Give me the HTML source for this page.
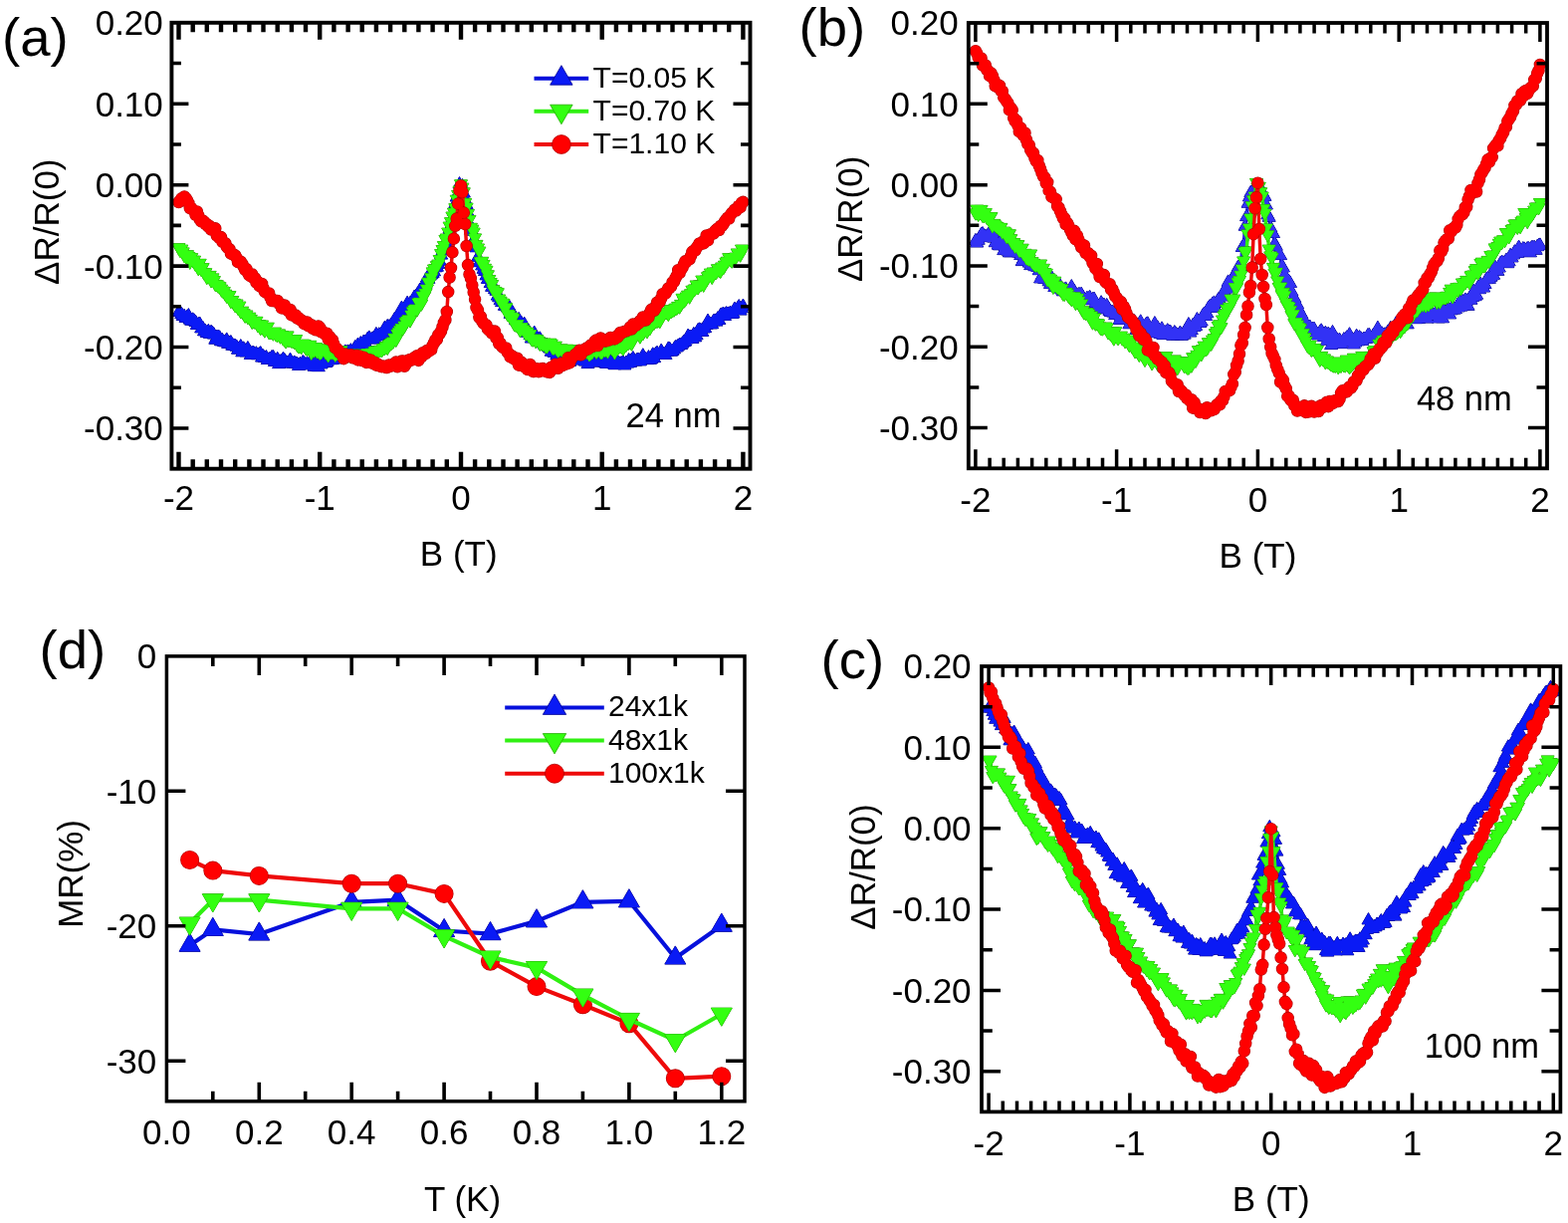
<!DOCTYPE html>
<html><head><meta charset="utf-8"><title>Figure</title><style>html,body{margin:0;padding:0;background:#fff;overflow:hidden}svg{display:block}</style></head><body>
<svg width="1575" height="1228" viewBox="0 0 1575 1228" font-family="'Liberation Sans', Arial, Helvetica, sans-serif">
<rect width="1575" height="1228" fill="#fff"/>
<path d="M179.5 313.5L180.9 313.8L182.3 315.7L183.7 317.7L185.2 317.8L186.6 319.6L188.0 318.6L189.4 317.1L190.8 321.3L192.2 322.4L193.7 321.3L195.1 322.5L196.5 323.8L197.9 326.6L199.3 325.9L200.7 325.5L202.2 330.1L203.6 329.5L205.0 333.0L206.4 332.8L207.8 334.7L209.3 332.8L210.7 335.5L212.1 333.7L213.5 334.8L214.9 336.3L216.3 341.4L217.8 338.7L219.2 338.7L220.6 339.2L222.0 343.0L223.4 341.9L224.8 343.6L226.3 344.0L227.7 341.4L229.1 345.5L230.5 344.9L231.9 344.0L233.3 347.4L234.8 347.3L236.2 347.6L237.6 348.4L239.0 351.4L240.4 349.8L241.8 348.1L243.3 354.0L244.7 350.3L246.1 352.2L247.5 354.1L248.9 350.0L250.4 352.7L251.8 356.7L253.2 354.9L254.6 354.5L256.0 356.3L257.4 355.2L258.9 357.0L260.3 356.1L261.7 355.1L263.1 359.3L264.5 358.1L265.9 359.7L267.4 359.0L268.8 361.8L270.2 361.0L271.6 360.7L273.0 359.0L274.4 358.9L275.9 363.7L277.3 363.0L278.7 360.7L280.1 365.8L281.5 363.3L283.0 362.9L284.4 360.8L285.8 362.1L287.2 364.2L288.6 364.5L290.0 364.5L291.5 361.6L292.9 365.3L294.3 365.3L295.7 364.4L297.1 365.4L298.5 365.7L300.0 367.6L301.4 365.8L302.8 366.7L304.2 364.0L305.6 365.1L307.0 366.5L308.5 365.3L309.9 367.2L311.3 364.6L312.7 366.4L314.1 365.2L315.5 368.4L317.0 365.2L318.4 368.6L319.8 368.9L321.2 365.4L322.6 366.1L324.1 363.8L325.5 359.7L326.9 364.8L328.3 364.0L329.7 362.1L331.1 361.2L332.6 361.9L334.0 361.5L335.4 359.3L336.8 359.0L338.2 361.2L339.6 358.9L341.1 358.0L342.5 359.2L343.9 356.2L345.3 357.4L346.7 353.4L348.1 354.0L349.6 353.4L351.0 353.9L352.4 352.2L353.8 354.8L355.2 352.4L356.7 349.0L358.1 352.6L359.5 346.5L360.9 350.4L362.3 345.1L363.7 347.3L365.2 343.6L366.6 344.0L368.0 346.3L369.4 340.5L370.8 339.4L372.2 341.3L373.7 340.9L375.1 339.9L376.5 340.5L377.9 335.9L379.3 338.0L380.7 336.2L382.2 336.6L383.6 335.3L385.0 335.4L386.4 329.7L387.8 331.1L389.2 327.9L390.7 328.4L392.1 328.1L393.5 325.6L394.9 324.1L396.3 321.1L397.8 319.8L399.2 317.8L400.6 318.0L402.0 315.5L403.4 309.6L404.8 312.4L406.3 311.7L407.7 307.9L409.1 304.7L410.5 308.5L411.9 304.9L413.3 304.2L414.8 304.7L416.2 298.6L417.6 298.2L419.0 296.2L420.4 295.7L421.8 291.5L423.3 291.2L424.7 288.3L426.1 287.9L427.5 286.0L428.9 279.3L430.4 280.5L431.8 277.2L433.2 275.9L434.6 274.8L436.0 273.1L437.4 269.0L438.9 268.4L440.3 265.6L441.7 262.4L443.1 256.3L444.5 252.1L445.9 247.6L447.4 245.2L448.8 242.8L450.2 234.6L451.6 230.0L453.0 226.7L454.4 219.5L455.9 212.3L457.3 204.7L458.7 198.2L460.1 194.0L461.5 185.1L463.0 187.9L464.4 187.0L465.8 194.2L467.2 200.9L468.6 205.8L470.0 213.7L471.5 224.6L472.9 231.3L474.3 232.4L475.7 241.5L477.1 245.3L478.5 249.0L480.0 258.5L481.4 263.9L482.8 263.4L484.2 267.1L485.6 270.6L487.0 272.8L488.5 277.0L489.9 280.7L491.3 280.7L492.7 284.7L494.1 288.5L495.5 287.2L497.0 290.8L498.4 292.4L499.8 297.3L501.2 299.0L502.6 301.9L504.1 303.8L505.5 303.8L506.9 307.5L508.3 307.2L509.7 309.0L511.1 307.7L512.6 315.5L514.0 313.1L515.4 316.4L516.8 317.8L518.2 321.9L519.6 321.6L521.1 320.9L522.5 323.8L523.9 324.9L525.3 327.0L526.7 325.7L528.1 329.2L529.6 334.4L531.0 333.0L532.4 336.6L533.8 340.2L535.2 336.6L536.7 334.6L538.1 338.3L539.5 341.8L540.9 342.7L542.3 340.3L543.7 343.3L545.2 344.8L546.6 346.2L548.0 347.2L549.4 347.0L550.8 348.5L552.2 350.2L553.7 353.4L555.1 351.5L556.5 354.5L557.9 352.0L559.3 356.9L560.7 355.4L562.2 355.7L563.6 358.6L565.0 353.6L566.4 354.6L567.8 358.5L569.2 356.7L570.7 357.8L572.1 363.6L573.5 358.9L574.9 359.8L576.3 359.9L577.8 362.3L579.2 361.1L580.6 361.3L582.0 359.1L583.4 360.9L584.8 361.7L586.3 359.2L587.7 363.2L589.1 363.1L590.5 365.8L591.9 359.9L593.3 361.2L594.8 361.4L596.2 362.0L597.6 363.2L599.0 363.2L600.4 364.2L601.8 364.2L603.3 363.9L604.7 361.4L606.1 363.3L607.5 364.5L608.9 365.5L610.4 365.7L611.8 361.8L613.2 363.8L614.6 364.7L616.0 365.5L617.4 366.9L618.9 365.0L620.3 363.3L621.7 365.6L623.1 365.2L624.5 365.1L625.9 364.3L627.4 367.2L628.8 364.5L630.2 365.4L631.6 362.0L633.0 364.7L634.4 362.0L635.9 360.0L637.3 363.0L638.7 363.2L640.1 361.5L641.5 361.6L642.9 363.1L644.4 360.3L645.8 357.2L647.2 361.0L648.6 360.6L650.0 361.8L651.5 359.1L652.9 361.5L654.3 360.9L655.7 356.3L657.1 359.9L658.5 355.9L660.0 354.7L661.4 356.5L662.8 355.5L664.2 352.5L665.6 355.8L667.0 356.0L668.5 356.7L669.9 353.6L671.3 350.4L672.7 350.7L674.1 353.4L675.5 352.5L677.0 351.1L678.4 349.0L679.8 349.1L681.2 347.5L682.6 346.5L684.1 346.7L685.5 345.2L686.9 343.8L688.3 343.2L689.7 341.1L691.1 337.6L692.6 338.8L694.0 338.6L695.4 340.7L696.8 335.9L698.2 339.0L699.6 337.1L701.1 332.0L702.5 331.3L703.9 331.8L705.3 333.6L706.7 330.2L708.1 329.8L709.6 326.5L711.0 322.6L712.4 325.3L713.8 326.1L715.2 325.9L716.6 323.0L718.1 322.4L719.5 323.3L720.9 320.2L722.3 321.7L723.7 316.9L725.2 316.2L726.6 315.5L728.0 317.6L729.4 315.1L730.8 315.6L732.2 315.3L733.7 314.6L735.1 315.6L736.5 315.2L737.9 310.5L739.3 311.6L740.7 310.2L742.2 308.1L743.6 312.3L745.0 309.9L746.4 307.5" stroke="#0610dc" stroke-width="3.5" fill="none" stroke-linejoin="round"/>
<path d="M179.5 306.0l6.5 11.3h-13.0zM180.9 306.3l6.5 11.3h-13.0zM182.3 308.2l6.5 11.3h-13.0zM183.7 310.2l6.5 11.3h-13.0zM185.2 310.3l6.5 11.3h-13.0zM186.6 312.1l6.5 11.3h-13.0zM188.0 311.1l6.5 11.3h-13.0zM189.4 309.6l6.5 11.3h-13.0zM190.8 313.8l6.5 11.3h-13.0zM192.2 314.9l6.5 11.3h-13.0zM193.7 313.8l6.5 11.3h-13.0zM195.1 314.9l6.5 11.3h-13.0zM196.5 316.3l6.5 11.3h-13.0zM197.9 319.1l6.5 11.3h-13.0zM199.3 318.4l6.5 11.3h-13.0zM200.7 318.0l6.5 11.3h-13.0zM202.2 322.6l6.5 11.3h-13.0zM203.6 322.0l6.5 11.3h-13.0zM205.0 325.5l6.5 11.3h-13.0zM206.4 325.3l6.5 11.3h-13.0zM207.8 327.2l6.5 11.3h-13.0zM209.3 325.3l6.5 11.3h-13.0zM210.7 328.0l6.5 11.3h-13.0zM212.1 326.2l6.5 11.3h-13.0zM213.5 327.3l6.5 11.3h-13.0zM214.9 328.8l6.5 11.3h-13.0zM216.3 333.9l6.5 11.3h-13.0zM217.8 331.2l6.5 11.3h-13.0zM219.2 331.1l6.5 11.3h-13.0zM220.6 331.7l6.5 11.3h-13.0zM222.0 335.5l6.5 11.3h-13.0zM223.4 334.4l6.5 11.3h-13.0zM224.8 336.0l6.5 11.3h-13.0zM226.3 336.5l6.5 11.3h-13.0zM227.7 333.9l6.5 11.3h-13.0zM229.1 338.0l6.5 11.3h-13.0zM230.5 337.4l6.5 11.3h-13.0zM231.9 336.5l6.5 11.3h-13.0zM233.3 339.9l6.5 11.3h-13.0zM234.8 339.8l6.5 11.3h-13.0zM236.2 340.1l6.5 11.3h-13.0zM237.6 340.9l6.5 11.3h-13.0zM239.0 343.9l6.5 11.3h-13.0zM240.4 342.3l6.5 11.3h-13.0zM241.8 340.6l6.5 11.3h-13.0zM243.3 346.5l6.5 11.3h-13.0zM244.7 342.8l6.5 11.3h-13.0zM246.1 344.7l6.5 11.3h-13.0zM247.5 346.6l6.5 11.3h-13.0zM248.9 342.5l6.5 11.3h-13.0zM250.4 345.2l6.5 11.3h-13.0zM251.8 349.2l6.5 11.3h-13.0zM253.2 347.4l6.5 11.3h-13.0zM254.6 347.0l6.5 11.3h-13.0zM256.0 348.8l6.5 11.3h-13.0zM257.4 347.7l6.5 11.3h-13.0zM258.9 349.5l6.5 11.3h-13.0zM260.3 348.6l6.5 11.3h-13.0zM261.7 347.6l6.5 11.3h-13.0zM263.1 351.8l6.5 11.3h-13.0zM264.5 350.6l6.5 11.3h-13.0zM265.9 352.2l6.5 11.3h-13.0zM267.4 351.5l6.5 11.3h-13.0zM268.8 354.2l6.5 11.3h-13.0zM270.2 353.5l6.5 11.3h-13.0zM271.6 353.2l6.5 11.3h-13.0zM273.0 351.5l6.5 11.3h-13.0zM274.4 351.4l6.5 11.3h-13.0zM275.9 356.1l6.5 11.3h-13.0zM277.3 355.5l6.5 11.3h-13.0zM278.7 353.2l6.5 11.3h-13.0zM280.1 358.3l6.5 11.3h-13.0zM281.5 355.8l6.5 11.3h-13.0zM283.0 355.4l6.5 11.3h-13.0zM284.4 353.3l6.5 11.3h-13.0zM285.8 354.6l6.5 11.3h-13.0zM287.2 356.7l6.5 11.3h-13.0zM288.6 357.0l6.5 11.3h-13.0zM290.0 357.0l6.5 11.3h-13.0zM291.5 354.1l6.5 11.3h-13.0zM292.9 357.8l6.5 11.3h-13.0zM294.3 357.8l6.5 11.3h-13.0zM295.7 356.9l6.5 11.3h-13.0zM297.1 357.9l6.5 11.3h-13.0zM298.5 358.2l6.5 11.3h-13.0zM300.0 360.1l6.5 11.3h-13.0zM301.4 358.3l6.5 11.3h-13.0zM302.8 359.2l6.5 11.3h-13.0zM304.2 356.5l6.5 11.3h-13.0zM305.6 357.6l6.5 11.3h-13.0zM307.0 359.0l6.5 11.3h-13.0zM308.5 357.8l6.5 11.3h-13.0zM309.9 359.6l6.5 11.3h-13.0zM311.3 357.1l6.5 11.3h-13.0zM312.7 358.9l6.5 11.3h-13.0zM314.1 357.7l6.5 11.3h-13.0zM315.5 360.9l6.5 11.3h-13.0zM317.0 357.7l6.5 11.3h-13.0zM318.4 361.1l6.5 11.3h-13.0zM319.8 361.4l6.5 11.3h-13.0zM321.2 357.9l6.5 11.3h-13.0zM322.6 358.6l6.5 11.3h-13.0zM324.1 356.3l6.5 11.3h-13.0zM325.5 352.2l6.5 11.3h-13.0zM326.9 357.3l6.5 11.3h-13.0zM328.3 356.5l6.5 11.3h-13.0zM329.7 354.6l6.5 11.3h-13.0zM331.1 353.7l6.5 11.3h-13.0zM332.6 354.4l6.5 11.3h-13.0zM334.0 354.0l6.5 11.3h-13.0zM335.4 351.8l6.5 11.3h-13.0zM336.8 351.5l6.5 11.3h-13.0zM338.2 353.7l6.5 11.3h-13.0zM339.6 351.4l6.5 11.3h-13.0zM341.1 350.5l6.5 11.3h-13.0zM342.5 351.7l6.5 11.3h-13.0zM343.9 348.7l6.5 11.3h-13.0zM345.3 349.9l6.5 11.3h-13.0zM346.7 345.9l6.5 11.3h-13.0zM348.1 346.5l6.5 11.3h-13.0zM349.6 345.9l6.5 11.3h-13.0zM351.0 346.4l6.5 11.3h-13.0zM352.4 344.7l6.5 11.3h-13.0zM353.8 347.3l6.5 11.3h-13.0zM355.2 344.9l6.5 11.3h-13.0zM356.7 341.5l6.5 11.3h-13.0zM358.1 345.1l6.5 11.3h-13.0zM359.5 339.0l6.5 11.3h-13.0zM360.9 342.9l6.5 11.3h-13.0zM362.3 337.6l6.5 11.3h-13.0zM363.7 339.8l6.5 11.3h-13.0zM365.2 336.1l6.5 11.3h-13.0zM366.6 336.5l6.5 11.3h-13.0zM368.0 338.7l6.5 11.3h-13.0zM369.4 333.0l6.5 11.3h-13.0zM370.8 331.9l6.5 11.3h-13.0zM372.2 333.8l6.5 11.3h-13.0zM373.7 333.4l6.5 11.3h-13.0zM375.1 332.4l6.5 11.3h-13.0zM376.5 333.0l6.5 11.3h-13.0zM377.9 328.4l6.5 11.3h-13.0zM379.3 330.5l6.5 11.3h-13.0zM380.7 328.7l6.5 11.3h-13.0zM382.2 329.0l6.5 11.3h-13.0zM383.6 327.7l6.5 11.3h-13.0zM385.0 327.9l6.5 11.3h-13.0zM386.4 322.2l6.5 11.3h-13.0zM387.8 323.6l6.5 11.3h-13.0zM389.2 320.4l6.5 11.3h-13.0zM390.7 320.8l6.5 11.3h-13.0zM392.1 320.6l6.5 11.3h-13.0zM393.5 318.1l6.5 11.3h-13.0zM394.9 316.6l6.5 11.3h-13.0zM396.3 313.6l6.5 11.3h-13.0zM397.8 312.3l6.5 11.3h-13.0zM399.2 310.3l6.5 11.3h-13.0zM400.6 310.5l6.5 11.3h-13.0zM402.0 308.0l6.5 11.3h-13.0zM403.4 302.1l6.5 11.3h-13.0zM404.8 304.9l6.5 11.3h-13.0zM406.3 304.2l6.5 11.3h-13.0zM407.7 300.4l6.5 11.3h-13.0zM409.1 297.2l6.5 11.3h-13.0zM410.5 301.0l6.5 11.3h-13.0zM411.9 297.4l6.5 11.3h-13.0zM413.3 296.7l6.5 11.3h-13.0zM414.8 297.2l6.5 11.3h-13.0zM416.2 291.1l6.5 11.3h-13.0zM417.6 290.7l6.5 11.3h-13.0zM419.0 288.7l6.5 11.3h-13.0zM420.4 288.2l6.5 11.3h-13.0zM421.8 284.0l6.5 11.3h-13.0zM423.3 283.7l6.5 11.3h-13.0zM424.7 280.8l6.5 11.3h-13.0zM426.1 280.4l6.5 11.3h-13.0zM427.5 278.5l6.5 11.3h-13.0zM428.9 271.8l6.5 11.3h-13.0zM430.4 273.0l6.5 11.3h-13.0zM431.8 269.7l6.5 11.3h-13.0zM433.2 268.4l6.5 11.3h-13.0zM434.6 267.3l6.5 11.3h-13.0zM436.0 265.5l6.5 11.3h-13.0zM437.4 261.5l6.5 11.3h-13.0zM438.9 260.9l6.5 11.3h-13.0zM440.3 258.1l6.5 11.3h-13.0zM441.7 254.9l6.5 11.3h-13.0zM443.1 248.8l6.5 11.3h-13.0zM444.5 244.6l6.5 11.3h-13.0zM445.9 240.1l6.5 11.3h-13.0zM447.4 237.7l6.5 11.3h-13.0zM448.8 235.3l6.5 11.3h-13.0zM450.2 227.1l6.5 11.3h-13.0zM451.6 222.5l6.5 11.3h-13.0zM453.0 219.2l6.5 11.3h-13.0zM454.4 212.0l6.5 11.3h-13.0zM455.9 204.8l6.5 11.3h-13.0zM457.3 197.2l6.5 11.3h-13.0zM458.7 190.7l6.5 11.3h-13.0zM460.1 186.5l6.5 11.3h-13.0zM461.5 177.6l6.5 11.3h-13.0zM463.0 180.4l6.5 11.3h-13.0zM464.4 179.5l6.5 11.3h-13.0zM465.8 186.7l6.5 11.3h-13.0zM467.2 193.4l6.5 11.3h-13.0zM468.6 198.3l6.5 11.3h-13.0zM470.0 206.2l6.5 11.3h-13.0zM471.5 217.1l6.5 11.3h-13.0zM472.9 223.8l6.5 11.3h-13.0zM474.3 224.9l6.5 11.3h-13.0zM475.7 234.0l6.5 11.3h-13.0zM477.1 237.8l6.5 11.3h-13.0zM478.5 241.5l6.5 11.3h-13.0zM480.0 251.0l6.5 11.3h-13.0zM481.4 256.4l6.5 11.3h-13.0zM482.8 255.9l6.5 11.3h-13.0zM484.2 259.6l6.5 11.3h-13.0zM485.6 263.0l6.5 11.3h-13.0zM487.0 265.3l6.5 11.3h-13.0zM488.5 269.5l6.5 11.3h-13.0zM489.9 273.1l6.5 11.3h-13.0zM491.3 273.2l6.5 11.3h-13.0zM492.7 277.2l6.5 11.3h-13.0zM494.1 281.0l6.5 11.3h-13.0zM495.5 279.7l6.5 11.3h-13.0zM497.0 283.2l6.5 11.3h-13.0zM498.4 284.9l6.5 11.3h-13.0zM499.8 289.8l6.5 11.3h-13.0zM501.2 291.5l6.5 11.3h-13.0zM502.6 294.4l6.5 11.3h-13.0zM504.1 296.3l6.5 11.3h-13.0zM505.5 296.3l6.5 11.3h-13.0zM506.9 300.0l6.5 11.3h-13.0zM508.3 299.7l6.5 11.3h-13.0zM509.7 301.5l6.5 11.3h-13.0zM511.1 300.2l6.5 11.3h-13.0zM512.6 308.0l6.5 11.3h-13.0zM514.0 305.6l6.5 11.3h-13.0zM515.4 308.9l6.5 11.3h-13.0zM516.8 310.3l6.5 11.3h-13.0zM518.2 314.4l6.5 11.3h-13.0zM519.6 314.1l6.5 11.3h-13.0zM521.1 313.4l6.5 11.3h-13.0zM522.5 316.3l6.5 11.3h-13.0zM523.9 317.4l6.5 11.3h-13.0zM525.3 319.5l6.5 11.3h-13.0zM526.7 318.2l6.5 11.3h-13.0zM528.1 321.7l6.5 11.3h-13.0zM529.6 326.9l6.5 11.3h-13.0zM531.0 325.5l6.5 11.3h-13.0zM532.4 329.1l6.5 11.3h-13.0zM533.8 332.7l6.5 11.3h-13.0zM535.2 329.1l6.5 11.3h-13.0zM536.7 327.1l6.5 11.3h-13.0zM538.1 330.8l6.5 11.3h-13.0zM539.5 334.3l6.5 11.3h-13.0zM540.9 335.2l6.5 11.3h-13.0zM542.3 332.8l6.5 11.3h-13.0zM543.7 335.8l6.5 11.3h-13.0zM545.2 337.3l6.5 11.3h-13.0zM546.6 338.7l6.5 11.3h-13.0zM548.0 339.7l6.5 11.3h-13.0zM549.4 339.5l6.5 11.3h-13.0zM550.8 341.0l6.5 11.3h-13.0zM552.2 342.7l6.5 11.3h-13.0zM553.7 345.9l6.5 11.3h-13.0zM555.1 344.0l6.5 11.3h-13.0zM556.5 347.0l6.5 11.3h-13.0zM557.9 344.5l6.5 11.3h-13.0zM559.3 349.4l6.5 11.3h-13.0zM560.7 347.9l6.5 11.3h-13.0zM562.2 348.2l6.5 11.3h-13.0zM563.6 351.1l6.5 11.3h-13.0zM565.0 346.1l6.5 11.3h-13.0zM566.4 347.1l6.5 11.3h-13.0zM567.8 351.0l6.5 11.3h-13.0zM569.2 349.2l6.5 11.3h-13.0zM570.7 350.3l6.5 11.3h-13.0zM572.1 356.1l6.5 11.3h-13.0zM573.5 351.3l6.5 11.3h-13.0zM574.9 352.3l6.5 11.3h-13.0zM576.3 352.4l6.5 11.3h-13.0zM577.8 354.8l6.5 11.3h-13.0zM579.2 353.6l6.5 11.3h-13.0zM580.6 353.8l6.5 11.3h-13.0zM582.0 351.6l6.5 11.3h-13.0zM583.4 353.4l6.5 11.3h-13.0zM584.8 354.2l6.5 11.3h-13.0zM586.3 351.7l6.5 11.3h-13.0zM587.7 355.7l6.5 11.3h-13.0zM589.1 355.5l6.5 11.3h-13.0zM590.5 358.3l6.5 11.3h-13.0zM591.9 352.4l6.5 11.3h-13.0zM593.3 353.6l6.5 11.3h-13.0zM594.8 353.9l6.5 11.3h-13.0zM596.2 354.5l6.5 11.3h-13.0zM597.6 355.7l6.5 11.3h-13.0zM599.0 355.7l6.5 11.3h-13.0zM600.4 356.6l6.5 11.3h-13.0zM601.8 356.7l6.5 11.3h-13.0zM603.3 356.4l6.5 11.3h-13.0zM604.7 353.9l6.5 11.3h-13.0zM606.1 355.8l6.5 11.3h-13.0zM607.5 357.0l6.5 11.3h-13.0zM608.9 358.0l6.5 11.3h-13.0zM610.4 358.2l6.5 11.3h-13.0zM611.8 354.3l6.5 11.3h-13.0zM613.2 356.3l6.5 11.3h-13.0zM614.6 357.2l6.5 11.3h-13.0zM616.0 358.0l6.5 11.3h-13.0zM617.4 359.4l6.5 11.3h-13.0zM618.9 357.5l6.5 11.3h-13.0zM620.3 355.8l6.5 11.3h-13.0zM621.7 358.1l6.5 11.3h-13.0zM623.1 357.7l6.5 11.3h-13.0zM624.5 357.6l6.5 11.3h-13.0zM625.9 356.8l6.5 11.3h-13.0zM627.4 359.6l6.5 11.3h-13.0zM628.8 357.0l6.5 11.3h-13.0zM630.2 357.8l6.5 11.3h-13.0zM631.6 354.5l6.5 11.3h-13.0zM633.0 357.1l6.5 11.3h-13.0zM634.4 354.4l6.5 11.3h-13.0zM635.9 352.5l6.5 11.3h-13.0zM637.3 355.5l6.5 11.3h-13.0zM638.7 355.7l6.5 11.3h-13.0zM640.1 354.0l6.5 11.3h-13.0zM641.5 354.1l6.5 11.3h-13.0zM642.9 355.6l6.5 11.3h-13.0zM644.4 352.8l6.5 11.3h-13.0zM645.8 349.7l6.5 11.3h-13.0zM647.2 353.5l6.5 11.3h-13.0zM648.6 353.1l6.5 11.3h-13.0zM650.0 354.3l6.5 11.3h-13.0zM651.5 351.6l6.5 11.3h-13.0zM652.9 354.0l6.5 11.3h-13.0zM654.3 353.4l6.5 11.3h-13.0zM655.7 348.8l6.5 11.3h-13.0zM657.1 352.3l6.5 11.3h-13.0zM658.5 348.4l6.5 11.3h-13.0zM660.0 347.2l6.5 11.3h-13.0zM661.4 349.0l6.5 11.3h-13.0zM662.8 348.0l6.5 11.3h-13.0zM664.2 345.0l6.5 11.3h-13.0zM665.6 348.3l6.5 11.3h-13.0zM667.0 348.5l6.5 11.3h-13.0zM668.5 349.2l6.5 11.3h-13.0zM669.9 346.1l6.5 11.3h-13.0zM671.3 342.9l6.5 11.3h-13.0zM672.7 343.2l6.5 11.3h-13.0zM674.1 345.9l6.5 11.3h-13.0zM675.5 345.0l6.5 11.3h-13.0zM677.0 343.6l6.5 11.3h-13.0zM678.4 341.5l6.5 11.3h-13.0zM679.8 341.6l6.5 11.3h-13.0zM681.2 340.0l6.5 11.3h-13.0zM682.6 339.0l6.5 11.3h-13.0zM684.1 339.2l6.5 11.3h-13.0zM685.5 337.7l6.5 11.3h-13.0zM686.9 336.3l6.5 11.3h-13.0zM688.3 335.7l6.5 11.3h-13.0zM689.7 333.6l6.5 11.3h-13.0zM691.1 330.1l6.5 11.3h-13.0zM692.6 331.3l6.5 11.3h-13.0zM694.0 331.1l6.5 11.3h-13.0zM695.4 333.2l6.5 11.3h-13.0zM696.8 328.4l6.5 11.3h-13.0zM698.2 331.5l6.5 11.3h-13.0zM699.6 329.5l6.5 11.3h-13.0zM701.1 324.5l6.5 11.3h-13.0zM702.5 323.8l6.5 11.3h-13.0zM703.9 324.3l6.5 11.3h-13.0zM705.3 326.1l6.5 11.3h-13.0zM706.7 322.7l6.5 11.3h-13.0zM708.1 322.3l6.5 11.3h-13.0zM709.6 319.0l6.5 11.3h-13.0zM711.0 315.1l6.5 11.3h-13.0zM712.4 317.8l6.5 11.3h-13.0zM713.8 318.6l6.5 11.3h-13.0zM715.2 318.4l6.5 11.3h-13.0zM716.6 315.5l6.5 11.3h-13.0zM718.1 314.9l6.5 11.3h-13.0zM719.5 315.8l6.5 11.3h-13.0zM720.9 312.7l6.5 11.3h-13.0zM722.3 314.2l6.5 11.3h-13.0zM723.7 309.4l6.5 11.3h-13.0zM725.2 308.7l6.5 11.3h-13.0zM726.6 308.0l6.5 11.3h-13.0zM728.0 310.1l6.5 11.3h-13.0zM729.4 307.6l6.5 11.3h-13.0zM730.8 308.1l6.5 11.3h-13.0zM732.2 307.8l6.5 11.3h-13.0zM733.7 307.1l6.5 11.3h-13.0zM735.1 308.1l6.5 11.3h-13.0zM736.5 307.7l6.5 11.3h-13.0zM737.9 303.0l6.5 11.3h-13.0zM739.3 304.1l6.5 11.3h-13.0zM740.7 302.7l6.5 11.3h-13.0zM742.2 300.6l6.5 11.3h-13.0zM743.6 304.8l6.5 11.3h-13.0zM745.0 302.4l6.5 11.3h-13.0zM746.4 300.0l6.5 11.3h-13.0z" fill="#000090" stroke="#000090" stroke-width="1.0" stroke-linejoin="miter"/>
<path d="M179.5 306.0l6.5 11.3h-13.0zM180.9 306.3l6.5 11.3h-13.0zM182.3 308.2l6.5 11.3h-13.0zM183.7 310.2l6.5 11.3h-13.0zM185.2 310.3l6.5 11.3h-13.0zM186.6 312.1l6.5 11.3h-13.0zM188.0 311.1l6.5 11.3h-13.0zM189.4 309.6l6.5 11.3h-13.0zM190.8 313.8l6.5 11.3h-13.0zM192.2 314.9l6.5 11.3h-13.0zM193.7 313.8l6.5 11.3h-13.0zM195.1 314.9l6.5 11.3h-13.0zM196.5 316.3l6.5 11.3h-13.0zM197.9 319.1l6.5 11.3h-13.0zM199.3 318.4l6.5 11.3h-13.0zM200.7 318.0l6.5 11.3h-13.0zM202.2 322.6l6.5 11.3h-13.0zM203.6 322.0l6.5 11.3h-13.0zM205.0 325.5l6.5 11.3h-13.0zM206.4 325.3l6.5 11.3h-13.0zM207.8 327.2l6.5 11.3h-13.0zM209.3 325.3l6.5 11.3h-13.0zM210.7 328.0l6.5 11.3h-13.0zM212.1 326.2l6.5 11.3h-13.0zM213.5 327.3l6.5 11.3h-13.0zM214.9 328.8l6.5 11.3h-13.0zM216.3 333.9l6.5 11.3h-13.0zM217.8 331.2l6.5 11.3h-13.0zM219.2 331.1l6.5 11.3h-13.0zM220.6 331.7l6.5 11.3h-13.0zM222.0 335.5l6.5 11.3h-13.0zM223.4 334.4l6.5 11.3h-13.0zM224.8 336.0l6.5 11.3h-13.0zM226.3 336.5l6.5 11.3h-13.0zM227.7 333.9l6.5 11.3h-13.0zM229.1 338.0l6.5 11.3h-13.0zM230.5 337.4l6.5 11.3h-13.0zM231.9 336.5l6.5 11.3h-13.0zM233.3 339.9l6.5 11.3h-13.0zM234.8 339.8l6.5 11.3h-13.0zM236.2 340.1l6.5 11.3h-13.0zM237.6 340.9l6.5 11.3h-13.0zM239.0 343.9l6.5 11.3h-13.0zM240.4 342.3l6.5 11.3h-13.0zM241.8 340.6l6.5 11.3h-13.0zM243.3 346.5l6.5 11.3h-13.0zM244.7 342.8l6.5 11.3h-13.0zM246.1 344.7l6.5 11.3h-13.0zM247.5 346.6l6.5 11.3h-13.0zM248.9 342.5l6.5 11.3h-13.0zM250.4 345.2l6.5 11.3h-13.0zM251.8 349.2l6.5 11.3h-13.0zM253.2 347.4l6.5 11.3h-13.0zM254.6 347.0l6.5 11.3h-13.0zM256.0 348.8l6.5 11.3h-13.0zM257.4 347.7l6.5 11.3h-13.0zM258.9 349.5l6.5 11.3h-13.0zM260.3 348.6l6.5 11.3h-13.0zM261.7 347.6l6.5 11.3h-13.0zM263.1 351.8l6.5 11.3h-13.0zM264.5 350.6l6.5 11.3h-13.0zM265.9 352.2l6.5 11.3h-13.0zM267.4 351.5l6.5 11.3h-13.0zM268.8 354.2l6.5 11.3h-13.0zM270.2 353.5l6.5 11.3h-13.0zM271.6 353.2l6.5 11.3h-13.0zM273.0 351.5l6.5 11.3h-13.0zM274.4 351.4l6.5 11.3h-13.0zM275.9 356.1l6.5 11.3h-13.0zM277.3 355.5l6.5 11.3h-13.0zM278.7 353.2l6.5 11.3h-13.0zM280.1 358.3l6.5 11.3h-13.0zM281.5 355.8l6.5 11.3h-13.0zM283.0 355.4l6.5 11.3h-13.0zM284.4 353.3l6.5 11.3h-13.0zM285.8 354.6l6.5 11.3h-13.0zM287.2 356.7l6.5 11.3h-13.0zM288.6 357.0l6.5 11.3h-13.0zM290.0 357.0l6.5 11.3h-13.0zM291.5 354.1l6.5 11.3h-13.0zM292.9 357.8l6.5 11.3h-13.0zM294.3 357.8l6.5 11.3h-13.0zM295.7 356.9l6.5 11.3h-13.0zM297.1 357.9l6.5 11.3h-13.0zM298.5 358.2l6.5 11.3h-13.0zM300.0 360.1l6.5 11.3h-13.0zM301.4 358.3l6.5 11.3h-13.0zM302.8 359.2l6.5 11.3h-13.0zM304.2 356.5l6.5 11.3h-13.0zM305.6 357.6l6.5 11.3h-13.0zM307.0 359.0l6.5 11.3h-13.0zM308.5 357.8l6.5 11.3h-13.0zM309.9 359.6l6.5 11.3h-13.0zM311.3 357.1l6.5 11.3h-13.0zM312.7 358.9l6.5 11.3h-13.0zM314.1 357.7l6.5 11.3h-13.0zM315.5 360.9l6.5 11.3h-13.0zM317.0 357.7l6.5 11.3h-13.0zM318.4 361.1l6.5 11.3h-13.0zM319.8 361.4l6.5 11.3h-13.0zM321.2 357.9l6.5 11.3h-13.0zM322.6 358.6l6.5 11.3h-13.0zM324.1 356.3l6.5 11.3h-13.0zM325.5 352.2l6.5 11.3h-13.0zM326.9 357.3l6.5 11.3h-13.0zM328.3 356.5l6.5 11.3h-13.0zM329.7 354.6l6.5 11.3h-13.0zM331.1 353.7l6.5 11.3h-13.0zM332.6 354.4l6.5 11.3h-13.0zM334.0 354.0l6.5 11.3h-13.0zM335.4 351.8l6.5 11.3h-13.0zM336.8 351.5l6.5 11.3h-13.0zM338.2 353.7l6.5 11.3h-13.0zM339.6 351.4l6.5 11.3h-13.0zM341.1 350.5l6.5 11.3h-13.0zM342.5 351.7l6.5 11.3h-13.0zM343.9 348.7l6.5 11.3h-13.0zM345.3 349.9l6.5 11.3h-13.0zM346.7 345.9l6.5 11.3h-13.0zM348.1 346.5l6.5 11.3h-13.0zM349.6 345.9l6.5 11.3h-13.0zM351.0 346.4l6.5 11.3h-13.0zM352.4 344.7l6.5 11.3h-13.0zM353.8 347.3l6.5 11.3h-13.0zM355.2 344.9l6.5 11.3h-13.0zM356.7 341.5l6.5 11.3h-13.0zM358.1 345.1l6.5 11.3h-13.0zM359.5 339.0l6.5 11.3h-13.0zM360.9 342.9l6.5 11.3h-13.0zM362.3 337.6l6.5 11.3h-13.0zM363.7 339.8l6.5 11.3h-13.0zM365.2 336.1l6.5 11.3h-13.0zM366.6 336.5l6.5 11.3h-13.0zM368.0 338.7l6.5 11.3h-13.0zM369.4 333.0l6.5 11.3h-13.0zM370.8 331.9l6.5 11.3h-13.0zM372.2 333.8l6.5 11.3h-13.0zM373.7 333.4l6.5 11.3h-13.0zM375.1 332.4l6.5 11.3h-13.0zM376.5 333.0l6.5 11.3h-13.0zM377.9 328.4l6.5 11.3h-13.0zM379.3 330.5l6.5 11.3h-13.0zM380.7 328.7l6.5 11.3h-13.0zM382.2 329.0l6.5 11.3h-13.0zM383.6 327.7l6.5 11.3h-13.0zM385.0 327.9l6.5 11.3h-13.0zM386.4 322.2l6.5 11.3h-13.0zM387.8 323.6l6.5 11.3h-13.0zM389.2 320.4l6.5 11.3h-13.0zM390.7 320.8l6.5 11.3h-13.0zM392.1 320.6l6.5 11.3h-13.0zM393.5 318.1l6.5 11.3h-13.0zM394.9 316.6l6.5 11.3h-13.0zM396.3 313.6l6.5 11.3h-13.0zM397.8 312.3l6.5 11.3h-13.0zM399.2 310.3l6.5 11.3h-13.0zM400.6 310.5l6.5 11.3h-13.0zM402.0 308.0l6.5 11.3h-13.0zM403.4 302.1l6.5 11.3h-13.0zM404.8 304.9l6.5 11.3h-13.0zM406.3 304.2l6.5 11.3h-13.0zM407.7 300.4l6.5 11.3h-13.0zM409.1 297.2l6.5 11.3h-13.0zM410.5 301.0l6.5 11.3h-13.0zM411.9 297.4l6.5 11.3h-13.0zM413.3 296.7l6.5 11.3h-13.0zM414.8 297.2l6.5 11.3h-13.0zM416.2 291.1l6.5 11.3h-13.0zM417.6 290.7l6.5 11.3h-13.0zM419.0 288.7l6.5 11.3h-13.0zM420.4 288.2l6.5 11.3h-13.0zM421.8 284.0l6.5 11.3h-13.0zM423.3 283.7l6.5 11.3h-13.0zM424.7 280.8l6.5 11.3h-13.0zM426.1 280.4l6.5 11.3h-13.0zM427.5 278.5l6.5 11.3h-13.0zM428.9 271.8l6.5 11.3h-13.0zM430.4 273.0l6.5 11.3h-13.0zM431.8 269.7l6.5 11.3h-13.0zM433.2 268.4l6.5 11.3h-13.0zM434.6 267.3l6.5 11.3h-13.0zM436.0 265.5l6.5 11.3h-13.0zM437.4 261.5l6.5 11.3h-13.0zM438.9 260.9l6.5 11.3h-13.0zM440.3 258.1l6.5 11.3h-13.0zM441.7 254.9l6.5 11.3h-13.0zM443.1 248.8l6.5 11.3h-13.0zM444.5 244.6l6.5 11.3h-13.0zM445.9 240.1l6.5 11.3h-13.0zM447.4 237.7l6.5 11.3h-13.0zM448.8 235.3l6.5 11.3h-13.0zM450.2 227.1l6.5 11.3h-13.0zM451.6 222.5l6.5 11.3h-13.0zM453.0 219.2l6.5 11.3h-13.0zM454.4 212.0l6.5 11.3h-13.0zM455.9 204.8l6.5 11.3h-13.0zM457.3 197.2l6.5 11.3h-13.0zM458.7 190.7l6.5 11.3h-13.0zM460.1 186.5l6.5 11.3h-13.0zM461.5 177.6l6.5 11.3h-13.0zM463.0 180.4l6.5 11.3h-13.0zM464.4 179.5l6.5 11.3h-13.0zM465.8 186.7l6.5 11.3h-13.0zM467.2 193.4l6.5 11.3h-13.0zM468.6 198.3l6.5 11.3h-13.0zM470.0 206.2l6.5 11.3h-13.0zM471.5 217.1l6.5 11.3h-13.0zM472.9 223.8l6.5 11.3h-13.0zM474.3 224.9l6.5 11.3h-13.0zM475.7 234.0l6.5 11.3h-13.0zM477.1 237.8l6.5 11.3h-13.0zM478.5 241.5l6.5 11.3h-13.0zM480.0 251.0l6.5 11.3h-13.0zM481.4 256.4l6.5 11.3h-13.0zM482.8 255.9l6.5 11.3h-13.0zM484.2 259.6l6.5 11.3h-13.0zM485.6 263.0l6.5 11.3h-13.0zM487.0 265.3l6.5 11.3h-13.0zM488.5 269.5l6.5 11.3h-13.0zM489.9 273.1l6.5 11.3h-13.0zM491.3 273.2l6.5 11.3h-13.0zM492.7 277.2l6.5 11.3h-13.0zM494.1 281.0l6.5 11.3h-13.0zM495.5 279.7l6.5 11.3h-13.0zM497.0 283.2l6.5 11.3h-13.0zM498.4 284.9l6.5 11.3h-13.0zM499.8 289.8l6.5 11.3h-13.0zM501.2 291.5l6.5 11.3h-13.0zM502.6 294.4l6.5 11.3h-13.0zM504.1 296.3l6.5 11.3h-13.0zM505.5 296.3l6.5 11.3h-13.0zM506.9 300.0l6.5 11.3h-13.0zM508.3 299.7l6.5 11.3h-13.0zM509.7 301.5l6.5 11.3h-13.0zM511.1 300.2l6.5 11.3h-13.0zM512.6 308.0l6.5 11.3h-13.0zM514.0 305.6l6.5 11.3h-13.0zM515.4 308.9l6.5 11.3h-13.0zM516.8 310.3l6.5 11.3h-13.0zM518.2 314.4l6.5 11.3h-13.0zM519.6 314.1l6.5 11.3h-13.0zM521.1 313.4l6.5 11.3h-13.0zM522.5 316.3l6.5 11.3h-13.0zM523.9 317.4l6.5 11.3h-13.0zM525.3 319.5l6.5 11.3h-13.0zM526.7 318.2l6.5 11.3h-13.0zM528.1 321.7l6.5 11.3h-13.0zM529.6 326.9l6.5 11.3h-13.0zM531.0 325.5l6.5 11.3h-13.0zM532.4 329.1l6.5 11.3h-13.0zM533.8 332.7l6.5 11.3h-13.0zM535.2 329.1l6.5 11.3h-13.0zM536.7 327.1l6.5 11.3h-13.0zM538.1 330.8l6.5 11.3h-13.0zM539.5 334.3l6.5 11.3h-13.0zM540.9 335.2l6.5 11.3h-13.0zM542.3 332.8l6.5 11.3h-13.0zM543.7 335.8l6.5 11.3h-13.0zM545.2 337.3l6.5 11.3h-13.0zM546.6 338.7l6.5 11.3h-13.0zM548.0 339.7l6.5 11.3h-13.0zM549.4 339.5l6.5 11.3h-13.0zM550.8 341.0l6.5 11.3h-13.0zM552.2 342.7l6.5 11.3h-13.0zM553.7 345.9l6.5 11.3h-13.0zM555.1 344.0l6.5 11.3h-13.0zM556.5 347.0l6.5 11.3h-13.0zM557.9 344.5l6.5 11.3h-13.0zM559.3 349.4l6.5 11.3h-13.0zM560.7 347.9l6.5 11.3h-13.0zM562.2 348.2l6.5 11.3h-13.0zM563.6 351.1l6.5 11.3h-13.0zM565.0 346.1l6.5 11.3h-13.0zM566.4 347.1l6.5 11.3h-13.0zM567.8 351.0l6.5 11.3h-13.0zM569.2 349.2l6.5 11.3h-13.0zM570.7 350.3l6.5 11.3h-13.0zM572.1 356.1l6.5 11.3h-13.0zM573.5 351.3l6.5 11.3h-13.0zM574.9 352.3l6.5 11.3h-13.0zM576.3 352.4l6.5 11.3h-13.0zM577.8 354.8l6.5 11.3h-13.0zM579.2 353.6l6.5 11.3h-13.0zM580.6 353.8l6.5 11.3h-13.0zM582.0 351.6l6.5 11.3h-13.0zM583.4 353.4l6.5 11.3h-13.0zM584.8 354.2l6.5 11.3h-13.0zM586.3 351.7l6.5 11.3h-13.0zM587.7 355.7l6.5 11.3h-13.0zM589.1 355.5l6.5 11.3h-13.0zM590.5 358.3l6.5 11.3h-13.0zM591.9 352.4l6.5 11.3h-13.0zM593.3 353.6l6.5 11.3h-13.0zM594.8 353.9l6.5 11.3h-13.0zM596.2 354.5l6.5 11.3h-13.0zM597.6 355.7l6.5 11.3h-13.0zM599.0 355.7l6.5 11.3h-13.0zM600.4 356.6l6.5 11.3h-13.0zM601.8 356.7l6.5 11.3h-13.0zM603.3 356.4l6.5 11.3h-13.0zM604.7 353.9l6.5 11.3h-13.0zM606.1 355.8l6.5 11.3h-13.0zM607.5 357.0l6.5 11.3h-13.0zM608.9 358.0l6.5 11.3h-13.0zM610.4 358.2l6.5 11.3h-13.0zM611.8 354.3l6.5 11.3h-13.0zM613.2 356.3l6.5 11.3h-13.0zM614.6 357.2l6.5 11.3h-13.0zM616.0 358.0l6.5 11.3h-13.0zM617.4 359.4l6.5 11.3h-13.0zM618.9 357.5l6.5 11.3h-13.0zM620.3 355.8l6.5 11.3h-13.0zM621.7 358.1l6.5 11.3h-13.0zM623.1 357.7l6.5 11.3h-13.0zM624.5 357.6l6.5 11.3h-13.0zM625.9 356.8l6.5 11.3h-13.0zM627.4 359.6l6.5 11.3h-13.0zM628.8 357.0l6.5 11.3h-13.0zM630.2 357.8l6.5 11.3h-13.0zM631.6 354.5l6.5 11.3h-13.0zM633.0 357.1l6.5 11.3h-13.0zM634.4 354.4l6.5 11.3h-13.0zM635.9 352.5l6.5 11.3h-13.0zM637.3 355.5l6.5 11.3h-13.0zM638.7 355.7l6.5 11.3h-13.0zM640.1 354.0l6.5 11.3h-13.0zM641.5 354.1l6.5 11.3h-13.0zM642.9 355.6l6.5 11.3h-13.0zM644.4 352.8l6.5 11.3h-13.0zM645.8 349.7l6.5 11.3h-13.0zM647.2 353.5l6.5 11.3h-13.0zM648.6 353.1l6.5 11.3h-13.0zM650.0 354.3l6.5 11.3h-13.0zM651.5 351.6l6.5 11.3h-13.0zM652.9 354.0l6.5 11.3h-13.0zM654.3 353.4l6.5 11.3h-13.0zM655.7 348.8l6.5 11.3h-13.0zM657.1 352.3l6.5 11.3h-13.0zM658.5 348.4l6.5 11.3h-13.0zM660.0 347.2l6.5 11.3h-13.0zM661.4 349.0l6.5 11.3h-13.0zM662.8 348.0l6.5 11.3h-13.0zM664.2 345.0l6.5 11.3h-13.0zM665.6 348.3l6.5 11.3h-13.0zM667.0 348.5l6.5 11.3h-13.0zM668.5 349.2l6.5 11.3h-13.0zM669.9 346.1l6.5 11.3h-13.0zM671.3 342.9l6.5 11.3h-13.0zM672.7 343.2l6.5 11.3h-13.0zM674.1 345.9l6.5 11.3h-13.0zM675.5 345.0l6.5 11.3h-13.0zM677.0 343.6l6.5 11.3h-13.0zM678.4 341.5l6.5 11.3h-13.0zM679.8 341.6l6.5 11.3h-13.0zM681.2 340.0l6.5 11.3h-13.0zM682.6 339.0l6.5 11.3h-13.0zM684.1 339.2l6.5 11.3h-13.0zM685.5 337.7l6.5 11.3h-13.0zM686.9 336.3l6.5 11.3h-13.0zM688.3 335.7l6.5 11.3h-13.0zM689.7 333.6l6.5 11.3h-13.0zM691.1 330.1l6.5 11.3h-13.0zM692.6 331.3l6.5 11.3h-13.0zM694.0 331.1l6.5 11.3h-13.0zM695.4 333.2l6.5 11.3h-13.0zM696.8 328.4l6.5 11.3h-13.0zM698.2 331.5l6.5 11.3h-13.0zM699.6 329.5l6.5 11.3h-13.0zM701.1 324.5l6.5 11.3h-13.0zM702.5 323.8l6.5 11.3h-13.0zM703.9 324.3l6.5 11.3h-13.0zM705.3 326.1l6.5 11.3h-13.0zM706.7 322.7l6.5 11.3h-13.0zM708.1 322.3l6.5 11.3h-13.0zM709.6 319.0l6.5 11.3h-13.0zM711.0 315.1l6.5 11.3h-13.0zM712.4 317.8l6.5 11.3h-13.0zM713.8 318.6l6.5 11.3h-13.0zM715.2 318.4l6.5 11.3h-13.0zM716.6 315.5l6.5 11.3h-13.0zM718.1 314.9l6.5 11.3h-13.0zM719.5 315.8l6.5 11.3h-13.0zM720.9 312.7l6.5 11.3h-13.0zM722.3 314.2l6.5 11.3h-13.0zM723.7 309.4l6.5 11.3h-13.0zM725.2 308.7l6.5 11.3h-13.0zM726.6 308.0l6.5 11.3h-13.0zM728.0 310.1l6.5 11.3h-13.0zM729.4 307.6l6.5 11.3h-13.0zM730.8 308.1l6.5 11.3h-13.0zM732.2 307.8l6.5 11.3h-13.0zM733.7 307.1l6.5 11.3h-13.0zM735.1 308.1l6.5 11.3h-13.0zM736.5 307.7l6.5 11.3h-13.0zM737.9 303.0l6.5 11.3h-13.0zM739.3 304.1l6.5 11.3h-13.0zM740.7 302.7l6.5 11.3h-13.0zM742.2 300.6l6.5 11.3h-13.0zM743.6 304.8l6.5 11.3h-13.0zM745.0 302.4l6.5 11.3h-13.0zM746.4 300.0l6.5 11.3h-13.0z" fill="#0a1af5"/>
<path d="M179.5 248.5L180.9 251.1L182.3 249.9L183.7 252.6L185.2 256.5L186.6 257.3L188.0 255.5L189.4 257.4L190.8 262.9L192.2 258.4L193.7 261.0L195.1 261.0L196.5 265.4L197.9 266.6L199.3 269.4L200.7 264.1L202.2 270.3L203.6 268.4L205.0 273.8L206.4 273.6L207.8 278.2L209.3 277.3L210.7 276.2L212.1 281.5L213.5 278.7L214.9 281.4L216.3 285.2L217.8 285.6L219.2 286.9L220.6 287.6L222.0 289.9L223.4 291.8L224.8 292.3L226.3 295.0L227.7 297.0L229.1 296.4L230.5 296.4L231.9 302.3L233.3 301.3L234.8 304.1L236.2 306.4L237.6 304.8L239.0 308.9L240.4 306.9L241.8 312.6L243.3 312.0L244.7 314.6L246.1 316.9L247.5 315.8L248.9 318.3L250.4 318.0L251.8 320.2L253.2 323.0L254.6 322.2L256.0 322.9L257.4 322.1L258.9 326.3L260.3 325.5L261.7 329.3L263.1 325.8L264.5 329.7L265.9 331.7L267.4 329.3L268.8 328.0L270.2 333.4L271.6 333.3L273.0 333.4L274.4 334.8L275.9 332.9L277.3 335.7L278.7 336.3L280.1 334.7L281.5 337.8L283.0 336.4L284.4 339.6L285.8 340.8L287.2 342.6L288.6 336.7L290.0 341.2L291.5 340.9L292.9 342.0L294.3 342.3L295.7 343.1L297.1 340.3L298.5 346.1L300.0 347.6L301.4 347.1L302.8 348.2L304.2 344.9L305.6 345.3L307.0 349.0L308.5 350.2L309.9 348.8L311.3 346.1L312.7 354.1L314.1 348.5L315.5 351.8L317.0 348.4L318.4 352.6L319.8 351.6L321.2 354.1L322.6 353.5L324.1 349.6L325.5 350.9L326.9 353.3L328.3 354.4L329.7 356.5L331.1 354.0L332.6 353.5L334.0 353.8L335.4 354.1L336.8 356.1L338.2 354.4L339.6 354.5L341.1 352.3L342.5 351.5L343.9 355.2L345.3 356.5L346.7 355.4L348.1 356.5L349.6 356.9L351.0 355.7L352.4 357.6L353.8 354.7L355.2 356.0L356.7 355.4L358.1 356.2L359.5 357.2L360.9 357.5L362.3 356.1L363.7 356.5L365.2 354.9L366.6 355.1L368.0 357.3L369.4 354.4L370.8 356.6L372.2 354.9L373.7 353.9L375.1 356.7L376.5 352.3L377.9 351.7L379.3 351.7L380.7 351.6L382.2 351.0L383.6 351.4L385.0 349.5L386.4 349.4L387.8 347.5L389.2 349.1L390.7 345.8L392.1 344.8L393.5 343.9L394.9 342.7L396.3 339.0L397.8 340.9L399.2 335.0L400.6 333.4L402.0 331.3L403.4 329.2L404.8 329.3L406.3 326.8L407.7 323.4L409.1 321.9L410.5 320.5L411.9 321.6L413.3 315.9L414.8 312.6L416.2 310.7L417.6 309.8L419.0 310.6L420.4 303.7L421.8 303.1L423.3 304.8L424.7 296.8L426.1 297.4L427.5 294.1L428.9 289.9L430.4 283.3L431.8 283.0L433.2 278.6L434.6 272.7L436.0 269.7L437.4 269.6L438.9 266.5L440.3 264.9L441.7 260.3L443.1 254.4L444.5 250.3L445.9 246.3L447.4 240.2L448.8 238.8L450.2 232.9L451.6 226.9L453.0 222.5L454.4 216.8L455.9 213.0L457.3 208.5L458.7 200.0L460.1 195.2L461.5 190.8L463.0 184.6L464.4 187.9L465.8 192.6L467.2 203.2L468.6 207.9L470.0 214.2L471.5 220.2L472.9 228.1L474.3 230.0L475.7 232.9L477.1 238.7L478.5 245.2L480.0 248.8L481.4 251.9L482.8 262.5L484.2 262.1L485.6 265.2L487.0 269.1L488.5 271.1L489.9 275.6L491.3 280.3L492.7 283.3L494.1 285.3L495.5 290.5L497.0 292.2L498.4 293.0L499.8 293.6L501.2 299.8L502.6 302.0L504.1 303.9L505.5 304.2L506.9 309.0L508.3 308.6L509.7 315.1L511.1 315.9L512.6 317.9L514.0 318.1L515.4 319.4L516.8 325.6L518.2 326.1L519.6 325.3L521.1 328.5L522.5 331.5L523.9 328.3L525.3 330.5L526.7 331.8L528.1 334.8L529.6 333.2L531.0 336.6L532.4 335.3L533.8 339.9L535.2 340.8L536.7 339.8L538.1 342.3L539.5 340.6L540.9 342.1L542.3 345.0L543.7 344.0L545.2 345.4L546.6 343.9L548.0 347.3L549.4 347.6L550.8 345.3L552.2 344.0L553.7 345.0L555.1 348.9L556.5 349.0L557.9 347.0L559.3 350.2L560.7 351.9L562.2 350.2L563.6 349.7L565.0 352.2L566.4 353.8L567.8 353.6L569.2 350.0L570.7 352.7L572.1 351.7L573.5 351.2L574.9 350.6L576.3 352.4L577.8 351.1L579.2 353.7L580.6 352.8L582.0 354.1L583.4 350.3L584.8 352.5L586.3 353.8L587.7 353.2L589.1 353.0L590.5 351.4L591.9 355.6L593.3 354.6L594.8 353.5L596.2 348.3L597.6 351.1L599.0 353.1L600.4 351.6L601.8 349.1L603.3 353.1L604.7 353.3L606.1 350.3L607.5 351.3L608.9 350.8L610.4 352.6L611.8 347.9L613.2 348.0L614.6 349.7L616.0 349.1L617.4 353.6L618.9 348.5L620.3 349.5L621.7 347.9L623.1 346.9L624.5 348.0L625.9 349.6L627.4 345.1L628.8 346.1L630.2 344.4L631.6 343.9L633.0 342.4L634.4 344.8L635.9 337.4L637.3 338.1L638.7 335.5L640.1 332.9L641.5 335.4L642.9 337.7L644.4 334.9L645.8 334.4L647.2 332.0L648.6 329.8L650.0 332.4L651.5 327.1L652.9 329.2L654.3 324.9L655.7 324.5L657.1 323.8L658.5 322.3L660.0 322.1L661.4 321.2L662.8 322.2L664.2 318.4L665.6 314.1L667.0 313.0L668.5 313.3L669.9 313.6L671.3 315.2L672.7 310.5L674.1 312.3L675.5 311.4L677.0 310.8L678.4 309.1L679.8 309.0L681.2 307.2L682.6 307.8L684.1 305.2L685.5 299.1L686.9 301.8L688.3 300.7L689.7 297.8L691.1 296.0L692.6 297.8L694.0 294.6L695.4 291.1L696.8 290.9L698.2 289.7L699.6 285.8L701.1 288.5L702.5 285.9L703.9 285.7L705.3 280.9L706.7 285.8L708.1 282.3L709.6 280.9L711.0 277.6L712.4 276.5L713.8 273.9L715.2 278.1L716.6 272.8L718.1 273.5L719.5 273.0L720.9 269.6L722.3 271.1L723.7 272.0L725.2 267.8L726.6 268.6L728.0 266.0L729.4 263.0L730.8 262.0L732.2 258.5L733.7 260.6L735.1 261.8L736.5 259.3L737.9 258.5L739.3 257.9L740.7 253.8L742.2 254.6L743.6 255.8L745.0 249.9L746.4 250.2" stroke="#30f012" stroke-width="3.5" fill="none" stroke-linejoin="round"/>
<path d="M179.5 256.0l6.5 -11.3h-13.0zM180.9 258.6l6.5 -11.3h-13.0zM182.3 257.4l6.5 -11.3h-13.0zM183.7 260.2l6.5 -11.3h-13.0zM185.2 264.0l6.5 -11.3h-13.0zM186.6 264.8l6.5 -11.3h-13.0zM188.0 263.0l6.5 -11.3h-13.0zM189.4 264.9l6.5 -11.3h-13.0zM190.8 270.4l6.5 -11.3h-13.0zM192.2 265.9l6.5 -11.3h-13.0zM193.7 268.6l6.5 -11.3h-13.0zM195.1 268.5l6.5 -11.3h-13.0zM196.5 272.9l6.5 -11.3h-13.0zM197.9 274.1l6.5 -11.3h-13.0zM199.3 276.9l6.5 -11.3h-13.0zM200.7 271.6l6.5 -11.3h-13.0zM202.2 277.8l6.5 -11.3h-13.0zM203.6 275.9l6.5 -11.3h-13.0zM205.0 281.3l6.5 -11.3h-13.0zM206.4 281.1l6.5 -11.3h-13.0zM207.8 285.7l6.5 -11.3h-13.0zM209.3 284.8l6.5 -11.3h-13.0zM210.7 283.7l6.5 -11.3h-13.0zM212.1 289.0l6.5 -11.3h-13.0zM213.5 286.2l6.5 -11.3h-13.0zM214.9 288.9l6.5 -11.3h-13.0zM216.3 292.7l6.5 -11.3h-13.0zM217.8 293.1l6.5 -11.3h-13.0zM219.2 294.4l6.5 -11.3h-13.0zM220.6 295.1l6.5 -11.3h-13.0zM222.0 297.4l6.5 -11.3h-13.0zM223.4 299.3l6.5 -11.3h-13.0zM224.8 299.8l6.5 -11.3h-13.0zM226.3 302.5l6.5 -11.3h-13.0zM227.7 304.5l6.5 -11.3h-13.0zM229.1 303.9l6.5 -11.3h-13.0zM230.5 303.9l6.5 -11.3h-13.0zM231.9 309.8l6.5 -11.3h-13.0zM233.3 308.8l6.5 -11.3h-13.0zM234.8 311.6l6.5 -11.3h-13.0zM236.2 313.9l6.5 -11.3h-13.0zM237.6 312.3l6.5 -11.3h-13.0zM239.0 316.4l6.5 -11.3h-13.0zM240.4 314.4l6.5 -11.3h-13.0zM241.8 320.1l6.5 -11.3h-13.0zM243.3 319.5l6.5 -11.3h-13.0zM244.7 322.1l6.5 -11.3h-13.0zM246.1 324.4l6.5 -11.3h-13.0zM247.5 323.3l6.5 -11.3h-13.0zM248.9 325.8l6.5 -11.3h-13.0zM250.4 325.5l6.5 -11.3h-13.0zM251.8 327.7l6.5 -11.3h-13.0zM253.2 330.6l6.5 -11.3h-13.0zM254.6 329.7l6.5 -11.3h-13.0zM256.0 330.4l6.5 -11.3h-13.0zM257.4 329.6l6.5 -11.3h-13.0zM258.9 333.8l6.5 -11.3h-13.0zM260.3 333.0l6.5 -11.3h-13.0zM261.7 336.8l6.5 -11.3h-13.0zM263.1 333.3l6.5 -11.3h-13.0zM264.5 337.2l6.5 -11.3h-13.0zM265.9 339.2l6.5 -11.3h-13.0zM267.4 336.8l6.5 -11.3h-13.0zM268.8 335.5l6.5 -11.3h-13.0zM270.2 340.9l6.5 -11.3h-13.0zM271.6 340.8l6.5 -11.3h-13.0zM273.0 340.9l6.5 -11.3h-13.0zM274.4 342.3l6.5 -11.3h-13.0zM275.9 340.4l6.5 -11.3h-13.0zM277.3 343.2l6.5 -11.3h-13.0zM278.7 343.8l6.5 -11.3h-13.0zM280.1 342.2l6.5 -11.3h-13.0zM281.5 345.3l6.5 -11.3h-13.0zM283.0 343.9l6.5 -11.3h-13.0zM284.4 347.2l6.5 -11.3h-13.0zM285.8 348.3l6.5 -11.3h-13.0zM287.2 350.1l6.5 -11.3h-13.0zM288.6 344.2l6.5 -11.3h-13.0zM290.0 348.8l6.5 -11.3h-13.0zM291.5 348.4l6.5 -11.3h-13.0zM292.9 349.5l6.5 -11.3h-13.0zM294.3 349.8l6.5 -11.3h-13.0zM295.7 350.6l6.5 -11.3h-13.0zM297.1 347.8l6.5 -11.3h-13.0zM298.5 353.6l6.5 -11.3h-13.0zM300.0 355.1l6.5 -11.3h-13.0zM301.4 354.6l6.5 -11.3h-13.0zM302.8 355.7l6.5 -11.3h-13.0zM304.2 352.4l6.5 -11.3h-13.0zM305.6 352.8l6.5 -11.3h-13.0zM307.0 356.5l6.5 -11.3h-13.0zM308.5 357.7l6.5 -11.3h-13.0zM309.9 356.3l6.5 -11.3h-13.0zM311.3 353.6l6.5 -11.3h-13.0zM312.7 361.6l6.5 -11.3h-13.0zM314.1 356.0l6.5 -11.3h-13.0zM315.5 359.3l6.5 -11.3h-13.0zM317.0 355.9l6.5 -11.3h-13.0zM318.4 360.1l6.5 -11.3h-13.0zM319.8 359.1l6.5 -11.3h-13.0zM321.2 361.6l6.5 -11.3h-13.0zM322.6 361.0l6.5 -11.3h-13.0zM324.1 357.1l6.5 -11.3h-13.0zM325.5 358.4l6.5 -11.3h-13.0zM326.9 360.8l6.5 -11.3h-13.0zM328.3 361.9l6.5 -11.3h-13.0zM329.7 364.0l6.5 -11.3h-13.0zM331.1 361.5l6.5 -11.3h-13.0zM332.6 361.0l6.5 -11.3h-13.0zM334.0 361.3l6.5 -11.3h-13.0zM335.4 361.6l6.5 -11.3h-13.0zM336.8 363.6l6.5 -11.3h-13.0zM338.2 361.9l6.5 -11.3h-13.0zM339.6 362.0l6.5 -11.3h-13.0zM341.1 359.8l6.5 -11.3h-13.0zM342.5 359.0l6.5 -11.3h-13.0zM343.9 362.7l6.5 -11.3h-13.0zM345.3 364.0l6.5 -11.3h-13.0zM346.7 362.9l6.5 -11.3h-13.0zM348.1 364.0l6.5 -11.3h-13.0zM349.6 364.4l6.5 -11.3h-13.0zM351.0 363.2l6.5 -11.3h-13.0zM352.4 365.1l6.5 -11.3h-13.0zM353.8 362.2l6.5 -11.3h-13.0zM355.2 363.5l6.5 -11.3h-13.0zM356.7 362.9l6.5 -11.3h-13.0zM358.1 363.7l6.5 -11.3h-13.0zM359.5 364.7l6.5 -11.3h-13.0zM360.9 365.0l6.5 -11.3h-13.0zM362.3 363.6l6.5 -11.3h-13.0zM363.7 364.0l6.5 -11.3h-13.0zM365.2 362.4l6.5 -11.3h-13.0zM366.6 362.6l6.5 -11.3h-13.0zM368.0 364.8l6.5 -11.3h-13.0zM369.4 361.9l6.5 -11.3h-13.0zM370.8 364.1l6.5 -11.3h-13.0zM372.2 362.4l6.5 -11.3h-13.0zM373.7 361.4l6.5 -11.3h-13.0zM375.1 364.2l6.5 -11.3h-13.0zM376.5 359.8l6.5 -11.3h-13.0zM377.9 359.2l6.5 -11.3h-13.0zM379.3 359.2l6.5 -11.3h-13.0zM380.7 359.2l6.5 -11.3h-13.0zM382.2 358.5l6.5 -11.3h-13.0zM383.6 358.9l6.5 -11.3h-13.0zM385.0 357.0l6.5 -11.3h-13.0zM386.4 356.9l6.5 -11.3h-13.0zM387.8 355.0l6.5 -11.3h-13.0zM389.2 356.6l6.5 -11.3h-13.0zM390.7 353.3l6.5 -11.3h-13.0zM392.1 352.3l6.5 -11.3h-13.0zM393.5 351.4l6.5 -11.3h-13.0zM394.9 350.2l6.5 -11.3h-13.0zM396.3 346.5l6.5 -11.3h-13.0zM397.8 348.5l6.5 -11.3h-13.0zM399.2 342.6l6.5 -11.3h-13.0zM400.6 340.9l6.5 -11.3h-13.0zM402.0 338.8l6.5 -11.3h-13.0zM403.4 336.7l6.5 -11.3h-13.0zM404.8 336.8l6.5 -11.3h-13.0zM406.3 334.3l6.5 -11.3h-13.0zM407.7 330.9l6.5 -11.3h-13.0zM409.1 329.4l6.5 -11.3h-13.0zM410.5 328.0l6.5 -11.3h-13.0zM411.9 329.1l6.5 -11.3h-13.0zM413.3 323.4l6.5 -11.3h-13.0zM414.8 320.1l6.5 -11.3h-13.0zM416.2 318.2l6.5 -11.3h-13.0zM417.6 317.3l6.5 -11.3h-13.0zM419.0 318.1l6.5 -11.3h-13.0zM420.4 311.2l6.5 -11.3h-13.0zM421.8 310.6l6.5 -11.3h-13.0zM423.3 312.3l6.5 -11.3h-13.0zM424.7 304.4l6.5 -11.3h-13.0zM426.1 304.9l6.5 -11.3h-13.0zM427.5 301.6l6.5 -11.3h-13.0zM428.9 297.4l6.5 -11.3h-13.0zM430.4 290.8l6.5 -11.3h-13.0zM431.8 290.5l6.5 -11.3h-13.0zM433.2 286.1l6.5 -11.3h-13.0zM434.6 280.2l6.5 -11.3h-13.0zM436.0 277.3l6.5 -11.3h-13.0zM437.4 277.1l6.5 -11.3h-13.0zM438.9 274.0l6.5 -11.3h-13.0zM440.3 272.4l6.5 -11.3h-13.0zM441.7 267.8l6.5 -11.3h-13.0zM443.1 261.9l6.5 -11.3h-13.0zM444.5 257.8l6.5 -11.3h-13.0zM445.9 253.9l6.5 -11.3h-13.0zM447.4 247.7l6.5 -11.3h-13.0zM448.8 246.3l6.5 -11.3h-13.0zM450.2 240.4l6.5 -11.3h-13.0zM451.6 234.4l6.5 -11.3h-13.0zM453.0 230.0l6.5 -11.3h-13.0zM454.4 224.3l6.5 -11.3h-13.0zM455.9 220.5l6.5 -11.3h-13.0zM457.3 216.0l6.5 -11.3h-13.0zM458.7 207.5l6.5 -11.3h-13.0zM460.1 202.7l6.5 -11.3h-13.0zM461.5 198.3l6.5 -11.3h-13.0zM463.0 192.1l6.5 -11.3h-13.0zM464.4 195.4l6.5 -11.3h-13.0zM465.8 200.1l6.5 -11.3h-13.0zM467.2 210.7l6.5 -11.3h-13.0zM468.6 215.4l6.5 -11.3h-13.0zM470.0 221.7l6.5 -11.3h-13.0zM471.5 227.7l6.5 -11.3h-13.0zM472.9 235.6l6.5 -11.3h-13.0zM474.3 237.5l6.5 -11.3h-13.0zM475.7 240.4l6.5 -11.3h-13.0zM477.1 246.2l6.5 -11.3h-13.0zM478.5 252.7l6.5 -11.3h-13.0zM480.0 256.3l6.5 -11.3h-13.0zM481.4 259.4l6.5 -11.3h-13.0zM482.8 270.0l6.5 -11.3h-13.0zM484.2 269.6l6.5 -11.3h-13.0zM485.6 272.7l6.5 -11.3h-13.0zM487.0 276.6l6.5 -11.3h-13.0zM488.5 278.6l6.5 -11.3h-13.0zM489.9 283.1l6.5 -11.3h-13.0zM491.3 287.8l6.5 -11.3h-13.0zM492.7 290.8l6.5 -11.3h-13.0zM494.1 292.8l6.5 -11.3h-13.0zM495.5 298.0l6.5 -11.3h-13.0zM497.0 299.7l6.5 -11.3h-13.0zM498.4 300.5l6.5 -11.3h-13.0zM499.8 301.1l6.5 -11.3h-13.0zM501.2 307.3l6.5 -11.3h-13.0zM502.6 309.5l6.5 -11.3h-13.0zM504.1 311.4l6.5 -11.3h-13.0zM505.5 311.7l6.5 -11.3h-13.0zM506.9 316.5l6.5 -11.3h-13.0zM508.3 316.1l6.5 -11.3h-13.0zM509.7 322.6l6.5 -11.3h-13.0zM511.1 323.4l6.5 -11.3h-13.0zM512.6 325.4l6.5 -11.3h-13.0zM514.0 325.6l6.5 -11.3h-13.0zM515.4 326.9l6.5 -11.3h-13.0zM516.8 333.1l6.5 -11.3h-13.0zM518.2 333.6l6.5 -11.3h-13.0zM519.6 332.8l6.5 -11.3h-13.0zM521.1 336.0l6.5 -11.3h-13.0zM522.5 339.0l6.5 -11.3h-13.0zM523.9 335.8l6.5 -11.3h-13.0zM525.3 338.0l6.5 -11.3h-13.0zM526.7 339.3l6.5 -11.3h-13.0zM528.1 342.3l6.5 -11.3h-13.0zM529.6 340.7l6.5 -11.3h-13.0zM531.0 344.1l6.5 -11.3h-13.0zM532.4 342.8l6.5 -11.3h-13.0zM533.8 347.4l6.5 -11.3h-13.0zM535.2 348.3l6.5 -11.3h-13.0zM536.7 347.3l6.5 -11.3h-13.0zM538.1 349.8l6.5 -11.3h-13.0zM539.5 348.1l6.5 -11.3h-13.0zM540.9 349.6l6.5 -11.3h-13.0zM542.3 352.5l6.5 -11.3h-13.0zM543.7 351.5l6.5 -11.3h-13.0zM545.2 352.9l6.5 -11.3h-13.0zM546.6 351.4l6.5 -11.3h-13.0zM548.0 354.8l6.5 -11.3h-13.0zM549.4 355.1l6.5 -11.3h-13.0zM550.8 352.8l6.5 -11.3h-13.0zM552.2 351.5l6.5 -11.3h-13.0zM553.7 352.5l6.5 -11.3h-13.0zM555.1 356.4l6.5 -11.3h-13.0zM556.5 356.5l6.5 -11.3h-13.0zM557.9 354.5l6.5 -11.3h-13.0zM559.3 357.7l6.5 -11.3h-13.0zM560.7 359.4l6.5 -11.3h-13.0zM562.2 357.7l6.5 -11.3h-13.0zM563.6 357.2l6.5 -11.3h-13.0zM565.0 359.7l6.5 -11.3h-13.0zM566.4 361.3l6.5 -11.3h-13.0zM567.8 361.1l6.5 -11.3h-13.0zM569.2 357.5l6.5 -11.3h-13.0zM570.7 360.2l6.5 -11.3h-13.0zM572.1 359.2l6.5 -11.3h-13.0zM573.5 358.7l6.5 -11.3h-13.0zM574.9 358.1l6.5 -11.3h-13.0zM576.3 359.9l6.5 -11.3h-13.0zM577.8 358.6l6.5 -11.3h-13.0zM579.2 361.2l6.5 -11.3h-13.0zM580.6 360.3l6.5 -11.3h-13.0zM582.0 361.6l6.5 -11.3h-13.0zM583.4 357.8l6.5 -11.3h-13.0zM584.8 360.0l6.5 -11.3h-13.0zM586.3 361.3l6.5 -11.3h-13.0zM587.7 360.7l6.5 -11.3h-13.0zM589.1 360.5l6.5 -11.3h-13.0zM590.5 358.9l6.5 -11.3h-13.0zM591.9 363.1l6.5 -11.3h-13.0zM593.3 362.1l6.5 -11.3h-13.0zM594.8 361.0l6.5 -11.3h-13.0zM596.2 355.8l6.5 -11.3h-13.0zM597.6 358.6l6.5 -11.3h-13.0zM599.0 360.6l6.5 -11.3h-13.0zM600.4 359.1l6.5 -11.3h-13.0zM601.8 356.6l6.5 -11.3h-13.0zM603.3 360.7l6.5 -11.3h-13.0zM604.7 360.8l6.5 -11.3h-13.0zM606.1 357.8l6.5 -11.3h-13.0zM607.5 358.8l6.5 -11.3h-13.0zM608.9 358.3l6.5 -11.3h-13.0zM610.4 360.1l6.5 -11.3h-13.0zM611.8 355.5l6.5 -11.3h-13.0zM613.2 355.5l6.5 -11.3h-13.0zM614.6 357.2l6.5 -11.3h-13.0zM616.0 356.6l6.5 -11.3h-13.0zM617.4 361.1l6.5 -11.3h-13.0zM618.9 356.0l6.5 -11.3h-13.0zM620.3 357.0l6.5 -11.3h-13.0zM621.7 355.4l6.5 -11.3h-13.0zM623.1 354.4l6.5 -11.3h-13.0zM624.5 355.5l6.5 -11.3h-13.0zM625.9 357.2l6.5 -11.3h-13.0zM627.4 352.6l6.5 -11.3h-13.0zM628.8 353.6l6.5 -11.3h-13.0zM630.2 351.9l6.5 -11.3h-13.0zM631.6 351.4l6.5 -11.3h-13.0zM633.0 349.9l6.5 -11.3h-13.0zM634.4 352.3l6.5 -11.3h-13.0zM635.9 344.9l6.5 -11.3h-13.0zM637.3 345.6l6.5 -11.3h-13.0zM638.7 343.0l6.5 -11.3h-13.0zM640.1 340.4l6.5 -11.3h-13.0zM641.5 342.9l6.5 -11.3h-13.0zM642.9 345.2l6.5 -11.3h-13.0zM644.4 342.4l6.5 -11.3h-13.0zM645.8 341.9l6.5 -11.3h-13.0zM647.2 339.5l6.5 -11.3h-13.0zM648.6 337.3l6.5 -11.3h-13.0zM650.0 339.9l6.5 -11.3h-13.0zM651.5 334.6l6.5 -11.3h-13.0zM652.9 336.7l6.5 -11.3h-13.0zM654.3 332.4l6.5 -11.3h-13.0zM655.7 332.0l6.5 -11.3h-13.0zM657.1 331.3l6.5 -11.3h-13.0zM658.5 329.8l6.5 -11.3h-13.0zM660.0 329.6l6.5 -11.3h-13.0zM661.4 328.7l6.5 -11.3h-13.0zM662.8 329.7l6.5 -11.3h-13.0zM664.2 325.9l6.5 -11.3h-13.0zM665.6 321.6l6.5 -11.3h-13.0zM667.0 320.5l6.5 -11.3h-13.0zM668.5 320.8l6.5 -11.3h-13.0zM669.9 321.1l6.5 -11.3h-13.0zM671.3 322.7l6.5 -11.3h-13.0zM672.7 318.0l6.5 -11.3h-13.0zM674.1 319.8l6.5 -11.3h-13.0zM675.5 318.9l6.5 -11.3h-13.0zM677.0 318.3l6.5 -11.3h-13.0zM678.4 316.6l6.5 -11.3h-13.0zM679.8 316.5l6.5 -11.3h-13.0zM681.2 314.7l6.5 -11.3h-13.0zM682.6 315.3l6.5 -11.3h-13.0zM684.1 312.7l6.5 -11.3h-13.0zM685.5 306.6l6.5 -11.3h-13.0zM686.9 309.4l6.5 -11.3h-13.0zM688.3 308.2l6.5 -11.3h-13.0zM689.7 305.3l6.5 -11.3h-13.0zM691.1 303.5l6.5 -11.3h-13.0zM692.6 305.3l6.5 -11.3h-13.0zM694.0 302.1l6.5 -11.3h-13.0zM695.4 298.6l6.5 -11.3h-13.0zM696.8 298.4l6.5 -11.3h-13.0zM698.2 297.2l6.5 -11.3h-13.0zM699.6 293.3l6.5 -11.3h-13.0zM701.1 296.0l6.5 -11.3h-13.0zM702.5 293.4l6.5 -11.3h-13.0zM703.9 293.2l6.5 -11.3h-13.0zM705.3 288.4l6.5 -11.3h-13.0zM706.7 293.4l6.5 -11.3h-13.0zM708.1 289.9l6.5 -11.3h-13.0zM709.6 288.4l6.5 -11.3h-13.0zM711.0 285.1l6.5 -11.3h-13.0zM712.4 284.0l6.5 -11.3h-13.0zM713.8 281.4l6.5 -11.3h-13.0zM715.2 285.6l6.5 -11.3h-13.0zM716.6 280.3l6.5 -11.3h-13.0zM718.1 281.0l6.5 -11.3h-13.0zM719.5 280.5l6.5 -11.3h-13.0zM720.9 277.1l6.5 -11.3h-13.0zM722.3 278.6l6.5 -11.3h-13.0zM723.7 279.5l6.5 -11.3h-13.0zM725.2 275.3l6.5 -11.3h-13.0zM726.6 276.1l6.5 -11.3h-13.0zM728.0 273.5l6.5 -11.3h-13.0zM729.4 270.5l6.5 -11.3h-13.0zM730.8 269.5l6.5 -11.3h-13.0zM732.2 266.0l6.5 -11.3h-13.0zM733.7 268.1l6.5 -11.3h-13.0zM735.1 269.3l6.5 -11.3h-13.0zM736.5 266.8l6.5 -11.3h-13.0zM737.9 266.0l6.5 -11.3h-13.0zM739.3 265.4l6.5 -11.3h-13.0zM740.7 261.3l6.5 -11.3h-13.0zM742.2 262.1l6.5 -11.3h-13.0zM743.6 263.3l6.5 -11.3h-13.0zM745.0 257.4l6.5 -11.3h-13.0zM746.4 257.7l6.5 -11.3h-13.0z" fill="#22aa00" stroke="#22aa00" stroke-width="1.0" stroke-linejoin="miter"/>
<path d="M179.5 256.0l6.5 -11.3h-13.0zM180.9 258.6l6.5 -11.3h-13.0zM182.3 257.4l6.5 -11.3h-13.0zM183.7 260.2l6.5 -11.3h-13.0zM185.2 264.0l6.5 -11.3h-13.0zM186.6 264.8l6.5 -11.3h-13.0zM188.0 263.0l6.5 -11.3h-13.0zM189.4 264.9l6.5 -11.3h-13.0zM190.8 270.4l6.5 -11.3h-13.0zM192.2 265.9l6.5 -11.3h-13.0zM193.7 268.6l6.5 -11.3h-13.0zM195.1 268.5l6.5 -11.3h-13.0zM196.5 272.9l6.5 -11.3h-13.0zM197.9 274.1l6.5 -11.3h-13.0zM199.3 276.9l6.5 -11.3h-13.0zM200.7 271.6l6.5 -11.3h-13.0zM202.2 277.8l6.5 -11.3h-13.0zM203.6 275.9l6.5 -11.3h-13.0zM205.0 281.3l6.5 -11.3h-13.0zM206.4 281.1l6.5 -11.3h-13.0zM207.8 285.7l6.5 -11.3h-13.0zM209.3 284.8l6.5 -11.3h-13.0zM210.7 283.7l6.5 -11.3h-13.0zM212.1 289.0l6.5 -11.3h-13.0zM213.5 286.2l6.5 -11.3h-13.0zM214.9 288.9l6.5 -11.3h-13.0zM216.3 292.7l6.5 -11.3h-13.0zM217.8 293.1l6.5 -11.3h-13.0zM219.2 294.4l6.5 -11.3h-13.0zM220.6 295.1l6.5 -11.3h-13.0zM222.0 297.4l6.5 -11.3h-13.0zM223.4 299.3l6.5 -11.3h-13.0zM224.8 299.8l6.5 -11.3h-13.0zM226.3 302.5l6.5 -11.3h-13.0zM227.7 304.5l6.5 -11.3h-13.0zM229.1 303.9l6.5 -11.3h-13.0zM230.5 303.9l6.5 -11.3h-13.0zM231.9 309.8l6.5 -11.3h-13.0zM233.3 308.8l6.5 -11.3h-13.0zM234.8 311.6l6.5 -11.3h-13.0zM236.2 313.9l6.5 -11.3h-13.0zM237.6 312.3l6.5 -11.3h-13.0zM239.0 316.4l6.5 -11.3h-13.0zM240.4 314.4l6.5 -11.3h-13.0zM241.8 320.1l6.5 -11.3h-13.0zM243.3 319.5l6.5 -11.3h-13.0zM244.7 322.1l6.5 -11.3h-13.0zM246.1 324.4l6.5 -11.3h-13.0zM247.5 323.3l6.5 -11.3h-13.0zM248.9 325.8l6.5 -11.3h-13.0zM250.4 325.5l6.5 -11.3h-13.0zM251.8 327.7l6.5 -11.3h-13.0zM253.2 330.6l6.5 -11.3h-13.0zM254.6 329.7l6.5 -11.3h-13.0zM256.0 330.4l6.5 -11.3h-13.0zM257.4 329.6l6.5 -11.3h-13.0zM258.9 333.8l6.5 -11.3h-13.0zM260.3 333.0l6.5 -11.3h-13.0zM261.7 336.8l6.5 -11.3h-13.0zM263.1 333.3l6.5 -11.3h-13.0zM264.5 337.2l6.5 -11.3h-13.0zM265.9 339.2l6.5 -11.3h-13.0zM267.4 336.8l6.5 -11.3h-13.0zM268.8 335.5l6.5 -11.3h-13.0zM270.2 340.9l6.5 -11.3h-13.0zM271.6 340.8l6.5 -11.3h-13.0zM273.0 340.9l6.5 -11.3h-13.0zM274.4 342.3l6.5 -11.3h-13.0zM275.9 340.4l6.5 -11.3h-13.0zM277.3 343.2l6.5 -11.3h-13.0zM278.7 343.8l6.5 -11.3h-13.0zM280.1 342.2l6.5 -11.3h-13.0zM281.5 345.3l6.5 -11.3h-13.0zM283.0 343.9l6.5 -11.3h-13.0zM284.4 347.2l6.5 -11.3h-13.0zM285.8 348.3l6.5 -11.3h-13.0zM287.2 350.1l6.5 -11.3h-13.0zM288.6 344.2l6.5 -11.3h-13.0zM290.0 348.8l6.5 -11.3h-13.0zM291.5 348.4l6.5 -11.3h-13.0zM292.9 349.5l6.5 -11.3h-13.0zM294.3 349.8l6.5 -11.3h-13.0zM295.7 350.6l6.5 -11.3h-13.0zM297.1 347.8l6.5 -11.3h-13.0zM298.5 353.6l6.5 -11.3h-13.0zM300.0 355.1l6.5 -11.3h-13.0zM301.4 354.6l6.5 -11.3h-13.0zM302.8 355.7l6.5 -11.3h-13.0zM304.2 352.4l6.5 -11.3h-13.0zM305.6 352.8l6.5 -11.3h-13.0zM307.0 356.5l6.5 -11.3h-13.0zM308.5 357.7l6.5 -11.3h-13.0zM309.9 356.3l6.5 -11.3h-13.0zM311.3 353.6l6.5 -11.3h-13.0zM312.7 361.6l6.5 -11.3h-13.0zM314.1 356.0l6.5 -11.3h-13.0zM315.5 359.3l6.5 -11.3h-13.0zM317.0 355.9l6.5 -11.3h-13.0zM318.4 360.1l6.5 -11.3h-13.0zM319.8 359.1l6.5 -11.3h-13.0zM321.2 361.6l6.5 -11.3h-13.0zM322.6 361.0l6.5 -11.3h-13.0zM324.1 357.1l6.5 -11.3h-13.0zM325.5 358.4l6.5 -11.3h-13.0zM326.9 360.8l6.5 -11.3h-13.0zM328.3 361.9l6.5 -11.3h-13.0zM329.7 364.0l6.5 -11.3h-13.0zM331.1 361.5l6.5 -11.3h-13.0zM332.6 361.0l6.5 -11.3h-13.0zM334.0 361.3l6.5 -11.3h-13.0zM335.4 361.6l6.5 -11.3h-13.0zM336.8 363.6l6.5 -11.3h-13.0zM338.2 361.9l6.5 -11.3h-13.0zM339.6 362.0l6.5 -11.3h-13.0zM341.1 359.8l6.5 -11.3h-13.0zM342.5 359.0l6.5 -11.3h-13.0zM343.9 362.7l6.5 -11.3h-13.0zM345.3 364.0l6.5 -11.3h-13.0zM346.7 362.9l6.5 -11.3h-13.0zM348.1 364.0l6.5 -11.3h-13.0zM349.6 364.4l6.5 -11.3h-13.0zM351.0 363.2l6.5 -11.3h-13.0zM352.4 365.1l6.5 -11.3h-13.0zM353.8 362.2l6.5 -11.3h-13.0zM355.2 363.5l6.5 -11.3h-13.0zM356.7 362.9l6.5 -11.3h-13.0zM358.1 363.7l6.5 -11.3h-13.0zM359.5 364.7l6.5 -11.3h-13.0zM360.9 365.0l6.5 -11.3h-13.0zM362.3 363.6l6.5 -11.3h-13.0zM363.7 364.0l6.5 -11.3h-13.0zM365.2 362.4l6.5 -11.3h-13.0zM366.6 362.6l6.5 -11.3h-13.0zM368.0 364.8l6.5 -11.3h-13.0zM369.4 361.9l6.5 -11.3h-13.0zM370.8 364.1l6.5 -11.3h-13.0zM372.2 362.4l6.5 -11.3h-13.0zM373.7 361.4l6.5 -11.3h-13.0zM375.1 364.2l6.5 -11.3h-13.0zM376.5 359.8l6.5 -11.3h-13.0zM377.9 359.2l6.5 -11.3h-13.0zM379.3 359.2l6.5 -11.3h-13.0zM380.7 359.2l6.5 -11.3h-13.0zM382.2 358.5l6.5 -11.3h-13.0zM383.6 358.9l6.5 -11.3h-13.0zM385.0 357.0l6.5 -11.3h-13.0zM386.4 356.9l6.5 -11.3h-13.0zM387.8 355.0l6.5 -11.3h-13.0zM389.2 356.6l6.5 -11.3h-13.0zM390.7 353.3l6.5 -11.3h-13.0zM392.1 352.3l6.5 -11.3h-13.0zM393.5 351.4l6.5 -11.3h-13.0zM394.9 350.2l6.5 -11.3h-13.0zM396.3 346.5l6.5 -11.3h-13.0zM397.8 348.5l6.5 -11.3h-13.0zM399.2 342.6l6.5 -11.3h-13.0zM400.6 340.9l6.5 -11.3h-13.0zM402.0 338.8l6.5 -11.3h-13.0zM403.4 336.7l6.5 -11.3h-13.0zM404.8 336.8l6.5 -11.3h-13.0zM406.3 334.3l6.5 -11.3h-13.0zM407.7 330.9l6.5 -11.3h-13.0zM409.1 329.4l6.5 -11.3h-13.0zM410.5 328.0l6.5 -11.3h-13.0zM411.9 329.1l6.5 -11.3h-13.0zM413.3 323.4l6.5 -11.3h-13.0zM414.8 320.1l6.5 -11.3h-13.0zM416.2 318.2l6.5 -11.3h-13.0zM417.6 317.3l6.5 -11.3h-13.0zM419.0 318.1l6.5 -11.3h-13.0zM420.4 311.2l6.5 -11.3h-13.0zM421.8 310.6l6.5 -11.3h-13.0zM423.3 312.3l6.5 -11.3h-13.0zM424.7 304.4l6.5 -11.3h-13.0zM426.1 304.9l6.5 -11.3h-13.0zM427.5 301.6l6.5 -11.3h-13.0zM428.9 297.4l6.5 -11.3h-13.0zM430.4 290.8l6.5 -11.3h-13.0zM431.8 290.5l6.5 -11.3h-13.0zM433.2 286.1l6.5 -11.3h-13.0zM434.6 280.2l6.5 -11.3h-13.0zM436.0 277.3l6.5 -11.3h-13.0zM437.4 277.1l6.5 -11.3h-13.0zM438.9 274.0l6.5 -11.3h-13.0zM440.3 272.4l6.5 -11.3h-13.0zM441.7 267.8l6.5 -11.3h-13.0zM443.1 261.9l6.5 -11.3h-13.0zM444.5 257.8l6.5 -11.3h-13.0zM445.9 253.9l6.5 -11.3h-13.0zM447.4 247.7l6.5 -11.3h-13.0zM448.8 246.3l6.5 -11.3h-13.0zM450.2 240.4l6.5 -11.3h-13.0zM451.6 234.4l6.5 -11.3h-13.0zM453.0 230.0l6.5 -11.3h-13.0zM454.4 224.3l6.5 -11.3h-13.0zM455.9 220.5l6.5 -11.3h-13.0zM457.3 216.0l6.5 -11.3h-13.0zM458.7 207.5l6.5 -11.3h-13.0zM460.1 202.7l6.5 -11.3h-13.0zM461.5 198.3l6.5 -11.3h-13.0zM463.0 192.1l6.5 -11.3h-13.0zM464.4 195.4l6.5 -11.3h-13.0zM465.8 200.1l6.5 -11.3h-13.0zM467.2 210.7l6.5 -11.3h-13.0zM468.6 215.4l6.5 -11.3h-13.0zM470.0 221.7l6.5 -11.3h-13.0zM471.5 227.7l6.5 -11.3h-13.0zM472.9 235.6l6.5 -11.3h-13.0zM474.3 237.5l6.5 -11.3h-13.0zM475.7 240.4l6.5 -11.3h-13.0zM477.1 246.2l6.5 -11.3h-13.0zM478.5 252.7l6.5 -11.3h-13.0zM480.0 256.3l6.5 -11.3h-13.0zM481.4 259.4l6.5 -11.3h-13.0zM482.8 270.0l6.5 -11.3h-13.0zM484.2 269.6l6.5 -11.3h-13.0zM485.6 272.7l6.5 -11.3h-13.0zM487.0 276.6l6.5 -11.3h-13.0zM488.5 278.6l6.5 -11.3h-13.0zM489.9 283.1l6.5 -11.3h-13.0zM491.3 287.8l6.5 -11.3h-13.0zM492.7 290.8l6.5 -11.3h-13.0zM494.1 292.8l6.5 -11.3h-13.0zM495.5 298.0l6.5 -11.3h-13.0zM497.0 299.7l6.5 -11.3h-13.0zM498.4 300.5l6.5 -11.3h-13.0zM499.8 301.1l6.5 -11.3h-13.0zM501.2 307.3l6.5 -11.3h-13.0zM502.6 309.5l6.5 -11.3h-13.0zM504.1 311.4l6.5 -11.3h-13.0zM505.5 311.7l6.5 -11.3h-13.0zM506.9 316.5l6.5 -11.3h-13.0zM508.3 316.1l6.5 -11.3h-13.0zM509.7 322.6l6.5 -11.3h-13.0zM511.1 323.4l6.5 -11.3h-13.0zM512.6 325.4l6.5 -11.3h-13.0zM514.0 325.6l6.5 -11.3h-13.0zM515.4 326.9l6.5 -11.3h-13.0zM516.8 333.1l6.5 -11.3h-13.0zM518.2 333.6l6.5 -11.3h-13.0zM519.6 332.8l6.5 -11.3h-13.0zM521.1 336.0l6.5 -11.3h-13.0zM522.5 339.0l6.5 -11.3h-13.0zM523.9 335.8l6.5 -11.3h-13.0zM525.3 338.0l6.5 -11.3h-13.0zM526.7 339.3l6.5 -11.3h-13.0zM528.1 342.3l6.5 -11.3h-13.0zM529.6 340.7l6.5 -11.3h-13.0zM531.0 344.1l6.5 -11.3h-13.0zM532.4 342.8l6.5 -11.3h-13.0zM533.8 347.4l6.5 -11.3h-13.0zM535.2 348.3l6.5 -11.3h-13.0zM536.7 347.3l6.5 -11.3h-13.0zM538.1 349.8l6.5 -11.3h-13.0zM539.5 348.1l6.5 -11.3h-13.0zM540.9 349.6l6.5 -11.3h-13.0zM542.3 352.5l6.5 -11.3h-13.0zM543.7 351.5l6.5 -11.3h-13.0zM545.2 352.9l6.5 -11.3h-13.0zM546.6 351.4l6.5 -11.3h-13.0zM548.0 354.8l6.5 -11.3h-13.0zM549.4 355.1l6.5 -11.3h-13.0zM550.8 352.8l6.5 -11.3h-13.0zM552.2 351.5l6.5 -11.3h-13.0zM553.7 352.5l6.5 -11.3h-13.0zM555.1 356.4l6.5 -11.3h-13.0zM556.5 356.5l6.5 -11.3h-13.0zM557.9 354.5l6.5 -11.3h-13.0zM559.3 357.7l6.5 -11.3h-13.0zM560.7 359.4l6.5 -11.3h-13.0zM562.2 357.7l6.5 -11.3h-13.0zM563.6 357.2l6.5 -11.3h-13.0zM565.0 359.7l6.5 -11.3h-13.0zM566.4 361.3l6.5 -11.3h-13.0zM567.8 361.1l6.5 -11.3h-13.0zM569.2 357.5l6.5 -11.3h-13.0zM570.7 360.2l6.5 -11.3h-13.0zM572.1 359.2l6.5 -11.3h-13.0zM573.5 358.7l6.5 -11.3h-13.0zM574.9 358.1l6.5 -11.3h-13.0zM576.3 359.9l6.5 -11.3h-13.0zM577.8 358.6l6.5 -11.3h-13.0zM579.2 361.2l6.5 -11.3h-13.0zM580.6 360.3l6.5 -11.3h-13.0zM582.0 361.6l6.5 -11.3h-13.0zM583.4 357.8l6.5 -11.3h-13.0zM584.8 360.0l6.5 -11.3h-13.0zM586.3 361.3l6.5 -11.3h-13.0zM587.7 360.7l6.5 -11.3h-13.0zM589.1 360.5l6.5 -11.3h-13.0zM590.5 358.9l6.5 -11.3h-13.0zM591.9 363.1l6.5 -11.3h-13.0zM593.3 362.1l6.5 -11.3h-13.0zM594.8 361.0l6.5 -11.3h-13.0zM596.2 355.8l6.5 -11.3h-13.0zM597.6 358.6l6.5 -11.3h-13.0zM599.0 360.6l6.5 -11.3h-13.0zM600.4 359.1l6.5 -11.3h-13.0zM601.8 356.6l6.5 -11.3h-13.0zM603.3 360.7l6.5 -11.3h-13.0zM604.7 360.8l6.5 -11.3h-13.0zM606.1 357.8l6.5 -11.3h-13.0zM607.5 358.8l6.5 -11.3h-13.0zM608.9 358.3l6.5 -11.3h-13.0zM610.4 360.1l6.5 -11.3h-13.0zM611.8 355.5l6.5 -11.3h-13.0zM613.2 355.5l6.5 -11.3h-13.0zM614.6 357.2l6.5 -11.3h-13.0zM616.0 356.6l6.5 -11.3h-13.0zM617.4 361.1l6.5 -11.3h-13.0zM618.9 356.0l6.5 -11.3h-13.0zM620.3 357.0l6.5 -11.3h-13.0zM621.7 355.4l6.5 -11.3h-13.0zM623.1 354.4l6.5 -11.3h-13.0zM624.5 355.5l6.5 -11.3h-13.0zM625.9 357.2l6.5 -11.3h-13.0zM627.4 352.6l6.5 -11.3h-13.0zM628.8 353.6l6.5 -11.3h-13.0zM630.2 351.9l6.5 -11.3h-13.0zM631.6 351.4l6.5 -11.3h-13.0zM633.0 349.9l6.5 -11.3h-13.0zM634.4 352.3l6.5 -11.3h-13.0zM635.9 344.9l6.5 -11.3h-13.0zM637.3 345.6l6.5 -11.3h-13.0zM638.7 343.0l6.5 -11.3h-13.0zM640.1 340.4l6.5 -11.3h-13.0zM641.5 342.9l6.5 -11.3h-13.0zM642.9 345.2l6.5 -11.3h-13.0zM644.4 342.4l6.5 -11.3h-13.0zM645.8 341.9l6.5 -11.3h-13.0zM647.2 339.5l6.5 -11.3h-13.0zM648.6 337.3l6.5 -11.3h-13.0zM650.0 339.9l6.5 -11.3h-13.0zM651.5 334.6l6.5 -11.3h-13.0zM652.9 336.7l6.5 -11.3h-13.0zM654.3 332.4l6.5 -11.3h-13.0zM655.7 332.0l6.5 -11.3h-13.0zM657.1 331.3l6.5 -11.3h-13.0zM658.5 329.8l6.5 -11.3h-13.0zM660.0 329.6l6.5 -11.3h-13.0zM661.4 328.7l6.5 -11.3h-13.0zM662.8 329.7l6.5 -11.3h-13.0zM664.2 325.9l6.5 -11.3h-13.0zM665.6 321.6l6.5 -11.3h-13.0zM667.0 320.5l6.5 -11.3h-13.0zM668.5 320.8l6.5 -11.3h-13.0zM669.9 321.1l6.5 -11.3h-13.0zM671.3 322.7l6.5 -11.3h-13.0zM672.7 318.0l6.5 -11.3h-13.0zM674.1 319.8l6.5 -11.3h-13.0zM675.5 318.9l6.5 -11.3h-13.0zM677.0 318.3l6.5 -11.3h-13.0zM678.4 316.6l6.5 -11.3h-13.0zM679.8 316.5l6.5 -11.3h-13.0zM681.2 314.7l6.5 -11.3h-13.0zM682.6 315.3l6.5 -11.3h-13.0zM684.1 312.7l6.5 -11.3h-13.0zM685.5 306.6l6.5 -11.3h-13.0zM686.9 309.4l6.5 -11.3h-13.0zM688.3 308.2l6.5 -11.3h-13.0zM689.7 305.3l6.5 -11.3h-13.0zM691.1 303.5l6.5 -11.3h-13.0zM692.6 305.3l6.5 -11.3h-13.0zM694.0 302.1l6.5 -11.3h-13.0zM695.4 298.6l6.5 -11.3h-13.0zM696.8 298.4l6.5 -11.3h-13.0zM698.2 297.2l6.5 -11.3h-13.0zM699.6 293.3l6.5 -11.3h-13.0zM701.1 296.0l6.5 -11.3h-13.0zM702.5 293.4l6.5 -11.3h-13.0zM703.9 293.2l6.5 -11.3h-13.0zM705.3 288.4l6.5 -11.3h-13.0zM706.7 293.4l6.5 -11.3h-13.0zM708.1 289.9l6.5 -11.3h-13.0zM709.6 288.4l6.5 -11.3h-13.0zM711.0 285.1l6.5 -11.3h-13.0zM712.4 284.0l6.5 -11.3h-13.0zM713.8 281.4l6.5 -11.3h-13.0zM715.2 285.6l6.5 -11.3h-13.0zM716.6 280.3l6.5 -11.3h-13.0zM718.1 281.0l6.5 -11.3h-13.0zM719.5 280.5l6.5 -11.3h-13.0zM720.9 277.1l6.5 -11.3h-13.0zM722.3 278.6l6.5 -11.3h-13.0zM723.7 279.5l6.5 -11.3h-13.0zM725.2 275.3l6.5 -11.3h-13.0zM726.6 276.1l6.5 -11.3h-13.0zM728.0 273.5l6.5 -11.3h-13.0zM729.4 270.5l6.5 -11.3h-13.0zM730.8 269.5l6.5 -11.3h-13.0zM732.2 266.0l6.5 -11.3h-13.0zM733.7 268.1l6.5 -11.3h-13.0zM735.1 269.3l6.5 -11.3h-13.0zM736.5 266.8l6.5 -11.3h-13.0zM737.9 266.0l6.5 -11.3h-13.0zM739.3 265.4l6.5 -11.3h-13.0zM740.7 261.3l6.5 -11.3h-13.0zM742.2 262.1l6.5 -11.3h-13.0zM743.6 263.3l6.5 -11.3h-13.0zM745.0 257.4l6.5 -11.3h-13.0zM746.4 257.7l6.5 -11.3h-13.0z" fill="#33ff11"/>
<path d="M179.5 203.0L180.9 201.3L182.3 199.3L183.7 199.6L185.2 197.5L186.6 199.0L188.0 201.1L189.4 204.0L190.8 209.0L192.2 208.8L193.7 210.7L195.1 211.6L196.5 215.8L197.9 212.5L199.3 216.5L200.7 220.2L202.2 222.4L203.6 221.5L205.0 222.6L206.4 225.1L207.8 225.1L209.3 227.7L210.7 227.1L212.1 230.5L213.5 230.8L214.9 230.5L216.3 229.3L217.8 236.6L219.2 237.1L220.6 239.2L222.0 238.1L223.4 242.8L224.8 243.3L226.3 244.2L227.7 247.5L229.1 249.2L230.5 250.2L231.9 254.6L233.3 255.3L234.8 255.5L236.2 256.4L237.6 258.8L239.0 263.2L240.4 262.9L241.8 262.7L243.3 264.9L244.7 267.8L246.1 270.8L247.5 270.1L248.9 273.8L250.4 276.4L251.8 277.4L253.2 275.4L254.6 279.1L256.0 279.2L257.4 283.5L258.9 282.8L260.3 286.9L261.7 287.8L263.1 285.0L264.5 289.4L265.9 292.9L267.4 293.8L268.8 294.5L270.2 294.5L271.6 298.7L273.0 302.1L274.4 301.0L275.9 301.7L277.3 302.8L278.7 302.0L280.1 304.8L281.5 305.2L283.0 309.4L284.4 307.3L285.8 306.4L287.2 309.6L288.6 311.4L290.0 312.6L291.5 311.0L292.9 316.4L294.3 316.1L295.7 316.1L297.1 316.6L298.5 319.5L300.0 319.3L301.4 321.2L302.8 321.4L304.2 322.7L305.6 325.2L307.0 324.2L308.5 323.5L309.9 327.3L311.3 326.9L312.7 326.2L314.1 329.8L315.5 328.5L317.0 331.3L318.4 328.6L319.8 327.5L321.2 328.8L322.6 333.4L324.1 332.8L325.5 334.8L326.9 335.9L328.3 334.7L329.7 340.5L331.1 338.1L332.6 341.7L334.0 341.4L335.4 345.6L336.8 349.3L338.2 350.0L339.6 351.3L341.1 354.1L342.5 354.7L343.9 357.1L345.3 360.2L346.7 355.6L348.1 356.2L349.6 357.4L351.0 357.7L352.4 356.3L353.8 359.0L355.2 359.5L356.7 358.9L358.1 356.9L359.5 361.4L360.9 357.5L362.3 360.8L363.7 362.0L365.2 358.7L366.6 361.4L368.0 363.9L369.4 362.9L370.8 361.3L372.2 361.5L373.7 364.7L375.1 363.9L376.5 363.9L377.9 366.7L379.3 365.5L380.7 366.6L382.2 367.9L383.6 368.2L385.0 367.6L386.4 367.9L387.8 369.0L389.2 368.9L390.7 366.4L392.1 367.8L393.5 366.5L394.9 365.8L396.3 366.6L397.8 363.6L399.2 368.3L400.6 365.2L402.0 366.6L403.4 362.6L404.8 362.4L406.3 367.8L407.7 365.6L409.1 362.3L410.5 361.5L411.9 361.0L413.3 361.7L414.8 360.1L416.2 359.1L417.6 359.7L419.0 357.2L420.4 361.9L421.8 356.4L423.3 358.3L424.7 354.2L426.1 355.2L427.5 355.2L428.9 352.0L430.4 352.9L431.8 351.5L433.2 351.2L434.6 347.0L436.0 344.2L437.4 341.2L438.9 340.8L440.3 336.2L441.7 335.1L443.1 332.3L444.5 328.2L445.9 323.8L447.4 321.2L448.8 313.0L450.2 293.1L451.6 278.5L453.0 269.0L454.4 253.3L455.9 239.7L457.3 226.8L458.7 219.6L460.1 204.6L461.5 191.2L463.0 186.4L464.4 193.0L465.8 213.6L467.2 225.0L468.6 247.0L470.0 266.1L471.5 275.4L472.9 279.3L474.3 286.3L475.7 293.4L477.1 300.6L478.5 308.9L480.0 311.4L481.4 318.8L482.8 317.8L484.2 322.3L485.6 324.6L487.0 325.7L488.5 326.3L489.9 330.2L491.3 331.7L492.7 331.7L494.1 334.6L495.5 334.6L497.0 332.6L498.4 339.3L499.8 339.1L501.2 345.0L502.6 344.7L504.1 347.8L505.5 349.2L506.9 349.8L508.3 349.5L509.7 353.6L511.1 355.2L512.6 358.4L514.0 357.2L515.4 359.8L516.8 359.2L518.2 361.7L519.6 359.7L521.1 366.7L522.5 364.8L523.9 363.8L525.3 366.7L526.7 368.3L528.1 368.3L529.6 370.9L531.0 369.2L532.4 366.0L533.8 368.7L535.2 372.9L536.7 372.9L538.1 372.4L539.5 370.2L540.9 373.2L542.3 372.9L543.7 370.2L545.2 370.1L546.6 371.9L548.0 372.9L549.4 373.4L550.8 371.7L552.2 373.9L553.7 368.7L555.1 370.6L556.5 368.4L557.9 365.7L559.3 366.5L560.7 369.8L562.2 365.9L563.6 364.8L565.0 367.0L566.4 366.4L567.8 364.0L569.2 365.4L570.7 359.3L572.1 364.4L573.5 361.2L574.9 358.7L576.3 357.6L577.8 356.0L579.2 354.9L580.6 354.8L582.0 351.8L583.4 356.4L584.8 352.1L586.3 352.6L587.7 350.5L589.1 349.6L590.5 350.7L591.9 349.6L593.3 346.6L594.8 346.7L596.2 347.7L597.6 342.6L599.0 341.5L600.4 347.1L601.8 343.6L603.3 339.5L604.7 341.8L606.1 342.2L607.5 342.4L608.9 342.4L610.4 341.4L611.8 341.5L613.2 338.9L614.6 340.2L616.0 339.7L617.4 340.4L618.9 337.9L620.3 338.6L621.7 336.8L623.1 334.0L624.5 334.4L625.9 333.4L627.4 332.8L628.8 332.4L630.2 331.8L631.6 331.2L633.0 328.5L634.4 330.5L635.9 325.6L637.3 326.7L638.7 326.9L640.1 325.5L641.5 324.7L642.9 322.2L644.4 322.6L645.8 318.4L647.2 320.3L648.6 321.5L650.0 317.8L651.5 318.5L652.9 314.0L654.3 310.8L655.7 310.1L657.1 311.8L658.5 309.4L660.0 303.7L661.4 304.4L662.8 303.1L664.2 299.4L665.6 295.2L667.0 294.9L668.5 294.7L669.9 292.1L671.3 289.4L672.7 289.1L674.1 287.6L675.5 283.5L677.0 282.9L678.4 279.3L679.8 276.9L681.2 271.2L682.6 274.2L684.1 270.9L685.5 268.7L686.9 265.5L688.3 262.3L689.7 262.7L691.1 261.1L692.6 260.3L694.0 257.1L695.4 252.8L696.8 251.7L698.2 251.7L699.6 249.0L701.1 246.8L702.5 244.5L703.9 245.0L705.3 243.1L706.7 244.4L708.1 242.1L709.6 236.4L711.0 241.4L712.4 237.3L713.8 235.2L715.2 235.0L716.6 234.5L718.1 232.1L719.5 230.7L720.9 229.5L722.3 231.1L723.7 227.0L725.2 226.8L726.6 225.0L728.0 222.5L729.4 220.5L730.8 218.7L732.2 219.6L733.7 215.8L735.1 214.0L736.5 212.6L737.9 210.6L739.3 211.5L740.7 209.9L742.2 206.5L743.6 208.2L745.0 203.6L746.4 202.8" stroke="#ee0a0a" stroke-width="3.5" fill="none" stroke-linejoin="round"/>
<path d="M179.5 203.0h0M180.9 201.3h0M182.3 199.3h0M183.7 199.6h0M185.2 197.5h0M186.6 199.0h0M188.0 201.1h0M189.4 204.0h0M190.8 209.0h0M192.2 208.8h0M193.7 210.7h0M195.1 211.6h0M196.5 215.8h0M197.9 212.5h0M199.3 216.5h0M200.7 220.2h0M202.2 222.4h0M203.6 221.5h0M205.0 222.6h0M206.4 225.1h0M207.8 225.1h0M209.3 227.7h0M210.7 227.1h0M212.1 230.5h0M213.5 230.8h0M214.9 230.5h0M216.3 229.3h0M217.8 236.6h0M219.2 237.1h0M220.6 239.2h0M222.0 238.1h0M223.4 242.8h0M224.8 243.3h0M226.3 244.2h0M227.7 247.5h0M229.1 249.2h0M230.5 250.2h0M231.9 254.6h0M233.3 255.3h0M234.8 255.5h0M236.2 256.4h0M237.6 258.8h0M239.0 263.2h0M240.4 262.9h0M241.8 262.7h0M243.3 264.9h0M244.7 267.8h0M246.1 270.8h0M247.5 270.1h0M248.9 273.8h0M250.4 276.4h0M251.8 277.4h0M253.2 275.4h0M254.6 279.1h0M256.0 279.2h0M257.4 283.5h0M258.9 282.8h0M260.3 286.9h0M261.7 287.8h0M263.1 285.0h0M264.5 289.4h0M265.9 292.9h0M267.4 293.8h0M268.8 294.5h0M270.2 294.5h0M271.6 298.7h0M273.0 302.1h0M274.4 301.0h0M275.9 301.7h0M277.3 302.8h0M278.7 302.0h0M280.1 304.8h0M281.5 305.2h0M283.0 309.4h0M284.4 307.3h0M285.8 306.4h0M287.2 309.6h0M288.6 311.4h0M290.0 312.6h0M291.5 311.0h0M292.9 316.4h0M294.3 316.1h0M295.7 316.1h0M297.1 316.6h0M298.5 319.5h0M300.0 319.3h0M301.4 321.2h0M302.8 321.4h0M304.2 322.7h0M305.6 325.2h0M307.0 324.2h0M308.5 323.5h0M309.9 327.3h0M311.3 326.9h0M312.7 326.2h0M314.1 329.8h0M315.5 328.5h0M317.0 331.3h0M318.4 328.6h0M319.8 327.5h0M321.2 328.8h0M322.6 333.4h0M324.1 332.8h0M325.5 334.8h0M326.9 335.9h0M328.3 334.7h0M329.7 340.5h0M331.1 338.1h0M332.6 341.7h0M334.0 341.4h0M335.4 345.6h0M336.8 349.3h0M338.2 350.0h0M339.6 351.3h0M341.1 354.1h0M342.5 354.7h0M343.9 357.1h0M345.3 360.2h0M346.7 355.6h0M348.1 356.2h0M349.6 357.4h0M351.0 357.7h0M352.4 356.3h0M353.8 359.0h0M355.2 359.5h0M356.7 358.9h0M358.1 356.9h0M359.5 361.4h0M360.9 357.5h0M362.3 360.8h0M363.7 362.0h0M365.2 358.7h0M366.6 361.4h0M368.0 363.9h0M369.4 362.9h0M370.8 361.3h0M372.2 361.5h0M373.7 364.7h0M375.1 363.9h0M376.5 363.9h0M377.9 366.7h0M379.3 365.5h0M380.7 366.6h0M382.2 367.9h0M383.6 368.2h0M385.0 367.6h0M386.4 367.9h0M387.8 369.0h0M389.2 368.9h0M390.7 366.4h0M392.1 367.8h0M393.5 366.5h0M394.9 365.8h0M396.3 366.6h0M397.8 363.6h0M399.2 368.3h0M400.6 365.2h0M402.0 366.6h0M403.4 362.6h0M404.8 362.4h0M406.3 367.8h0M407.7 365.6h0M409.1 362.3h0M410.5 361.5h0M411.9 361.0h0M413.3 361.7h0M414.8 360.1h0M416.2 359.1h0M417.6 359.7h0M419.0 357.2h0M420.4 361.9h0M421.8 356.4h0M423.3 358.3h0M424.7 354.2h0M426.1 355.2h0M427.5 355.2h0M428.9 352.0h0M430.4 352.9h0M431.8 351.5h0M433.2 351.2h0M434.6 347.0h0M436.0 344.2h0M437.4 341.2h0M438.9 340.8h0M440.3 336.2h0M441.7 335.1h0M443.1 332.3h0M444.5 328.2h0M445.9 323.8h0M447.4 321.2h0M448.8 313.0h0M450.2 293.1h0M451.6 278.5h0M453.0 269.0h0M454.4 253.3h0M455.9 239.7h0M457.3 226.8h0M458.7 219.6h0M460.1 204.6h0M461.5 191.2h0M463.0 186.4h0M464.4 193.0h0M465.8 213.6h0M467.2 225.0h0M468.6 247.0h0M470.0 266.1h0M471.5 275.4h0M472.9 279.3h0M474.3 286.3h0M475.7 293.4h0M477.1 300.6h0M478.5 308.9h0M480.0 311.4h0M481.4 318.8h0M482.8 317.8h0M484.2 322.3h0M485.6 324.6h0M487.0 325.7h0M488.5 326.3h0M489.9 330.2h0M491.3 331.7h0M492.7 331.7h0M494.1 334.6h0M495.5 334.6h0M497.0 332.6h0M498.4 339.3h0M499.8 339.1h0M501.2 345.0h0M502.6 344.7h0M504.1 347.8h0M505.5 349.2h0M506.9 349.8h0M508.3 349.5h0M509.7 353.6h0M511.1 355.2h0M512.6 358.4h0M514.0 357.2h0M515.4 359.8h0M516.8 359.2h0M518.2 361.7h0M519.6 359.7h0M521.1 366.7h0M522.5 364.8h0M523.9 363.8h0M525.3 366.7h0M526.7 368.3h0M528.1 368.3h0M529.6 370.9h0M531.0 369.2h0M532.4 366.0h0M533.8 368.7h0M535.2 372.9h0M536.7 372.9h0M538.1 372.4h0M539.5 370.2h0M540.9 373.2h0M542.3 372.9h0M543.7 370.2h0M545.2 370.1h0M546.6 371.9h0M548.0 372.9h0M549.4 373.4h0M550.8 371.7h0M552.2 373.9h0M553.7 368.7h0M555.1 370.6h0M556.5 368.4h0M557.9 365.7h0M559.3 366.5h0M560.7 369.8h0M562.2 365.9h0M563.6 364.8h0M565.0 367.0h0M566.4 366.4h0M567.8 364.0h0M569.2 365.4h0M570.7 359.3h0M572.1 364.4h0M573.5 361.2h0M574.9 358.7h0M576.3 357.6h0M577.8 356.0h0M579.2 354.9h0M580.6 354.8h0M582.0 351.8h0M583.4 356.4h0M584.8 352.1h0M586.3 352.6h0M587.7 350.5h0M589.1 349.6h0M590.5 350.7h0M591.9 349.6h0M593.3 346.6h0M594.8 346.7h0M596.2 347.7h0M597.6 342.6h0M599.0 341.5h0M600.4 347.1h0M601.8 343.6h0M603.3 339.5h0M604.7 341.8h0M606.1 342.2h0M607.5 342.4h0M608.9 342.4h0M610.4 341.4h0M611.8 341.5h0M613.2 338.9h0M614.6 340.2h0M616.0 339.7h0M617.4 340.4h0M618.9 337.9h0M620.3 338.6h0M621.7 336.8h0M623.1 334.0h0M624.5 334.4h0M625.9 333.4h0M627.4 332.8h0M628.8 332.4h0M630.2 331.8h0M631.6 331.2h0M633.0 328.5h0M634.4 330.5h0M635.9 325.6h0M637.3 326.7h0M638.7 326.9h0M640.1 325.5h0M641.5 324.7h0M642.9 322.2h0M644.4 322.6h0M645.8 318.4h0M647.2 320.3h0M648.6 321.5h0M650.0 317.8h0M651.5 318.5h0M652.9 314.0h0M654.3 310.8h0M655.7 310.1h0M657.1 311.8h0M658.5 309.4h0M660.0 303.7h0M661.4 304.4h0M662.8 303.1h0M664.2 299.4h0M665.6 295.2h0M667.0 294.9h0M668.5 294.7h0M669.9 292.1h0M671.3 289.4h0M672.7 289.1h0M674.1 287.6h0M675.5 283.5h0M677.0 282.9h0M678.4 279.3h0M679.8 276.9h0M681.2 271.2h0M682.6 274.2h0M684.1 270.9h0M685.5 268.7h0M686.9 265.5h0M688.3 262.3h0M689.7 262.7h0M691.1 261.1h0M692.6 260.3h0M694.0 257.1h0M695.4 252.8h0M696.8 251.7h0M698.2 251.7h0M699.6 249.0h0M701.1 246.8h0M702.5 244.5h0M703.9 245.0h0M705.3 243.1h0M706.7 244.4h0M708.1 242.1h0M709.6 236.4h0M711.0 241.4h0M712.4 237.3h0M713.8 235.2h0M715.2 235.0h0M716.6 234.5h0M718.1 232.1h0M719.5 230.7h0M720.9 229.5h0M722.3 231.1h0M723.7 227.0h0M725.2 226.8h0M726.6 225.0h0M728.0 222.5h0M729.4 220.5h0M730.8 218.7h0M732.2 219.6h0M733.7 215.8h0M735.1 214.0h0M736.5 212.6h0M737.9 210.6h0M739.3 211.5h0M740.7 209.9h0M742.2 206.5h0M743.6 208.2h0M745.0 203.6h0M746.4 202.8h0" stroke="#b00000" stroke-width="12.5" stroke-linecap="round" fill="none"/>
<path d="M179.5 203.0h0M180.9 201.3h0M182.3 199.3h0M183.7 199.6h0M185.2 197.5h0M186.6 199.0h0M188.0 201.1h0M189.4 204.0h0M190.8 209.0h0M192.2 208.8h0M193.7 210.7h0M195.1 211.6h0M196.5 215.8h0M197.9 212.5h0M199.3 216.5h0M200.7 220.2h0M202.2 222.4h0M203.6 221.5h0M205.0 222.6h0M206.4 225.1h0M207.8 225.1h0M209.3 227.7h0M210.7 227.1h0M212.1 230.5h0M213.5 230.8h0M214.9 230.5h0M216.3 229.3h0M217.8 236.6h0M219.2 237.1h0M220.6 239.2h0M222.0 238.1h0M223.4 242.8h0M224.8 243.3h0M226.3 244.2h0M227.7 247.5h0M229.1 249.2h0M230.5 250.2h0M231.9 254.6h0M233.3 255.3h0M234.8 255.5h0M236.2 256.4h0M237.6 258.8h0M239.0 263.2h0M240.4 262.9h0M241.8 262.7h0M243.3 264.9h0M244.7 267.8h0M246.1 270.8h0M247.5 270.1h0M248.9 273.8h0M250.4 276.4h0M251.8 277.4h0M253.2 275.4h0M254.6 279.1h0M256.0 279.2h0M257.4 283.5h0M258.9 282.8h0M260.3 286.9h0M261.7 287.8h0M263.1 285.0h0M264.5 289.4h0M265.9 292.9h0M267.4 293.8h0M268.8 294.5h0M270.2 294.5h0M271.6 298.7h0M273.0 302.1h0M274.4 301.0h0M275.9 301.7h0M277.3 302.8h0M278.7 302.0h0M280.1 304.8h0M281.5 305.2h0M283.0 309.4h0M284.4 307.3h0M285.8 306.4h0M287.2 309.6h0M288.6 311.4h0M290.0 312.6h0M291.5 311.0h0M292.9 316.4h0M294.3 316.1h0M295.7 316.1h0M297.1 316.6h0M298.5 319.5h0M300.0 319.3h0M301.4 321.2h0M302.8 321.4h0M304.2 322.7h0M305.6 325.2h0M307.0 324.2h0M308.5 323.5h0M309.9 327.3h0M311.3 326.9h0M312.7 326.2h0M314.1 329.8h0M315.5 328.5h0M317.0 331.3h0M318.4 328.6h0M319.8 327.5h0M321.2 328.8h0M322.6 333.4h0M324.1 332.8h0M325.5 334.8h0M326.9 335.9h0M328.3 334.7h0M329.7 340.5h0M331.1 338.1h0M332.6 341.7h0M334.0 341.4h0M335.4 345.6h0M336.8 349.3h0M338.2 350.0h0M339.6 351.3h0M341.1 354.1h0M342.5 354.7h0M343.9 357.1h0M345.3 360.2h0M346.7 355.6h0M348.1 356.2h0M349.6 357.4h0M351.0 357.7h0M352.4 356.3h0M353.8 359.0h0M355.2 359.5h0M356.7 358.9h0M358.1 356.9h0M359.5 361.4h0M360.9 357.5h0M362.3 360.8h0M363.7 362.0h0M365.2 358.7h0M366.6 361.4h0M368.0 363.9h0M369.4 362.9h0M370.8 361.3h0M372.2 361.5h0M373.7 364.7h0M375.1 363.9h0M376.5 363.9h0M377.9 366.7h0M379.3 365.5h0M380.7 366.6h0M382.2 367.9h0M383.6 368.2h0M385.0 367.6h0M386.4 367.9h0M387.8 369.0h0M389.2 368.9h0M390.7 366.4h0M392.1 367.8h0M393.5 366.5h0M394.9 365.8h0M396.3 366.6h0M397.8 363.6h0M399.2 368.3h0M400.6 365.2h0M402.0 366.6h0M403.4 362.6h0M404.8 362.4h0M406.3 367.8h0M407.7 365.6h0M409.1 362.3h0M410.5 361.5h0M411.9 361.0h0M413.3 361.7h0M414.8 360.1h0M416.2 359.1h0M417.6 359.7h0M419.0 357.2h0M420.4 361.9h0M421.8 356.4h0M423.3 358.3h0M424.7 354.2h0M426.1 355.2h0M427.5 355.2h0M428.9 352.0h0M430.4 352.9h0M431.8 351.5h0M433.2 351.2h0M434.6 347.0h0M436.0 344.2h0M437.4 341.2h0M438.9 340.8h0M440.3 336.2h0M441.7 335.1h0M443.1 332.3h0M444.5 328.2h0M445.9 323.8h0M447.4 321.2h0M448.8 313.0h0M450.2 293.1h0M451.6 278.5h0M453.0 269.0h0M454.4 253.3h0M455.9 239.7h0M457.3 226.8h0M458.7 219.6h0M460.1 204.6h0M461.5 191.2h0M463.0 186.4h0M464.4 193.0h0M465.8 213.6h0M467.2 225.0h0M468.6 247.0h0M470.0 266.1h0M471.5 275.4h0M472.9 279.3h0M474.3 286.3h0M475.7 293.4h0M477.1 300.6h0M478.5 308.9h0M480.0 311.4h0M481.4 318.8h0M482.8 317.8h0M484.2 322.3h0M485.6 324.6h0M487.0 325.7h0M488.5 326.3h0M489.9 330.2h0M491.3 331.7h0M492.7 331.7h0M494.1 334.6h0M495.5 334.6h0M497.0 332.6h0M498.4 339.3h0M499.8 339.1h0M501.2 345.0h0M502.6 344.7h0M504.1 347.8h0M505.5 349.2h0M506.9 349.8h0M508.3 349.5h0M509.7 353.6h0M511.1 355.2h0M512.6 358.4h0M514.0 357.2h0M515.4 359.8h0M516.8 359.2h0M518.2 361.7h0M519.6 359.7h0M521.1 366.7h0M522.5 364.8h0M523.9 363.8h0M525.3 366.7h0M526.7 368.3h0M528.1 368.3h0M529.6 370.9h0M531.0 369.2h0M532.4 366.0h0M533.8 368.7h0M535.2 372.9h0M536.7 372.9h0M538.1 372.4h0M539.5 370.2h0M540.9 373.2h0M542.3 372.9h0M543.7 370.2h0M545.2 370.1h0M546.6 371.9h0M548.0 372.9h0M549.4 373.4h0M550.8 371.7h0M552.2 373.9h0M553.7 368.7h0M555.1 370.6h0M556.5 368.4h0M557.9 365.7h0M559.3 366.5h0M560.7 369.8h0M562.2 365.9h0M563.6 364.8h0M565.0 367.0h0M566.4 366.4h0M567.8 364.0h0M569.2 365.4h0M570.7 359.3h0M572.1 364.4h0M573.5 361.2h0M574.9 358.7h0M576.3 357.6h0M577.8 356.0h0M579.2 354.9h0M580.6 354.8h0M582.0 351.8h0M583.4 356.4h0M584.8 352.1h0M586.3 352.6h0M587.7 350.5h0M589.1 349.6h0M590.5 350.7h0M591.9 349.6h0M593.3 346.6h0M594.8 346.7h0M596.2 347.7h0M597.6 342.6h0M599.0 341.5h0M600.4 347.1h0M601.8 343.6h0M603.3 339.5h0M604.7 341.8h0M606.1 342.2h0M607.5 342.4h0M608.9 342.4h0M610.4 341.4h0M611.8 341.5h0M613.2 338.9h0M614.6 340.2h0M616.0 339.7h0M617.4 340.4h0M618.9 337.9h0M620.3 338.6h0M621.7 336.8h0M623.1 334.0h0M624.5 334.4h0M625.9 333.4h0M627.4 332.8h0M628.8 332.4h0M630.2 331.8h0M631.6 331.2h0M633.0 328.5h0M634.4 330.5h0M635.9 325.6h0M637.3 326.7h0M638.7 326.9h0M640.1 325.5h0M641.5 324.7h0M642.9 322.2h0M644.4 322.6h0M645.8 318.4h0M647.2 320.3h0M648.6 321.5h0M650.0 317.8h0M651.5 318.5h0M652.9 314.0h0M654.3 310.8h0M655.7 310.1h0M657.1 311.8h0M658.5 309.4h0M660.0 303.7h0M661.4 304.4h0M662.8 303.1h0M664.2 299.4h0M665.6 295.2h0M667.0 294.9h0M668.5 294.7h0M669.9 292.1h0M671.3 289.4h0M672.7 289.1h0M674.1 287.6h0M675.5 283.5h0M677.0 282.9h0M678.4 279.3h0M679.8 276.9h0M681.2 271.2h0M682.6 274.2h0M684.1 270.9h0M685.5 268.7h0M686.9 265.5h0M688.3 262.3h0M689.7 262.7h0M691.1 261.1h0M692.6 260.3h0M694.0 257.1h0M695.4 252.8h0M696.8 251.7h0M698.2 251.7h0M699.6 249.0h0M701.1 246.8h0M702.5 244.5h0M703.9 245.0h0M705.3 243.1h0M706.7 244.4h0M708.1 242.1h0M709.6 236.4h0M711.0 241.4h0M712.4 237.3h0M713.8 235.2h0M715.2 235.0h0M716.6 234.5h0M718.1 232.1h0M719.5 230.7h0M720.9 229.5h0M722.3 231.1h0M723.7 227.0h0M725.2 226.8h0M726.6 225.0h0M728.0 222.5h0M729.4 220.5h0M730.8 218.7h0M732.2 219.6h0M733.7 215.8h0M735.1 214.0h0M736.5 212.6h0M737.9 210.6h0M739.3 211.5h0M740.7 209.9h0M742.2 206.5h0M743.6 208.2h0M745.0 203.6h0M746.4 202.8h0" stroke="#ff0000" stroke-width="11.3" stroke-linecap="round" fill="none"/>
<rect x="172.4" y="22.8" width="581.1" height="447.9" fill="none" stroke="#000" stroke-width="3.9"/>
<path d="M179.5 470.7v-17.0M179.5 22.8v17.0M193.7 470.7v-9.5M193.7 22.8v9.5M207.8 470.7v-9.5M207.8 22.8v9.5M222.0 470.7v-9.5M222.0 22.8v9.5M236.2 470.7v-9.5M236.2 22.8v9.5M250.4 470.7v-9.5M250.4 22.8v9.5M264.5 470.7v-9.5M264.5 22.8v9.5M278.7 470.7v-9.5M278.7 22.8v9.5M292.9 470.7v-9.5M292.9 22.8v9.5M307.0 470.7v-9.5M307.0 22.8v9.5M321.2 470.7v-17.0M321.2 22.8v17.0M335.4 470.7v-9.5M335.4 22.8v9.5M349.6 470.7v-9.5M349.6 22.8v9.5M363.7 470.7v-9.5M363.7 22.8v9.5M377.9 470.7v-9.5M377.9 22.8v9.5M392.1 470.7v-9.5M392.1 22.8v9.5M406.3 470.7v-9.5M406.3 22.8v9.5M420.4 470.7v-9.5M420.4 22.8v9.5M434.6 470.7v-9.5M434.6 22.8v9.5M448.8 470.7v-9.5M448.8 22.8v9.5M463.0 470.7v-17.0M463.0 22.8v17.0M477.1 470.7v-9.5M477.1 22.8v9.5M491.3 470.7v-9.5M491.3 22.8v9.5M505.5 470.7v-9.5M505.5 22.8v9.5M519.6 470.7v-9.5M519.6 22.8v9.5M533.8 470.7v-9.5M533.8 22.8v9.5M548.0 470.7v-9.5M548.0 22.8v9.5M562.2 470.7v-9.5M562.2 22.8v9.5M576.3 470.7v-9.5M576.3 22.8v9.5M590.5 470.7v-9.5M590.5 22.8v9.5M604.7 470.7v-17.0M604.7 22.8v17.0M618.9 470.7v-9.5M618.9 22.8v9.5M633.0 470.7v-9.5M633.0 22.8v9.5M647.2 470.7v-9.5M647.2 22.8v9.5M661.4 470.7v-9.5M661.4 22.8v9.5M675.5 470.7v-9.5M675.5 22.8v9.5M689.7 470.7v-9.5M689.7 22.8v9.5M703.9 470.7v-9.5M703.9 22.8v9.5M718.1 470.7v-9.5M718.1 22.8v9.5M732.2 470.7v-9.5M732.2 22.8v9.5M746.4 470.7v-17.0M746.4 22.8v17.0" stroke="#000" stroke-width="4.4" fill="none"/>
<path d="M172.4 430.0h17.0M753.5 430.0h-17.0M172.4 389.3h9.5M753.5 389.3h-9.5M172.4 348.5h17.0M753.5 348.5h-17.0M172.4 307.8h9.5M753.5 307.8h-9.5M172.4 267.1h17.0M753.5 267.1h-17.0M172.4 226.4h9.5M753.5 226.4h-9.5M172.4 185.7h17.0M753.5 185.7h-17.0M172.4 145.0h9.5M753.5 145.0h-9.5M172.4 104.2h17.0M753.5 104.2h-17.0M172.4 63.5h9.5M753.5 63.5h-9.5" stroke="#000" stroke-width="3.6" fill="none"/>
<path d="M979.9 241.9L981.3 244.3L982.7 241.4L984.1 238.6L985.6 235.8L987.0 235.1L988.4 237.4L989.8 237.5L991.2 238.9L992.6 235.9L994.1 237.7L995.5 236.1L996.9 234.1L998.3 239.3L999.7 243.9L1001.2 243.6L1002.6 246.3L1004.0 247.0L1005.4 242.2L1006.8 246.2L1008.2 251.8L1009.7 247.7L1011.1 247.4L1012.5 252.3L1013.9 254.0L1015.3 254.0L1016.7 253.2L1018.2 253.1L1019.6 252.5L1021.0 253.2L1022.4 253.9L1023.8 254.2L1025.2 256.7L1026.7 262.8L1028.1 260.1L1029.5 259.9L1030.9 262.4L1032.3 260.2L1033.8 264.3L1035.2 266.8L1036.6 262.2L1038.0 265.4L1039.4 267.9L1040.8 267.5L1042.3 268.7L1043.7 271.9L1045.1 280.2L1046.5 277.2L1047.9 278.1L1049.3 280.7L1050.8 279.1L1052.2 277.9L1053.6 283.0L1055.0 285.6L1056.4 278.9L1057.9 285.9L1059.3 288.7L1060.7 286.0L1062.1 286.5L1063.5 290.1L1064.9 287.2L1066.4 291.2L1067.8 293.0L1069.2 291.1L1070.6 290.4L1072.0 294.5L1073.4 292.9L1074.9 294.6L1076.3 288.1L1077.7 297.3L1079.1 292.8L1080.5 296.8L1082.0 297.6L1083.4 296.0L1084.8 296.1L1086.2 295.7L1087.6 298.5L1089.0 301.4L1090.5 301.8L1091.9 299.8L1093.3 300.2L1094.7 298.9L1096.1 301.9L1097.5 301.1L1099.0 300.7L1100.4 304.7L1101.8 309.5L1103.2 309.5L1104.6 310.9L1106.1 304.2L1107.5 310.9L1108.9 306.6L1110.3 309.0L1111.7 307.0L1113.1 309.4L1114.6 312.8L1116.0 313.8L1117.4 313.8L1118.8 314.3L1120.2 316.7L1121.6 316.2L1123.1 312.9L1124.5 321.7L1125.9 317.6L1127.3 321.1L1128.7 319.1L1130.1 318.2L1131.6 321.0L1133.0 319.6L1134.4 326.0L1135.8 320.1L1137.2 324.9L1138.7 322.5L1140.1 324.2L1141.5 331.6L1142.9 327.8L1144.3 326.0L1145.7 323.3L1147.2 327.0L1148.6 327.6L1150.0 332.2L1151.4 325.8L1152.8 325.3L1154.2 330.1L1155.7 331.1L1157.1 334.9L1158.5 329.2L1159.9 325.2L1161.3 330.4L1162.8 329.4L1164.2 331.5L1165.6 335.6L1167.0 330.3L1168.4 336.8L1169.8 334.5L1171.3 333.5L1172.7 332.2L1174.1 333.4L1175.5 333.5L1176.9 336.3L1178.3 337.5L1179.8 334.1L1181.2 335.8L1182.6 337.1L1184.0 336.7L1185.4 334.5L1186.9 337.5L1188.3 336.0L1189.7 336.3L1191.1 331.4L1192.5 330.5L1193.9 326.1L1195.4 334.2L1196.8 331.7L1198.2 326.9L1199.6 328.6L1201.0 327.6L1202.4 321.1L1203.9 324.4L1205.3 324.7L1206.7 323.2L1208.1 317.3L1209.5 315.5L1211.0 317.7L1212.4 315.0L1213.8 309.6L1215.2 308.0L1216.6 309.6L1218.0 305.4L1219.5 304.4L1220.9 309.1L1222.3 304.3L1223.7 301.2L1225.1 302.1L1226.5 304.4L1228.0 298.2L1229.4 293.9L1230.8 290.0L1232.2 297.2L1233.6 283.4L1235.0 290.2L1236.5 282.7L1237.9 279.4L1239.3 277.2L1240.7 276.3L1242.1 276.4L1243.6 268.7L1245.0 268.0L1246.4 267.6L1247.8 248.7L1249.2 246.5L1250.6 227.4L1252.1 217.8L1253.5 204.4L1254.9 198.1L1256.3 193.7L1257.7 194.1L1259.1 194.0L1260.6 188.8L1262.0 191.8L1263.4 189.8L1264.8 186.4L1266.2 191.5L1267.7 192.7L1269.1 196.5L1270.5 197.6L1271.9 206.2L1273.3 216.0L1274.7 218.5L1276.2 228.7L1277.6 232.8L1279.0 234.8L1280.4 244.9L1281.8 247.4L1283.2 254.7L1284.7 255.9L1286.1 256.8L1287.5 267.1L1288.9 269.1L1290.3 276.2L1291.8 281.0L1293.2 285.3L1294.6 282.8L1296.0 284.6L1297.4 293.0L1298.8 299.6L1300.3 299.6L1301.7 305.4L1303.1 306.0L1304.5 310.5L1305.9 313.6L1307.3 315.7L1308.8 321.3L1310.2 323.1L1311.6 328.1L1313.0 326.5L1314.4 330.3L1315.8 328.6L1317.3 331.9L1318.7 330.5L1320.1 330.8L1321.5 336.4L1322.9 335.9L1324.4 337.1L1325.8 333.8L1327.2 332.3L1328.6 335.0L1330.0 338.6L1331.4 334.7L1332.9 342.4L1334.3 335.5L1335.7 341.2L1337.1 346.8L1338.5 334.0L1339.9 337.0L1341.4 343.7L1342.8 341.1L1344.2 342.3L1345.6 341.7L1347.0 345.8L1348.5 343.9L1349.9 341.1L1351.3 341.7L1352.7 339.3L1354.1 341.9L1355.5 336.3L1357.0 343.6L1358.4 341.0L1359.8 346.1L1361.2 344.3L1362.6 337.7L1364.0 343.0L1365.5 339.1L1366.9 340.3L1368.3 342.5L1369.7 340.5L1371.1 340.7L1372.6 340.3L1374.0 337.0L1375.4 336.9L1376.8 339.6L1378.2 340.0L1379.6 336.7L1381.1 337.3L1382.5 334.1L1383.9 329.7L1385.3 333.7L1386.7 335.4L1388.1 335.3L1389.6 336.6L1391.0 336.2L1392.4 335.9L1393.8 333.9L1395.2 333.4L1396.7 329.9L1398.1 332.0L1399.5 330.9L1400.9 332.7L1402.3 325.0L1403.7 327.0L1405.2 323.1L1406.6 324.8L1408.0 322.4L1409.4 325.9L1410.8 322.8L1412.2 317.2L1413.7 326.0L1415.1 319.5L1416.5 317.5L1417.9 320.0L1419.3 318.6L1420.7 316.7L1422.2 320.9L1423.6 317.8L1425.0 320.5L1426.4 319.7L1427.8 319.2L1429.3 317.7L1430.7 316.8L1432.1 315.8L1433.5 320.4L1434.9 311.7L1436.3 313.7L1437.8 314.6L1439.2 317.3L1440.6 316.5L1442.0 314.8L1443.4 315.0L1444.8 320.1L1446.3 313.9L1447.7 308.3L1449.1 320.1L1450.5 312.7L1451.9 313.9L1453.4 314.7L1454.8 310.4L1456.2 316.1L1457.6 312.0L1459.0 308.0L1460.4 311.3L1461.9 310.9L1463.3 308.6L1464.7 309.1L1466.1 303.1L1467.5 308.3L1468.9 302.8L1470.4 307.2L1471.8 301.4L1473.2 302.3L1474.6 307.5L1476.0 299.9L1477.5 301.4L1478.9 298.7L1480.3 292.5L1481.7 297.9L1483.1 296.5L1484.5 288.9L1486.0 290.9L1487.4 285.9L1488.8 287.6L1490.2 289.2L1491.6 285.7L1493.0 280.9L1494.5 279.9L1495.9 280.5L1497.3 278.5L1498.7 277.1L1500.1 276.4L1501.6 268.3L1503.0 271.3L1504.4 272.5L1505.8 269.2L1507.2 264.7L1508.6 263.5L1510.1 264.3L1511.5 264.5L1512.9 261.7L1514.3 265.0L1515.7 263.0L1517.1 256.8L1518.6 259.1L1520.0 256.1L1521.4 253.2L1522.8 253.8L1524.2 254.6L1525.6 248.6L1527.1 251.6L1528.5 253.5L1529.9 250.1L1531.3 250.4L1532.7 252.9L1534.2 250.0L1535.6 250.1L1537.0 254.1L1538.4 249.1L1539.8 248.9L1541.2 248.8L1542.7 251.5L1544.1 248.0L1545.5 246.9L1546.9 246.4" stroke="#2a2ae6" stroke-width="3.5" fill="none" stroke-linejoin="round"/>
<path d="M979.9 234.4l6.5 11.3h-13.0zM981.3 236.7l6.5 11.3h-13.0zM982.7 233.9l6.5 11.3h-13.0zM984.1 231.1l6.5 11.3h-13.0zM985.6 228.3l6.5 11.3h-13.0zM987.0 227.6l6.5 11.3h-13.0zM988.4 229.9l6.5 11.3h-13.0zM989.8 230.0l6.5 11.3h-13.0zM991.2 231.4l6.5 11.3h-13.0zM992.6 228.4l6.5 11.3h-13.0zM994.1 230.2l6.5 11.3h-13.0zM995.5 228.6l6.5 11.3h-13.0zM996.9 226.5l6.5 11.3h-13.0zM998.3 231.8l6.5 11.3h-13.0zM999.7 236.4l6.5 11.3h-13.0zM1001.2 236.1l6.5 11.3h-13.0zM1002.6 238.8l6.5 11.3h-13.0zM1004.0 239.5l6.5 11.3h-13.0zM1005.4 234.7l6.5 11.3h-13.0zM1006.8 238.7l6.5 11.3h-13.0zM1008.2 244.3l6.5 11.3h-13.0zM1009.7 240.2l6.5 11.3h-13.0zM1011.1 239.9l6.5 11.3h-13.0zM1012.5 244.8l6.5 11.3h-13.0zM1013.9 246.5l6.5 11.3h-13.0zM1015.3 246.4l6.5 11.3h-13.0zM1016.7 245.7l6.5 11.3h-13.0zM1018.2 245.6l6.5 11.3h-13.0zM1019.6 245.0l6.5 11.3h-13.0zM1021.0 245.7l6.5 11.3h-13.0zM1022.4 246.4l6.5 11.3h-13.0zM1023.8 246.7l6.5 11.3h-13.0zM1025.2 249.2l6.5 11.3h-13.0zM1026.7 255.3l6.5 11.3h-13.0zM1028.1 252.6l6.5 11.3h-13.0zM1029.5 252.4l6.5 11.3h-13.0zM1030.9 254.9l6.5 11.3h-13.0zM1032.3 252.7l6.5 11.3h-13.0zM1033.8 256.8l6.5 11.3h-13.0zM1035.2 259.3l6.5 11.3h-13.0zM1036.6 254.7l6.5 11.3h-13.0zM1038.0 257.9l6.5 11.3h-13.0zM1039.4 260.4l6.5 11.3h-13.0zM1040.8 260.0l6.5 11.3h-13.0zM1042.3 261.1l6.5 11.3h-13.0zM1043.7 264.4l6.5 11.3h-13.0zM1045.1 272.6l6.5 11.3h-13.0zM1046.5 269.7l6.5 11.3h-13.0zM1047.9 270.6l6.5 11.3h-13.0zM1049.3 273.2l6.5 11.3h-13.0zM1050.8 271.6l6.5 11.3h-13.0zM1052.2 270.3l6.5 11.3h-13.0zM1053.6 275.5l6.5 11.3h-13.0zM1055.0 278.1l6.5 11.3h-13.0zM1056.4 271.4l6.5 11.3h-13.0zM1057.9 278.4l6.5 11.3h-13.0zM1059.3 281.2l6.5 11.3h-13.0zM1060.7 278.5l6.5 11.3h-13.0zM1062.1 278.9l6.5 11.3h-13.0zM1063.5 282.6l6.5 11.3h-13.0zM1064.9 279.7l6.5 11.3h-13.0zM1066.4 283.7l6.5 11.3h-13.0zM1067.8 285.5l6.5 11.3h-13.0zM1069.2 283.6l6.5 11.3h-13.0zM1070.6 282.9l6.5 11.3h-13.0zM1072.0 287.0l6.5 11.3h-13.0zM1073.4 285.4l6.5 11.3h-13.0zM1074.9 287.1l6.5 11.3h-13.0zM1076.3 280.6l6.5 11.3h-13.0zM1077.7 289.8l6.5 11.3h-13.0zM1079.1 285.3l6.5 11.3h-13.0zM1080.5 289.3l6.5 11.3h-13.0zM1082.0 290.1l6.5 11.3h-13.0zM1083.4 288.5l6.5 11.3h-13.0zM1084.8 288.6l6.5 11.3h-13.0zM1086.2 288.2l6.5 11.3h-13.0zM1087.6 291.0l6.5 11.3h-13.0zM1089.0 293.8l6.5 11.3h-13.0zM1090.5 294.3l6.5 11.3h-13.0zM1091.9 292.3l6.5 11.3h-13.0zM1093.3 292.7l6.5 11.3h-13.0zM1094.7 291.4l6.5 11.3h-13.0zM1096.1 294.4l6.5 11.3h-13.0zM1097.5 293.5l6.5 11.3h-13.0zM1099.0 293.1l6.5 11.3h-13.0zM1100.4 297.2l6.5 11.3h-13.0zM1101.8 301.9l6.5 11.3h-13.0zM1103.2 302.0l6.5 11.3h-13.0zM1104.6 303.4l6.5 11.3h-13.0zM1106.1 296.7l6.5 11.3h-13.0zM1107.5 303.4l6.5 11.3h-13.0zM1108.9 299.1l6.5 11.3h-13.0zM1110.3 301.5l6.5 11.3h-13.0zM1111.7 299.5l6.5 11.3h-13.0zM1113.1 301.9l6.5 11.3h-13.0zM1114.6 305.3l6.5 11.3h-13.0zM1116.0 306.3l6.5 11.3h-13.0zM1117.4 306.3l6.5 11.3h-13.0zM1118.8 306.8l6.5 11.3h-13.0zM1120.2 309.2l6.5 11.3h-13.0zM1121.6 308.7l6.5 11.3h-13.0zM1123.1 305.4l6.5 11.3h-13.0zM1124.5 314.2l6.5 11.3h-13.0zM1125.9 310.1l6.5 11.3h-13.0zM1127.3 313.6l6.5 11.3h-13.0zM1128.7 311.6l6.5 11.3h-13.0zM1130.1 310.7l6.5 11.3h-13.0zM1131.6 313.5l6.5 11.3h-13.0zM1133.0 312.1l6.5 11.3h-13.0zM1134.4 318.5l6.5 11.3h-13.0zM1135.8 312.6l6.5 11.3h-13.0zM1137.2 317.4l6.5 11.3h-13.0zM1138.7 315.0l6.5 11.3h-13.0zM1140.1 316.7l6.5 11.3h-13.0zM1141.5 324.1l6.5 11.3h-13.0zM1142.9 320.3l6.5 11.3h-13.0zM1144.3 318.5l6.5 11.3h-13.0zM1145.7 315.8l6.5 11.3h-13.0zM1147.2 319.5l6.5 11.3h-13.0zM1148.6 320.1l6.5 11.3h-13.0zM1150.0 324.7l6.5 11.3h-13.0zM1151.4 318.3l6.5 11.3h-13.0zM1152.8 317.8l6.5 11.3h-13.0zM1154.2 322.6l6.5 11.3h-13.0zM1155.7 323.6l6.5 11.3h-13.0zM1157.1 327.4l6.5 11.3h-13.0zM1158.5 321.7l6.5 11.3h-13.0zM1159.9 317.6l6.5 11.3h-13.0zM1161.3 322.9l6.5 11.3h-13.0zM1162.8 321.9l6.5 11.3h-13.0zM1164.2 324.0l6.5 11.3h-13.0zM1165.6 328.1l6.5 11.3h-13.0zM1167.0 322.8l6.5 11.3h-13.0zM1168.4 329.3l6.5 11.3h-13.0zM1169.8 327.0l6.5 11.3h-13.0zM1171.3 326.0l6.5 11.3h-13.0zM1172.7 324.7l6.5 11.3h-13.0zM1174.1 325.9l6.5 11.3h-13.0zM1175.5 326.0l6.5 11.3h-13.0zM1176.9 328.8l6.5 11.3h-13.0zM1178.3 330.0l6.5 11.3h-13.0zM1179.8 326.6l6.5 11.3h-13.0zM1181.2 328.3l6.5 11.3h-13.0zM1182.6 329.6l6.5 11.3h-13.0zM1184.0 329.2l6.5 11.3h-13.0zM1185.4 327.0l6.5 11.3h-13.0zM1186.9 330.0l6.5 11.3h-13.0zM1188.3 328.5l6.5 11.3h-13.0zM1189.7 328.8l6.5 11.3h-13.0zM1191.1 323.9l6.5 11.3h-13.0zM1192.5 323.0l6.5 11.3h-13.0zM1193.9 318.6l6.5 11.3h-13.0zM1195.4 326.7l6.5 11.3h-13.0zM1196.8 324.2l6.5 11.3h-13.0zM1198.2 319.4l6.5 11.3h-13.0zM1199.6 321.1l6.5 11.3h-13.0zM1201.0 320.1l6.5 11.3h-13.0zM1202.4 313.6l6.5 11.3h-13.0zM1203.9 316.9l6.5 11.3h-13.0zM1205.3 317.2l6.5 11.3h-13.0zM1206.7 315.7l6.5 11.3h-13.0zM1208.1 309.8l6.5 11.3h-13.0zM1209.5 308.0l6.5 11.3h-13.0zM1211.0 310.2l6.5 11.3h-13.0zM1212.4 307.5l6.5 11.3h-13.0zM1213.8 302.1l6.5 11.3h-13.0zM1215.2 300.5l6.5 11.3h-13.0zM1216.6 302.1l6.5 11.3h-13.0zM1218.0 297.9l6.5 11.3h-13.0zM1219.5 296.9l6.5 11.3h-13.0zM1220.9 301.6l6.5 11.3h-13.0zM1222.3 296.8l6.5 11.3h-13.0zM1223.7 293.7l6.5 11.3h-13.0zM1225.1 294.6l6.5 11.3h-13.0zM1226.5 296.9l6.5 11.3h-13.0zM1228.0 290.7l6.5 11.3h-13.0zM1229.4 286.4l6.5 11.3h-13.0zM1230.8 282.5l6.5 11.3h-13.0zM1232.2 289.7l6.5 11.3h-13.0zM1233.6 275.9l6.5 11.3h-13.0zM1235.0 282.7l6.5 11.3h-13.0zM1236.5 275.2l6.5 11.3h-13.0zM1237.9 271.9l6.5 11.3h-13.0zM1239.3 269.7l6.5 11.3h-13.0zM1240.7 268.8l6.5 11.3h-13.0zM1242.1 268.9l6.5 11.3h-13.0zM1243.6 261.1l6.5 11.3h-13.0zM1245.0 260.5l6.5 11.3h-13.0zM1246.4 260.1l6.5 11.3h-13.0zM1247.8 241.2l6.5 11.3h-13.0zM1249.2 239.0l6.5 11.3h-13.0zM1250.6 219.9l6.5 11.3h-13.0zM1252.1 210.3l6.5 11.3h-13.0zM1253.5 196.9l6.5 11.3h-13.0zM1254.9 190.6l6.5 11.3h-13.0zM1256.3 186.2l6.5 11.3h-13.0zM1257.7 186.6l6.5 11.3h-13.0zM1259.1 186.5l6.5 11.3h-13.0zM1260.6 181.3l6.5 11.3h-13.0zM1262.0 184.3l6.5 11.3h-13.0zM1263.4 182.3l6.5 11.3h-13.0zM1264.8 178.9l6.5 11.3h-13.0zM1266.2 184.0l6.5 11.3h-13.0zM1267.7 185.2l6.5 11.3h-13.0zM1269.1 188.9l6.5 11.3h-13.0zM1270.5 190.1l6.5 11.3h-13.0zM1271.9 198.7l6.5 11.3h-13.0zM1273.3 208.5l6.5 11.3h-13.0zM1274.7 211.0l6.5 11.3h-13.0zM1276.2 221.2l6.5 11.3h-13.0zM1277.6 225.3l6.5 11.3h-13.0zM1279.0 227.2l6.5 11.3h-13.0zM1280.4 237.4l6.5 11.3h-13.0zM1281.8 239.9l6.5 11.3h-13.0zM1283.2 247.2l6.5 11.3h-13.0zM1284.7 248.4l6.5 11.3h-13.0zM1286.1 249.3l6.5 11.3h-13.0zM1287.5 259.6l6.5 11.3h-13.0zM1288.9 261.6l6.5 11.3h-13.0zM1290.3 268.7l6.5 11.3h-13.0zM1291.8 273.4l6.5 11.3h-13.0zM1293.2 277.8l6.5 11.3h-13.0zM1294.6 275.3l6.5 11.3h-13.0zM1296.0 277.1l6.5 11.3h-13.0zM1297.4 285.5l6.5 11.3h-13.0zM1298.8 292.1l6.5 11.3h-13.0zM1300.3 292.1l6.5 11.3h-13.0zM1301.7 297.9l6.5 11.3h-13.0zM1303.1 298.4l6.5 11.3h-13.0zM1304.5 303.0l6.5 11.3h-13.0zM1305.9 306.1l6.5 11.3h-13.0zM1307.3 308.2l6.5 11.3h-13.0zM1308.8 313.8l6.5 11.3h-13.0zM1310.2 315.6l6.5 11.3h-13.0zM1311.6 320.6l6.5 11.3h-13.0zM1313.0 319.0l6.5 11.3h-13.0zM1314.4 322.8l6.5 11.3h-13.0zM1315.8 321.1l6.5 11.3h-13.0zM1317.3 324.3l6.5 11.3h-13.0zM1318.7 323.0l6.5 11.3h-13.0zM1320.1 323.3l6.5 11.3h-13.0zM1321.5 328.9l6.5 11.3h-13.0zM1322.9 328.4l6.5 11.3h-13.0zM1324.4 329.6l6.5 11.3h-13.0zM1325.8 326.3l6.5 11.3h-13.0zM1327.2 324.8l6.5 11.3h-13.0zM1328.6 327.5l6.5 11.3h-13.0zM1330.0 331.1l6.5 11.3h-13.0zM1331.4 327.2l6.5 11.3h-13.0zM1332.9 334.9l6.5 11.3h-13.0zM1334.3 328.0l6.5 11.3h-13.0zM1335.7 333.7l6.5 11.3h-13.0zM1337.1 339.3l6.5 11.3h-13.0zM1338.5 326.5l6.5 11.3h-13.0zM1339.9 329.5l6.5 11.3h-13.0zM1341.4 336.2l6.5 11.3h-13.0zM1342.8 333.6l6.5 11.3h-13.0zM1344.2 334.8l6.5 11.3h-13.0zM1345.6 334.2l6.5 11.3h-13.0zM1347.0 338.3l6.5 11.3h-13.0zM1348.5 336.4l6.5 11.3h-13.0zM1349.9 333.6l6.5 11.3h-13.0zM1351.3 334.2l6.5 11.3h-13.0zM1352.7 331.8l6.5 11.3h-13.0zM1354.1 334.4l6.5 11.3h-13.0zM1355.5 328.7l6.5 11.3h-13.0zM1357.0 336.1l6.5 11.3h-13.0zM1358.4 333.5l6.5 11.3h-13.0zM1359.8 338.6l6.5 11.3h-13.0zM1361.2 336.7l6.5 11.3h-13.0zM1362.6 330.2l6.5 11.3h-13.0zM1364.0 335.5l6.5 11.3h-13.0zM1365.5 331.6l6.5 11.3h-13.0zM1366.9 332.8l6.5 11.3h-13.0zM1368.3 335.0l6.5 11.3h-13.0zM1369.7 333.0l6.5 11.3h-13.0zM1371.1 333.1l6.5 11.3h-13.0zM1372.6 332.8l6.5 11.3h-13.0zM1374.0 329.5l6.5 11.3h-13.0zM1375.4 329.4l6.5 11.3h-13.0zM1376.8 332.1l6.5 11.3h-13.0zM1378.2 332.5l6.5 11.3h-13.0zM1379.6 329.2l6.5 11.3h-13.0zM1381.1 329.8l6.5 11.3h-13.0zM1382.5 326.6l6.5 11.3h-13.0zM1383.9 322.2l6.5 11.3h-13.0zM1385.3 326.2l6.5 11.3h-13.0zM1386.7 327.9l6.5 11.3h-13.0zM1388.1 327.8l6.5 11.3h-13.0zM1389.6 329.0l6.5 11.3h-13.0zM1391.0 328.7l6.5 11.3h-13.0zM1392.4 328.4l6.5 11.3h-13.0zM1393.8 326.4l6.5 11.3h-13.0zM1395.2 325.9l6.5 11.3h-13.0zM1396.7 322.4l6.5 11.3h-13.0zM1398.1 324.5l6.5 11.3h-13.0zM1399.5 323.4l6.5 11.3h-13.0zM1400.9 325.2l6.5 11.3h-13.0zM1402.3 317.5l6.5 11.3h-13.0zM1403.7 319.5l6.5 11.3h-13.0zM1405.2 315.6l6.5 11.3h-13.0zM1406.6 317.3l6.5 11.3h-13.0zM1408.0 314.9l6.5 11.3h-13.0zM1409.4 318.3l6.5 11.3h-13.0zM1410.8 315.2l6.5 11.3h-13.0zM1412.2 309.7l6.5 11.3h-13.0zM1413.7 318.5l6.5 11.3h-13.0zM1415.1 312.0l6.5 11.3h-13.0zM1416.5 310.0l6.5 11.3h-13.0zM1417.9 312.5l6.5 11.3h-13.0zM1419.3 311.1l6.5 11.3h-13.0zM1420.7 309.2l6.5 11.3h-13.0zM1422.2 313.4l6.5 11.3h-13.0zM1423.6 310.3l6.5 11.3h-13.0zM1425.0 313.0l6.5 11.3h-13.0zM1426.4 312.2l6.5 11.3h-13.0zM1427.8 311.7l6.5 11.3h-13.0zM1429.3 310.2l6.5 11.3h-13.0zM1430.7 309.3l6.5 11.3h-13.0zM1432.1 308.3l6.5 11.3h-13.0zM1433.5 312.8l6.5 11.3h-13.0zM1434.9 304.2l6.5 11.3h-13.0zM1436.3 306.2l6.5 11.3h-13.0zM1437.8 307.1l6.5 11.3h-13.0zM1439.2 309.8l6.5 11.3h-13.0zM1440.6 309.0l6.5 11.3h-13.0zM1442.0 307.3l6.5 11.3h-13.0zM1443.4 307.5l6.5 11.3h-13.0zM1444.8 312.6l6.5 11.3h-13.0zM1446.3 306.4l6.5 11.3h-13.0zM1447.7 300.8l6.5 11.3h-13.0zM1449.1 312.5l6.5 11.3h-13.0zM1450.5 305.2l6.5 11.3h-13.0zM1451.9 306.4l6.5 11.3h-13.0zM1453.4 307.2l6.5 11.3h-13.0zM1454.8 302.9l6.5 11.3h-13.0zM1456.2 308.6l6.5 11.3h-13.0zM1457.6 304.5l6.5 11.3h-13.0zM1459.0 300.5l6.5 11.3h-13.0zM1460.4 303.8l6.5 11.3h-13.0zM1461.9 303.4l6.5 11.3h-13.0zM1463.3 301.1l6.5 11.3h-13.0zM1464.7 301.6l6.5 11.3h-13.0zM1466.1 295.6l6.5 11.3h-13.0zM1467.5 300.8l6.5 11.3h-13.0zM1468.9 295.3l6.5 11.3h-13.0zM1470.4 299.7l6.5 11.3h-13.0zM1471.8 293.9l6.5 11.3h-13.0zM1473.2 294.8l6.5 11.3h-13.0zM1474.6 300.0l6.5 11.3h-13.0zM1476.0 292.4l6.5 11.3h-13.0zM1477.5 293.9l6.5 11.3h-13.0zM1478.9 291.2l6.5 11.3h-13.0zM1480.3 285.0l6.5 11.3h-13.0zM1481.7 290.4l6.5 11.3h-13.0zM1483.1 288.9l6.5 11.3h-13.0zM1484.5 281.4l6.5 11.3h-13.0zM1486.0 283.4l6.5 11.3h-13.0zM1487.4 278.4l6.5 11.3h-13.0zM1488.8 280.1l6.5 11.3h-13.0zM1490.2 281.7l6.5 11.3h-13.0zM1491.6 278.2l6.5 11.3h-13.0zM1493.0 273.4l6.5 11.3h-13.0zM1494.5 272.4l6.5 11.3h-13.0zM1495.9 273.0l6.5 11.3h-13.0zM1497.3 271.0l6.5 11.3h-13.0zM1498.7 269.6l6.5 11.3h-13.0zM1500.1 268.9l6.5 11.3h-13.0zM1501.6 260.8l6.5 11.3h-13.0zM1503.0 263.8l6.5 11.3h-13.0zM1504.4 265.0l6.5 11.3h-13.0zM1505.8 261.7l6.5 11.3h-13.0zM1507.2 257.2l6.5 11.3h-13.0zM1508.6 256.0l6.5 11.3h-13.0zM1510.1 256.8l6.5 11.3h-13.0zM1511.5 257.0l6.5 11.3h-13.0zM1512.9 254.2l6.5 11.3h-13.0zM1514.3 257.4l6.5 11.3h-13.0zM1515.7 255.5l6.5 11.3h-13.0zM1517.1 249.3l6.5 11.3h-13.0zM1518.6 251.6l6.5 11.3h-13.0zM1520.0 248.6l6.5 11.3h-13.0zM1521.4 245.7l6.5 11.3h-13.0zM1522.8 246.3l6.5 11.3h-13.0zM1524.2 247.1l6.5 11.3h-13.0zM1525.6 241.1l6.5 11.3h-13.0zM1527.1 244.1l6.5 11.3h-13.0zM1528.5 246.0l6.5 11.3h-13.0zM1529.9 242.6l6.5 11.3h-13.0zM1531.3 242.9l6.5 11.3h-13.0zM1532.7 245.4l6.5 11.3h-13.0zM1534.2 242.5l6.5 11.3h-13.0zM1535.6 242.6l6.5 11.3h-13.0zM1537.0 246.5l6.5 11.3h-13.0zM1538.4 241.5l6.5 11.3h-13.0zM1539.8 241.4l6.5 11.3h-13.0zM1541.2 241.3l6.5 11.3h-13.0zM1542.7 244.0l6.5 11.3h-13.0zM1544.1 240.4l6.5 11.3h-13.0zM1545.5 239.4l6.5 11.3h-13.0zM1546.9 238.9l6.5 11.3h-13.0z" fill="#000090" stroke="#000090" stroke-width="1.0" stroke-linejoin="miter"/>
<path d="M979.9 234.4l6.5 11.3h-13.0zM981.3 236.7l6.5 11.3h-13.0zM982.7 233.9l6.5 11.3h-13.0zM984.1 231.1l6.5 11.3h-13.0zM985.6 228.3l6.5 11.3h-13.0zM987.0 227.6l6.5 11.3h-13.0zM988.4 229.9l6.5 11.3h-13.0zM989.8 230.0l6.5 11.3h-13.0zM991.2 231.4l6.5 11.3h-13.0zM992.6 228.4l6.5 11.3h-13.0zM994.1 230.2l6.5 11.3h-13.0zM995.5 228.6l6.5 11.3h-13.0zM996.9 226.5l6.5 11.3h-13.0zM998.3 231.8l6.5 11.3h-13.0zM999.7 236.4l6.5 11.3h-13.0zM1001.2 236.1l6.5 11.3h-13.0zM1002.6 238.8l6.5 11.3h-13.0zM1004.0 239.5l6.5 11.3h-13.0zM1005.4 234.7l6.5 11.3h-13.0zM1006.8 238.7l6.5 11.3h-13.0zM1008.2 244.3l6.5 11.3h-13.0zM1009.7 240.2l6.5 11.3h-13.0zM1011.1 239.9l6.5 11.3h-13.0zM1012.5 244.8l6.5 11.3h-13.0zM1013.9 246.5l6.5 11.3h-13.0zM1015.3 246.4l6.5 11.3h-13.0zM1016.7 245.7l6.5 11.3h-13.0zM1018.2 245.6l6.5 11.3h-13.0zM1019.6 245.0l6.5 11.3h-13.0zM1021.0 245.7l6.5 11.3h-13.0zM1022.4 246.4l6.5 11.3h-13.0zM1023.8 246.7l6.5 11.3h-13.0zM1025.2 249.2l6.5 11.3h-13.0zM1026.7 255.3l6.5 11.3h-13.0zM1028.1 252.6l6.5 11.3h-13.0zM1029.5 252.4l6.5 11.3h-13.0zM1030.9 254.9l6.5 11.3h-13.0zM1032.3 252.7l6.5 11.3h-13.0zM1033.8 256.8l6.5 11.3h-13.0zM1035.2 259.3l6.5 11.3h-13.0zM1036.6 254.7l6.5 11.3h-13.0zM1038.0 257.9l6.5 11.3h-13.0zM1039.4 260.4l6.5 11.3h-13.0zM1040.8 260.0l6.5 11.3h-13.0zM1042.3 261.1l6.5 11.3h-13.0zM1043.7 264.4l6.5 11.3h-13.0zM1045.1 272.6l6.5 11.3h-13.0zM1046.5 269.7l6.5 11.3h-13.0zM1047.9 270.6l6.5 11.3h-13.0zM1049.3 273.2l6.5 11.3h-13.0zM1050.8 271.6l6.5 11.3h-13.0zM1052.2 270.3l6.5 11.3h-13.0zM1053.6 275.5l6.5 11.3h-13.0zM1055.0 278.1l6.5 11.3h-13.0zM1056.4 271.4l6.5 11.3h-13.0zM1057.9 278.4l6.5 11.3h-13.0zM1059.3 281.2l6.5 11.3h-13.0zM1060.7 278.5l6.5 11.3h-13.0zM1062.1 278.9l6.5 11.3h-13.0zM1063.5 282.6l6.5 11.3h-13.0zM1064.9 279.7l6.5 11.3h-13.0zM1066.4 283.7l6.5 11.3h-13.0zM1067.8 285.5l6.5 11.3h-13.0zM1069.2 283.6l6.5 11.3h-13.0zM1070.6 282.9l6.5 11.3h-13.0zM1072.0 287.0l6.5 11.3h-13.0zM1073.4 285.4l6.5 11.3h-13.0zM1074.9 287.1l6.5 11.3h-13.0zM1076.3 280.6l6.5 11.3h-13.0zM1077.7 289.8l6.5 11.3h-13.0zM1079.1 285.3l6.5 11.3h-13.0zM1080.5 289.3l6.5 11.3h-13.0zM1082.0 290.1l6.5 11.3h-13.0zM1083.4 288.5l6.5 11.3h-13.0zM1084.8 288.6l6.5 11.3h-13.0zM1086.2 288.2l6.5 11.3h-13.0zM1087.6 291.0l6.5 11.3h-13.0zM1089.0 293.8l6.5 11.3h-13.0zM1090.5 294.3l6.5 11.3h-13.0zM1091.9 292.3l6.5 11.3h-13.0zM1093.3 292.7l6.5 11.3h-13.0zM1094.7 291.4l6.5 11.3h-13.0zM1096.1 294.4l6.5 11.3h-13.0zM1097.5 293.5l6.5 11.3h-13.0zM1099.0 293.1l6.5 11.3h-13.0zM1100.4 297.2l6.5 11.3h-13.0zM1101.8 301.9l6.5 11.3h-13.0zM1103.2 302.0l6.5 11.3h-13.0zM1104.6 303.4l6.5 11.3h-13.0zM1106.1 296.7l6.5 11.3h-13.0zM1107.5 303.4l6.5 11.3h-13.0zM1108.9 299.1l6.5 11.3h-13.0zM1110.3 301.5l6.5 11.3h-13.0zM1111.7 299.5l6.5 11.3h-13.0zM1113.1 301.9l6.5 11.3h-13.0zM1114.6 305.3l6.5 11.3h-13.0zM1116.0 306.3l6.5 11.3h-13.0zM1117.4 306.3l6.5 11.3h-13.0zM1118.8 306.8l6.5 11.3h-13.0zM1120.2 309.2l6.5 11.3h-13.0zM1121.6 308.7l6.5 11.3h-13.0zM1123.1 305.4l6.5 11.3h-13.0zM1124.5 314.2l6.5 11.3h-13.0zM1125.9 310.1l6.5 11.3h-13.0zM1127.3 313.6l6.5 11.3h-13.0zM1128.7 311.6l6.5 11.3h-13.0zM1130.1 310.7l6.5 11.3h-13.0zM1131.6 313.5l6.5 11.3h-13.0zM1133.0 312.1l6.5 11.3h-13.0zM1134.4 318.5l6.5 11.3h-13.0zM1135.8 312.6l6.5 11.3h-13.0zM1137.2 317.4l6.5 11.3h-13.0zM1138.7 315.0l6.5 11.3h-13.0zM1140.1 316.7l6.5 11.3h-13.0zM1141.5 324.1l6.5 11.3h-13.0zM1142.9 320.3l6.5 11.3h-13.0zM1144.3 318.5l6.5 11.3h-13.0zM1145.7 315.8l6.5 11.3h-13.0zM1147.2 319.5l6.5 11.3h-13.0zM1148.6 320.1l6.5 11.3h-13.0zM1150.0 324.7l6.5 11.3h-13.0zM1151.4 318.3l6.5 11.3h-13.0zM1152.8 317.8l6.5 11.3h-13.0zM1154.2 322.6l6.5 11.3h-13.0zM1155.7 323.6l6.5 11.3h-13.0zM1157.1 327.4l6.5 11.3h-13.0zM1158.5 321.7l6.5 11.3h-13.0zM1159.9 317.6l6.5 11.3h-13.0zM1161.3 322.9l6.5 11.3h-13.0zM1162.8 321.9l6.5 11.3h-13.0zM1164.2 324.0l6.5 11.3h-13.0zM1165.6 328.1l6.5 11.3h-13.0zM1167.0 322.8l6.5 11.3h-13.0zM1168.4 329.3l6.5 11.3h-13.0zM1169.8 327.0l6.5 11.3h-13.0zM1171.3 326.0l6.5 11.3h-13.0zM1172.7 324.7l6.5 11.3h-13.0zM1174.1 325.9l6.5 11.3h-13.0zM1175.5 326.0l6.5 11.3h-13.0zM1176.9 328.8l6.5 11.3h-13.0zM1178.3 330.0l6.5 11.3h-13.0zM1179.8 326.6l6.5 11.3h-13.0zM1181.2 328.3l6.5 11.3h-13.0zM1182.6 329.6l6.5 11.3h-13.0zM1184.0 329.2l6.5 11.3h-13.0zM1185.4 327.0l6.5 11.3h-13.0zM1186.9 330.0l6.5 11.3h-13.0zM1188.3 328.5l6.5 11.3h-13.0zM1189.7 328.8l6.5 11.3h-13.0zM1191.1 323.9l6.5 11.3h-13.0zM1192.5 323.0l6.5 11.3h-13.0zM1193.9 318.6l6.5 11.3h-13.0zM1195.4 326.7l6.5 11.3h-13.0zM1196.8 324.2l6.5 11.3h-13.0zM1198.2 319.4l6.5 11.3h-13.0zM1199.6 321.1l6.5 11.3h-13.0zM1201.0 320.1l6.5 11.3h-13.0zM1202.4 313.6l6.5 11.3h-13.0zM1203.9 316.9l6.5 11.3h-13.0zM1205.3 317.2l6.5 11.3h-13.0zM1206.7 315.7l6.5 11.3h-13.0zM1208.1 309.8l6.5 11.3h-13.0zM1209.5 308.0l6.5 11.3h-13.0zM1211.0 310.2l6.5 11.3h-13.0zM1212.4 307.5l6.5 11.3h-13.0zM1213.8 302.1l6.5 11.3h-13.0zM1215.2 300.5l6.5 11.3h-13.0zM1216.6 302.1l6.5 11.3h-13.0zM1218.0 297.9l6.5 11.3h-13.0zM1219.5 296.9l6.5 11.3h-13.0zM1220.9 301.6l6.5 11.3h-13.0zM1222.3 296.8l6.5 11.3h-13.0zM1223.7 293.7l6.5 11.3h-13.0zM1225.1 294.6l6.5 11.3h-13.0zM1226.5 296.9l6.5 11.3h-13.0zM1228.0 290.7l6.5 11.3h-13.0zM1229.4 286.4l6.5 11.3h-13.0zM1230.8 282.5l6.5 11.3h-13.0zM1232.2 289.7l6.5 11.3h-13.0zM1233.6 275.9l6.5 11.3h-13.0zM1235.0 282.7l6.5 11.3h-13.0zM1236.5 275.2l6.5 11.3h-13.0zM1237.9 271.9l6.5 11.3h-13.0zM1239.3 269.7l6.5 11.3h-13.0zM1240.7 268.8l6.5 11.3h-13.0zM1242.1 268.9l6.5 11.3h-13.0zM1243.6 261.1l6.5 11.3h-13.0zM1245.0 260.5l6.5 11.3h-13.0zM1246.4 260.1l6.5 11.3h-13.0zM1247.8 241.2l6.5 11.3h-13.0zM1249.2 239.0l6.5 11.3h-13.0zM1250.6 219.9l6.5 11.3h-13.0zM1252.1 210.3l6.5 11.3h-13.0zM1253.5 196.9l6.5 11.3h-13.0zM1254.9 190.6l6.5 11.3h-13.0zM1256.3 186.2l6.5 11.3h-13.0zM1257.7 186.6l6.5 11.3h-13.0zM1259.1 186.5l6.5 11.3h-13.0zM1260.6 181.3l6.5 11.3h-13.0zM1262.0 184.3l6.5 11.3h-13.0zM1263.4 182.3l6.5 11.3h-13.0zM1264.8 178.9l6.5 11.3h-13.0zM1266.2 184.0l6.5 11.3h-13.0zM1267.7 185.2l6.5 11.3h-13.0zM1269.1 188.9l6.5 11.3h-13.0zM1270.5 190.1l6.5 11.3h-13.0zM1271.9 198.7l6.5 11.3h-13.0zM1273.3 208.5l6.5 11.3h-13.0zM1274.7 211.0l6.5 11.3h-13.0zM1276.2 221.2l6.5 11.3h-13.0zM1277.6 225.3l6.5 11.3h-13.0zM1279.0 227.2l6.5 11.3h-13.0zM1280.4 237.4l6.5 11.3h-13.0zM1281.8 239.9l6.5 11.3h-13.0zM1283.2 247.2l6.5 11.3h-13.0zM1284.7 248.4l6.5 11.3h-13.0zM1286.1 249.3l6.5 11.3h-13.0zM1287.5 259.6l6.5 11.3h-13.0zM1288.9 261.6l6.5 11.3h-13.0zM1290.3 268.7l6.5 11.3h-13.0zM1291.8 273.4l6.5 11.3h-13.0zM1293.2 277.8l6.5 11.3h-13.0zM1294.6 275.3l6.5 11.3h-13.0zM1296.0 277.1l6.5 11.3h-13.0zM1297.4 285.5l6.5 11.3h-13.0zM1298.8 292.1l6.5 11.3h-13.0zM1300.3 292.1l6.5 11.3h-13.0zM1301.7 297.9l6.5 11.3h-13.0zM1303.1 298.4l6.5 11.3h-13.0zM1304.5 303.0l6.5 11.3h-13.0zM1305.9 306.1l6.5 11.3h-13.0zM1307.3 308.2l6.5 11.3h-13.0zM1308.8 313.8l6.5 11.3h-13.0zM1310.2 315.6l6.5 11.3h-13.0zM1311.6 320.6l6.5 11.3h-13.0zM1313.0 319.0l6.5 11.3h-13.0zM1314.4 322.8l6.5 11.3h-13.0zM1315.8 321.1l6.5 11.3h-13.0zM1317.3 324.3l6.5 11.3h-13.0zM1318.7 323.0l6.5 11.3h-13.0zM1320.1 323.3l6.5 11.3h-13.0zM1321.5 328.9l6.5 11.3h-13.0zM1322.9 328.4l6.5 11.3h-13.0zM1324.4 329.6l6.5 11.3h-13.0zM1325.8 326.3l6.5 11.3h-13.0zM1327.2 324.8l6.5 11.3h-13.0zM1328.6 327.5l6.5 11.3h-13.0zM1330.0 331.1l6.5 11.3h-13.0zM1331.4 327.2l6.5 11.3h-13.0zM1332.9 334.9l6.5 11.3h-13.0zM1334.3 328.0l6.5 11.3h-13.0zM1335.7 333.7l6.5 11.3h-13.0zM1337.1 339.3l6.5 11.3h-13.0zM1338.5 326.5l6.5 11.3h-13.0zM1339.9 329.5l6.5 11.3h-13.0zM1341.4 336.2l6.5 11.3h-13.0zM1342.8 333.6l6.5 11.3h-13.0zM1344.2 334.8l6.5 11.3h-13.0zM1345.6 334.2l6.5 11.3h-13.0zM1347.0 338.3l6.5 11.3h-13.0zM1348.5 336.4l6.5 11.3h-13.0zM1349.9 333.6l6.5 11.3h-13.0zM1351.3 334.2l6.5 11.3h-13.0zM1352.7 331.8l6.5 11.3h-13.0zM1354.1 334.4l6.5 11.3h-13.0zM1355.5 328.7l6.5 11.3h-13.0zM1357.0 336.1l6.5 11.3h-13.0zM1358.4 333.5l6.5 11.3h-13.0zM1359.8 338.6l6.5 11.3h-13.0zM1361.2 336.7l6.5 11.3h-13.0zM1362.6 330.2l6.5 11.3h-13.0zM1364.0 335.5l6.5 11.3h-13.0zM1365.5 331.6l6.5 11.3h-13.0zM1366.9 332.8l6.5 11.3h-13.0zM1368.3 335.0l6.5 11.3h-13.0zM1369.7 333.0l6.5 11.3h-13.0zM1371.1 333.1l6.5 11.3h-13.0zM1372.6 332.8l6.5 11.3h-13.0zM1374.0 329.5l6.5 11.3h-13.0zM1375.4 329.4l6.5 11.3h-13.0zM1376.8 332.1l6.5 11.3h-13.0zM1378.2 332.5l6.5 11.3h-13.0zM1379.6 329.2l6.5 11.3h-13.0zM1381.1 329.8l6.5 11.3h-13.0zM1382.5 326.6l6.5 11.3h-13.0zM1383.9 322.2l6.5 11.3h-13.0zM1385.3 326.2l6.5 11.3h-13.0zM1386.7 327.9l6.5 11.3h-13.0zM1388.1 327.8l6.5 11.3h-13.0zM1389.6 329.0l6.5 11.3h-13.0zM1391.0 328.7l6.5 11.3h-13.0zM1392.4 328.4l6.5 11.3h-13.0zM1393.8 326.4l6.5 11.3h-13.0zM1395.2 325.9l6.5 11.3h-13.0zM1396.7 322.4l6.5 11.3h-13.0zM1398.1 324.5l6.5 11.3h-13.0zM1399.5 323.4l6.5 11.3h-13.0zM1400.9 325.2l6.5 11.3h-13.0zM1402.3 317.5l6.5 11.3h-13.0zM1403.7 319.5l6.5 11.3h-13.0zM1405.2 315.6l6.5 11.3h-13.0zM1406.6 317.3l6.5 11.3h-13.0zM1408.0 314.9l6.5 11.3h-13.0zM1409.4 318.3l6.5 11.3h-13.0zM1410.8 315.2l6.5 11.3h-13.0zM1412.2 309.7l6.5 11.3h-13.0zM1413.7 318.5l6.5 11.3h-13.0zM1415.1 312.0l6.5 11.3h-13.0zM1416.5 310.0l6.5 11.3h-13.0zM1417.9 312.5l6.5 11.3h-13.0zM1419.3 311.1l6.5 11.3h-13.0zM1420.7 309.2l6.5 11.3h-13.0zM1422.2 313.4l6.5 11.3h-13.0zM1423.6 310.3l6.5 11.3h-13.0zM1425.0 313.0l6.5 11.3h-13.0zM1426.4 312.2l6.5 11.3h-13.0zM1427.8 311.7l6.5 11.3h-13.0zM1429.3 310.2l6.5 11.3h-13.0zM1430.7 309.3l6.5 11.3h-13.0zM1432.1 308.3l6.5 11.3h-13.0zM1433.5 312.8l6.5 11.3h-13.0zM1434.9 304.2l6.5 11.3h-13.0zM1436.3 306.2l6.5 11.3h-13.0zM1437.8 307.1l6.5 11.3h-13.0zM1439.2 309.8l6.5 11.3h-13.0zM1440.6 309.0l6.5 11.3h-13.0zM1442.0 307.3l6.5 11.3h-13.0zM1443.4 307.5l6.5 11.3h-13.0zM1444.8 312.6l6.5 11.3h-13.0zM1446.3 306.4l6.5 11.3h-13.0zM1447.7 300.8l6.5 11.3h-13.0zM1449.1 312.5l6.5 11.3h-13.0zM1450.5 305.2l6.5 11.3h-13.0zM1451.9 306.4l6.5 11.3h-13.0zM1453.4 307.2l6.5 11.3h-13.0zM1454.8 302.9l6.5 11.3h-13.0zM1456.2 308.6l6.5 11.3h-13.0zM1457.6 304.5l6.5 11.3h-13.0zM1459.0 300.5l6.5 11.3h-13.0zM1460.4 303.8l6.5 11.3h-13.0zM1461.9 303.4l6.5 11.3h-13.0zM1463.3 301.1l6.5 11.3h-13.0zM1464.7 301.6l6.5 11.3h-13.0zM1466.1 295.6l6.5 11.3h-13.0zM1467.5 300.8l6.5 11.3h-13.0zM1468.9 295.3l6.5 11.3h-13.0zM1470.4 299.7l6.5 11.3h-13.0zM1471.8 293.9l6.5 11.3h-13.0zM1473.2 294.8l6.5 11.3h-13.0zM1474.6 300.0l6.5 11.3h-13.0zM1476.0 292.4l6.5 11.3h-13.0zM1477.5 293.9l6.5 11.3h-13.0zM1478.9 291.2l6.5 11.3h-13.0zM1480.3 285.0l6.5 11.3h-13.0zM1481.7 290.4l6.5 11.3h-13.0zM1483.1 288.9l6.5 11.3h-13.0zM1484.5 281.4l6.5 11.3h-13.0zM1486.0 283.4l6.5 11.3h-13.0zM1487.4 278.4l6.5 11.3h-13.0zM1488.8 280.1l6.5 11.3h-13.0zM1490.2 281.7l6.5 11.3h-13.0zM1491.6 278.2l6.5 11.3h-13.0zM1493.0 273.4l6.5 11.3h-13.0zM1494.5 272.4l6.5 11.3h-13.0zM1495.9 273.0l6.5 11.3h-13.0zM1497.3 271.0l6.5 11.3h-13.0zM1498.7 269.6l6.5 11.3h-13.0zM1500.1 268.9l6.5 11.3h-13.0zM1501.6 260.8l6.5 11.3h-13.0zM1503.0 263.8l6.5 11.3h-13.0zM1504.4 265.0l6.5 11.3h-13.0zM1505.8 261.7l6.5 11.3h-13.0zM1507.2 257.2l6.5 11.3h-13.0zM1508.6 256.0l6.5 11.3h-13.0zM1510.1 256.8l6.5 11.3h-13.0zM1511.5 257.0l6.5 11.3h-13.0zM1512.9 254.2l6.5 11.3h-13.0zM1514.3 257.4l6.5 11.3h-13.0zM1515.7 255.5l6.5 11.3h-13.0zM1517.1 249.3l6.5 11.3h-13.0zM1518.6 251.6l6.5 11.3h-13.0zM1520.0 248.6l6.5 11.3h-13.0zM1521.4 245.7l6.5 11.3h-13.0zM1522.8 246.3l6.5 11.3h-13.0zM1524.2 247.1l6.5 11.3h-13.0zM1525.6 241.1l6.5 11.3h-13.0zM1527.1 244.1l6.5 11.3h-13.0zM1528.5 246.0l6.5 11.3h-13.0zM1529.9 242.6l6.5 11.3h-13.0zM1531.3 242.9l6.5 11.3h-13.0zM1532.7 245.4l6.5 11.3h-13.0zM1534.2 242.5l6.5 11.3h-13.0zM1535.6 242.6l6.5 11.3h-13.0zM1537.0 246.5l6.5 11.3h-13.0zM1538.4 241.5l6.5 11.3h-13.0zM1539.8 241.4l6.5 11.3h-13.0zM1541.2 241.3l6.5 11.3h-13.0zM1542.7 244.0l6.5 11.3h-13.0zM1544.1 240.4l6.5 11.3h-13.0zM1545.5 239.4l6.5 11.3h-13.0zM1546.9 238.9l6.5 11.3h-13.0z" fill="#3232f5"/>
<path d="M979.9 213.7L981.3 209.9L982.7 215.1L984.1 213.3L985.6 210.2L987.0 216.0L988.4 216.4L989.8 213.4L991.2 217.9L992.6 218.7L994.1 218.4L995.5 217.4L996.9 226.6L998.3 224.2L999.7 225.8L1001.2 227.3L1002.6 228.1L1004.0 229.5L1005.4 228.2L1006.8 232.8L1008.2 231.9L1009.7 232.8L1011.1 237.3L1012.5 236.8L1013.9 234.6L1015.3 239.5L1016.7 243.4L1018.2 243.4L1019.6 247.0L1021.0 245.4L1022.4 245.4L1023.8 251.0L1025.2 250.9L1026.7 249.0L1028.1 254.4L1029.5 254.1L1030.9 258.5L1032.3 259.4L1033.8 260.0L1035.2 254.8L1036.6 262.5L1038.0 264.1L1039.4 265.6L1040.8 266.0L1042.3 265.4L1043.7 267.9L1045.1 264.7L1046.5 270.7L1047.9 269.1L1049.3 273.4L1050.8 274.1L1052.2 280.6L1053.6 278.8L1055.0 280.1L1056.4 282.0L1057.9 288.0L1059.3 282.0L1060.7 286.5L1062.1 287.9L1063.5 288.7L1064.9 289.9L1066.4 289.6L1067.8 294.8L1069.2 295.1L1070.6 293.2L1072.0 294.7L1073.4 297.0L1074.9 298.6L1076.3 300.3L1077.7 299.5L1079.1 297.6L1080.5 304.2L1082.0 299.1L1083.4 302.0L1084.8 306.4L1086.2 304.7L1087.6 311.6L1089.0 313.7L1090.5 314.1L1091.9 313.5L1093.3 314.8L1094.7 316.8L1096.1 316.8L1097.5 323.7L1099.0 318.7L1100.4 324.8L1101.8 324.3L1103.2 324.9L1104.6 327.9L1106.1 329.5L1107.5 329.7L1108.9 328.3L1110.3 327.8L1111.7 328.8L1113.1 333.5L1114.6 333.9L1116.0 335.1L1117.4 332.7L1118.8 339.7L1120.2 332.6L1121.6 337.7L1123.1 339.4L1124.5 337.6L1125.9 336.9L1127.3 339.7L1128.7 339.0L1130.1 342.4L1131.6 340.8L1133.0 341.9L1134.4 346.3L1135.8 343.7L1137.2 347.8L1138.7 349.1L1140.1 352.5L1141.5 351.9L1142.9 350.2L1144.3 356.1L1145.7 352.0L1147.2 353.5L1148.6 354.3L1150.0 361.1L1151.4 356.6L1152.8 355.4L1154.2 359.4L1155.7 357.9L1157.1 364.5L1158.5 357.5L1159.9 361.3L1161.3 358.0L1162.8 365.1L1164.2 359.3L1165.6 362.0L1167.0 359.8L1168.4 364.4L1169.8 364.1L1171.3 357.5L1172.7 365.4L1174.1 365.4L1175.5 364.7L1176.9 366.9L1178.3 361.7L1179.8 360.7L1181.2 366.8L1182.6 369.5L1184.0 362.5L1185.4 362.7L1186.9 363.4L1188.3 362.6L1189.7 367.5L1191.1 365.8L1192.5 368.8L1193.9 368.8L1195.4 363.0L1196.8 366.8L1198.2 358.5L1199.6 362.2L1201.0 361.9L1202.4 356.1L1203.9 351.5L1205.3 352.8L1206.7 355.5L1208.1 350.5L1209.5 347.0L1211.0 350.4L1212.4 349.7L1213.8 343.6L1215.2 343.9L1216.6 344.9L1218.0 340.9L1219.5 339.5L1220.9 334.5L1222.3 332.4L1223.7 327.2L1225.1 325.6L1226.5 328.4L1228.0 320.8L1229.4 316.7L1230.8 314.7L1232.2 310.0L1233.6 310.5L1235.0 308.0L1236.5 299.9L1237.9 301.0L1239.3 299.9L1240.7 288.3L1242.1 288.5L1243.6 283.2L1245.0 281.2L1246.4 276.0L1247.8 269.9L1249.2 261.7L1250.6 252.9L1252.1 251.7L1253.5 234.6L1254.9 228.8L1256.3 218.7L1257.7 206.6L1259.1 200.5L1260.6 196.8L1262.0 183.2L1263.4 187.8L1264.8 187.1L1266.2 192.5L1267.7 196.8L1269.1 209.3L1270.5 213.9L1271.9 228.8L1273.3 235.6L1274.7 249.9L1276.2 256.7L1277.6 258.2L1279.0 268.2L1280.4 273.9L1281.8 273.1L1283.2 281.7L1284.7 288.2L1286.1 287.8L1287.5 295.6L1288.9 293.2L1290.3 296.2L1291.8 303.7L1293.2 306.9L1294.6 307.9L1296.0 311.2L1297.4 316.4L1298.8 315.4L1300.3 324.5L1301.7 323.3L1303.1 325.8L1304.5 328.2L1305.9 329.5L1307.3 335.9L1308.8 334.2L1310.2 338.6L1311.6 342.2L1313.0 346.2L1314.4 347.9L1315.8 346.0L1317.3 351.0L1318.7 350.1L1320.1 349.3L1321.5 351.0L1322.9 351.3L1324.4 357.5L1325.8 360.9L1327.2 357.2L1328.6 360.4L1330.0 359.7L1331.4 363.6L1332.9 361.7L1334.3 363.5L1335.7 364.5L1337.1 365.6L1338.5 366.3L1339.9 366.8L1341.4 366.9L1342.8 364.9L1344.2 368.4L1345.6 362.7L1347.0 367.0L1348.5 364.1L1349.9 366.5L1351.3 366.7L1352.7 360.9L1354.1 366.3L1355.5 368.4L1357.0 366.7L1358.4 365.4L1359.8 359.0L1361.2 363.4L1362.6 361.2L1364.0 365.5L1365.5 361.7L1366.9 360.5L1368.3 357.2L1369.7 362.7L1371.1 358.9L1372.6 358.9L1374.0 361.2L1375.4 357.7L1376.8 357.2L1378.2 361.0L1379.6 352.6L1381.1 351.4L1382.5 352.4L1383.9 353.2L1385.3 345.0L1386.7 346.6L1388.1 343.4L1389.6 341.2L1391.0 344.7L1392.4 340.2L1393.8 341.6L1395.2 340.0L1396.7 338.9L1398.1 337.5L1399.5 333.5L1400.9 334.7L1402.3 334.2L1403.7 333.3L1405.2 330.5L1406.6 332.2L1408.0 330.0L1409.4 327.5L1410.8 327.4L1412.2 324.8L1413.7 324.4L1415.1 316.3L1416.5 316.2L1417.9 316.6L1419.3 316.0L1420.7 308.8L1422.2 311.6L1423.6 311.0L1425.0 308.6L1426.4 307.2L1427.8 303.3L1429.3 305.8L1430.7 299.8L1432.1 306.4L1433.5 301.9L1434.9 305.5L1436.3 298.1L1437.8 302.9L1439.2 301.8L1440.6 299.0L1442.0 297.7L1443.4 303.1L1444.8 300.8L1446.3 302.8L1447.7 298.6L1449.1 298.5L1450.5 298.5L1451.9 298.6L1453.4 297.1L1454.8 297.2L1456.2 293.2L1457.6 290.0L1459.0 297.4L1460.4 292.1L1461.9 291.8L1463.3 288.6L1464.7 291.1L1466.1 288.1L1467.5 289.2L1468.9 283.8L1470.4 284.2L1471.8 283.7L1473.2 281.2L1474.6 281.4L1476.0 283.3L1477.5 276.7L1478.9 276.1L1480.3 275.8L1481.7 271.5L1483.1 269.5L1484.5 273.7L1486.0 271.4L1487.4 264.2L1488.8 263.0L1490.2 266.7L1491.6 266.2L1493.0 263.2L1494.5 261.2L1495.9 262.0L1497.3 256.3L1498.7 257.7L1500.1 255.7L1501.6 248.7L1503.0 250.8L1504.4 247.5L1505.8 244.1L1507.2 241.9L1508.6 243.1L1510.1 240.6L1511.5 241.2L1512.9 233.4L1514.3 234.6L1515.7 237.5L1517.1 233.4L1518.6 230.3L1520.0 229.5L1521.4 224.9L1522.8 224.7L1524.2 228.0L1525.6 225.6L1527.1 227.2L1528.5 222.1L1529.9 220.9L1531.3 213.3L1532.7 218.3L1534.2 222.2L1535.6 217.3L1537.0 213.9L1538.4 215.8L1539.8 213.5L1541.2 210.9L1542.7 207.9L1544.1 207.8L1545.5 208.4L1546.9 203.3" stroke="#30f012" stroke-width="3.5" fill="none" stroke-linejoin="round"/>
<path d="M979.9 221.2l6.5 -11.3h-13.0zM981.3 217.4l6.5 -11.3h-13.0zM982.7 222.6l6.5 -11.3h-13.0zM984.1 220.8l6.5 -11.3h-13.0zM985.6 217.7l6.5 -11.3h-13.0zM987.0 223.6l6.5 -11.3h-13.0zM988.4 223.9l6.5 -11.3h-13.0zM989.8 220.9l6.5 -11.3h-13.0zM991.2 225.4l6.5 -11.3h-13.0zM992.6 226.2l6.5 -11.3h-13.0zM994.1 225.9l6.5 -11.3h-13.0zM995.5 224.9l6.5 -11.3h-13.0zM996.9 234.1l6.5 -11.3h-13.0zM998.3 231.7l6.5 -11.3h-13.0zM999.7 233.3l6.5 -11.3h-13.0zM1001.2 234.8l6.5 -11.3h-13.0zM1002.6 235.6l6.5 -11.3h-13.0zM1004.0 237.0l6.5 -11.3h-13.0zM1005.4 235.7l6.5 -11.3h-13.0zM1006.8 240.3l6.5 -11.3h-13.0zM1008.2 239.4l6.5 -11.3h-13.0zM1009.7 240.3l6.5 -11.3h-13.0zM1011.1 244.8l6.5 -11.3h-13.0zM1012.5 244.3l6.5 -11.3h-13.0zM1013.9 242.1l6.5 -11.3h-13.0zM1015.3 247.0l6.5 -11.3h-13.0zM1016.7 250.9l6.5 -11.3h-13.0zM1018.2 250.9l6.5 -11.3h-13.0zM1019.6 254.5l6.5 -11.3h-13.0zM1021.0 252.9l6.5 -11.3h-13.0zM1022.4 252.9l6.5 -11.3h-13.0zM1023.8 258.5l6.5 -11.3h-13.0zM1025.2 258.4l6.5 -11.3h-13.0zM1026.7 256.5l6.5 -11.3h-13.0zM1028.1 261.9l6.5 -11.3h-13.0zM1029.5 261.6l6.5 -11.3h-13.0zM1030.9 266.0l6.5 -11.3h-13.0zM1032.3 266.9l6.5 -11.3h-13.0zM1033.8 267.5l6.5 -11.3h-13.0zM1035.2 262.3l6.5 -11.3h-13.0zM1036.6 270.0l6.5 -11.3h-13.0zM1038.0 271.6l6.5 -11.3h-13.0zM1039.4 273.1l6.5 -11.3h-13.0zM1040.8 273.5l6.5 -11.3h-13.0zM1042.3 272.9l6.5 -11.3h-13.0zM1043.7 275.4l6.5 -11.3h-13.0zM1045.1 272.3l6.5 -11.3h-13.0zM1046.5 278.2l6.5 -11.3h-13.0zM1047.9 276.6l6.5 -11.3h-13.0zM1049.3 280.9l6.5 -11.3h-13.0zM1050.8 281.6l6.5 -11.3h-13.0zM1052.2 288.1l6.5 -11.3h-13.0zM1053.6 286.3l6.5 -11.3h-13.0zM1055.0 287.6l6.5 -11.3h-13.0zM1056.4 289.5l6.5 -11.3h-13.0zM1057.9 295.5l6.5 -11.3h-13.0zM1059.3 289.5l6.5 -11.3h-13.0zM1060.7 294.0l6.5 -11.3h-13.0zM1062.1 295.4l6.5 -11.3h-13.0zM1063.5 296.3l6.5 -11.3h-13.0zM1064.9 297.4l6.5 -11.3h-13.0zM1066.4 297.1l6.5 -11.3h-13.0zM1067.8 302.3l6.5 -11.3h-13.0zM1069.2 302.6l6.5 -11.3h-13.0zM1070.6 300.7l6.5 -11.3h-13.0zM1072.0 302.2l6.5 -11.3h-13.0zM1073.4 304.5l6.5 -11.3h-13.0zM1074.9 306.1l6.5 -11.3h-13.0zM1076.3 307.8l6.5 -11.3h-13.0zM1077.7 307.0l6.5 -11.3h-13.0zM1079.1 305.1l6.5 -11.3h-13.0zM1080.5 311.7l6.5 -11.3h-13.0zM1082.0 306.6l6.5 -11.3h-13.0zM1083.4 309.5l6.5 -11.3h-13.0zM1084.8 313.9l6.5 -11.3h-13.0zM1086.2 312.2l6.5 -11.3h-13.0zM1087.6 319.1l6.5 -11.3h-13.0zM1089.0 321.2l6.5 -11.3h-13.0zM1090.5 321.6l6.5 -11.3h-13.0zM1091.9 321.0l6.5 -11.3h-13.0zM1093.3 322.3l6.5 -11.3h-13.0zM1094.7 324.3l6.5 -11.3h-13.0zM1096.1 324.3l6.5 -11.3h-13.0zM1097.5 331.2l6.5 -11.3h-13.0zM1099.0 326.2l6.5 -11.3h-13.0zM1100.4 332.3l6.5 -11.3h-13.0zM1101.8 331.8l6.5 -11.3h-13.0zM1103.2 332.4l6.5 -11.3h-13.0zM1104.6 335.4l6.5 -11.3h-13.0zM1106.1 337.0l6.5 -11.3h-13.0zM1107.5 337.2l6.5 -11.3h-13.0zM1108.9 335.8l6.5 -11.3h-13.0zM1110.3 335.3l6.5 -11.3h-13.0zM1111.7 336.3l6.5 -11.3h-13.0zM1113.1 341.0l6.5 -11.3h-13.0zM1114.6 341.4l6.5 -11.3h-13.0zM1116.0 342.7l6.5 -11.3h-13.0zM1117.4 340.2l6.5 -11.3h-13.0zM1118.8 347.2l6.5 -11.3h-13.0zM1120.2 340.1l6.5 -11.3h-13.0zM1121.6 345.2l6.5 -11.3h-13.0zM1123.1 346.9l6.5 -11.3h-13.0zM1124.5 345.1l6.5 -11.3h-13.0zM1125.9 344.4l6.5 -11.3h-13.0zM1127.3 347.2l6.5 -11.3h-13.0zM1128.7 346.5l6.5 -11.3h-13.0zM1130.1 349.9l6.5 -11.3h-13.0zM1131.6 348.3l6.5 -11.3h-13.0zM1133.0 349.4l6.5 -11.3h-13.0zM1134.4 353.8l6.5 -11.3h-13.0zM1135.8 351.2l6.5 -11.3h-13.0zM1137.2 355.3l6.5 -11.3h-13.0zM1138.7 356.6l6.5 -11.3h-13.0zM1140.1 360.0l6.5 -11.3h-13.0zM1141.5 359.4l6.5 -11.3h-13.0zM1142.9 357.7l6.5 -11.3h-13.0zM1144.3 363.6l6.5 -11.3h-13.0zM1145.7 359.5l6.5 -11.3h-13.0zM1147.2 361.0l6.5 -11.3h-13.0zM1148.6 361.8l6.5 -11.3h-13.0zM1150.0 368.6l6.5 -11.3h-13.0zM1151.4 364.1l6.5 -11.3h-13.0zM1152.8 362.9l6.5 -11.3h-13.0zM1154.2 366.9l6.5 -11.3h-13.0zM1155.7 365.4l6.5 -11.3h-13.0zM1157.1 372.0l6.5 -11.3h-13.0zM1158.5 365.1l6.5 -11.3h-13.0zM1159.9 368.8l6.5 -11.3h-13.0zM1161.3 365.5l6.5 -11.3h-13.0zM1162.8 372.6l6.5 -11.3h-13.0zM1164.2 366.8l6.5 -11.3h-13.0zM1165.6 369.5l6.5 -11.3h-13.0zM1167.0 367.3l6.5 -11.3h-13.0zM1168.4 371.9l6.5 -11.3h-13.0zM1169.8 371.6l6.5 -11.3h-13.0zM1171.3 365.0l6.5 -11.3h-13.0zM1172.7 372.9l6.5 -11.3h-13.0zM1174.1 372.9l6.5 -11.3h-13.0zM1175.5 372.2l6.5 -11.3h-13.0zM1176.9 374.4l6.5 -11.3h-13.0zM1178.3 369.2l6.5 -11.3h-13.0zM1179.8 368.2l6.5 -11.3h-13.0zM1181.2 374.3l6.5 -11.3h-13.0zM1182.6 377.0l6.5 -11.3h-13.0zM1184.0 370.0l6.5 -11.3h-13.0zM1185.4 370.2l6.5 -11.3h-13.0zM1186.9 370.9l6.5 -11.3h-13.0zM1188.3 370.1l6.5 -11.3h-13.0zM1189.7 375.0l6.5 -11.3h-13.0zM1191.1 373.3l6.5 -11.3h-13.0zM1192.5 376.3l6.5 -11.3h-13.0zM1193.9 376.4l6.5 -11.3h-13.0zM1195.4 370.5l6.5 -11.3h-13.0zM1196.8 374.3l6.5 -11.3h-13.0zM1198.2 366.0l6.5 -11.3h-13.0zM1199.6 369.7l6.5 -11.3h-13.0zM1201.0 369.4l6.5 -11.3h-13.0zM1202.4 363.6l6.5 -11.3h-13.0zM1203.9 359.0l6.5 -11.3h-13.0zM1205.3 360.3l6.5 -11.3h-13.0zM1206.7 363.0l6.5 -11.3h-13.0zM1208.1 358.0l6.5 -11.3h-13.0zM1209.5 354.5l6.5 -11.3h-13.0zM1211.0 357.9l6.5 -11.3h-13.0zM1212.4 357.2l6.5 -11.3h-13.0zM1213.8 351.1l6.5 -11.3h-13.0zM1215.2 351.4l6.5 -11.3h-13.0zM1216.6 352.4l6.5 -11.3h-13.0zM1218.0 348.5l6.5 -11.3h-13.0zM1219.5 347.0l6.5 -11.3h-13.0zM1220.9 342.0l6.5 -11.3h-13.0zM1222.3 339.9l6.5 -11.3h-13.0zM1223.7 334.7l6.5 -11.3h-13.0zM1225.1 333.1l6.5 -11.3h-13.0zM1226.5 335.9l6.5 -11.3h-13.0zM1228.0 328.3l6.5 -11.3h-13.0zM1229.4 324.2l6.5 -11.3h-13.0zM1230.8 322.2l6.5 -11.3h-13.0zM1232.2 317.5l6.5 -11.3h-13.0zM1233.6 318.0l6.5 -11.3h-13.0zM1235.0 315.5l6.5 -11.3h-13.0zM1236.5 307.4l6.5 -11.3h-13.0zM1237.9 308.5l6.5 -11.3h-13.0zM1239.3 307.4l6.5 -11.3h-13.0zM1240.7 295.8l6.5 -11.3h-13.0zM1242.1 296.0l6.5 -11.3h-13.0zM1243.6 290.7l6.5 -11.3h-13.0zM1245.0 288.7l6.5 -11.3h-13.0zM1246.4 283.5l6.5 -11.3h-13.0zM1247.8 277.4l6.5 -11.3h-13.0zM1249.2 269.2l6.5 -11.3h-13.0zM1250.6 260.4l6.5 -11.3h-13.0zM1252.1 259.2l6.5 -11.3h-13.0zM1253.5 242.2l6.5 -11.3h-13.0zM1254.9 236.3l6.5 -11.3h-13.0zM1256.3 226.3l6.5 -11.3h-13.0zM1257.7 214.1l6.5 -11.3h-13.0zM1259.1 208.0l6.5 -11.3h-13.0zM1260.6 204.3l6.5 -11.3h-13.0zM1262.0 190.7l6.5 -11.3h-13.0zM1263.4 195.3l6.5 -11.3h-13.0zM1264.8 194.6l6.5 -11.3h-13.0zM1266.2 200.0l6.5 -11.3h-13.0zM1267.7 204.3l6.5 -11.3h-13.0zM1269.1 216.8l6.5 -11.3h-13.0zM1270.5 221.4l6.5 -11.3h-13.0zM1271.9 236.3l6.5 -11.3h-13.0zM1273.3 243.1l6.5 -11.3h-13.0zM1274.7 257.4l6.5 -11.3h-13.0zM1276.2 264.2l6.5 -11.3h-13.0zM1277.6 265.7l6.5 -11.3h-13.0zM1279.0 275.7l6.5 -11.3h-13.0zM1280.4 281.4l6.5 -11.3h-13.0zM1281.8 280.6l6.5 -11.3h-13.0zM1283.2 289.2l6.5 -11.3h-13.0zM1284.7 295.7l6.5 -11.3h-13.0zM1286.1 295.3l6.5 -11.3h-13.0zM1287.5 303.1l6.5 -11.3h-13.0zM1288.9 300.7l6.5 -11.3h-13.0zM1290.3 303.7l6.5 -11.3h-13.0zM1291.8 311.2l6.5 -11.3h-13.0zM1293.2 314.4l6.5 -11.3h-13.0zM1294.6 315.4l6.5 -11.3h-13.0zM1296.0 318.7l6.5 -11.3h-13.0zM1297.4 323.9l6.5 -11.3h-13.0zM1298.8 322.9l6.5 -11.3h-13.0zM1300.3 332.0l6.5 -11.3h-13.0zM1301.7 330.8l6.5 -11.3h-13.0zM1303.1 333.3l6.5 -11.3h-13.0zM1304.5 335.7l6.5 -11.3h-13.0zM1305.9 337.0l6.5 -11.3h-13.0zM1307.3 343.5l6.5 -11.3h-13.0zM1308.8 341.7l6.5 -11.3h-13.0zM1310.2 346.1l6.5 -11.3h-13.0zM1311.6 349.7l6.5 -11.3h-13.0zM1313.0 353.7l6.5 -11.3h-13.0zM1314.4 355.4l6.5 -11.3h-13.0zM1315.8 353.6l6.5 -11.3h-13.0zM1317.3 358.5l6.5 -11.3h-13.0zM1318.7 357.6l6.5 -11.3h-13.0zM1320.1 356.8l6.5 -11.3h-13.0zM1321.5 358.5l6.5 -11.3h-13.0zM1322.9 358.8l6.5 -11.3h-13.0zM1324.4 365.0l6.5 -11.3h-13.0zM1325.8 368.4l6.5 -11.3h-13.0zM1327.2 364.7l6.5 -11.3h-13.0zM1328.6 367.9l6.5 -11.3h-13.0zM1330.0 367.2l6.5 -11.3h-13.0zM1331.4 371.1l6.5 -11.3h-13.0zM1332.9 369.2l6.5 -11.3h-13.0zM1334.3 371.0l6.5 -11.3h-13.0zM1335.7 372.0l6.5 -11.3h-13.0zM1337.1 373.1l6.5 -11.3h-13.0zM1338.5 373.8l6.5 -11.3h-13.0zM1339.9 374.3l6.5 -11.3h-13.0zM1341.4 374.4l6.5 -11.3h-13.0zM1342.8 372.4l6.5 -11.3h-13.0zM1344.2 375.9l6.5 -11.3h-13.0zM1345.6 370.3l6.5 -11.3h-13.0zM1347.0 374.5l6.5 -11.3h-13.0zM1348.5 371.6l6.5 -11.3h-13.0zM1349.9 374.0l6.5 -11.3h-13.0zM1351.3 374.2l6.5 -11.3h-13.0zM1352.7 368.4l6.5 -11.3h-13.0zM1354.1 373.8l6.5 -11.3h-13.0zM1355.5 375.9l6.5 -11.3h-13.0zM1357.0 374.2l6.5 -11.3h-13.0zM1358.4 372.9l6.5 -11.3h-13.0zM1359.8 366.5l6.5 -11.3h-13.0zM1361.2 370.9l6.5 -11.3h-13.0zM1362.6 368.7l6.5 -11.3h-13.0zM1364.0 373.0l6.5 -11.3h-13.0zM1365.5 369.2l6.5 -11.3h-13.0zM1366.9 368.0l6.5 -11.3h-13.0zM1368.3 364.7l6.5 -11.3h-13.0zM1369.7 370.2l6.5 -11.3h-13.0zM1371.1 366.4l6.5 -11.3h-13.0zM1372.6 366.4l6.5 -11.3h-13.0zM1374.0 368.7l6.5 -11.3h-13.0zM1375.4 365.2l6.5 -11.3h-13.0zM1376.8 364.7l6.5 -11.3h-13.0zM1378.2 368.5l6.5 -11.3h-13.0zM1379.6 360.1l6.5 -11.3h-13.0zM1381.1 358.9l6.5 -11.3h-13.0zM1382.5 359.9l6.5 -11.3h-13.0zM1383.9 360.7l6.5 -11.3h-13.0zM1385.3 352.5l6.5 -11.3h-13.0zM1386.7 354.1l6.5 -11.3h-13.0zM1388.1 350.9l6.5 -11.3h-13.0zM1389.6 348.7l6.5 -11.3h-13.0zM1391.0 352.2l6.5 -11.3h-13.0zM1392.4 347.7l6.5 -11.3h-13.0zM1393.8 349.1l6.5 -11.3h-13.0zM1395.2 347.5l6.5 -11.3h-13.0zM1396.7 346.4l6.5 -11.3h-13.0zM1398.1 345.0l6.5 -11.3h-13.0zM1399.5 341.0l6.5 -11.3h-13.0zM1400.9 342.3l6.5 -11.3h-13.0zM1402.3 341.7l6.5 -11.3h-13.0zM1403.7 340.8l6.5 -11.3h-13.0zM1405.2 338.0l6.5 -11.3h-13.0zM1406.6 339.7l6.5 -11.3h-13.0zM1408.0 337.5l6.5 -11.3h-13.0zM1409.4 335.0l6.5 -11.3h-13.0zM1410.8 334.9l6.5 -11.3h-13.0zM1412.2 332.3l6.5 -11.3h-13.0zM1413.7 331.9l6.5 -11.3h-13.0zM1415.1 323.8l6.5 -11.3h-13.0zM1416.5 323.7l6.5 -11.3h-13.0zM1417.9 324.1l6.5 -11.3h-13.0zM1419.3 323.5l6.5 -11.3h-13.0zM1420.7 316.3l6.5 -11.3h-13.0zM1422.2 319.1l6.5 -11.3h-13.0zM1423.6 318.5l6.5 -11.3h-13.0zM1425.0 316.1l6.5 -11.3h-13.0zM1426.4 314.7l6.5 -11.3h-13.0zM1427.8 310.8l6.5 -11.3h-13.0zM1429.3 313.3l6.5 -11.3h-13.0zM1430.7 307.3l6.5 -11.3h-13.0zM1432.1 313.9l6.5 -11.3h-13.0zM1433.5 309.4l6.5 -11.3h-13.0zM1434.9 313.0l6.5 -11.3h-13.0zM1436.3 305.6l6.5 -11.3h-13.0zM1437.8 310.4l6.5 -11.3h-13.0zM1439.2 309.3l6.5 -11.3h-13.0zM1440.6 306.5l6.5 -11.3h-13.0zM1442.0 305.2l6.5 -11.3h-13.0zM1443.4 310.6l6.5 -11.3h-13.0zM1444.8 308.3l6.5 -11.3h-13.0zM1446.3 310.3l6.5 -11.3h-13.0zM1447.7 306.1l6.5 -11.3h-13.0zM1449.1 306.1l6.5 -11.3h-13.0zM1450.5 306.0l6.5 -11.3h-13.0zM1451.9 306.1l6.5 -11.3h-13.0zM1453.4 304.6l6.5 -11.3h-13.0zM1454.8 304.7l6.5 -11.3h-13.0zM1456.2 300.7l6.5 -11.3h-13.0zM1457.6 297.5l6.5 -11.3h-13.0zM1459.0 305.0l6.5 -11.3h-13.0zM1460.4 299.6l6.5 -11.3h-13.0zM1461.9 299.3l6.5 -11.3h-13.0zM1463.3 296.1l6.5 -11.3h-13.0zM1464.7 298.6l6.5 -11.3h-13.0zM1466.1 295.6l6.5 -11.3h-13.0zM1467.5 296.7l6.5 -11.3h-13.0zM1468.9 291.3l6.5 -11.3h-13.0zM1470.4 291.7l6.5 -11.3h-13.0zM1471.8 291.2l6.5 -11.3h-13.0zM1473.2 288.7l6.5 -11.3h-13.0zM1474.6 288.9l6.5 -11.3h-13.0zM1476.0 290.8l6.5 -11.3h-13.0zM1477.5 284.2l6.5 -11.3h-13.0zM1478.9 283.6l6.5 -11.3h-13.0zM1480.3 283.3l6.5 -11.3h-13.0zM1481.7 279.0l6.5 -11.3h-13.0zM1483.1 277.0l6.5 -11.3h-13.0zM1484.5 281.2l6.5 -11.3h-13.0zM1486.0 278.9l6.5 -11.3h-13.0zM1487.4 271.7l6.5 -11.3h-13.0zM1488.8 270.5l6.5 -11.3h-13.0zM1490.2 274.2l6.5 -11.3h-13.0zM1491.6 273.7l6.5 -11.3h-13.0zM1493.0 270.7l6.5 -11.3h-13.0zM1494.5 268.7l6.5 -11.3h-13.0zM1495.9 269.5l6.5 -11.3h-13.0zM1497.3 263.8l6.5 -11.3h-13.0zM1498.7 265.2l6.5 -11.3h-13.0zM1500.1 263.2l6.5 -11.3h-13.0zM1501.6 256.2l6.5 -11.3h-13.0zM1503.0 258.3l6.5 -11.3h-13.0zM1504.4 255.0l6.5 -11.3h-13.0zM1505.8 251.6l6.5 -11.3h-13.0zM1507.2 249.4l6.5 -11.3h-13.0zM1508.6 250.6l6.5 -11.3h-13.0zM1510.1 248.1l6.5 -11.3h-13.0zM1511.5 248.7l6.5 -11.3h-13.0zM1512.9 240.9l6.5 -11.3h-13.0zM1514.3 242.2l6.5 -11.3h-13.0zM1515.7 245.0l6.5 -11.3h-13.0zM1517.1 240.9l6.5 -11.3h-13.0zM1518.6 237.8l6.5 -11.3h-13.0zM1520.0 237.0l6.5 -11.3h-13.0zM1521.4 232.4l6.5 -11.3h-13.0zM1522.8 232.2l6.5 -11.3h-13.0zM1524.2 235.5l6.5 -11.3h-13.0zM1525.6 233.1l6.5 -11.3h-13.0zM1527.1 234.7l6.5 -11.3h-13.0zM1528.5 229.6l6.5 -11.3h-13.0zM1529.9 228.4l6.5 -11.3h-13.0zM1531.3 220.8l6.5 -11.3h-13.0zM1532.7 225.8l6.5 -11.3h-13.0zM1534.2 229.7l6.5 -11.3h-13.0zM1535.6 224.8l6.5 -11.3h-13.0zM1537.0 221.4l6.5 -11.3h-13.0zM1538.4 223.3l6.5 -11.3h-13.0zM1539.8 221.0l6.5 -11.3h-13.0zM1541.2 218.4l6.5 -11.3h-13.0zM1542.7 215.4l6.5 -11.3h-13.0zM1544.1 215.3l6.5 -11.3h-13.0zM1545.5 215.9l6.5 -11.3h-13.0zM1546.9 210.8l6.5 -11.3h-13.0z" fill="#22aa00" stroke="#22aa00" stroke-width="1.0" stroke-linejoin="miter"/>
<path d="M979.9 221.2l6.5 -11.3h-13.0zM981.3 217.4l6.5 -11.3h-13.0zM982.7 222.6l6.5 -11.3h-13.0zM984.1 220.8l6.5 -11.3h-13.0zM985.6 217.7l6.5 -11.3h-13.0zM987.0 223.6l6.5 -11.3h-13.0zM988.4 223.9l6.5 -11.3h-13.0zM989.8 220.9l6.5 -11.3h-13.0zM991.2 225.4l6.5 -11.3h-13.0zM992.6 226.2l6.5 -11.3h-13.0zM994.1 225.9l6.5 -11.3h-13.0zM995.5 224.9l6.5 -11.3h-13.0zM996.9 234.1l6.5 -11.3h-13.0zM998.3 231.7l6.5 -11.3h-13.0zM999.7 233.3l6.5 -11.3h-13.0zM1001.2 234.8l6.5 -11.3h-13.0zM1002.6 235.6l6.5 -11.3h-13.0zM1004.0 237.0l6.5 -11.3h-13.0zM1005.4 235.7l6.5 -11.3h-13.0zM1006.8 240.3l6.5 -11.3h-13.0zM1008.2 239.4l6.5 -11.3h-13.0zM1009.7 240.3l6.5 -11.3h-13.0zM1011.1 244.8l6.5 -11.3h-13.0zM1012.5 244.3l6.5 -11.3h-13.0zM1013.9 242.1l6.5 -11.3h-13.0zM1015.3 247.0l6.5 -11.3h-13.0zM1016.7 250.9l6.5 -11.3h-13.0zM1018.2 250.9l6.5 -11.3h-13.0zM1019.6 254.5l6.5 -11.3h-13.0zM1021.0 252.9l6.5 -11.3h-13.0zM1022.4 252.9l6.5 -11.3h-13.0zM1023.8 258.5l6.5 -11.3h-13.0zM1025.2 258.4l6.5 -11.3h-13.0zM1026.7 256.5l6.5 -11.3h-13.0zM1028.1 261.9l6.5 -11.3h-13.0zM1029.5 261.6l6.5 -11.3h-13.0zM1030.9 266.0l6.5 -11.3h-13.0zM1032.3 266.9l6.5 -11.3h-13.0zM1033.8 267.5l6.5 -11.3h-13.0zM1035.2 262.3l6.5 -11.3h-13.0zM1036.6 270.0l6.5 -11.3h-13.0zM1038.0 271.6l6.5 -11.3h-13.0zM1039.4 273.1l6.5 -11.3h-13.0zM1040.8 273.5l6.5 -11.3h-13.0zM1042.3 272.9l6.5 -11.3h-13.0zM1043.7 275.4l6.5 -11.3h-13.0zM1045.1 272.3l6.5 -11.3h-13.0zM1046.5 278.2l6.5 -11.3h-13.0zM1047.9 276.6l6.5 -11.3h-13.0zM1049.3 280.9l6.5 -11.3h-13.0zM1050.8 281.6l6.5 -11.3h-13.0zM1052.2 288.1l6.5 -11.3h-13.0zM1053.6 286.3l6.5 -11.3h-13.0zM1055.0 287.6l6.5 -11.3h-13.0zM1056.4 289.5l6.5 -11.3h-13.0zM1057.9 295.5l6.5 -11.3h-13.0zM1059.3 289.5l6.5 -11.3h-13.0zM1060.7 294.0l6.5 -11.3h-13.0zM1062.1 295.4l6.5 -11.3h-13.0zM1063.5 296.3l6.5 -11.3h-13.0zM1064.9 297.4l6.5 -11.3h-13.0zM1066.4 297.1l6.5 -11.3h-13.0zM1067.8 302.3l6.5 -11.3h-13.0zM1069.2 302.6l6.5 -11.3h-13.0zM1070.6 300.7l6.5 -11.3h-13.0zM1072.0 302.2l6.5 -11.3h-13.0zM1073.4 304.5l6.5 -11.3h-13.0zM1074.9 306.1l6.5 -11.3h-13.0zM1076.3 307.8l6.5 -11.3h-13.0zM1077.7 307.0l6.5 -11.3h-13.0zM1079.1 305.1l6.5 -11.3h-13.0zM1080.5 311.7l6.5 -11.3h-13.0zM1082.0 306.6l6.5 -11.3h-13.0zM1083.4 309.5l6.5 -11.3h-13.0zM1084.8 313.9l6.5 -11.3h-13.0zM1086.2 312.2l6.5 -11.3h-13.0zM1087.6 319.1l6.5 -11.3h-13.0zM1089.0 321.2l6.5 -11.3h-13.0zM1090.5 321.6l6.5 -11.3h-13.0zM1091.9 321.0l6.5 -11.3h-13.0zM1093.3 322.3l6.5 -11.3h-13.0zM1094.7 324.3l6.5 -11.3h-13.0zM1096.1 324.3l6.5 -11.3h-13.0zM1097.5 331.2l6.5 -11.3h-13.0zM1099.0 326.2l6.5 -11.3h-13.0zM1100.4 332.3l6.5 -11.3h-13.0zM1101.8 331.8l6.5 -11.3h-13.0zM1103.2 332.4l6.5 -11.3h-13.0zM1104.6 335.4l6.5 -11.3h-13.0zM1106.1 337.0l6.5 -11.3h-13.0zM1107.5 337.2l6.5 -11.3h-13.0zM1108.9 335.8l6.5 -11.3h-13.0zM1110.3 335.3l6.5 -11.3h-13.0zM1111.7 336.3l6.5 -11.3h-13.0zM1113.1 341.0l6.5 -11.3h-13.0zM1114.6 341.4l6.5 -11.3h-13.0zM1116.0 342.7l6.5 -11.3h-13.0zM1117.4 340.2l6.5 -11.3h-13.0zM1118.8 347.2l6.5 -11.3h-13.0zM1120.2 340.1l6.5 -11.3h-13.0zM1121.6 345.2l6.5 -11.3h-13.0zM1123.1 346.9l6.5 -11.3h-13.0zM1124.5 345.1l6.5 -11.3h-13.0zM1125.9 344.4l6.5 -11.3h-13.0zM1127.3 347.2l6.5 -11.3h-13.0zM1128.7 346.5l6.5 -11.3h-13.0zM1130.1 349.9l6.5 -11.3h-13.0zM1131.6 348.3l6.5 -11.3h-13.0zM1133.0 349.4l6.5 -11.3h-13.0zM1134.4 353.8l6.5 -11.3h-13.0zM1135.8 351.2l6.5 -11.3h-13.0zM1137.2 355.3l6.5 -11.3h-13.0zM1138.7 356.6l6.5 -11.3h-13.0zM1140.1 360.0l6.5 -11.3h-13.0zM1141.5 359.4l6.5 -11.3h-13.0zM1142.9 357.7l6.5 -11.3h-13.0zM1144.3 363.6l6.5 -11.3h-13.0zM1145.7 359.5l6.5 -11.3h-13.0zM1147.2 361.0l6.5 -11.3h-13.0zM1148.6 361.8l6.5 -11.3h-13.0zM1150.0 368.6l6.5 -11.3h-13.0zM1151.4 364.1l6.5 -11.3h-13.0zM1152.8 362.9l6.5 -11.3h-13.0zM1154.2 366.9l6.5 -11.3h-13.0zM1155.7 365.4l6.5 -11.3h-13.0zM1157.1 372.0l6.5 -11.3h-13.0zM1158.5 365.1l6.5 -11.3h-13.0zM1159.9 368.8l6.5 -11.3h-13.0zM1161.3 365.5l6.5 -11.3h-13.0zM1162.8 372.6l6.5 -11.3h-13.0zM1164.2 366.8l6.5 -11.3h-13.0zM1165.6 369.5l6.5 -11.3h-13.0zM1167.0 367.3l6.5 -11.3h-13.0zM1168.4 371.9l6.5 -11.3h-13.0zM1169.8 371.6l6.5 -11.3h-13.0zM1171.3 365.0l6.5 -11.3h-13.0zM1172.7 372.9l6.5 -11.3h-13.0zM1174.1 372.9l6.5 -11.3h-13.0zM1175.5 372.2l6.5 -11.3h-13.0zM1176.9 374.4l6.5 -11.3h-13.0zM1178.3 369.2l6.5 -11.3h-13.0zM1179.8 368.2l6.5 -11.3h-13.0zM1181.2 374.3l6.5 -11.3h-13.0zM1182.6 377.0l6.5 -11.3h-13.0zM1184.0 370.0l6.5 -11.3h-13.0zM1185.4 370.2l6.5 -11.3h-13.0zM1186.9 370.9l6.5 -11.3h-13.0zM1188.3 370.1l6.5 -11.3h-13.0zM1189.7 375.0l6.5 -11.3h-13.0zM1191.1 373.3l6.5 -11.3h-13.0zM1192.5 376.3l6.5 -11.3h-13.0zM1193.9 376.4l6.5 -11.3h-13.0zM1195.4 370.5l6.5 -11.3h-13.0zM1196.8 374.3l6.5 -11.3h-13.0zM1198.2 366.0l6.5 -11.3h-13.0zM1199.6 369.7l6.5 -11.3h-13.0zM1201.0 369.4l6.5 -11.3h-13.0zM1202.4 363.6l6.5 -11.3h-13.0zM1203.9 359.0l6.5 -11.3h-13.0zM1205.3 360.3l6.5 -11.3h-13.0zM1206.7 363.0l6.5 -11.3h-13.0zM1208.1 358.0l6.5 -11.3h-13.0zM1209.5 354.5l6.5 -11.3h-13.0zM1211.0 357.9l6.5 -11.3h-13.0zM1212.4 357.2l6.5 -11.3h-13.0zM1213.8 351.1l6.5 -11.3h-13.0zM1215.2 351.4l6.5 -11.3h-13.0zM1216.6 352.4l6.5 -11.3h-13.0zM1218.0 348.5l6.5 -11.3h-13.0zM1219.5 347.0l6.5 -11.3h-13.0zM1220.9 342.0l6.5 -11.3h-13.0zM1222.3 339.9l6.5 -11.3h-13.0zM1223.7 334.7l6.5 -11.3h-13.0zM1225.1 333.1l6.5 -11.3h-13.0zM1226.5 335.9l6.5 -11.3h-13.0zM1228.0 328.3l6.5 -11.3h-13.0zM1229.4 324.2l6.5 -11.3h-13.0zM1230.8 322.2l6.5 -11.3h-13.0zM1232.2 317.5l6.5 -11.3h-13.0zM1233.6 318.0l6.5 -11.3h-13.0zM1235.0 315.5l6.5 -11.3h-13.0zM1236.5 307.4l6.5 -11.3h-13.0zM1237.9 308.5l6.5 -11.3h-13.0zM1239.3 307.4l6.5 -11.3h-13.0zM1240.7 295.8l6.5 -11.3h-13.0zM1242.1 296.0l6.5 -11.3h-13.0zM1243.6 290.7l6.5 -11.3h-13.0zM1245.0 288.7l6.5 -11.3h-13.0zM1246.4 283.5l6.5 -11.3h-13.0zM1247.8 277.4l6.5 -11.3h-13.0zM1249.2 269.2l6.5 -11.3h-13.0zM1250.6 260.4l6.5 -11.3h-13.0zM1252.1 259.2l6.5 -11.3h-13.0zM1253.5 242.2l6.5 -11.3h-13.0zM1254.9 236.3l6.5 -11.3h-13.0zM1256.3 226.3l6.5 -11.3h-13.0zM1257.7 214.1l6.5 -11.3h-13.0zM1259.1 208.0l6.5 -11.3h-13.0zM1260.6 204.3l6.5 -11.3h-13.0zM1262.0 190.7l6.5 -11.3h-13.0zM1263.4 195.3l6.5 -11.3h-13.0zM1264.8 194.6l6.5 -11.3h-13.0zM1266.2 200.0l6.5 -11.3h-13.0zM1267.7 204.3l6.5 -11.3h-13.0zM1269.1 216.8l6.5 -11.3h-13.0zM1270.5 221.4l6.5 -11.3h-13.0zM1271.9 236.3l6.5 -11.3h-13.0zM1273.3 243.1l6.5 -11.3h-13.0zM1274.7 257.4l6.5 -11.3h-13.0zM1276.2 264.2l6.5 -11.3h-13.0zM1277.6 265.7l6.5 -11.3h-13.0zM1279.0 275.7l6.5 -11.3h-13.0zM1280.4 281.4l6.5 -11.3h-13.0zM1281.8 280.6l6.5 -11.3h-13.0zM1283.2 289.2l6.5 -11.3h-13.0zM1284.7 295.7l6.5 -11.3h-13.0zM1286.1 295.3l6.5 -11.3h-13.0zM1287.5 303.1l6.5 -11.3h-13.0zM1288.9 300.7l6.5 -11.3h-13.0zM1290.3 303.7l6.5 -11.3h-13.0zM1291.8 311.2l6.5 -11.3h-13.0zM1293.2 314.4l6.5 -11.3h-13.0zM1294.6 315.4l6.5 -11.3h-13.0zM1296.0 318.7l6.5 -11.3h-13.0zM1297.4 323.9l6.5 -11.3h-13.0zM1298.8 322.9l6.5 -11.3h-13.0zM1300.3 332.0l6.5 -11.3h-13.0zM1301.7 330.8l6.5 -11.3h-13.0zM1303.1 333.3l6.5 -11.3h-13.0zM1304.5 335.7l6.5 -11.3h-13.0zM1305.9 337.0l6.5 -11.3h-13.0zM1307.3 343.5l6.5 -11.3h-13.0zM1308.8 341.7l6.5 -11.3h-13.0zM1310.2 346.1l6.5 -11.3h-13.0zM1311.6 349.7l6.5 -11.3h-13.0zM1313.0 353.7l6.5 -11.3h-13.0zM1314.4 355.4l6.5 -11.3h-13.0zM1315.8 353.6l6.5 -11.3h-13.0zM1317.3 358.5l6.5 -11.3h-13.0zM1318.7 357.6l6.5 -11.3h-13.0zM1320.1 356.8l6.5 -11.3h-13.0zM1321.5 358.5l6.5 -11.3h-13.0zM1322.9 358.8l6.5 -11.3h-13.0zM1324.4 365.0l6.5 -11.3h-13.0zM1325.8 368.4l6.5 -11.3h-13.0zM1327.2 364.7l6.5 -11.3h-13.0zM1328.6 367.9l6.5 -11.3h-13.0zM1330.0 367.2l6.5 -11.3h-13.0zM1331.4 371.1l6.5 -11.3h-13.0zM1332.9 369.2l6.5 -11.3h-13.0zM1334.3 371.0l6.5 -11.3h-13.0zM1335.7 372.0l6.5 -11.3h-13.0zM1337.1 373.1l6.5 -11.3h-13.0zM1338.5 373.8l6.5 -11.3h-13.0zM1339.9 374.3l6.5 -11.3h-13.0zM1341.4 374.4l6.5 -11.3h-13.0zM1342.8 372.4l6.5 -11.3h-13.0zM1344.2 375.9l6.5 -11.3h-13.0zM1345.6 370.3l6.5 -11.3h-13.0zM1347.0 374.5l6.5 -11.3h-13.0zM1348.5 371.6l6.5 -11.3h-13.0zM1349.9 374.0l6.5 -11.3h-13.0zM1351.3 374.2l6.5 -11.3h-13.0zM1352.7 368.4l6.5 -11.3h-13.0zM1354.1 373.8l6.5 -11.3h-13.0zM1355.5 375.9l6.5 -11.3h-13.0zM1357.0 374.2l6.5 -11.3h-13.0zM1358.4 372.9l6.5 -11.3h-13.0zM1359.8 366.5l6.5 -11.3h-13.0zM1361.2 370.9l6.5 -11.3h-13.0zM1362.6 368.7l6.5 -11.3h-13.0zM1364.0 373.0l6.5 -11.3h-13.0zM1365.5 369.2l6.5 -11.3h-13.0zM1366.9 368.0l6.5 -11.3h-13.0zM1368.3 364.7l6.5 -11.3h-13.0zM1369.7 370.2l6.5 -11.3h-13.0zM1371.1 366.4l6.5 -11.3h-13.0zM1372.6 366.4l6.5 -11.3h-13.0zM1374.0 368.7l6.5 -11.3h-13.0zM1375.4 365.2l6.5 -11.3h-13.0zM1376.8 364.7l6.5 -11.3h-13.0zM1378.2 368.5l6.5 -11.3h-13.0zM1379.6 360.1l6.5 -11.3h-13.0zM1381.1 358.9l6.5 -11.3h-13.0zM1382.5 359.9l6.5 -11.3h-13.0zM1383.9 360.7l6.5 -11.3h-13.0zM1385.3 352.5l6.5 -11.3h-13.0zM1386.7 354.1l6.5 -11.3h-13.0zM1388.1 350.9l6.5 -11.3h-13.0zM1389.6 348.7l6.5 -11.3h-13.0zM1391.0 352.2l6.5 -11.3h-13.0zM1392.4 347.7l6.5 -11.3h-13.0zM1393.8 349.1l6.5 -11.3h-13.0zM1395.2 347.5l6.5 -11.3h-13.0zM1396.7 346.4l6.5 -11.3h-13.0zM1398.1 345.0l6.5 -11.3h-13.0zM1399.5 341.0l6.5 -11.3h-13.0zM1400.9 342.3l6.5 -11.3h-13.0zM1402.3 341.7l6.5 -11.3h-13.0zM1403.7 340.8l6.5 -11.3h-13.0zM1405.2 338.0l6.5 -11.3h-13.0zM1406.6 339.7l6.5 -11.3h-13.0zM1408.0 337.5l6.5 -11.3h-13.0zM1409.4 335.0l6.5 -11.3h-13.0zM1410.8 334.9l6.5 -11.3h-13.0zM1412.2 332.3l6.5 -11.3h-13.0zM1413.7 331.9l6.5 -11.3h-13.0zM1415.1 323.8l6.5 -11.3h-13.0zM1416.5 323.7l6.5 -11.3h-13.0zM1417.9 324.1l6.5 -11.3h-13.0zM1419.3 323.5l6.5 -11.3h-13.0zM1420.7 316.3l6.5 -11.3h-13.0zM1422.2 319.1l6.5 -11.3h-13.0zM1423.6 318.5l6.5 -11.3h-13.0zM1425.0 316.1l6.5 -11.3h-13.0zM1426.4 314.7l6.5 -11.3h-13.0zM1427.8 310.8l6.5 -11.3h-13.0zM1429.3 313.3l6.5 -11.3h-13.0zM1430.7 307.3l6.5 -11.3h-13.0zM1432.1 313.9l6.5 -11.3h-13.0zM1433.5 309.4l6.5 -11.3h-13.0zM1434.9 313.0l6.5 -11.3h-13.0zM1436.3 305.6l6.5 -11.3h-13.0zM1437.8 310.4l6.5 -11.3h-13.0zM1439.2 309.3l6.5 -11.3h-13.0zM1440.6 306.5l6.5 -11.3h-13.0zM1442.0 305.2l6.5 -11.3h-13.0zM1443.4 310.6l6.5 -11.3h-13.0zM1444.8 308.3l6.5 -11.3h-13.0zM1446.3 310.3l6.5 -11.3h-13.0zM1447.7 306.1l6.5 -11.3h-13.0zM1449.1 306.1l6.5 -11.3h-13.0zM1450.5 306.0l6.5 -11.3h-13.0zM1451.9 306.1l6.5 -11.3h-13.0zM1453.4 304.6l6.5 -11.3h-13.0zM1454.8 304.7l6.5 -11.3h-13.0zM1456.2 300.7l6.5 -11.3h-13.0zM1457.6 297.5l6.5 -11.3h-13.0zM1459.0 305.0l6.5 -11.3h-13.0zM1460.4 299.6l6.5 -11.3h-13.0zM1461.9 299.3l6.5 -11.3h-13.0zM1463.3 296.1l6.5 -11.3h-13.0zM1464.7 298.6l6.5 -11.3h-13.0zM1466.1 295.6l6.5 -11.3h-13.0zM1467.5 296.7l6.5 -11.3h-13.0zM1468.9 291.3l6.5 -11.3h-13.0zM1470.4 291.7l6.5 -11.3h-13.0zM1471.8 291.2l6.5 -11.3h-13.0zM1473.2 288.7l6.5 -11.3h-13.0zM1474.6 288.9l6.5 -11.3h-13.0zM1476.0 290.8l6.5 -11.3h-13.0zM1477.5 284.2l6.5 -11.3h-13.0zM1478.9 283.6l6.5 -11.3h-13.0zM1480.3 283.3l6.5 -11.3h-13.0zM1481.7 279.0l6.5 -11.3h-13.0zM1483.1 277.0l6.5 -11.3h-13.0zM1484.5 281.2l6.5 -11.3h-13.0zM1486.0 278.9l6.5 -11.3h-13.0zM1487.4 271.7l6.5 -11.3h-13.0zM1488.8 270.5l6.5 -11.3h-13.0zM1490.2 274.2l6.5 -11.3h-13.0zM1491.6 273.7l6.5 -11.3h-13.0zM1493.0 270.7l6.5 -11.3h-13.0zM1494.5 268.7l6.5 -11.3h-13.0zM1495.9 269.5l6.5 -11.3h-13.0zM1497.3 263.8l6.5 -11.3h-13.0zM1498.7 265.2l6.5 -11.3h-13.0zM1500.1 263.2l6.5 -11.3h-13.0zM1501.6 256.2l6.5 -11.3h-13.0zM1503.0 258.3l6.5 -11.3h-13.0zM1504.4 255.0l6.5 -11.3h-13.0zM1505.8 251.6l6.5 -11.3h-13.0zM1507.2 249.4l6.5 -11.3h-13.0zM1508.6 250.6l6.5 -11.3h-13.0zM1510.1 248.1l6.5 -11.3h-13.0zM1511.5 248.7l6.5 -11.3h-13.0zM1512.9 240.9l6.5 -11.3h-13.0zM1514.3 242.2l6.5 -11.3h-13.0zM1515.7 245.0l6.5 -11.3h-13.0zM1517.1 240.9l6.5 -11.3h-13.0zM1518.6 237.8l6.5 -11.3h-13.0zM1520.0 237.0l6.5 -11.3h-13.0zM1521.4 232.4l6.5 -11.3h-13.0zM1522.8 232.2l6.5 -11.3h-13.0zM1524.2 235.5l6.5 -11.3h-13.0zM1525.6 233.1l6.5 -11.3h-13.0zM1527.1 234.7l6.5 -11.3h-13.0zM1528.5 229.6l6.5 -11.3h-13.0zM1529.9 228.4l6.5 -11.3h-13.0zM1531.3 220.8l6.5 -11.3h-13.0zM1532.7 225.8l6.5 -11.3h-13.0zM1534.2 229.7l6.5 -11.3h-13.0zM1535.6 224.8l6.5 -11.3h-13.0zM1537.0 221.4l6.5 -11.3h-13.0zM1538.4 223.3l6.5 -11.3h-13.0zM1539.8 221.0l6.5 -11.3h-13.0zM1541.2 218.4l6.5 -11.3h-13.0zM1542.7 215.4l6.5 -11.3h-13.0zM1544.1 215.3l6.5 -11.3h-13.0zM1545.5 215.9l6.5 -11.3h-13.0zM1546.9 210.8l6.5 -11.3h-13.0z" fill="#33ff11"/>
<path d="M979.9 51.2L981.3 53.6L982.7 57.8L984.1 59.0L985.6 58.5L987.0 65.5L988.4 64.8L989.8 65.5L991.2 70.1L992.6 71.2L994.1 76.2L995.5 73.5L996.9 76.2L998.3 80.1L999.7 86.3L1001.2 87.1L1002.6 85.2L1004.0 85.9L1005.4 91.1L1006.8 91.5L1008.2 97.7L1009.7 99.4L1011.1 101.7L1012.5 103.6L1013.9 110.4L1015.3 108.3L1016.7 110.4L1018.2 118.4L1019.6 121.7L1021.0 121.1L1022.4 126.0L1023.8 132.2L1025.2 128.4L1026.7 132.3L1028.1 136.2L1029.5 133.5L1030.9 140.2L1032.3 144.6L1033.8 145.6L1035.2 150.7L1036.6 153.0L1038.0 153.7L1039.4 158.8L1040.8 161.9L1042.3 161.0L1043.7 166.2L1045.1 169.7L1046.5 173.7L1047.9 177.0L1049.3 178.1L1050.8 184.0L1052.2 183.0L1053.6 191.4L1055.0 192.7L1056.4 197.7L1057.9 198.3L1059.3 199.3L1060.7 200.1L1062.1 207.1L1063.5 208.5L1064.9 212.0L1066.4 215.4L1067.8 219.0L1069.2 219.1L1070.6 225.3L1072.0 224.0L1073.4 226.6L1074.9 230.3L1076.3 233.3L1077.7 236.3L1079.1 231.8L1080.5 240.4L1082.0 236.6L1083.4 240.6L1084.8 244.6L1086.2 248.3L1087.6 245.8L1089.0 246.5L1090.5 254.1L1091.9 254.9L1093.3 254.3L1094.7 257.9L1096.1 256.7L1097.5 264.0L1099.0 263.9L1100.4 269.7L1101.8 265.0L1103.2 272.9L1104.6 278.1L1106.1 276.0L1107.5 278.1L1108.9 276.1L1110.3 282.8L1111.7 284.2L1113.1 285.1L1114.6 285.2L1116.0 290.6L1117.4 290.5L1118.8 293.7L1120.2 297.5L1121.6 298.9L1123.1 301.1L1124.5 305.2L1125.9 303.1L1127.3 310.6L1128.7 307.7L1130.1 310.4L1131.6 314.7L1133.0 318.3L1134.4 319.5L1135.8 320.3L1137.2 321.9L1138.7 325.0L1140.1 325.7L1141.5 331.0L1142.9 331.4L1144.3 337.1L1145.7 334.4L1147.2 337.6L1148.6 340.8L1150.0 339.6L1151.4 342.5L1152.8 351.6L1154.2 347.8L1155.7 352.9L1157.1 349.8L1158.5 348.9L1159.9 357.1L1161.3 357.9L1162.8 360.6L1164.2 361.4L1165.6 362.9L1167.0 363.6L1168.4 370.2L1169.8 367.1L1171.3 374.2L1172.7 373.8L1174.1 374.1L1175.5 377.1L1176.9 382.5L1178.3 384.1L1179.8 385.6L1181.2 386.7L1182.6 386.2L1184.0 393.0L1185.4 391.3L1186.9 392.9L1188.3 394.8L1189.7 396.9L1191.1 396.5L1192.5 400.2L1193.9 400.8L1195.4 402.6L1196.8 401.2L1198.2 409.7L1199.6 404.2L1201.0 408.3L1202.4 409.3L1203.9 411.5L1205.3 414.1L1206.7 411.7L1208.1 412.9L1209.5 410.9L1211.0 415.1L1212.4 409.2L1213.8 411.4L1215.2 412.0L1216.6 412.3L1218.0 411.6L1219.5 411.2L1220.9 408.8L1222.3 406.4L1223.7 405.4L1225.1 406.4L1226.5 402.5L1228.0 402.2L1229.4 398.4L1230.8 393.0L1232.2 393.2L1233.6 392.5L1235.0 392.2L1236.5 388.6L1237.9 385.4L1239.3 376.0L1240.7 373.9L1242.1 366.8L1243.6 362.5L1245.0 355.3L1246.4 346.7L1247.8 344.3L1249.2 336.2L1250.6 329.0L1252.1 316.2L1253.5 307.5L1254.9 293.5L1256.3 286.9L1257.7 268.6L1259.1 235.2L1260.6 209.2L1262.0 198.2L1263.4 183.7L1264.8 230.0L1266.2 260.0L1267.7 276.0L1269.1 287.9L1270.5 300.0L1271.9 306.1L1273.3 329.0L1274.7 340.2L1276.2 348.3L1277.6 355.0L1279.0 357.7L1280.4 360.8L1281.8 366.9L1283.2 370.8L1284.7 374.3L1286.1 383.5L1287.5 379.9L1288.9 381.6L1290.3 387.4L1291.8 390.2L1293.2 397.7L1294.6 397.3L1296.0 401.0L1297.4 402.7L1298.8 401.7L1300.3 407.2L1301.7 407.5L1303.1 412.5L1304.5 409.9L1305.9 410.0L1307.3 411.9L1308.8 412.3L1310.2 407.3L1311.6 413.9L1313.0 413.8L1314.4 413.5L1315.8 409.5L1317.3 407.8L1318.7 411.5L1320.1 413.6L1321.5 412.9L1322.9 409.6L1324.4 413.1L1325.8 407.7L1327.2 407.1L1328.6 409.1L1330.0 407.1L1331.4 406.1L1332.9 403.7L1334.3 408.2L1335.7 402.9L1337.1 405.2L1338.5 405.2L1339.9 402.5L1341.4 402.2L1342.8 402.8L1344.2 403.0L1345.6 400.6L1347.0 394.6L1348.5 392.3L1349.9 393.8L1351.3 391.4L1352.7 393.4L1354.1 390.9L1355.5 388.5L1357.0 389.6L1358.4 387.6L1359.8 383.5L1361.2 382.4L1362.6 382.0L1364.0 377.1L1365.5 376.5L1366.9 372.0L1368.3 372.2L1369.7 371.0L1371.1 368.3L1372.6 367.2L1374.0 366.4L1375.4 364.2L1376.8 360.1L1378.2 358.5L1379.6 355.5L1381.1 359.8L1382.5 355.3L1383.9 353.6L1385.3 350.6L1386.7 350.1L1388.1 348.4L1389.6 343.9L1391.0 343.2L1392.4 344.1L1393.8 337.1L1395.2 335.8L1396.7 337.1L1398.1 332.2L1399.5 333.4L1400.9 327.7L1402.3 328.4L1403.7 327.6L1405.2 324.7L1406.6 323.5L1408.0 319.5L1409.4 317.5L1410.8 315.8L1412.2 314.9L1413.7 319.3L1415.1 309.6L1416.5 311.7L1417.9 305.4L1419.3 301.6L1420.7 301.3L1422.2 300.6L1423.6 298.0L1425.0 295.8L1426.4 294.4L1427.8 292.3L1429.3 290.6L1430.7 283.9L1432.1 283.8L1433.5 279.2L1434.9 278.9L1436.3 275.4L1437.8 273.1L1439.2 268.8L1440.6 265.1L1442.0 263.3L1443.4 262.2L1444.8 259.5L1446.3 251.6L1447.7 252.7L1449.1 249.9L1450.5 243.6L1451.9 241.7L1453.4 240.2L1454.8 239.5L1456.2 231.3L1457.6 232.7L1459.0 229.9L1460.4 228.8L1461.9 228.7L1463.3 226.0L1464.7 219.9L1466.1 217.4L1467.5 216.1L1468.9 215.3L1470.4 213.2L1471.8 208.2L1473.2 207.8L1474.6 200.3L1476.0 197.0L1477.5 190.9L1478.9 192.1L1480.3 192.3L1481.7 190.0L1483.1 192.5L1484.5 183.9L1486.0 180.2L1487.4 175.1L1488.8 173.1L1490.2 170.3L1491.6 168.3L1493.0 164.7L1494.5 160.3L1495.9 162.7L1497.3 158.7L1498.7 157.8L1500.1 149.0L1501.6 146.9L1503.0 145.2L1504.4 146.4L1505.8 140.8L1507.2 138.8L1508.6 135.3L1510.1 133.0L1511.5 128.6L1512.9 127.3L1514.3 121.6L1515.7 119.6L1517.1 117.4L1518.6 113.8L1520.0 111.3L1521.4 105.8L1522.8 105.2L1524.2 101.5L1525.6 100.6L1527.1 100.8L1528.5 94.2L1529.9 96.7L1531.3 91.8L1532.7 91.0L1534.2 93.9L1535.6 91.0L1537.0 88.6L1538.4 87.5L1539.8 86.3L1541.2 80.1L1542.7 78.9L1544.1 73.7L1545.5 70.9L1546.9 64.9" stroke="#ee0a0a" stroke-width="3.5" fill="none" stroke-linejoin="round"/>
<path d="M979.9 51.2h0M981.3 53.6h0M982.7 57.8h0M984.1 59.0h0M985.6 58.5h0M987.0 65.5h0M988.4 64.8h0M989.8 65.5h0M991.2 70.1h0M992.6 71.2h0M994.1 76.2h0M995.5 73.5h0M996.9 76.2h0M998.3 80.1h0M999.7 86.3h0M1001.2 87.1h0M1002.6 85.2h0M1004.0 85.9h0M1005.4 91.1h0M1006.8 91.5h0M1008.2 97.7h0M1009.7 99.4h0M1011.1 101.7h0M1012.5 103.6h0M1013.9 110.4h0M1015.3 108.3h0M1016.7 110.4h0M1018.2 118.4h0M1019.6 121.7h0M1021.0 121.1h0M1022.4 126.0h0M1023.8 132.2h0M1025.2 128.4h0M1026.7 132.3h0M1028.1 136.2h0M1029.5 133.5h0M1030.9 140.2h0M1032.3 144.6h0M1033.8 145.6h0M1035.2 150.7h0M1036.6 153.0h0M1038.0 153.7h0M1039.4 158.8h0M1040.8 161.9h0M1042.3 161.0h0M1043.7 166.2h0M1045.1 169.7h0M1046.5 173.7h0M1047.9 177.0h0M1049.3 178.1h0M1050.8 184.0h0M1052.2 183.0h0M1053.6 191.4h0M1055.0 192.7h0M1056.4 197.7h0M1057.9 198.3h0M1059.3 199.3h0M1060.7 200.1h0M1062.1 207.1h0M1063.5 208.5h0M1064.9 212.0h0M1066.4 215.4h0M1067.8 219.0h0M1069.2 219.1h0M1070.6 225.3h0M1072.0 224.0h0M1073.4 226.6h0M1074.9 230.3h0M1076.3 233.3h0M1077.7 236.3h0M1079.1 231.8h0M1080.5 240.4h0M1082.0 236.6h0M1083.4 240.6h0M1084.8 244.6h0M1086.2 248.3h0M1087.6 245.8h0M1089.0 246.5h0M1090.5 254.1h0M1091.9 254.9h0M1093.3 254.3h0M1094.7 257.9h0M1096.1 256.7h0M1097.5 264.0h0M1099.0 263.9h0M1100.4 269.7h0M1101.8 265.0h0M1103.2 272.9h0M1104.6 278.1h0M1106.1 276.0h0M1107.5 278.1h0M1108.9 276.1h0M1110.3 282.8h0M1111.7 284.2h0M1113.1 285.1h0M1114.6 285.2h0M1116.0 290.6h0M1117.4 290.5h0M1118.8 293.7h0M1120.2 297.5h0M1121.6 298.9h0M1123.1 301.1h0M1124.5 305.2h0M1125.9 303.1h0M1127.3 310.6h0M1128.7 307.7h0M1130.1 310.4h0M1131.6 314.7h0M1133.0 318.3h0M1134.4 319.5h0M1135.8 320.3h0M1137.2 321.9h0M1138.7 325.0h0M1140.1 325.7h0M1141.5 331.0h0M1142.9 331.4h0M1144.3 337.1h0M1145.7 334.4h0M1147.2 337.6h0M1148.6 340.8h0M1150.0 339.6h0M1151.4 342.5h0M1152.8 351.6h0M1154.2 347.8h0M1155.7 352.9h0M1157.1 349.8h0M1158.5 348.9h0M1159.9 357.1h0M1161.3 357.9h0M1162.8 360.6h0M1164.2 361.4h0M1165.6 362.9h0M1167.0 363.6h0M1168.4 370.2h0M1169.8 367.1h0M1171.3 374.2h0M1172.7 373.8h0M1174.1 374.1h0M1175.5 377.1h0M1176.9 382.5h0M1178.3 384.1h0M1179.8 385.6h0M1181.2 386.7h0M1182.6 386.2h0M1184.0 393.0h0M1185.4 391.3h0M1186.9 392.9h0M1188.3 394.8h0M1189.7 396.9h0M1191.1 396.5h0M1192.5 400.2h0M1193.9 400.8h0M1195.4 402.6h0M1196.8 401.2h0M1198.2 409.7h0M1199.6 404.2h0M1201.0 408.3h0M1202.4 409.3h0M1203.9 411.5h0M1205.3 414.1h0M1206.7 411.7h0M1208.1 412.9h0M1209.5 410.9h0M1211.0 415.1h0M1212.4 409.2h0M1213.8 411.4h0M1215.2 412.0h0M1216.6 412.3h0M1218.0 411.6h0M1219.5 411.2h0M1220.9 408.8h0M1222.3 406.4h0M1223.7 405.4h0M1225.1 406.4h0M1226.5 402.5h0M1228.0 402.2h0M1229.4 398.4h0M1230.8 393.0h0M1232.2 393.2h0M1233.6 392.5h0M1235.0 392.2h0M1236.5 388.6h0M1237.9 385.4h0M1239.3 376.0h0M1240.7 373.9h0M1242.1 366.8h0M1243.6 362.5h0M1245.0 355.3h0M1246.4 346.7h0M1247.8 344.3h0M1249.2 336.2h0M1250.6 329.0h0M1252.1 316.2h0M1253.5 307.5h0M1254.9 293.5h0M1256.3 286.9h0M1257.7 268.6h0M1259.1 235.2h0M1260.6 209.2h0M1262.0 198.2h0M1263.4 183.7h0M1264.8 230.0h0M1266.2 260.0h0M1267.7 276.0h0M1269.1 287.9h0M1270.5 300.0h0M1271.9 306.1h0M1273.3 329.0h0M1274.7 340.2h0M1276.2 348.3h0M1277.6 355.0h0M1279.0 357.7h0M1280.4 360.8h0M1281.8 366.9h0M1283.2 370.8h0M1284.7 374.3h0M1286.1 383.5h0M1287.5 379.9h0M1288.9 381.6h0M1290.3 387.4h0M1291.8 390.2h0M1293.2 397.7h0M1294.6 397.3h0M1296.0 401.0h0M1297.4 402.7h0M1298.8 401.7h0M1300.3 407.2h0M1301.7 407.5h0M1303.1 412.5h0M1304.5 409.9h0M1305.9 410.0h0M1307.3 411.9h0M1308.8 412.3h0M1310.2 407.3h0M1311.6 413.9h0M1313.0 413.8h0M1314.4 413.5h0M1315.8 409.5h0M1317.3 407.8h0M1318.7 411.5h0M1320.1 413.6h0M1321.5 412.9h0M1322.9 409.6h0M1324.4 413.1h0M1325.8 407.7h0M1327.2 407.1h0M1328.6 409.1h0M1330.0 407.1h0M1331.4 406.1h0M1332.9 403.7h0M1334.3 408.2h0M1335.7 402.9h0M1337.1 405.2h0M1338.5 405.2h0M1339.9 402.5h0M1341.4 402.2h0M1342.8 402.8h0M1344.2 403.0h0M1345.6 400.6h0M1347.0 394.6h0M1348.5 392.3h0M1349.9 393.8h0M1351.3 391.4h0M1352.7 393.4h0M1354.1 390.9h0M1355.5 388.5h0M1357.0 389.6h0M1358.4 387.6h0M1359.8 383.5h0M1361.2 382.4h0M1362.6 382.0h0M1364.0 377.1h0M1365.5 376.5h0M1366.9 372.0h0M1368.3 372.2h0M1369.7 371.0h0M1371.1 368.3h0M1372.6 367.2h0M1374.0 366.4h0M1375.4 364.2h0M1376.8 360.1h0M1378.2 358.5h0M1379.6 355.5h0M1381.1 359.8h0M1382.5 355.3h0M1383.9 353.6h0M1385.3 350.6h0M1386.7 350.1h0M1388.1 348.4h0M1389.6 343.9h0M1391.0 343.2h0M1392.4 344.1h0M1393.8 337.1h0M1395.2 335.8h0M1396.7 337.1h0M1398.1 332.2h0M1399.5 333.4h0M1400.9 327.7h0M1402.3 328.4h0M1403.7 327.6h0M1405.2 324.7h0M1406.6 323.5h0M1408.0 319.5h0M1409.4 317.5h0M1410.8 315.8h0M1412.2 314.9h0M1413.7 319.3h0M1415.1 309.6h0M1416.5 311.7h0M1417.9 305.4h0M1419.3 301.6h0M1420.7 301.3h0M1422.2 300.6h0M1423.6 298.0h0M1425.0 295.8h0M1426.4 294.4h0M1427.8 292.3h0M1429.3 290.6h0M1430.7 283.9h0M1432.1 283.8h0M1433.5 279.2h0M1434.9 278.9h0M1436.3 275.4h0M1437.8 273.1h0M1439.2 268.8h0M1440.6 265.1h0M1442.0 263.3h0M1443.4 262.2h0M1444.8 259.5h0M1446.3 251.6h0M1447.7 252.7h0M1449.1 249.9h0M1450.5 243.6h0M1451.9 241.7h0M1453.4 240.2h0M1454.8 239.5h0M1456.2 231.3h0M1457.6 232.7h0M1459.0 229.9h0M1460.4 228.8h0M1461.9 228.7h0M1463.3 226.0h0M1464.7 219.9h0M1466.1 217.4h0M1467.5 216.1h0M1468.9 215.3h0M1470.4 213.2h0M1471.8 208.2h0M1473.2 207.8h0M1474.6 200.3h0M1476.0 197.0h0M1477.5 190.9h0M1478.9 192.1h0M1480.3 192.3h0M1481.7 190.0h0M1483.1 192.5h0M1484.5 183.9h0M1486.0 180.2h0M1487.4 175.1h0M1488.8 173.1h0M1490.2 170.3h0M1491.6 168.3h0M1493.0 164.7h0M1494.5 160.3h0M1495.9 162.7h0M1497.3 158.7h0M1498.7 157.8h0M1500.1 149.0h0M1501.6 146.9h0M1503.0 145.2h0M1504.4 146.4h0M1505.8 140.8h0M1507.2 138.8h0M1508.6 135.3h0M1510.1 133.0h0M1511.5 128.6h0M1512.9 127.3h0M1514.3 121.6h0M1515.7 119.6h0M1517.1 117.4h0M1518.6 113.8h0M1520.0 111.3h0M1521.4 105.8h0M1522.8 105.2h0M1524.2 101.5h0M1525.6 100.6h0M1527.1 100.8h0M1528.5 94.2h0M1529.9 96.7h0M1531.3 91.8h0M1532.7 91.0h0M1534.2 93.9h0M1535.6 91.0h0M1537.0 88.6h0M1538.4 87.5h0M1539.8 86.3h0M1541.2 80.1h0M1542.7 78.9h0M1544.1 73.7h0M1545.5 70.9h0M1546.9 64.9h0" stroke="#b00000" stroke-width="12.5" stroke-linecap="round" fill="none"/>
<path d="M979.9 51.2h0M981.3 53.6h0M982.7 57.8h0M984.1 59.0h0M985.6 58.5h0M987.0 65.5h0M988.4 64.8h0M989.8 65.5h0M991.2 70.1h0M992.6 71.2h0M994.1 76.2h0M995.5 73.5h0M996.9 76.2h0M998.3 80.1h0M999.7 86.3h0M1001.2 87.1h0M1002.6 85.2h0M1004.0 85.9h0M1005.4 91.1h0M1006.8 91.5h0M1008.2 97.7h0M1009.7 99.4h0M1011.1 101.7h0M1012.5 103.6h0M1013.9 110.4h0M1015.3 108.3h0M1016.7 110.4h0M1018.2 118.4h0M1019.6 121.7h0M1021.0 121.1h0M1022.4 126.0h0M1023.8 132.2h0M1025.2 128.4h0M1026.7 132.3h0M1028.1 136.2h0M1029.5 133.5h0M1030.9 140.2h0M1032.3 144.6h0M1033.8 145.6h0M1035.2 150.7h0M1036.6 153.0h0M1038.0 153.7h0M1039.4 158.8h0M1040.8 161.9h0M1042.3 161.0h0M1043.7 166.2h0M1045.1 169.7h0M1046.5 173.7h0M1047.9 177.0h0M1049.3 178.1h0M1050.8 184.0h0M1052.2 183.0h0M1053.6 191.4h0M1055.0 192.7h0M1056.4 197.7h0M1057.9 198.3h0M1059.3 199.3h0M1060.7 200.1h0M1062.1 207.1h0M1063.5 208.5h0M1064.9 212.0h0M1066.4 215.4h0M1067.8 219.0h0M1069.2 219.1h0M1070.6 225.3h0M1072.0 224.0h0M1073.4 226.6h0M1074.9 230.3h0M1076.3 233.3h0M1077.7 236.3h0M1079.1 231.8h0M1080.5 240.4h0M1082.0 236.6h0M1083.4 240.6h0M1084.8 244.6h0M1086.2 248.3h0M1087.6 245.8h0M1089.0 246.5h0M1090.5 254.1h0M1091.9 254.9h0M1093.3 254.3h0M1094.7 257.9h0M1096.1 256.7h0M1097.5 264.0h0M1099.0 263.9h0M1100.4 269.7h0M1101.8 265.0h0M1103.2 272.9h0M1104.6 278.1h0M1106.1 276.0h0M1107.5 278.1h0M1108.9 276.1h0M1110.3 282.8h0M1111.7 284.2h0M1113.1 285.1h0M1114.6 285.2h0M1116.0 290.6h0M1117.4 290.5h0M1118.8 293.7h0M1120.2 297.5h0M1121.6 298.9h0M1123.1 301.1h0M1124.5 305.2h0M1125.9 303.1h0M1127.3 310.6h0M1128.7 307.7h0M1130.1 310.4h0M1131.6 314.7h0M1133.0 318.3h0M1134.4 319.5h0M1135.8 320.3h0M1137.2 321.9h0M1138.7 325.0h0M1140.1 325.7h0M1141.5 331.0h0M1142.9 331.4h0M1144.3 337.1h0M1145.7 334.4h0M1147.2 337.6h0M1148.6 340.8h0M1150.0 339.6h0M1151.4 342.5h0M1152.8 351.6h0M1154.2 347.8h0M1155.7 352.9h0M1157.1 349.8h0M1158.5 348.9h0M1159.9 357.1h0M1161.3 357.9h0M1162.8 360.6h0M1164.2 361.4h0M1165.6 362.9h0M1167.0 363.6h0M1168.4 370.2h0M1169.8 367.1h0M1171.3 374.2h0M1172.7 373.8h0M1174.1 374.1h0M1175.5 377.1h0M1176.9 382.5h0M1178.3 384.1h0M1179.8 385.6h0M1181.2 386.7h0M1182.6 386.2h0M1184.0 393.0h0M1185.4 391.3h0M1186.9 392.9h0M1188.3 394.8h0M1189.7 396.9h0M1191.1 396.5h0M1192.5 400.2h0M1193.9 400.8h0M1195.4 402.6h0M1196.8 401.2h0M1198.2 409.7h0M1199.6 404.2h0M1201.0 408.3h0M1202.4 409.3h0M1203.9 411.5h0M1205.3 414.1h0M1206.7 411.7h0M1208.1 412.9h0M1209.5 410.9h0M1211.0 415.1h0M1212.4 409.2h0M1213.8 411.4h0M1215.2 412.0h0M1216.6 412.3h0M1218.0 411.6h0M1219.5 411.2h0M1220.9 408.8h0M1222.3 406.4h0M1223.7 405.4h0M1225.1 406.4h0M1226.5 402.5h0M1228.0 402.2h0M1229.4 398.4h0M1230.8 393.0h0M1232.2 393.2h0M1233.6 392.5h0M1235.0 392.2h0M1236.5 388.6h0M1237.9 385.4h0M1239.3 376.0h0M1240.7 373.9h0M1242.1 366.8h0M1243.6 362.5h0M1245.0 355.3h0M1246.4 346.7h0M1247.8 344.3h0M1249.2 336.2h0M1250.6 329.0h0M1252.1 316.2h0M1253.5 307.5h0M1254.9 293.5h0M1256.3 286.9h0M1257.7 268.6h0M1259.1 235.2h0M1260.6 209.2h0M1262.0 198.2h0M1263.4 183.7h0M1264.8 230.0h0M1266.2 260.0h0M1267.7 276.0h0M1269.1 287.9h0M1270.5 300.0h0M1271.9 306.1h0M1273.3 329.0h0M1274.7 340.2h0M1276.2 348.3h0M1277.6 355.0h0M1279.0 357.7h0M1280.4 360.8h0M1281.8 366.9h0M1283.2 370.8h0M1284.7 374.3h0M1286.1 383.5h0M1287.5 379.9h0M1288.9 381.6h0M1290.3 387.4h0M1291.8 390.2h0M1293.2 397.7h0M1294.6 397.3h0M1296.0 401.0h0M1297.4 402.7h0M1298.8 401.7h0M1300.3 407.2h0M1301.7 407.5h0M1303.1 412.5h0M1304.5 409.9h0M1305.9 410.0h0M1307.3 411.9h0M1308.8 412.3h0M1310.2 407.3h0M1311.6 413.9h0M1313.0 413.8h0M1314.4 413.5h0M1315.8 409.5h0M1317.3 407.8h0M1318.7 411.5h0M1320.1 413.6h0M1321.5 412.9h0M1322.9 409.6h0M1324.4 413.1h0M1325.8 407.7h0M1327.2 407.1h0M1328.6 409.1h0M1330.0 407.1h0M1331.4 406.1h0M1332.9 403.7h0M1334.3 408.2h0M1335.7 402.9h0M1337.1 405.2h0M1338.5 405.2h0M1339.9 402.5h0M1341.4 402.2h0M1342.8 402.8h0M1344.2 403.0h0M1345.6 400.6h0M1347.0 394.6h0M1348.5 392.3h0M1349.9 393.8h0M1351.3 391.4h0M1352.7 393.4h0M1354.1 390.9h0M1355.5 388.5h0M1357.0 389.6h0M1358.4 387.6h0M1359.8 383.5h0M1361.2 382.4h0M1362.6 382.0h0M1364.0 377.1h0M1365.5 376.5h0M1366.9 372.0h0M1368.3 372.2h0M1369.7 371.0h0M1371.1 368.3h0M1372.6 367.2h0M1374.0 366.4h0M1375.4 364.2h0M1376.8 360.1h0M1378.2 358.5h0M1379.6 355.5h0M1381.1 359.8h0M1382.5 355.3h0M1383.9 353.6h0M1385.3 350.6h0M1386.7 350.1h0M1388.1 348.4h0M1389.6 343.9h0M1391.0 343.2h0M1392.4 344.1h0M1393.8 337.1h0M1395.2 335.8h0M1396.7 337.1h0M1398.1 332.2h0M1399.5 333.4h0M1400.9 327.7h0M1402.3 328.4h0M1403.7 327.6h0M1405.2 324.7h0M1406.6 323.5h0M1408.0 319.5h0M1409.4 317.5h0M1410.8 315.8h0M1412.2 314.9h0M1413.7 319.3h0M1415.1 309.6h0M1416.5 311.7h0M1417.9 305.4h0M1419.3 301.6h0M1420.7 301.3h0M1422.2 300.6h0M1423.6 298.0h0M1425.0 295.8h0M1426.4 294.4h0M1427.8 292.3h0M1429.3 290.6h0M1430.7 283.9h0M1432.1 283.8h0M1433.5 279.2h0M1434.9 278.9h0M1436.3 275.4h0M1437.8 273.1h0M1439.2 268.8h0M1440.6 265.1h0M1442.0 263.3h0M1443.4 262.2h0M1444.8 259.5h0M1446.3 251.6h0M1447.7 252.7h0M1449.1 249.9h0M1450.5 243.6h0M1451.9 241.7h0M1453.4 240.2h0M1454.8 239.5h0M1456.2 231.3h0M1457.6 232.7h0M1459.0 229.9h0M1460.4 228.8h0M1461.9 228.7h0M1463.3 226.0h0M1464.7 219.9h0M1466.1 217.4h0M1467.5 216.1h0M1468.9 215.3h0M1470.4 213.2h0M1471.8 208.2h0M1473.2 207.8h0M1474.6 200.3h0M1476.0 197.0h0M1477.5 190.9h0M1478.9 192.1h0M1480.3 192.3h0M1481.7 190.0h0M1483.1 192.5h0M1484.5 183.9h0M1486.0 180.2h0M1487.4 175.1h0M1488.8 173.1h0M1490.2 170.3h0M1491.6 168.3h0M1493.0 164.7h0M1494.5 160.3h0M1495.9 162.7h0M1497.3 158.7h0M1498.7 157.8h0M1500.1 149.0h0M1501.6 146.9h0M1503.0 145.2h0M1504.4 146.4h0M1505.8 140.8h0M1507.2 138.8h0M1508.6 135.3h0M1510.1 133.0h0M1511.5 128.6h0M1512.9 127.3h0M1514.3 121.6h0M1515.7 119.6h0M1517.1 117.4h0M1518.6 113.8h0M1520.0 111.3h0M1521.4 105.8h0M1522.8 105.2h0M1524.2 101.5h0M1525.6 100.6h0M1527.1 100.8h0M1528.5 94.2h0M1529.9 96.7h0M1531.3 91.8h0M1532.7 91.0h0M1534.2 93.9h0M1535.6 91.0h0M1537.0 88.6h0M1538.4 87.5h0M1539.8 86.3h0M1541.2 80.1h0M1542.7 78.9h0M1544.1 73.7h0M1545.5 70.9h0M1546.9 64.9h0" stroke="#ff0000" stroke-width="11.3" stroke-linecap="round" fill="none"/>
<rect x="972.8" y="23.0" width="581.2" height="447.3" fill="none" stroke="#000" stroke-width="3.8"/>
<path d="M979.9 470.3v-19.0M979.9 23.0v19.0M994.1 470.3v-10.5M994.1 23.0v10.5M1008.2 470.3v-10.5M1008.2 23.0v10.5M1022.4 470.3v-10.5M1022.4 23.0v10.5M1036.6 470.3v-10.5M1036.6 23.0v10.5M1050.8 470.3v-10.5M1050.8 23.0v10.5M1064.9 470.3v-10.5M1064.9 23.0v10.5M1079.1 470.3v-10.5M1079.1 23.0v10.5M1093.3 470.3v-10.5M1093.3 23.0v10.5M1107.5 470.3v-10.5M1107.5 23.0v10.5M1121.6 470.3v-19.0M1121.6 23.0v19.0M1135.8 470.3v-10.5M1135.8 23.0v10.5M1150.0 470.3v-10.5M1150.0 23.0v10.5M1164.2 470.3v-10.5M1164.2 23.0v10.5M1178.3 470.3v-10.5M1178.3 23.0v10.5M1192.5 470.3v-10.5M1192.5 23.0v10.5M1206.7 470.3v-10.5M1206.7 23.0v10.5M1220.9 470.3v-10.5M1220.9 23.0v10.5M1235.0 470.3v-10.5M1235.0 23.0v10.5M1249.2 470.3v-10.5M1249.2 23.0v10.5M1263.4 470.3v-19.0M1263.4 23.0v19.0M1277.6 470.3v-10.5M1277.6 23.0v10.5M1291.8 470.3v-10.5M1291.8 23.0v10.5M1305.9 470.3v-10.5M1305.9 23.0v10.5M1320.1 470.3v-10.5M1320.1 23.0v10.5M1334.3 470.3v-10.5M1334.3 23.0v10.5M1348.5 470.3v-10.5M1348.5 23.0v10.5M1362.6 470.3v-10.5M1362.6 23.0v10.5M1376.8 470.3v-10.5M1376.8 23.0v10.5M1391.0 470.3v-10.5M1391.0 23.0v10.5M1405.2 470.3v-19.0M1405.2 23.0v19.0M1419.3 470.3v-10.5M1419.3 23.0v10.5M1433.5 470.3v-10.5M1433.5 23.0v10.5M1447.7 470.3v-10.5M1447.7 23.0v10.5M1461.9 470.3v-10.5M1461.9 23.0v10.5M1476.0 470.3v-10.5M1476.0 23.0v10.5M1490.2 470.3v-10.5M1490.2 23.0v10.5M1504.4 470.3v-10.5M1504.4 23.0v10.5M1518.6 470.3v-10.5M1518.6 23.0v10.5M1532.7 470.3v-10.5M1532.7 23.0v10.5M1546.9 470.3v-19.0M1546.9 23.0v19.0" stroke="#000" stroke-width="3.5" fill="none"/>
<path d="M972.8 429.6h19.0M1554.0 429.6h-19.0M972.8 389.0h10.5M1554.0 389.0h-10.5M972.8 348.3h19.0M1554.0 348.3h-19.0M972.8 307.6h10.5M1554.0 307.6h-10.5M972.8 267.0h19.0M1554.0 267.0h-19.0M972.8 226.3h10.5M1554.0 226.3h-10.5M972.8 185.7h19.0M1554.0 185.7h-19.0M972.8 145.0h10.5M1554.0 145.0h-10.5M972.8 104.3h19.0M1554.0 104.3h-19.0M972.8 63.7h10.5M1554.0 63.7h-10.5" stroke="#000" stroke-width="3.5" fill="none"/>
<path d="M993.1 711.3L994.5 711.0L995.9 711.1L997.3 714.8L998.8 718.4L1000.2 722.4L1001.6 720.2L1003.0 721.5L1004.4 725.3L1005.9 728.8L1007.3 726.3L1008.7 721.6L1010.1 732.2L1011.5 731.7L1012.9 733.0L1014.4 744.0L1015.8 736.7L1017.2 740.8L1018.6 735.5L1020.0 742.3L1021.5 745.5L1022.9 745.3L1024.3 745.8L1025.7 749.9L1027.1 750.2L1028.5 756.5L1030.0 755.2L1031.4 754.4L1032.8 753.1L1034.2 759.9L1035.6 763.9L1037.0 763.6L1038.5 766.6L1039.9 766.9L1041.3 771.0L1042.7 777.0L1044.1 777.9L1045.6 780.2L1047.0 781.8L1048.4 784.1L1049.8 789.3L1051.2 795.6L1052.6 792.9L1054.1 799.2L1055.5 794.4L1056.9 796.6L1058.3 804.1L1059.7 798.5L1061.2 800.0L1062.6 804.8L1064.0 802.1L1065.4 803.9L1066.8 816.3L1068.2 811.5L1069.7 815.9L1071.1 818.4L1072.5 819.1L1073.9 826.6L1075.3 828.3L1076.8 830.9L1078.2 832.3L1079.6 831.6L1081.0 837.1L1082.4 836.8L1083.8 832.5L1085.3 835.4L1086.7 834.6L1088.1 842.7L1089.5 839.8L1090.9 839.7L1092.4 838.4L1093.8 841.1L1095.2 836.9L1096.6 841.0L1098.0 841.6L1099.4 842.7L1100.9 841.6L1102.3 846.8L1103.7 843.3L1105.1 847.2L1106.5 850.2L1108.0 852.6L1109.4 853.2L1110.8 853.8L1112.2 856.2L1113.6 860.3L1115.0 860.8L1116.5 865.3L1117.9 863.6L1119.3 869.6L1120.7 877.9L1122.1 868.4L1123.6 873.9L1125.0 879.5L1126.4 877.7L1127.8 881.3L1129.2 873.0L1130.6 879.5L1132.1 887.6L1133.5 882.1L1134.9 886.5L1136.3 880.4L1137.7 891.5L1139.1 896.8L1140.6 890.8L1142.0 893.8L1143.4 895.6L1144.8 902.9L1146.2 896.2L1147.7 893.9L1149.1 907.2L1150.5 899.0L1151.9 906.3L1153.3 898.6L1154.7 906.5L1156.2 910.2L1157.6 907.6L1159.0 911.1L1160.4 916.3L1161.8 913.6L1163.3 919.1L1164.7 924.8L1166.1 913.9L1167.5 923.1L1168.9 925.5L1170.3 923.9L1171.8 931.5L1173.2 932.2L1174.6 930.8L1176.0 932.2L1177.4 931.6L1178.9 929.5L1180.3 935.9L1181.7 933.8L1183.1 934.5L1184.5 940.9L1185.9 937.6L1187.4 942.3L1188.8 936.6L1190.2 939.5L1191.6 942.0L1193.0 947.5L1194.5 944.0L1195.9 948.3L1197.3 945.6L1198.7 950.9L1200.1 954.3L1201.5 949.0L1203.0 950.0L1204.4 954.6L1205.8 949.1L1207.2 954.1L1208.6 954.3L1210.1 953.1L1211.5 956.0L1212.9 955.1L1214.3 954.2L1215.7 948.7L1217.1 948.8L1218.6 954.5L1220.0 948.3L1221.4 953.5L1222.8 952.0L1224.2 950.1L1225.7 951.7L1227.1 944.5L1228.5 951.3L1229.9 955.6L1231.3 947.1L1232.7 952.0L1234.2 950.7L1235.6 958.2L1237.0 943.9L1238.4 942.9L1239.8 941.3L1241.2 938.9L1242.7 934.6L1244.1 938.3L1245.5 933.0L1246.9 936.0L1248.3 931.9L1249.8 924.2L1251.2 922.9L1252.6 925.0L1254.0 915.7L1255.4 913.6L1256.8 911.2L1258.3 902.4L1259.7 900.2L1261.1 899.2L1262.5 893.1L1263.9 879.2L1265.4 885.2L1266.8 874.6L1268.2 867.3L1269.6 859.6L1271.0 857.4L1272.4 846.3L1273.9 837.9L1275.3 830.9L1276.7 833.8L1278.1 837.5L1279.5 835.9L1281.0 843.5L1282.4 855.3L1283.8 868.4L1285.2 874.6L1286.6 883.6L1288.0 887.0L1289.5 897.2L1290.9 895.7L1292.3 899.1L1293.7 904.4L1295.1 902.1L1296.6 904.6L1298.0 908.1L1299.4 907.6L1300.8 916.0L1302.2 914.2L1303.6 915.4L1305.1 918.7L1306.5 919.1L1307.9 929.5L1309.3 933.4L1310.7 930.6L1312.2 932.6L1313.6 929.7L1315.0 937.0L1316.4 943.9L1317.8 940.1L1319.2 946.9L1320.7 950.0L1322.1 937.6L1323.5 945.9L1324.9 945.5L1326.3 946.8L1327.7 943.5L1329.2 949.1L1330.6 946.7L1332.0 954.6L1333.4 956.3L1334.8 947.6L1336.3 947.7L1337.7 951.1L1339.1 952.1L1340.5 952.4L1341.9 955.1L1343.3 947.8L1344.8 950.5L1346.2 950.8L1347.6 951.1L1349.0 948.6L1350.4 950.1L1351.9 949.1L1353.3 955.0L1354.7 949.2L1356.1 943.3L1357.5 951.7L1358.9 950.1L1360.4 946.3L1361.8 945.4L1363.2 945.5L1364.6 951.6L1366.0 943.2L1367.5 947.1L1368.9 944.2L1370.3 938.0L1371.7 938.9L1373.1 933.5L1374.5 924.1L1376.0 930.1L1377.4 928.7L1378.8 932.6L1380.2 930.7L1381.6 931.0L1383.1 928.4L1384.5 929.4L1385.9 927.2L1387.3 925.0L1388.7 926.8L1390.1 927.5L1391.6 926.6L1393.0 919.9L1394.4 920.5L1395.8 916.5L1397.2 915.5L1398.7 919.1L1400.1 914.7L1401.5 920.3L1402.9 906.8L1404.3 908.9L1405.7 911.8L1407.2 913.1L1408.6 906.3L1410.0 911.7L1411.4 906.3L1412.8 899.4L1414.3 899.7L1415.7 899.6L1417.1 893.1L1418.5 897.9L1419.9 891.9L1421.3 892.9L1422.8 892.5L1424.2 886.8L1425.6 890.1L1427.0 879.2L1428.4 885.9L1429.8 876.1L1431.3 884.7L1432.7 877.8L1434.1 882.2L1435.5 881.3L1436.9 874.9L1438.4 871.8L1439.8 876.7L1441.2 867.2L1442.6 872.1L1444.0 867.7L1445.4 865.4L1446.9 863.2L1448.3 869.5L1449.7 856.9L1451.1 858.9L1452.5 860.5L1454.0 860.9L1455.4 861.5L1456.8 858.7L1458.2 850.8L1459.6 851.9L1461.0 852.6L1462.5 848.7L1463.9 839.8L1465.3 843.8L1466.7 842.4L1468.1 833.8L1469.6 834.4L1471.0 833.4L1472.4 833.1L1473.8 833.8L1475.2 830.2L1476.6 825.7L1478.1 822.6L1479.5 818.5L1480.9 815.8L1482.3 814.8L1483.7 812.9L1485.2 814.9L1486.6 816.8L1488.0 809.6L1489.4 809.1L1490.8 806.2L1492.2 803.1L1493.7 804.3L1495.1 801.8L1496.5 796.4L1497.9 793.5L1499.3 793.6L1500.8 787.4L1502.2 787.0L1503.6 786.7L1505.0 780.2L1506.4 770.9L1507.8 775.9L1509.3 766.5L1510.7 762.4L1512.1 758.6L1513.5 762.8L1514.9 750.3L1516.4 753.3L1517.8 751.5L1519.2 748.6L1520.6 743.3L1522.0 742.6L1523.4 741.0L1524.9 733.9L1526.3 738.1L1527.7 736.9L1529.1 728.8L1530.5 726.9L1531.9 723.6L1533.4 728.6L1534.8 719.6L1536.2 719.6L1537.6 713.4L1539.0 721.3L1540.5 714.6L1541.9 714.3L1543.3 716.6L1544.7 711.8L1546.1 703.9L1547.5 707.2L1549.0 706.2L1550.4 699.2L1551.8 697.1L1553.2 695.4L1554.6 699.6L1556.1 695.7L1557.5 690.8L1558.9 695.0L1560.3 694.2" stroke="#0610dc" stroke-width="3.5" fill="none" stroke-linejoin="round"/>
<path d="M993.1 703.8l6.5 11.3h-13.0zM994.5 703.5l6.5 11.3h-13.0zM995.9 703.6l6.5 11.3h-13.0zM997.3 707.3l6.5 11.3h-13.0zM998.8 710.9l6.5 11.3h-13.0zM1000.2 714.9l6.5 11.3h-13.0zM1001.6 712.7l6.5 11.3h-13.0zM1003.0 714.0l6.5 11.3h-13.0zM1004.4 717.8l6.5 11.3h-13.0zM1005.9 721.3l6.5 11.3h-13.0zM1007.3 718.7l6.5 11.3h-13.0zM1008.7 714.1l6.5 11.3h-13.0zM1010.1 724.7l6.5 11.3h-13.0zM1011.5 724.2l6.5 11.3h-13.0zM1012.9 725.5l6.5 11.3h-13.0zM1014.4 736.5l6.5 11.3h-13.0zM1015.8 729.2l6.5 11.3h-13.0zM1017.2 733.3l6.5 11.3h-13.0zM1018.6 728.0l6.5 11.3h-13.0zM1020.0 734.8l6.5 11.3h-13.0zM1021.5 738.0l6.5 11.3h-13.0zM1022.9 737.8l6.5 11.3h-13.0zM1024.3 738.3l6.5 11.3h-13.0zM1025.7 742.4l6.5 11.3h-13.0zM1027.1 742.7l6.5 11.3h-13.0zM1028.5 749.0l6.5 11.3h-13.0zM1030.0 747.7l6.5 11.3h-13.0zM1031.4 746.9l6.5 11.3h-13.0zM1032.8 745.6l6.5 11.3h-13.0zM1034.2 752.4l6.5 11.3h-13.0zM1035.6 756.4l6.5 11.3h-13.0zM1037.0 756.1l6.5 11.3h-13.0zM1038.5 759.1l6.5 11.3h-13.0zM1039.9 759.3l6.5 11.3h-13.0zM1041.3 763.5l6.5 11.3h-13.0zM1042.7 769.5l6.5 11.3h-13.0zM1044.1 770.4l6.5 11.3h-13.0zM1045.6 772.7l6.5 11.3h-13.0zM1047.0 774.3l6.5 11.3h-13.0zM1048.4 776.6l6.5 11.3h-13.0zM1049.8 781.8l6.5 11.3h-13.0zM1051.2 788.1l6.5 11.3h-13.0zM1052.6 785.4l6.5 11.3h-13.0zM1054.1 791.7l6.5 11.3h-13.0zM1055.5 786.9l6.5 11.3h-13.0zM1056.9 789.1l6.5 11.3h-13.0zM1058.3 796.6l6.5 11.3h-13.0zM1059.7 791.0l6.5 11.3h-13.0zM1061.2 792.5l6.5 11.3h-13.0zM1062.6 797.3l6.5 11.3h-13.0zM1064.0 794.6l6.5 11.3h-13.0zM1065.4 796.3l6.5 11.3h-13.0zM1066.8 808.8l6.5 11.3h-13.0zM1068.2 804.0l6.5 11.3h-13.0zM1069.7 808.4l6.5 11.3h-13.0zM1071.1 810.9l6.5 11.3h-13.0zM1072.5 811.5l6.5 11.3h-13.0zM1073.9 819.1l6.5 11.3h-13.0zM1075.3 820.8l6.5 11.3h-13.0zM1076.8 823.4l6.5 11.3h-13.0zM1078.2 824.8l6.5 11.3h-13.0zM1079.6 824.1l6.5 11.3h-13.0zM1081.0 829.6l6.5 11.3h-13.0zM1082.4 829.3l6.5 11.3h-13.0zM1083.8 825.0l6.5 11.3h-13.0zM1085.3 827.9l6.5 11.3h-13.0zM1086.7 827.1l6.5 11.3h-13.0zM1088.1 835.2l6.5 11.3h-13.0zM1089.5 832.3l6.5 11.3h-13.0zM1090.9 832.2l6.5 11.3h-13.0zM1092.4 830.9l6.5 11.3h-13.0zM1093.8 833.6l6.5 11.3h-13.0zM1095.2 829.4l6.5 11.3h-13.0zM1096.6 833.5l6.5 11.3h-13.0zM1098.0 834.1l6.5 11.3h-13.0zM1099.4 835.2l6.5 11.3h-13.0zM1100.9 834.1l6.5 11.3h-13.0zM1102.3 839.3l6.5 11.3h-13.0zM1103.7 835.8l6.5 11.3h-13.0zM1105.1 839.7l6.5 11.3h-13.0zM1106.5 842.7l6.5 11.3h-13.0zM1108.0 845.1l6.5 11.3h-13.0zM1109.4 845.7l6.5 11.3h-13.0zM1110.8 846.3l6.5 11.3h-13.0zM1112.2 848.7l6.5 11.3h-13.0zM1113.6 852.8l6.5 11.3h-13.0zM1115.0 853.3l6.5 11.3h-13.0zM1116.5 857.8l6.5 11.3h-13.0zM1117.9 856.1l6.5 11.3h-13.0zM1119.3 862.1l6.5 11.3h-13.0zM1120.7 870.4l6.5 11.3h-13.0zM1122.1 860.8l6.5 11.3h-13.0zM1123.6 866.4l6.5 11.3h-13.0zM1125.0 872.0l6.5 11.3h-13.0zM1126.4 870.2l6.5 11.3h-13.0zM1127.8 873.8l6.5 11.3h-13.0zM1129.2 865.5l6.5 11.3h-13.0zM1130.6 872.0l6.5 11.3h-13.0zM1132.1 880.1l6.5 11.3h-13.0zM1133.5 874.6l6.5 11.3h-13.0zM1134.9 879.0l6.5 11.3h-13.0zM1136.3 872.9l6.5 11.3h-13.0zM1137.7 884.0l6.5 11.3h-13.0zM1139.1 889.3l6.5 11.3h-13.0zM1140.6 883.3l6.5 11.3h-13.0zM1142.0 886.3l6.5 11.3h-13.0zM1143.4 888.1l6.5 11.3h-13.0zM1144.8 895.4l6.5 11.3h-13.0zM1146.2 888.7l6.5 11.3h-13.0zM1147.7 886.4l6.5 11.3h-13.0zM1149.1 899.7l6.5 11.3h-13.0zM1150.5 891.5l6.5 11.3h-13.0zM1151.9 898.8l6.5 11.3h-13.0zM1153.3 891.1l6.5 11.3h-13.0zM1154.7 899.0l6.5 11.3h-13.0zM1156.2 902.7l6.5 11.3h-13.0zM1157.6 900.1l6.5 11.3h-13.0zM1159.0 903.6l6.5 11.3h-13.0zM1160.4 908.8l6.5 11.3h-13.0zM1161.8 906.1l6.5 11.3h-13.0zM1163.3 911.6l6.5 11.3h-13.0zM1164.7 917.3l6.5 11.3h-13.0zM1166.1 906.4l6.5 11.3h-13.0zM1167.5 915.6l6.5 11.3h-13.0zM1168.9 918.0l6.5 11.3h-13.0zM1170.3 916.4l6.5 11.3h-13.0zM1171.8 924.0l6.5 11.3h-13.0zM1173.2 924.7l6.5 11.3h-13.0zM1174.6 923.3l6.5 11.3h-13.0zM1176.0 924.7l6.5 11.3h-13.0zM1177.4 924.1l6.5 11.3h-13.0zM1178.9 922.0l6.5 11.3h-13.0zM1180.3 928.4l6.5 11.3h-13.0zM1181.7 926.3l6.5 11.3h-13.0zM1183.1 927.0l6.5 11.3h-13.0zM1184.5 933.4l6.5 11.3h-13.0zM1185.9 930.1l6.5 11.3h-13.0zM1187.4 934.7l6.5 11.3h-13.0zM1188.8 929.1l6.5 11.3h-13.0zM1190.2 932.0l6.5 11.3h-13.0zM1191.6 934.5l6.5 11.3h-13.0zM1193.0 940.0l6.5 11.3h-13.0zM1194.5 936.5l6.5 11.3h-13.0zM1195.9 940.8l6.5 11.3h-13.0zM1197.3 938.1l6.5 11.3h-13.0zM1198.7 943.4l6.5 11.3h-13.0zM1200.1 946.8l6.5 11.3h-13.0zM1201.5 941.5l6.5 11.3h-13.0zM1203.0 942.5l6.5 11.3h-13.0zM1204.4 947.1l6.5 11.3h-13.0zM1205.8 941.6l6.5 11.3h-13.0zM1207.2 946.6l6.5 11.3h-13.0zM1208.6 946.8l6.5 11.3h-13.0zM1210.1 945.5l6.5 11.3h-13.0zM1211.5 948.5l6.5 11.3h-13.0zM1212.9 947.6l6.5 11.3h-13.0zM1214.3 946.7l6.5 11.3h-13.0zM1215.7 941.2l6.5 11.3h-13.0zM1217.1 941.3l6.5 11.3h-13.0zM1218.6 947.0l6.5 11.3h-13.0zM1220.0 940.8l6.5 11.3h-13.0zM1221.4 946.0l6.5 11.3h-13.0zM1222.8 944.4l6.5 11.3h-13.0zM1224.2 942.6l6.5 11.3h-13.0zM1225.7 944.2l6.5 11.3h-13.0zM1227.1 937.0l6.5 11.3h-13.0zM1228.5 943.8l6.5 11.3h-13.0zM1229.9 948.1l6.5 11.3h-13.0zM1231.3 939.6l6.5 11.3h-13.0zM1232.7 944.5l6.5 11.3h-13.0zM1234.2 943.2l6.5 11.3h-13.0zM1235.6 950.7l6.5 11.3h-13.0zM1237.0 936.4l6.5 11.3h-13.0zM1238.4 935.4l6.5 11.3h-13.0zM1239.8 933.8l6.5 11.3h-13.0zM1241.2 931.4l6.5 11.3h-13.0zM1242.7 927.1l6.5 11.3h-13.0zM1244.1 930.8l6.5 11.3h-13.0zM1245.5 925.5l6.5 11.3h-13.0zM1246.9 928.5l6.5 11.3h-13.0zM1248.3 924.4l6.5 11.3h-13.0zM1249.8 916.7l6.5 11.3h-13.0zM1251.2 915.4l6.5 11.3h-13.0zM1252.6 917.5l6.5 11.3h-13.0zM1254.0 908.2l6.5 11.3h-13.0zM1255.4 906.1l6.5 11.3h-13.0zM1256.8 903.7l6.5 11.3h-13.0zM1258.3 894.9l6.5 11.3h-13.0zM1259.7 892.7l6.5 11.3h-13.0zM1261.1 891.7l6.5 11.3h-13.0zM1262.5 885.6l6.5 11.3h-13.0zM1263.9 871.7l6.5 11.3h-13.0zM1265.4 877.7l6.5 11.3h-13.0zM1266.8 867.1l6.5 11.3h-13.0zM1268.2 859.8l6.5 11.3h-13.0zM1269.6 852.1l6.5 11.3h-13.0zM1271.0 849.9l6.5 11.3h-13.0zM1272.4 838.8l6.5 11.3h-13.0zM1273.9 830.4l6.5 11.3h-13.0zM1275.3 823.4l6.5 11.3h-13.0zM1276.7 826.3l6.5 11.3h-13.0zM1278.1 830.0l6.5 11.3h-13.0zM1279.5 828.4l6.5 11.3h-13.0zM1281.0 836.0l6.5 11.3h-13.0zM1282.4 847.8l6.5 11.3h-13.0zM1283.8 860.9l6.5 11.3h-13.0zM1285.2 867.1l6.5 11.3h-13.0zM1286.6 876.1l6.5 11.3h-13.0zM1288.0 879.5l6.5 11.3h-13.0zM1289.5 889.7l6.5 11.3h-13.0zM1290.9 888.2l6.5 11.3h-13.0zM1292.3 891.6l6.5 11.3h-13.0zM1293.7 896.9l6.5 11.3h-13.0zM1295.1 894.6l6.5 11.3h-13.0zM1296.6 897.1l6.5 11.3h-13.0zM1298.0 900.6l6.5 11.3h-13.0zM1299.4 900.1l6.5 11.3h-13.0zM1300.8 908.5l6.5 11.3h-13.0zM1302.2 906.6l6.5 11.3h-13.0zM1303.6 907.9l6.5 11.3h-13.0zM1305.1 911.2l6.5 11.3h-13.0zM1306.5 911.6l6.5 11.3h-13.0zM1307.9 922.0l6.5 11.3h-13.0zM1309.3 925.9l6.5 11.3h-13.0zM1310.7 923.1l6.5 11.3h-13.0zM1312.2 925.1l6.5 11.3h-13.0zM1313.6 922.2l6.5 11.3h-13.0zM1315.0 929.5l6.5 11.3h-13.0zM1316.4 936.4l6.5 11.3h-13.0zM1317.8 932.6l6.5 11.3h-13.0zM1319.2 939.4l6.5 11.3h-13.0zM1320.7 942.4l6.5 11.3h-13.0zM1322.1 930.0l6.5 11.3h-13.0zM1323.5 938.4l6.5 11.3h-13.0zM1324.9 938.0l6.5 11.3h-13.0zM1326.3 939.3l6.5 11.3h-13.0zM1327.7 936.0l6.5 11.3h-13.0zM1329.2 941.6l6.5 11.3h-13.0zM1330.6 939.2l6.5 11.3h-13.0zM1332.0 947.1l6.5 11.3h-13.0zM1333.4 948.8l6.5 11.3h-13.0zM1334.8 940.0l6.5 11.3h-13.0zM1336.3 940.2l6.5 11.3h-13.0zM1337.7 943.6l6.5 11.3h-13.0zM1339.1 944.6l6.5 11.3h-13.0zM1340.5 944.8l6.5 11.3h-13.0zM1341.9 947.6l6.5 11.3h-13.0zM1343.3 940.3l6.5 11.3h-13.0zM1344.8 943.0l6.5 11.3h-13.0zM1346.2 943.3l6.5 11.3h-13.0zM1347.6 943.6l6.5 11.3h-13.0zM1349.0 941.1l6.5 11.3h-13.0zM1350.4 942.6l6.5 11.3h-13.0zM1351.9 941.6l6.5 11.3h-13.0zM1353.3 947.5l6.5 11.3h-13.0zM1354.7 941.6l6.5 11.3h-13.0zM1356.1 935.8l6.5 11.3h-13.0zM1357.5 944.2l6.5 11.3h-13.0zM1358.9 942.5l6.5 11.3h-13.0zM1360.4 938.8l6.5 11.3h-13.0zM1361.8 937.9l6.5 11.3h-13.0zM1363.2 938.0l6.5 11.3h-13.0zM1364.6 944.1l6.5 11.3h-13.0zM1366.0 935.7l6.5 11.3h-13.0zM1367.5 939.6l6.5 11.3h-13.0zM1368.9 936.7l6.5 11.3h-13.0zM1370.3 930.5l6.5 11.3h-13.0zM1371.7 931.4l6.5 11.3h-13.0zM1373.1 926.0l6.5 11.3h-13.0zM1374.5 916.6l6.5 11.3h-13.0zM1376.0 922.6l6.5 11.3h-13.0zM1377.4 921.2l6.5 11.3h-13.0zM1378.8 925.1l6.5 11.3h-13.0zM1380.2 923.2l6.5 11.3h-13.0zM1381.6 923.5l6.5 11.3h-13.0zM1383.1 920.9l6.5 11.3h-13.0zM1384.5 921.9l6.5 11.3h-13.0zM1385.9 919.7l6.5 11.3h-13.0zM1387.3 917.5l6.5 11.3h-13.0zM1388.7 919.3l6.5 11.3h-13.0zM1390.1 920.0l6.5 11.3h-13.0zM1391.6 919.1l6.5 11.3h-13.0zM1393.0 912.4l6.5 11.3h-13.0zM1394.4 913.0l6.5 11.3h-13.0zM1395.8 909.0l6.5 11.3h-13.0zM1397.2 908.0l6.5 11.3h-13.0zM1398.7 911.6l6.5 11.3h-13.0zM1400.1 907.2l6.5 11.3h-13.0zM1401.5 912.8l6.5 11.3h-13.0zM1402.9 899.3l6.5 11.3h-13.0zM1404.3 901.4l6.5 11.3h-13.0zM1405.7 904.3l6.5 11.3h-13.0zM1407.2 905.6l6.5 11.3h-13.0zM1408.6 898.8l6.5 11.3h-13.0zM1410.0 904.2l6.5 11.3h-13.0zM1411.4 898.8l6.5 11.3h-13.0zM1412.8 891.9l6.5 11.3h-13.0zM1414.3 892.2l6.5 11.3h-13.0zM1415.7 892.1l6.5 11.3h-13.0zM1417.1 885.6l6.5 11.3h-13.0zM1418.5 890.4l6.5 11.3h-13.0zM1419.9 884.4l6.5 11.3h-13.0zM1421.3 885.4l6.5 11.3h-13.0zM1422.8 885.0l6.5 11.3h-13.0zM1424.2 879.3l6.5 11.3h-13.0zM1425.6 882.6l6.5 11.3h-13.0zM1427.0 871.7l6.5 11.3h-13.0zM1428.4 878.4l6.5 11.3h-13.0zM1429.8 868.6l6.5 11.3h-13.0zM1431.3 877.2l6.5 11.3h-13.0zM1432.7 870.3l6.5 11.3h-13.0zM1434.1 874.7l6.5 11.3h-13.0zM1435.5 873.8l6.5 11.3h-13.0zM1436.9 867.4l6.5 11.3h-13.0zM1438.4 864.3l6.5 11.3h-13.0zM1439.8 869.2l6.5 11.3h-13.0zM1441.2 859.7l6.5 11.3h-13.0zM1442.6 864.6l6.5 11.3h-13.0zM1444.0 860.2l6.5 11.3h-13.0zM1445.4 857.9l6.5 11.3h-13.0zM1446.9 855.7l6.5 11.3h-13.0zM1448.3 862.0l6.5 11.3h-13.0zM1449.7 849.4l6.5 11.3h-13.0zM1451.1 851.4l6.5 11.3h-13.0zM1452.5 853.0l6.5 11.3h-13.0zM1454.0 853.4l6.5 11.3h-13.0zM1455.4 854.0l6.5 11.3h-13.0zM1456.8 851.2l6.5 11.3h-13.0zM1458.2 843.3l6.5 11.3h-13.0zM1459.6 844.4l6.5 11.3h-13.0zM1461.0 845.1l6.5 11.3h-13.0zM1462.5 841.2l6.5 11.3h-13.0zM1463.9 832.3l6.5 11.3h-13.0zM1465.3 836.3l6.5 11.3h-13.0zM1466.7 834.9l6.5 11.3h-13.0zM1468.1 826.3l6.5 11.3h-13.0zM1469.6 826.8l6.5 11.3h-13.0zM1471.0 825.8l6.5 11.3h-13.0zM1472.4 825.6l6.5 11.3h-13.0zM1473.8 826.3l6.5 11.3h-13.0zM1475.2 822.7l6.5 11.3h-13.0zM1476.6 818.2l6.5 11.3h-13.0zM1478.1 815.1l6.5 11.3h-13.0zM1479.5 811.0l6.5 11.3h-13.0zM1480.9 808.3l6.5 11.3h-13.0zM1482.3 807.3l6.5 11.3h-13.0zM1483.7 805.4l6.5 11.3h-13.0zM1485.2 807.4l6.5 11.3h-13.0zM1486.6 809.3l6.5 11.3h-13.0zM1488.0 802.1l6.5 11.3h-13.0zM1489.4 801.6l6.5 11.3h-13.0zM1490.8 798.7l6.5 11.3h-13.0zM1492.2 795.6l6.5 11.3h-13.0zM1493.7 796.8l6.5 11.3h-13.0zM1495.1 794.3l6.5 11.3h-13.0zM1496.5 788.9l6.5 11.3h-13.0zM1497.9 786.0l6.5 11.3h-13.0zM1499.3 786.1l6.5 11.3h-13.0zM1500.8 779.9l6.5 11.3h-13.0zM1502.2 779.5l6.5 11.3h-13.0zM1503.6 779.2l6.5 11.3h-13.0zM1505.0 772.7l6.5 11.3h-13.0zM1506.4 763.4l6.5 11.3h-13.0zM1507.8 768.4l6.5 11.3h-13.0zM1509.3 759.0l6.5 11.3h-13.0zM1510.7 754.9l6.5 11.3h-13.0zM1512.1 751.1l6.5 11.3h-13.0zM1513.5 755.3l6.5 11.3h-13.0zM1514.9 742.8l6.5 11.3h-13.0zM1516.4 745.8l6.5 11.3h-13.0zM1517.8 744.0l6.5 11.3h-13.0zM1519.2 741.1l6.5 11.3h-13.0zM1520.6 735.8l6.5 11.3h-13.0zM1522.0 735.1l6.5 11.3h-13.0zM1523.4 733.5l6.5 11.3h-13.0zM1524.9 726.4l6.5 11.3h-13.0zM1526.3 730.6l6.5 11.3h-13.0zM1527.7 729.4l6.5 11.3h-13.0zM1529.1 721.3l6.5 11.3h-13.0zM1530.5 719.4l6.5 11.3h-13.0zM1531.9 716.1l6.5 11.3h-13.0zM1533.4 721.1l6.5 11.3h-13.0zM1534.8 712.1l6.5 11.3h-13.0zM1536.2 712.1l6.5 11.3h-13.0zM1537.6 705.9l6.5 11.3h-13.0zM1539.0 713.8l6.5 11.3h-13.0zM1540.5 707.1l6.5 11.3h-13.0zM1541.9 706.8l6.5 11.3h-13.0zM1543.3 709.1l6.5 11.3h-13.0zM1544.7 704.3l6.5 11.3h-13.0zM1546.1 696.4l6.5 11.3h-13.0zM1547.5 699.7l6.5 11.3h-13.0zM1549.0 698.7l6.5 11.3h-13.0zM1550.4 691.7l6.5 11.3h-13.0zM1551.8 689.6l6.5 11.3h-13.0zM1553.2 687.9l6.5 11.3h-13.0zM1554.6 692.1l6.5 11.3h-13.0zM1556.1 688.2l6.5 11.3h-13.0zM1557.5 683.2l6.5 11.3h-13.0zM1558.9 687.5l6.5 11.3h-13.0zM1560.3 686.7l6.5 11.3h-13.0z" fill="#000090" stroke="#000090" stroke-width="1.0" stroke-linejoin="miter"/>
<path d="M993.1 703.8l6.5 11.3h-13.0zM994.5 703.5l6.5 11.3h-13.0zM995.9 703.6l6.5 11.3h-13.0zM997.3 707.3l6.5 11.3h-13.0zM998.8 710.9l6.5 11.3h-13.0zM1000.2 714.9l6.5 11.3h-13.0zM1001.6 712.7l6.5 11.3h-13.0zM1003.0 714.0l6.5 11.3h-13.0zM1004.4 717.8l6.5 11.3h-13.0zM1005.9 721.3l6.5 11.3h-13.0zM1007.3 718.7l6.5 11.3h-13.0zM1008.7 714.1l6.5 11.3h-13.0zM1010.1 724.7l6.5 11.3h-13.0zM1011.5 724.2l6.5 11.3h-13.0zM1012.9 725.5l6.5 11.3h-13.0zM1014.4 736.5l6.5 11.3h-13.0zM1015.8 729.2l6.5 11.3h-13.0zM1017.2 733.3l6.5 11.3h-13.0zM1018.6 728.0l6.5 11.3h-13.0zM1020.0 734.8l6.5 11.3h-13.0zM1021.5 738.0l6.5 11.3h-13.0zM1022.9 737.8l6.5 11.3h-13.0zM1024.3 738.3l6.5 11.3h-13.0zM1025.7 742.4l6.5 11.3h-13.0zM1027.1 742.7l6.5 11.3h-13.0zM1028.5 749.0l6.5 11.3h-13.0zM1030.0 747.7l6.5 11.3h-13.0zM1031.4 746.9l6.5 11.3h-13.0zM1032.8 745.6l6.5 11.3h-13.0zM1034.2 752.4l6.5 11.3h-13.0zM1035.6 756.4l6.5 11.3h-13.0zM1037.0 756.1l6.5 11.3h-13.0zM1038.5 759.1l6.5 11.3h-13.0zM1039.9 759.3l6.5 11.3h-13.0zM1041.3 763.5l6.5 11.3h-13.0zM1042.7 769.5l6.5 11.3h-13.0zM1044.1 770.4l6.5 11.3h-13.0zM1045.6 772.7l6.5 11.3h-13.0zM1047.0 774.3l6.5 11.3h-13.0zM1048.4 776.6l6.5 11.3h-13.0zM1049.8 781.8l6.5 11.3h-13.0zM1051.2 788.1l6.5 11.3h-13.0zM1052.6 785.4l6.5 11.3h-13.0zM1054.1 791.7l6.5 11.3h-13.0zM1055.5 786.9l6.5 11.3h-13.0zM1056.9 789.1l6.5 11.3h-13.0zM1058.3 796.6l6.5 11.3h-13.0zM1059.7 791.0l6.5 11.3h-13.0zM1061.2 792.5l6.5 11.3h-13.0zM1062.6 797.3l6.5 11.3h-13.0zM1064.0 794.6l6.5 11.3h-13.0zM1065.4 796.3l6.5 11.3h-13.0zM1066.8 808.8l6.5 11.3h-13.0zM1068.2 804.0l6.5 11.3h-13.0zM1069.7 808.4l6.5 11.3h-13.0zM1071.1 810.9l6.5 11.3h-13.0zM1072.5 811.5l6.5 11.3h-13.0zM1073.9 819.1l6.5 11.3h-13.0zM1075.3 820.8l6.5 11.3h-13.0zM1076.8 823.4l6.5 11.3h-13.0zM1078.2 824.8l6.5 11.3h-13.0zM1079.6 824.1l6.5 11.3h-13.0zM1081.0 829.6l6.5 11.3h-13.0zM1082.4 829.3l6.5 11.3h-13.0zM1083.8 825.0l6.5 11.3h-13.0zM1085.3 827.9l6.5 11.3h-13.0zM1086.7 827.1l6.5 11.3h-13.0zM1088.1 835.2l6.5 11.3h-13.0zM1089.5 832.3l6.5 11.3h-13.0zM1090.9 832.2l6.5 11.3h-13.0zM1092.4 830.9l6.5 11.3h-13.0zM1093.8 833.6l6.5 11.3h-13.0zM1095.2 829.4l6.5 11.3h-13.0zM1096.6 833.5l6.5 11.3h-13.0zM1098.0 834.1l6.5 11.3h-13.0zM1099.4 835.2l6.5 11.3h-13.0zM1100.9 834.1l6.5 11.3h-13.0zM1102.3 839.3l6.5 11.3h-13.0zM1103.7 835.8l6.5 11.3h-13.0zM1105.1 839.7l6.5 11.3h-13.0zM1106.5 842.7l6.5 11.3h-13.0zM1108.0 845.1l6.5 11.3h-13.0zM1109.4 845.7l6.5 11.3h-13.0zM1110.8 846.3l6.5 11.3h-13.0zM1112.2 848.7l6.5 11.3h-13.0zM1113.6 852.8l6.5 11.3h-13.0zM1115.0 853.3l6.5 11.3h-13.0zM1116.5 857.8l6.5 11.3h-13.0zM1117.9 856.1l6.5 11.3h-13.0zM1119.3 862.1l6.5 11.3h-13.0zM1120.7 870.4l6.5 11.3h-13.0zM1122.1 860.8l6.5 11.3h-13.0zM1123.6 866.4l6.5 11.3h-13.0zM1125.0 872.0l6.5 11.3h-13.0zM1126.4 870.2l6.5 11.3h-13.0zM1127.8 873.8l6.5 11.3h-13.0zM1129.2 865.5l6.5 11.3h-13.0zM1130.6 872.0l6.5 11.3h-13.0zM1132.1 880.1l6.5 11.3h-13.0zM1133.5 874.6l6.5 11.3h-13.0zM1134.9 879.0l6.5 11.3h-13.0zM1136.3 872.9l6.5 11.3h-13.0zM1137.7 884.0l6.5 11.3h-13.0zM1139.1 889.3l6.5 11.3h-13.0zM1140.6 883.3l6.5 11.3h-13.0zM1142.0 886.3l6.5 11.3h-13.0zM1143.4 888.1l6.5 11.3h-13.0zM1144.8 895.4l6.5 11.3h-13.0zM1146.2 888.7l6.5 11.3h-13.0zM1147.7 886.4l6.5 11.3h-13.0zM1149.1 899.7l6.5 11.3h-13.0zM1150.5 891.5l6.5 11.3h-13.0zM1151.9 898.8l6.5 11.3h-13.0zM1153.3 891.1l6.5 11.3h-13.0zM1154.7 899.0l6.5 11.3h-13.0zM1156.2 902.7l6.5 11.3h-13.0zM1157.6 900.1l6.5 11.3h-13.0zM1159.0 903.6l6.5 11.3h-13.0zM1160.4 908.8l6.5 11.3h-13.0zM1161.8 906.1l6.5 11.3h-13.0zM1163.3 911.6l6.5 11.3h-13.0zM1164.7 917.3l6.5 11.3h-13.0zM1166.1 906.4l6.5 11.3h-13.0zM1167.5 915.6l6.5 11.3h-13.0zM1168.9 918.0l6.5 11.3h-13.0zM1170.3 916.4l6.5 11.3h-13.0zM1171.8 924.0l6.5 11.3h-13.0zM1173.2 924.7l6.5 11.3h-13.0zM1174.6 923.3l6.5 11.3h-13.0zM1176.0 924.7l6.5 11.3h-13.0zM1177.4 924.1l6.5 11.3h-13.0zM1178.9 922.0l6.5 11.3h-13.0zM1180.3 928.4l6.5 11.3h-13.0zM1181.7 926.3l6.5 11.3h-13.0zM1183.1 927.0l6.5 11.3h-13.0zM1184.5 933.4l6.5 11.3h-13.0zM1185.9 930.1l6.5 11.3h-13.0zM1187.4 934.7l6.5 11.3h-13.0zM1188.8 929.1l6.5 11.3h-13.0zM1190.2 932.0l6.5 11.3h-13.0zM1191.6 934.5l6.5 11.3h-13.0zM1193.0 940.0l6.5 11.3h-13.0zM1194.5 936.5l6.5 11.3h-13.0zM1195.9 940.8l6.5 11.3h-13.0zM1197.3 938.1l6.5 11.3h-13.0zM1198.7 943.4l6.5 11.3h-13.0zM1200.1 946.8l6.5 11.3h-13.0zM1201.5 941.5l6.5 11.3h-13.0zM1203.0 942.5l6.5 11.3h-13.0zM1204.4 947.1l6.5 11.3h-13.0zM1205.8 941.6l6.5 11.3h-13.0zM1207.2 946.6l6.5 11.3h-13.0zM1208.6 946.8l6.5 11.3h-13.0zM1210.1 945.5l6.5 11.3h-13.0zM1211.5 948.5l6.5 11.3h-13.0zM1212.9 947.6l6.5 11.3h-13.0zM1214.3 946.7l6.5 11.3h-13.0zM1215.7 941.2l6.5 11.3h-13.0zM1217.1 941.3l6.5 11.3h-13.0zM1218.6 947.0l6.5 11.3h-13.0zM1220.0 940.8l6.5 11.3h-13.0zM1221.4 946.0l6.5 11.3h-13.0zM1222.8 944.4l6.5 11.3h-13.0zM1224.2 942.6l6.5 11.3h-13.0zM1225.7 944.2l6.5 11.3h-13.0zM1227.1 937.0l6.5 11.3h-13.0zM1228.5 943.8l6.5 11.3h-13.0zM1229.9 948.1l6.5 11.3h-13.0zM1231.3 939.6l6.5 11.3h-13.0zM1232.7 944.5l6.5 11.3h-13.0zM1234.2 943.2l6.5 11.3h-13.0zM1235.6 950.7l6.5 11.3h-13.0zM1237.0 936.4l6.5 11.3h-13.0zM1238.4 935.4l6.5 11.3h-13.0zM1239.8 933.8l6.5 11.3h-13.0zM1241.2 931.4l6.5 11.3h-13.0zM1242.7 927.1l6.5 11.3h-13.0zM1244.1 930.8l6.5 11.3h-13.0zM1245.5 925.5l6.5 11.3h-13.0zM1246.9 928.5l6.5 11.3h-13.0zM1248.3 924.4l6.5 11.3h-13.0zM1249.8 916.7l6.5 11.3h-13.0zM1251.2 915.4l6.5 11.3h-13.0zM1252.6 917.5l6.5 11.3h-13.0zM1254.0 908.2l6.5 11.3h-13.0zM1255.4 906.1l6.5 11.3h-13.0zM1256.8 903.7l6.5 11.3h-13.0zM1258.3 894.9l6.5 11.3h-13.0zM1259.7 892.7l6.5 11.3h-13.0zM1261.1 891.7l6.5 11.3h-13.0zM1262.5 885.6l6.5 11.3h-13.0zM1263.9 871.7l6.5 11.3h-13.0zM1265.4 877.7l6.5 11.3h-13.0zM1266.8 867.1l6.5 11.3h-13.0zM1268.2 859.8l6.5 11.3h-13.0zM1269.6 852.1l6.5 11.3h-13.0zM1271.0 849.9l6.5 11.3h-13.0zM1272.4 838.8l6.5 11.3h-13.0zM1273.9 830.4l6.5 11.3h-13.0zM1275.3 823.4l6.5 11.3h-13.0zM1276.7 826.3l6.5 11.3h-13.0zM1278.1 830.0l6.5 11.3h-13.0zM1279.5 828.4l6.5 11.3h-13.0zM1281.0 836.0l6.5 11.3h-13.0zM1282.4 847.8l6.5 11.3h-13.0zM1283.8 860.9l6.5 11.3h-13.0zM1285.2 867.1l6.5 11.3h-13.0zM1286.6 876.1l6.5 11.3h-13.0zM1288.0 879.5l6.5 11.3h-13.0zM1289.5 889.7l6.5 11.3h-13.0zM1290.9 888.2l6.5 11.3h-13.0zM1292.3 891.6l6.5 11.3h-13.0zM1293.7 896.9l6.5 11.3h-13.0zM1295.1 894.6l6.5 11.3h-13.0zM1296.6 897.1l6.5 11.3h-13.0zM1298.0 900.6l6.5 11.3h-13.0zM1299.4 900.1l6.5 11.3h-13.0zM1300.8 908.5l6.5 11.3h-13.0zM1302.2 906.6l6.5 11.3h-13.0zM1303.6 907.9l6.5 11.3h-13.0zM1305.1 911.2l6.5 11.3h-13.0zM1306.5 911.6l6.5 11.3h-13.0zM1307.9 922.0l6.5 11.3h-13.0zM1309.3 925.9l6.5 11.3h-13.0zM1310.7 923.1l6.5 11.3h-13.0zM1312.2 925.1l6.5 11.3h-13.0zM1313.6 922.2l6.5 11.3h-13.0zM1315.0 929.5l6.5 11.3h-13.0zM1316.4 936.4l6.5 11.3h-13.0zM1317.8 932.6l6.5 11.3h-13.0zM1319.2 939.4l6.5 11.3h-13.0zM1320.7 942.4l6.5 11.3h-13.0zM1322.1 930.0l6.5 11.3h-13.0zM1323.5 938.4l6.5 11.3h-13.0zM1324.9 938.0l6.5 11.3h-13.0zM1326.3 939.3l6.5 11.3h-13.0zM1327.7 936.0l6.5 11.3h-13.0zM1329.2 941.6l6.5 11.3h-13.0zM1330.6 939.2l6.5 11.3h-13.0zM1332.0 947.1l6.5 11.3h-13.0zM1333.4 948.8l6.5 11.3h-13.0zM1334.8 940.0l6.5 11.3h-13.0zM1336.3 940.2l6.5 11.3h-13.0zM1337.7 943.6l6.5 11.3h-13.0zM1339.1 944.6l6.5 11.3h-13.0zM1340.5 944.8l6.5 11.3h-13.0zM1341.9 947.6l6.5 11.3h-13.0zM1343.3 940.3l6.5 11.3h-13.0zM1344.8 943.0l6.5 11.3h-13.0zM1346.2 943.3l6.5 11.3h-13.0zM1347.6 943.6l6.5 11.3h-13.0zM1349.0 941.1l6.5 11.3h-13.0zM1350.4 942.6l6.5 11.3h-13.0zM1351.9 941.6l6.5 11.3h-13.0zM1353.3 947.5l6.5 11.3h-13.0zM1354.7 941.6l6.5 11.3h-13.0zM1356.1 935.8l6.5 11.3h-13.0zM1357.5 944.2l6.5 11.3h-13.0zM1358.9 942.5l6.5 11.3h-13.0zM1360.4 938.8l6.5 11.3h-13.0zM1361.8 937.9l6.5 11.3h-13.0zM1363.2 938.0l6.5 11.3h-13.0zM1364.6 944.1l6.5 11.3h-13.0zM1366.0 935.7l6.5 11.3h-13.0zM1367.5 939.6l6.5 11.3h-13.0zM1368.9 936.7l6.5 11.3h-13.0zM1370.3 930.5l6.5 11.3h-13.0zM1371.7 931.4l6.5 11.3h-13.0zM1373.1 926.0l6.5 11.3h-13.0zM1374.5 916.6l6.5 11.3h-13.0zM1376.0 922.6l6.5 11.3h-13.0zM1377.4 921.2l6.5 11.3h-13.0zM1378.8 925.1l6.5 11.3h-13.0zM1380.2 923.2l6.5 11.3h-13.0zM1381.6 923.5l6.5 11.3h-13.0zM1383.1 920.9l6.5 11.3h-13.0zM1384.5 921.9l6.5 11.3h-13.0zM1385.9 919.7l6.5 11.3h-13.0zM1387.3 917.5l6.5 11.3h-13.0zM1388.7 919.3l6.5 11.3h-13.0zM1390.1 920.0l6.5 11.3h-13.0zM1391.6 919.1l6.5 11.3h-13.0zM1393.0 912.4l6.5 11.3h-13.0zM1394.4 913.0l6.5 11.3h-13.0zM1395.8 909.0l6.5 11.3h-13.0zM1397.2 908.0l6.5 11.3h-13.0zM1398.7 911.6l6.5 11.3h-13.0zM1400.1 907.2l6.5 11.3h-13.0zM1401.5 912.8l6.5 11.3h-13.0zM1402.9 899.3l6.5 11.3h-13.0zM1404.3 901.4l6.5 11.3h-13.0zM1405.7 904.3l6.5 11.3h-13.0zM1407.2 905.6l6.5 11.3h-13.0zM1408.6 898.8l6.5 11.3h-13.0zM1410.0 904.2l6.5 11.3h-13.0zM1411.4 898.8l6.5 11.3h-13.0zM1412.8 891.9l6.5 11.3h-13.0zM1414.3 892.2l6.5 11.3h-13.0zM1415.7 892.1l6.5 11.3h-13.0zM1417.1 885.6l6.5 11.3h-13.0zM1418.5 890.4l6.5 11.3h-13.0zM1419.9 884.4l6.5 11.3h-13.0zM1421.3 885.4l6.5 11.3h-13.0zM1422.8 885.0l6.5 11.3h-13.0zM1424.2 879.3l6.5 11.3h-13.0zM1425.6 882.6l6.5 11.3h-13.0zM1427.0 871.7l6.5 11.3h-13.0zM1428.4 878.4l6.5 11.3h-13.0zM1429.8 868.6l6.5 11.3h-13.0zM1431.3 877.2l6.5 11.3h-13.0zM1432.7 870.3l6.5 11.3h-13.0zM1434.1 874.7l6.5 11.3h-13.0zM1435.5 873.8l6.5 11.3h-13.0zM1436.9 867.4l6.5 11.3h-13.0zM1438.4 864.3l6.5 11.3h-13.0zM1439.8 869.2l6.5 11.3h-13.0zM1441.2 859.7l6.5 11.3h-13.0zM1442.6 864.6l6.5 11.3h-13.0zM1444.0 860.2l6.5 11.3h-13.0zM1445.4 857.9l6.5 11.3h-13.0zM1446.9 855.7l6.5 11.3h-13.0zM1448.3 862.0l6.5 11.3h-13.0zM1449.7 849.4l6.5 11.3h-13.0zM1451.1 851.4l6.5 11.3h-13.0zM1452.5 853.0l6.5 11.3h-13.0zM1454.0 853.4l6.5 11.3h-13.0zM1455.4 854.0l6.5 11.3h-13.0zM1456.8 851.2l6.5 11.3h-13.0zM1458.2 843.3l6.5 11.3h-13.0zM1459.6 844.4l6.5 11.3h-13.0zM1461.0 845.1l6.5 11.3h-13.0zM1462.5 841.2l6.5 11.3h-13.0zM1463.9 832.3l6.5 11.3h-13.0zM1465.3 836.3l6.5 11.3h-13.0zM1466.7 834.9l6.5 11.3h-13.0zM1468.1 826.3l6.5 11.3h-13.0zM1469.6 826.8l6.5 11.3h-13.0zM1471.0 825.8l6.5 11.3h-13.0zM1472.4 825.6l6.5 11.3h-13.0zM1473.8 826.3l6.5 11.3h-13.0zM1475.2 822.7l6.5 11.3h-13.0zM1476.6 818.2l6.5 11.3h-13.0zM1478.1 815.1l6.5 11.3h-13.0zM1479.5 811.0l6.5 11.3h-13.0zM1480.9 808.3l6.5 11.3h-13.0zM1482.3 807.3l6.5 11.3h-13.0zM1483.7 805.4l6.5 11.3h-13.0zM1485.2 807.4l6.5 11.3h-13.0zM1486.6 809.3l6.5 11.3h-13.0zM1488.0 802.1l6.5 11.3h-13.0zM1489.4 801.6l6.5 11.3h-13.0zM1490.8 798.7l6.5 11.3h-13.0zM1492.2 795.6l6.5 11.3h-13.0zM1493.7 796.8l6.5 11.3h-13.0zM1495.1 794.3l6.5 11.3h-13.0zM1496.5 788.9l6.5 11.3h-13.0zM1497.9 786.0l6.5 11.3h-13.0zM1499.3 786.1l6.5 11.3h-13.0zM1500.8 779.9l6.5 11.3h-13.0zM1502.2 779.5l6.5 11.3h-13.0zM1503.6 779.2l6.5 11.3h-13.0zM1505.0 772.7l6.5 11.3h-13.0zM1506.4 763.4l6.5 11.3h-13.0zM1507.8 768.4l6.5 11.3h-13.0zM1509.3 759.0l6.5 11.3h-13.0zM1510.7 754.9l6.5 11.3h-13.0zM1512.1 751.1l6.5 11.3h-13.0zM1513.5 755.3l6.5 11.3h-13.0zM1514.9 742.8l6.5 11.3h-13.0zM1516.4 745.8l6.5 11.3h-13.0zM1517.8 744.0l6.5 11.3h-13.0zM1519.2 741.1l6.5 11.3h-13.0zM1520.6 735.8l6.5 11.3h-13.0zM1522.0 735.1l6.5 11.3h-13.0zM1523.4 733.5l6.5 11.3h-13.0zM1524.9 726.4l6.5 11.3h-13.0zM1526.3 730.6l6.5 11.3h-13.0zM1527.7 729.4l6.5 11.3h-13.0zM1529.1 721.3l6.5 11.3h-13.0zM1530.5 719.4l6.5 11.3h-13.0zM1531.9 716.1l6.5 11.3h-13.0zM1533.4 721.1l6.5 11.3h-13.0zM1534.8 712.1l6.5 11.3h-13.0zM1536.2 712.1l6.5 11.3h-13.0zM1537.6 705.9l6.5 11.3h-13.0zM1539.0 713.8l6.5 11.3h-13.0zM1540.5 707.1l6.5 11.3h-13.0zM1541.9 706.8l6.5 11.3h-13.0zM1543.3 709.1l6.5 11.3h-13.0zM1544.7 704.3l6.5 11.3h-13.0zM1546.1 696.4l6.5 11.3h-13.0zM1547.5 699.7l6.5 11.3h-13.0zM1549.0 698.7l6.5 11.3h-13.0zM1550.4 691.7l6.5 11.3h-13.0zM1551.8 689.6l6.5 11.3h-13.0zM1553.2 687.9l6.5 11.3h-13.0zM1554.6 692.1l6.5 11.3h-13.0zM1556.1 688.2l6.5 11.3h-13.0zM1557.5 683.2l6.5 11.3h-13.0zM1558.9 687.5l6.5 11.3h-13.0zM1560.3 686.7l6.5 11.3h-13.0z" fill="#0a1af5"/>
<path d="M993.1 763.9L994.5 762.9L995.9 773.2L997.3 779.4L998.8 777.2L1000.2 777.4L1001.6 776.3L1003.0 775.7L1004.4 780.0L1005.9 783.8L1007.3 783.0L1008.7 788.7L1010.1 787.7L1011.5 791.8L1012.9 783.1L1014.4 791.3L1015.8 798.8L1017.2 801.5L1018.6 801.8L1020.0 807.8L1021.5 807.0L1022.9 809.2L1024.3 806.2L1025.7 812.7L1027.1 816.2L1028.5 820.3L1030.0 822.1L1031.4 820.7L1032.8 823.5L1034.2 821.3L1035.6 829.1L1037.0 825.7L1038.5 830.2L1039.9 832.9L1041.3 841.1L1042.7 840.3L1044.1 835.2L1045.6 834.5L1047.0 839.7L1048.4 839.3L1049.8 844.4L1051.2 845.6L1052.6 847.9L1054.1 843.9L1055.5 847.3L1056.9 850.6L1058.3 852.5L1059.7 851.2L1061.2 853.7L1062.6 859.2L1064.0 852.7L1065.4 859.4L1066.8 862.1L1068.2 859.4L1069.7 862.9L1071.1 868.6L1072.5 868.6L1073.9 876.0L1075.3 876.8L1076.8 884.2L1078.2 875.0L1079.6 887.3L1081.0 881.2L1082.4 888.4L1083.8 891.4L1085.3 891.3L1086.7 892.4L1088.1 893.9L1089.5 892.8L1090.9 899.9L1092.4 900.8L1093.8 908.0L1095.2 906.0L1096.6 910.0L1098.0 914.0L1099.4 914.6L1100.9 916.0L1102.3 916.6L1103.7 917.2L1105.1 921.4L1106.5 923.3L1108.0 919.5L1109.4 928.5L1110.8 926.0L1112.2 919.9L1113.6 934.8L1115.0 929.3L1116.5 926.0L1117.9 934.8L1119.3 922.3L1120.7 940.6L1122.1 929.0L1123.6 930.3L1125.0 934.2L1126.4 939.7L1127.8 939.7L1129.2 945.7L1130.6 942.2L1132.1 950.4L1133.5 949.7L1134.9 947.5L1136.3 956.3L1137.7 955.7L1139.1 955.8L1140.6 962.4L1142.0 955.9L1143.4 960.3L1144.8 968.0L1146.2 964.8L1147.7 968.8L1149.1 970.0L1150.5 969.2L1151.9 973.3L1153.3 969.4L1154.7 976.4L1156.2 972.4L1157.6 977.3L1159.0 975.9L1160.4 982.0L1161.8 983.5L1163.3 987.2L1164.7 983.2L1166.1 983.6L1167.5 981.4L1168.9 985.6L1170.3 990.6L1171.8 993.7L1173.2 993.2L1174.6 996.1L1176.0 992.7L1177.4 995.7L1178.9 1002.8L1180.3 1003.6L1181.7 998.1L1183.1 1002.8L1184.5 1005.7L1185.9 1002.2L1187.4 1008.4L1188.8 1009.1L1190.2 1010.7L1191.6 1016.6L1193.0 1008.3L1194.5 1016.0L1195.9 1014.7L1197.3 1016.2L1198.7 1012.2L1200.1 1015.0L1201.5 1014.7L1203.0 1020.3L1204.4 1015.1L1205.8 1019.6L1207.2 1013.8L1208.6 1013.6L1210.1 1014.9L1211.5 1008.2L1212.9 1013.1L1214.3 1012.9L1215.7 1014.1L1217.1 1014.5L1218.6 1009.8L1220.0 1008.1L1221.4 1014.4L1222.8 1005.2L1224.2 1005.3L1225.7 1002.2L1227.1 1002.2L1228.5 1005.8L1229.9 1003.4L1231.3 991.3L1232.7 993.9L1234.2 996.8L1235.6 988.6L1237.0 988.6L1238.4 991.3L1239.8 990.6L1241.2 986.3L1242.7 978.0L1244.1 976.8L1245.5 975.0L1246.9 970.5L1248.3 966.4L1249.8 971.9L1251.2 962.4L1252.6 960.3L1254.0 957.6L1255.4 951.3L1256.8 945.8L1258.3 941.8L1259.7 940.8L1261.1 932.3L1262.5 917.8L1263.9 920.6L1265.4 915.1L1266.8 901.2L1268.2 893.2L1269.6 886.8L1271.0 884.0L1272.4 864.4L1273.9 854.1L1275.3 841.3L1276.7 833.7L1278.1 839.6L1279.5 854.5L1281.0 874.4L1282.4 890.6L1283.8 895.6L1285.2 905.7L1286.6 909.5L1288.0 922.7L1289.5 928.2L1290.9 924.8L1292.3 935.5L1293.7 934.9L1295.1 936.7L1296.6 940.1L1298.0 942.0L1299.4 938.2L1300.8 953.3L1302.2 944.7L1303.6 942.7L1305.1 952.7L1306.5 955.4L1307.9 955.7L1309.3 954.7L1310.7 967.2L1312.2 965.7L1313.6 969.3L1315.0 969.4L1316.4 973.3L1317.8 974.2L1319.2 980.2L1320.7 981.2L1322.1 986.1L1323.5 989.0L1324.9 990.2L1326.3 993.2L1327.7 999.6L1329.2 993.6L1330.6 1002.0L1332.0 1008.6L1333.4 1002.9L1334.8 1010.9L1336.3 1008.5L1337.7 1011.4L1339.1 1011.2L1340.5 1011.6L1341.9 1014.0L1343.3 1012.0L1344.8 1005.4L1346.2 1019.3L1347.6 1011.8L1349.0 1010.5L1350.4 1015.3L1351.9 1016.2L1353.3 1004.6L1354.7 1012.8L1356.1 1004.7L1357.5 1009.6L1358.9 1011.0L1360.4 1009.5L1361.8 1008.5L1363.2 1005.7L1364.6 1006.7L1366.0 1005.9L1367.5 1003.8L1368.9 997.8L1370.3 997.2L1371.7 1000.8L1373.1 997.3L1374.5 991.9L1376.0 993.0L1377.4 990.4L1378.8 990.8L1380.2 987.5L1381.6 984.5L1383.1 981.9L1384.5 984.5L1385.9 977.2L1387.3 983.7L1388.7 972.6L1390.1 979.3L1391.6 980.5L1393.0 983.2L1394.4 990.3L1395.8 981.0L1397.2 979.3L1398.7 972.8L1400.1 982.7L1401.5 970.9L1402.9 976.6L1404.3 971.8L1405.7 980.7L1407.2 970.1L1408.6 969.6L1410.0 964.3L1411.4 964.1L1412.8 966.2L1414.3 957.5L1415.7 956.6L1417.1 955.3L1418.5 952.5L1419.9 950.8L1421.3 953.2L1422.8 956.3L1424.2 955.1L1425.6 945.0L1427.0 945.9L1428.4 946.7L1429.8 947.3L1431.3 944.5L1432.7 943.3L1434.1 943.2L1435.5 943.0L1436.9 932.3L1438.4 937.0L1439.8 938.1L1441.2 938.6L1442.6 934.8L1444.0 928.0L1445.4 925.6L1446.9 926.4L1448.3 923.1L1449.7 921.8L1451.1 921.9L1452.5 911.5L1454.0 912.1L1455.4 902.8L1456.8 910.9L1458.2 906.7L1459.6 901.2L1461.0 903.0L1462.5 904.8L1463.9 901.6L1465.3 896.4L1466.7 893.9L1468.1 893.7L1469.6 888.5L1471.0 886.9L1472.4 887.4L1473.8 886.7L1475.2 885.9L1476.6 881.5L1478.1 878.5L1479.5 879.4L1480.9 876.1L1482.3 876.6L1483.7 877.9L1485.2 874.4L1486.6 866.3L1488.0 865.1L1489.4 859.0L1490.8 861.6L1492.2 856.6L1493.7 852.7L1495.1 851.4L1496.5 854.2L1497.9 850.5L1499.3 847.1L1500.8 848.5L1502.2 841.5L1503.6 837.4L1505.0 840.1L1506.4 829.9L1507.8 835.0L1509.3 832.4L1510.7 830.3L1512.1 829.6L1513.5 823.7L1514.9 822.8L1516.4 815.3L1517.8 816.5L1519.2 814.6L1520.6 814.9L1522.0 816.6L1523.4 810.0L1524.9 810.3L1526.3 802.1L1527.7 803.1L1529.1 795.4L1530.5 796.2L1531.9 793.7L1533.4 793.6L1534.8 791.6L1536.2 788.2L1537.6 785.5L1539.0 789.0L1540.5 783.4L1541.9 774.9L1543.3 782.1L1544.7 781.1L1546.1 781.0L1547.5 782.0L1549.0 772.0L1550.4 774.3L1551.8 772.2L1553.2 766.0L1554.6 762.7L1556.1 772.7L1557.5 765.5L1558.9 766.1L1560.3 766.1" stroke="#30f012" stroke-width="3.5" fill="none" stroke-linejoin="round"/>
<path d="M993.1 771.4l6.5 -11.3h-13.0zM994.5 770.4l6.5 -11.3h-13.0zM995.9 780.7l6.5 -11.3h-13.0zM997.3 786.9l6.5 -11.3h-13.0zM998.8 784.7l6.5 -11.3h-13.0zM1000.2 784.9l6.5 -11.3h-13.0zM1001.6 783.8l6.5 -11.3h-13.0zM1003.0 783.2l6.5 -11.3h-13.0zM1004.4 787.5l6.5 -11.3h-13.0zM1005.9 791.3l6.5 -11.3h-13.0zM1007.3 790.5l6.5 -11.3h-13.0zM1008.7 796.2l6.5 -11.3h-13.0zM1010.1 795.3l6.5 -11.3h-13.0zM1011.5 799.3l6.5 -11.3h-13.0zM1012.9 790.6l6.5 -11.3h-13.0zM1014.4 798.8l6.5 -11.3h-13.0zM1015.8 806.3l6.5 -11.3h-13.0zM1017.2 809.0l6.5 -11.3h-13.0zM1018.6 809.3l6.5 -11.3h-13.0zM1020.0 815.3l6.5 -11.3h-13.0zM1021.5 814.5l6.5 -11.3h-13.0zM1022.9 816.7l6.5 -11.3h-13.0zM1024.3 813.7l6.5 -11.3h-13.0zM1025.7 820.2l6.5 -11.3h-13.0zM1027.1 823.7l6.5 -11.3h-13.0zM1028.5 827.8l6.5 -11.3h-13.0zM1030.0 829.6l6.5 -11.3h-13.0zM1031.4 828.3l6.5 -11.3h-13.0zM1032.8 831.0l6.5 -11.3h-13.0zM1034.2 828.8l6.5 -11.3h-13.0zM1035.6 836.6l6.5 -11.3h-13.0zM1037.0 833.2l6.5 -11.3h-13.0zM1038.5 837.7l6.5 -11.3h-13.0zM1039.9 840.4l6.5 -11.3h-13.0zM1041.3 848.6l6.5 -11.3h-13.0zM1042.7 847.8l6.5 -11.3h-13.0zM1044.1 842.7l6.5 -11.3h-13.0zM1045.6 842.0l6.5 -11.3h-13.0zM1047.0 847.2l6.5 -11.3h-13.0zM1048.4 846.8l6.5 -11.3h-13.0zM1049.8 851.9l6.5 -11.3h-13.0zM1051.2 853.1l6.5 -11.3h-13.0zM1052.6 855.4l6.5 -11.3h-13.0zM1054.1 851.4l6.5 -11.3h-13.0zM1055.5 854.8l6.5 -11.3h-13.0zM1056.9 858.1l6.5 -11.3h-13.0zM1058.3 860.0l6.5 -11.3h-13.0zM1059.7 858.7l6.5 -11.3h-13.0zM1061.2 861.2l6.5 -11.3h-13.0zM1062.6 866.7l6.5 -11.3h-13.0zM1064.0 860.3l6.5 -11.3h-13.0zM1065.4 866.9l6.5 -11.3h-13.0zM1066.8 869.6l6.5 -11.3h-13.0zM1068.2 866.9l6.5 -11.3h-13.0zM1069.7 870.4l6.5 -11.3h-13.0zM1071.1 876.1l6.5 -11.3h-13.0zM1072.5 876.1l6.5 -11.3h-13.0zM1073.9 883.5l6.5 -11.3h-13.0zM1075.3 884.3l6.5 -11.3h-13.0zM1076.8 891.7l6.5 -11.3h-13.0zM1078.2 882.5l6.5 -11.3h-13.0zM1079.6 894.9l6.5 -11.3h-13.0zM1081.0 888.7l6.5 -11.3h-13.0zM1082.4 895.9l6.5 -11.3h-13.0zM1083.8 898.9l6.5 -11.3h-13.0zM1085.3 898.9l6.5 -11.3h-13.0zM1086.7 899.9l6.5 -11.3h-13.0zM1088.1 901.4l6.5 -11.3h-13.0zM1089.5 900.3l6.5 -11.3h-13.0zM1090.9 907.4l6.5 -11.3h-13.0zM1092.4 908.3l6.5 -11.3h-13.0zM1093.8 915.5l6.5 -11.3h-13.0zM1095.2 913.5l6.5 -11.3h-13.0zM1096.6 917.5l6.5 -11.3h-13.0zM1098.0 921.5l6.5 -11.3h-13.0zM1099.4 922.1l6.5 -11.3h-13.0zM1100.9 923.5l6.5 -11.3h-13.0zM1102.3 924.1l6.5 -11.3h-13.0zM1103.7 924.7l6.5 -11.3h-13.0zM1105.1 928.9l6.5 -11.3h-13.0zM1106.5 930.8l6.5 -11.3h-13.0zM1108.0 927.0l6.5 -11.3h-13.0zM1109.4 936.0l6.5 -11.3h-13.0zM1110.8 933.5l6.5 -11.3h-13.0zM1112.2 927.4l6.5 -11.3h-13.0zM1113.6 942.3l6.5 -11.3h-13.0zM1115.0 936.8l6.5 -11.3h-13.0zM1116.5 933.5l6.5 -11.3h-13.0zM1117.9 942.3l6.5 -11.3h-13.0zM1119.3 929.8l6.5 -11.3h-13.0zM1120.7 948.1l6.5 -11.3h-13.0zM1122.1 936.5l6.5 -11.3h-13.0zM1123.6 937.8l6.5 -11.3h-13.0zM1125.0 941.7l6.5 -11.3h-13.0zM1126.4 947.2l6.5 -11.3h-13.0zM1127.8 947.2l6.5 -11.3h-13.0zM1129.2 953.3l6.5 -11.3h-13.0zM1130.6 949.7l6.5 -11.3h-13.0zM1132.1 957.9l6.5 -11.3h-13.0zM1133.5 957.2l6.5 -11.3h-13.0zM1134.9 955.0l6.5 -11.3h-13.0zM1136.3 963.8l6.5 -11.3h-13.0zM1137.7 963.2l6.5 -11.3h-13.0zM1139.1 963.3l6.5 -11.3h-13.0zM1140.6 969.9l6.5 -11.3h-13.0zM1142.0 963.5l6.5 -11.3h-13.0zM1143.4 967.8l6.5 -11.3h-13.0zM1144.8 975.5l6.5 -11.3h-13.0zM1146.2 972.3l6.5 -11.3h-13.0zM1147.7 976.3l6.5 -11.3h-13.0zM1149.1 977.5l6.5 -11.3h-13.0zM1150.5 976.7l6.5 -11.3h-13.0zM1151.9 980.8l6.5 -11.3h-13.0zM1153.3 976.9l6.5 -11.3h-13.0zM1154.7 983.9l6.5 -11.3h-13.0zM1156.2 979.9l6.5 -11.3h-13.0zM1157.6 984.8l6.5 -11.3h-13.0zM1159.0 983.4l6.5 -11.3h-13.0zM1160.4 989.5l6.5 -11.3h-13.0zM1161.8 991.0l6.5 -11.3h-13.0zM1163.3 994.7l6.5 -11.3h-13.0zM1164.7 990.7l6.5 -11.3h-13.0zM1166.1 991.1l6.5 -11.3h-13.0zM1167.5 988.9l6.5 -11.3h-13.0zM1168.9 993.2l6.5 -11.3h-13.0zM1170.3 998.1l6.5 -11.3h-13.0zM1171.8 1001.2l6.5 -11.3h-13.0zM1173.2 1000.7l6.5 -11.3h-13.0zM1174.6 1003.6l6.5 -11.3h-13.0zM1176.0 1000.2l6.5 -11.3h-13.0zM1177.4 1003.2l6.5 -11.3h-13.0zM1178.9 1010.3l6.5 -11.3h-13.0zM1180.3 1011.1l6.5 -11.3h-13.0zM1181.7 1005.6l6.5 -11.3h-13.0zM1183.1 1010.3l6.5 -11.3h-13.0zM1184.5 1013.2l6.5 -11.3h-13.0zM1185.9 1009.7l6.5 -11.3h-13.0zM1187.4 1015.9l6.5 -11.3h-13.0zM1188.8 1016.6l6.5 -11.3h-13.0zM1190.2 1018.2l6.5 -11.3h-13.0zM1191.6 1024.1l6.5 -11.3h-13.0zM1193.0 1015.8l6.5 -11.3h-13.0zM1194.5 1023.5l6.5 -11.3h-13.0zM1195.9 1022.2l6.5 -11.3h-13.0zM1197.3 1023.7l6.5 -11.3h-13.0zM1198.7 1019.7l6.5 -11.3h-13.0zM1200.1 1022.5l6.5 -11.3h-13.0zM1201.5 1022.3l6.5 -11.3h-13.0zM1203.0 1027.8l6.5 -11.3h-13.0zM1204.4 1022.6l6.5 -11.3h-13.0zM1205.8 1027.1l6.5 -11.3h-13.0zM1207.2 1021.3l6.5 -11.3h-13.0zM1208.6 1021.1l6.5 -11.3h-13.0zM1210.1 1022.4l6.5 -11.3h-13.0zM1211.5 1015.7l6.5 -11.3h-13.0zM1212.9 1020.6l6.5 -11.3h-13.0zM1214.3 1020.4l6.5 -11.3h-13.0zM1215.7 1021.6l6.5 -11.3h-13.0zM1217.1 1022.0l6.5 -11.3h-13.0zM1218.6 1017.3l6.5 -11.3h-13.0zM1220.0 1015.6l6.5 -11.3h-13.0zM1221.4 1021.9l6.5 -11.3h-13.0zM1222.8 1012.7l6.5 -11.3h-13.0zM1224.2 1012.8l6.5 -11.3h-13.0zM1225.7 1009.7l6.5 -11.3h-13.0zM1227.1 1009.7l6.5 -11.3h-13.0zM1228.5 1013.3l6.5 -11.3h-13.0zM1229.9 1010.9l6.5 -11.3h-13.0zM1231.3 998.8l6.5 -11.3h-13.0zM1232.7 1001.4l6.5 -11.3h-13.0zM1234.2 1004.3l6.5 -11.3h-13.0zM1235.6 996.1l6.5 -11.3h-13.0zM1237.0 996.1l6.5 -11.3h-13.0zM1238.4 998.8l6.5 -11.3h-13.0zM1239.8 998.1l6.5 -11.3h-13.0zM1241.2 993.8l6.5 -11.3h-13.0zM1242.7 985.5l6.5 -11.3h-13.0zM1244.1 984.3l6.5 -11.3h-13.0zM1245.5 982.5l6.5 -11.3h-13.0zM1246.9 978.0l6.5 -11.3h-13.0zM1248.3 973.9l6.5 -11.3h-13.0zM1249.8 979.4l6.5 -11.3h-13.0zM1251.2 969.9l6.5 -11.3h-13.0zM1252.6 967.8l6.5 -11.3h-13.0zM1254.0 965.1l6.5 -11.3h-13.0zM1255.4 958.8l6.5 -11.3h-13.0zM1256.8 953.3l6.5 -11.3h-13.0zM1258.3 949.3l6.5 -11.3h-13.0zM1259.7 948.3l6.5 -11.3h-13.0zM1261.1 939.8l6.5 -11.3h-13.0zM1262.5 925.3l6.5 -11.3h-13.0zM1263.9 928.1l6.5 -11.3h-13.0zM1265.4 922.6l6.5 -11.3h-13.0zM1266.8 908.7l6.5 -11.3h-13.0zM1268.2 900.7l6.5 -11.3h-13.0zM1269.6 894.3l6.5 -11.3h-13.0zM1271.0 891.5l6.5 -11.3h-13.0zM1272.4 872.0l6.5 -11.3h-13.0zM1273.9 861.6l6.5 -11.3h-13.0zM1275.3 848.8l6.5 -11.3h-13.0zM1276.7 841.2l6.5 -11.3h-13.0zM1278.1 847.1l6.5 -11.3h-13.0zM1279.5 862.0l6.5 -11.3h-13.0zM1281.0 881.9l6.5 -11.3h-13.0zM1282.4 898.1l6.5 -11.3h-13.0zM1283.8 903.1l6.5 -11.3h-13.0zM1285.2 913.2l6.5 -11.3h-13.0zM1286.6 917.0l6.5 -11.3h-13.0zM1288.0 930.2l6.5 -11.3h-13.0zM1289.5 935.7l6.5 -11.3h-13.0zM1290.9 932.3l6.5 -11.3h-13.0zM1292.3 943.0l6.5 -11.3h-13.0zM1293.7 942.4l6.5 -11.3h-13.0zM1295.1 944.2l6.5 -11.3h-13.0zM1296.6 947.6l6.5 -11.3h-13.0zM1298.0 949.5l6.5 -11.3h-13.0zM1299.4 945.7l6.5 -11.3h-13.0zM1300.8 960.8l6.5 -11.3h-13.0zM1302.2 952.2l6.5 -11.3h-13.0zM1303.6 950.2l6.5 -11.3h-13.0zM1305.1 960.2l6.5 -11.3h-13.0zM1306.5 962.9l6.5 -11.3h-13.0zM1307.9 963.2l6.5 -11.3h-13.0zM1309.3 962.2l6.5 -11.3h-13.0zM1310.7 974.7l6.5 -11.3h-13.0zM1312.2 973.2l6.5 -11.3h-13.0zM1313.6 976.8l6.5 -11.3h-13.0zM1315.0 976.9l6.5 -11.3h-13.0zM1316.4 980.8l6.5 -11.3h-13.0zM1317.8 981.7l6.5 -11.3h-13.0zM1319.2 987.7l6.5 -11.3h-13.0zM1320.7 988.7l6.5 -11.3h-13.0zM1322.1 993.7l6.5 -11.3h-13.0zM1323.5 996.5l6.5 -11.3h-13.0zM1324.9 997.7l6.5 -11.3h-13.0zM1326.3 1000.7l6.5 -11.3h-13.0zM1327.7 1007.1l6.5 -11.3h-13.0zM1329.2 1001.1l6.5 -11.3h-13.0zM1330.6 1009.5l6.5 -11.3h-13.0zM1332.0 1016.2l6.5 -11.3h-13.0zM1333.4 1010.4l6.5 -11.3h-13.0zM1334.8 1018.5l6.5 -11.3h-13.0zM1336.3 1016.0l6.5 -11.3h-13.0zM1337.7 1018.9l6.5 -11.3h-13.0zM1339.1 1018.7l6.5 -11.3h-13.0zM1340.5 1019.1l6.5 -11.3h-13.0zM1341.9 1021.5l6.5 -11.3h-13.0zM1343.3 1019.5l6.5 -11.3h-13.0zM1344.8 1012.9l6.5 -11.3h-13.0zM1346.2 1026.8l6.5 -11.3h-13.0zM1347.6 1019.3l6.5 -11.3h-13.0zM1349.0 1018.0l6.5 -11.3h-13.0zM1350.4 1022.8l6.5 -11.3h-13.0zM1351.9 1023.7l6.5 -11.3h-13.0zM1353.3 1012.2l6.5 -11.3h-13.0zM1354.7 1020.3l6.5 -11.3h-13.0zM1356.1 1012.2l6.5 -11.3h-13.0zM1357.5 1017.1l6.5 -11.3h-13.0zM1358.9 1018.5l6.5 -11.3h-13.0zM1360.4 1017.0l6.5 -11.3h-13.0zM1361.8 1016.0l6.5 -11.3h-13.0zM1363.2 1013.2l6.5 -11.3h-13.0zM1364.6 1014.2l6.5 -11.3h-13.0zM1366.0 1013.4l6.5 -11.3h-13.0zM1367.5 1011.3l6.5 -11.3h-13.0zM1368.9 1005.3l6.5 -11.3h-13.0zM1370.3 1004.7l6.5 -11.3h-13.0zM1371.7 1008.3l6.5 -11.3h-13.0zM1373.1 1004.8l6.5 -11.3h-13.0zM1374.5 999.4l6.5 -11.3h-13.0zM1376.0 1000.5l6.5 -11.3h-13.0zM1377.4 997.9l6.5 -11.3h-13.0zM1378.8 998.4l6.5 -11.3h-13.0zM1380.2 995.0l6.5 -11.3h-13.0zM1381.6 992.0l6.5 -11.3h-13.0zM1383.1 989.4l6.5 -11.3h-13.0zM1384.5 992.0l6.5 -11.3h-13.0zM1385.9 984.7l6.5 -11.3h-13.0zM1387.3 991.2l6.5 -11.3h-13.0zM1388.7 980.1l6.5 -11.3h-13.0zM1390.1 986.8l6.5 -11.3h-13.0zM1391.6 988.0l6.5 -11.3h-13.0zM1393.0 990.7l6.5 -11.3h-13.0zM1394.4 997.8l6.5 -11.3h-13.0zM1395.8 988.5l6.5 -11.3h-13.0zM1397.2 986.8l6.5 -11.3h-13.0zM1398.7 980.3l6.5 -11.3h-13.0zM1400.1 990.2l6.5 -11.3h-13.0zM1401.5 978.5l6.5 -11.3h-13.0zM1402.9 984.1l6.5 -11.3h-13.0zM1404.3 979.3l6.5 -11.3h-13.0zM1405.7 988.2l6.5 -11.3h-13.0zM1407.2 977.6l6.5 -11.3h-13.0zM1408.6 977.1l6.5 -11.3h-13.0zM1410.0 971.8l6.5 -11.3h-13.0zM1411.4 971.7l6.5 -11.3h-13.0zM1412.8 973.7l6.5 -11.3h-13.0zM1414.3 965.0l6.5 -11.3h-13.0zM1415.7 964.1l6.5 -11.3h-13.0zM1417.1 962.8l6.5 -11.3h-13.0zM1418.5 960.0l6.5 -11.3h-13.0zM1419.9 958.3l6.5 -11.3h-13.0zM1421.3 960.7l6.5 -11.3h-13.0zM1422.8 963.8l6.5 -11.3h-13.0zM1424.2 962.6l6.5 -11.3h-13.0zM1425.6 952.5l6.5 -11.3h-13.0zM1427.0 953.4l6.5 -11.3h-13.0zM1428.4 954.2l6.5 -11.3h-13.0zM1429.8 954.8l6.5 -11.3h-13.0zM1431.3 952.1l6.5 -11.3h-13.0zM1432.7 950.8l6.5 -11.3h-13.0zM1434.1 950.7l6.5 -11.3h-13.0zM1435.5 950.5l6.5 -11.3h-13.0zM1436.9 939.8l6.5 -11.3h-13.0zM1438.4 944.5l6.5 -11.3h-13.0zM1439.8 945.6l6.5 -11.3h-13.0zM1441.2 946.1l6.5 -11.3h-13.0zM1442.6 942.3l6.5 -11.3h-13.0zM1444.0 935.5l6.5 -11.3h-13.0zM1445.4 933.1l6.5 -11.3h-13.0zM1446.9 933.9l6.5 -11.3h-13.0zM1448.3 930.6l6.5 -11.3h-13.0zM1449.7 929.3l6.5 -11.3h-13.0zM1451.1 929.4l6.5 -11.3h-13.0zM1452.5 919.0l6.5 -11.3h-13.0zM1454.0 919.6l6.5 -11.3h-13.0zM1455.4 910.3l6.5 -11.3h-13.0zM1456.8 918.4l6.5 -11.3h-13.0zM1458.2 914.2l6.5 -11.3h-13.0zM1459.6 908.8l6.5 -11.3h-13.0zM1461.0 910.5l6.5 -11.3h-13.0zM1462.5 912.3l6.5 -11.3h-13.0zM1463.9 909.1l6.5 -11.3h-13.0zM1465.3 903.9l6.5 -11.3h-13.0zM1466.7 901.4l6.5 -11.3h-13.0zM1468.1 901.2l6.5 -11.3h-13.0zM1469.6 896.0l6.5 -11.3h-13.0zM1471.0 894.4l6.5 -11.3h-13.0zM1472.4 894.9l6.5 -11.3h-13.0zM1473.8 894.2l6.5 -11.3h-13.0zM1475.2 893.4l6.5 -11.3h-13.0zM1476.6 889.0l6.5 -11.3h-13.0zM1478.1 886.0l6.5 -11.3h-13.0zM1479.5 886.9l6.5 -11.3h-13.0zM1480.9 883.6l6.5 -11.3h-13.0zM1482.3 884.1l6.5 -11.3h-13.0zM1483.7 885.4l6.5 -11.3h-13.0zM1485.2 881.9l6.5 -11.3h-13.0zM1486.6 873.8l6.5 -11.3h-13.0zM1488.0 872.6l6.5 -11.3h-13.0zM1489.4 866.5l6.5 -11.3h-13.0zM1490.8 869.1l6.5 -11.3h-13.0zM1492.2 864.1l6.5 -11.3h-13.0zM1493.7 860.2l6.5 -11.3h-13.0zM1495.1 858.9l6.5 -11.3h-13.0zM1496.5 861.7l6.5 -11.3h-13.0zM1497.9 858.0l6.5 -11.3h-13.0zM1499.3 854.6l6.5 -11.3h-13.0zM1500.8 856.0l6.5 -11.3h-13.0zM1502.2 849.0l6.5 -11.3h-13.0zM1503.6 845.0l6.5 -11.3h-13.0zM1505.0 847.6l6.5 -11.3h-13.0zM1506.4 837.4l6.5 -11.3h-13.0zM1507.8 842.5l6.5 -11.3h-13.0zM1509.3 839.9l6.5 -11.3h-13.0zM1510.7 837.8l6.5 -11.3h-13.0zM1512.1 837.1l6.5 -11.3h-13.0zM1513.5 831.2l6.5 -11.3h-13.0zM1514.9 830.3l6.5 -11.3h-13.0zM1516.4 822.8l6.5 -11.3h-13.0zM1517.8 824.0l6.5 -11.3h-13.0zM1519.2 822.1l6.5 -11.3h-13.0zM1520.6 822.4l6.5 -11.3h-13.0zM1522.0 824.1l6.5 -11.3h-13.0zM1523.4 817.5l6.5 -11.3h-13.0zM1524.9 817.8l6.5 -11.3h-13.0zM1526.3 809.7l6.5 -11.3h-13.0zM1527.7 810.6l6.5 -11.3h-13.0zM1529.1 802.9l6.5 -11.3h-13.0zM1530.5 803.7l6.5 -11.3h-13.0zM1531.9 801.2l6.5 -11.3h-13.0zM1533.4 801.1l6.5 -11.3h-13.0zM1534.8 799.1l6.5 -11.3h-13.0zM1536.2 795.7l6.5 -11.3h-13.0zM1537.6 793.0l6.5 -11.3h-13.0zM1539.0 796.5l6.5 -11.3h-13.0zM1540.5 791.0l6.5 -11.3h-13.0zM1541.9 782.4l6.5 -11.3h-13.0zM1543.3 789.6l6.5 -11.3h-13.0zM1544.7 788.6l6.5 -11.3h-13.0zM1546.1 788.5l6.5 -11.3h-13.0zM1547.5 789.5l6.5 -11.3h-13.0zM1549.0 779.5l6.5 -11.3h-13.0zM1550.4 781.8l6.5 -11.3h-13.0zM1551.8 779.7l6.5 -11.3h-13.0zM1553.2 773.5l6.5 -11.3h-13.0zM1554.6 770.2l6.5 -11.3h-13.0zM1556.1 780.2l6.5 -11.3h-13.0zM1557.5 773.0l6.5 -11.3h-13.0zM1558.9 773.6l6.5 -11.3h-13.0zM1560.3 773.6l6.5 -11.3h-13.0z" fill="#22aa00" stroke="#22aa00" stroke-width="1.0" stroke-linejoin="miter"/>
<path d="M993.1 771.4l6.5 -11.3h-13.0zM994.5 770.4l6.5 -11.3h-13.0zM995.9 780.7l6.5 -11.3h-13.0zM997.3 786.9l6.5 -11.3h-13.0zM998.8 784.7l6.5 -11.3h-13.0zM1000.2 784.9l6.5 -11.3h-13.0zM1001.6 783.8l6.5 -11.3h-13.0zM1003.0 783.2l6.5 -11.3h-13.0zM1004.4 787.5l6.5 -11.3h-13.0zM1005.9 791.3l6.5 -11.3h-13.0zM1007.3 790.5l6.5 -11.3h-13.0zM1008.7 796.2l6.5 -11.3h-13.0zM1010.1 795.3l6.5 -11.3h-13.0zM1011.5 799.3l6.5 -11.3h-13.0zM1012.9 790.6l6.5 -11.3h-13.0zM1014.4 798.8l6.5 -11.3h-13.0zM1015.8 806.3l6.5 -11.3h-13.0zM1017.2 809.0l6.5 -11.3h-13.0zM1018.6 809.3l6.5 -11.3h-13.0zM1020.0 815.3l6.5 -11.3h-13.0zM1021.5 814.5l6.5 -11.3h-13.0zM1022.9 816.7l6.5 -11.3h-13.0zM1024.3 813.7l6.5 -11.3h-13.0zM1025.7 820.2l6.5 -11.3h-13.0zM1027.1 823.7l6.5 -11.3h-13.0zM1028.5 827.8l6.5 -11.3h-13.0zM1030.0 829.6l6.5 -11.3h-13.0zM1031.4 828.3l6.5 -11.3h-13.0zM1032.8 831.0l6.5 -11.3h-13.0zM1034.2 828.8l6.5 -11.3h-13.0zM1035.6 836.6l6.5 -11.3h-13.0zM1037.0 833.2l6.5 -11.3h-13.0zM1038.5 837.7l6.5 -11.3h-13.0zM1039.9 840.4l6.5 -11.3h-13.0zM1041.3 848.6l6.5 -11.3h-13.0zM1042.7 847.8l6.5 -11.3h-13.0zM1044.1 842.7l6.5 -11.3h-13.0zM1045.6 842.0l6.5 -11.3h-13.0zM1047.0 847.2l6.5 -11.3h-13.0zM1048.4 846.8l6.5 -11.3h-13.0zM1049.8 851.9l6.5 -11.3h-13.0zM1051.2 853.1l6.5 -11.3h-13.0zM1052.6 855.4l6.5 -11.3h-13.0zM1054.1 851.4l6.5 -11.3h-13.0zM1055.5 854.8l6.5 -11.3h-13.0zM1056.9 858.1l6.5 -11.3h-13.0zM1058.3 860.0l6.5 -11.3h-13.0zM1059.7 858.7l6.5 -11.3h-13.0zM1061.2 861.2l6.5 -11.3h-13.0zM1062.6 866.7l6.5 -11.3h-13.0zM1064.0 860.3l6.5 -11.3h-13.0zM1065.4 866.9l6.5 -11.3h-13.0zM1066.8 869.6l6.5 -11.3h-13.0zM1068.2 866.9l6.5 -11.3h-13.0zM1069.7 870.4l6.5 -11.3h-13.0zM1071.1 876.1l6.5 -11.3h-13.0zM1072.5 876.1l6.5 -11.3h-13.0zM1073.9 883.5l6.5 -11.3h-13.0zM1075.3 884.3l6.5 -11.3h-13.0zM1076.8 891.7l6.5 -11.3h-13.0zM1078.2 882.5l6.5 -11.3h-13.0zM1079.6 894.9l6.5 -11.3h-13.0zM1081.0 888.7l6.5 -11.3h-13.0zM1082.4 895.9l6.5 -11.3h-13.0zM1083.8 898.9l6.5 -11.3h-13.0zM1085.3 898.9l6.5 -11.3h-13.0zM1086.7 899.9l6.5 -11.3h-13.0zM1088.1 901.4l6.5 -11.3h-13.0zM1089.5 900.3l6.5 -11.3h-13.0zM1090.9 907.4l6.5 -11.3h-13.0zM1092.4 908.3l6.5 -11.3h-13.0zM1093.8 915.5l6.5 -11.3h-13.0zM1095.2 913.5l6.5 -11.3h-13.0zM1096.6 917.5l6.5 -11.3h-13.0zM1098.0 921.5l6.5 -11.3h-13.0zM1099.4 922.1l6.5 -11.3h-13.0zM1100.9 923.5l6.5 -11.3h-13.0zM1102.3 924.1l6.5 -11.3h-13.0zM1103.7 924.7l6.5 -11.3h-13.0zM1105.1 928.9l6.5 -11.3h-13.0zM1106.5 930.8l6.5 -11.3h-13.0zM1108.0 927.0l6.5 -11.3h-13.0zM1109.4 936.0l6.5 -11.3h-13.0zM1110.8 933.5l6.5 -11.3h-13.0zM1112.2 927.4l6.5 -11.3h-13.0zM1113.6 942.3l6.5 -11.3h-13.0zM1115.0 936.8l6.5 -11.3h-13.0zM1116.5 933.5l6.5 -11.3h-13.0zM1117.9 942.3l6.5 -11.3h-13.0zM1119.3 929.8l6.5 -11.3h-13.0zM1120.7 948.1l6.5 -11.3h-13.0zM1122.1 936.5l6.5 -11.3h-13.0zM1123.6 937.8l6.5 -11.3h-13.0zM1125.0 941.7l6.5 -11.3h-13.0zM1126.4 947.2l6.5 -11.3h-13.0zM1127.8 947.2l6.5 -11.3h-13.0zM1129.2 953.3l6.5 -11.3h-13.0zM1130.6 949.7l6.5 -11.3h-13.0zM1132.1 957.9l6.5 -11.3h-13.0zM1133.5 957.2l6.5 -11.3h-13.0zM1134.9 955.0l6.5 -11.3h-13.0zM1136.3 963.8l6.5 -11.3h-13.0zM1137.7 963.2l6.5 -11.3h-13.0zM1139.1 963.3l6.5 -11.3h-13.0zM1140.6 969.9l6.5 -11.3h-13.0zM1142.0 963.5l6.5 -11.3h-13.0zM1143.4 967.8l6.5 -11.3h-13.0zM1144.8 975.5l6.5 -11.3h-13.0zM1146.2 972.3l6.5 -11.3h-13.0zM1147.7 976.3l6.5 -11.3h-13.0zM1149.1 977.5l6.5 -11.3h-13.0zM1150.5 976.7l6.5 -11.3h-13.0zM1151.9 980.8l6.5 -11.3h-13.0zM1153.3 976.9l6.5 -11.3h-13.0zM1154.7 983.9l6.5 -11.3h-13.0zM1156.2 979.9l6.5 -11.3h-13.0zM1157.6 984.8l6.5 -11.3h-13.0zM1159.0 983.4l6.5 -11.3h-13.0zM1160.4 989.5l6.5 -11.3h-13.0zM1161.8 991.0l6.5 -11.3h-13.0zM1163.3 994.7l6.5 -11.3h-13.0zM1164.7 990.7l6.5 -11.3h-13.0zM1166.1 991.1l6.5 -11.3h-13.0zM1167.5 988.9l6.5 -11.3h-13.0zM1168.9 993.2l6.5 -11.3h-13.0zM1170.3 998.1l6.5 -11.3h-13.0zM1171.8 1001.2l6.5 -11.3h-13.0zM1173.2 1000.7l6.5 -11.3h-13.0zM1174.6 1003.6l6.5 -11.3h-13.0zM1176.0 1000.2l6.5 -11.3h-13.0zM1177.4 1003.2l6.5 -11.3h-13.0zM1178.9 1010.3l6.5 -11.3h-13.0zM1180.3 1011.1l6.5 -11.3h-13.0zM1181.7 1005.6l6.5 -11.3h-13.0zM1183.1 1010.3l6.5 -11.3h-13.0zM1184.5 1013.2l6.5 -11.3h-13.0zM1185.9 1009.7l6.5 -11.3h-13.0zM1187.4 1015.9l6.5 -11.3h-13.0zM1188.8 1016.6l6.5 -11.3h-13.0zM1190.2 1018.2l6.5 -11.3h-13.0zM1191.6 1024.1l6.5 -11.3h-13.0zM1193.0 1015.8l6.5 -11.3h-13.0zM1194.5 1023.5l6.5 -11.3h-13.0zM1195.9 1022.2l6.5 -11.3h-13.0zM1197.3 1023.7l6.5 -11.3h-13.0zM1198.7 1019.7l6.5 -11.3h-13.0zM1200.1 1022.5l6.5 -11.3h-13.0zM1201.5 1022.3l6.5 -11.3h-13.0zM1203.0 1027.8l6.5 -11.3h-13.0zM1204.4 1022.6l6.5 -11.3h-13.0zM1205.8 1027.1l6.5 -11.3h-13.0zM1207.2 1021.3l6.5 -11.3h-13.0zM1208.6 1021.1l6.5 -11.3h-13.0zM1210.1 1022.4l6.5 -11.3h-13.0zM1211.5 1015.7l6.5 -11.3h-13.0zM1212.9 1020.6l6.5 -11.3h-13.0zM1214.3 1020.4l6.5 -11.3h-13.0zM1215.7 1021.6l6.5 -11.3h-13.0zM1217.1 1022.0l6.5 -11.3h-13.0zM1218.6 1017.3l6.5 -11.3h-13.0zM1220.0 1015.6l6.5 -11.3h-13.0zM1221.4 1021.9l6.5 -11.3h-13.0zM1222.8 1012.7l6.5 -11.3h-13.0zM1224.2 1012.8l6.5 -11.3h-13.0zM1225.7 1009.7l6.5 -11.3h-13.0zM1227.1 1009.7l6.5 -11.3h-13.0zM1228.5 1013.3l6.5 -11.3h-13.0zM1229.9 1010.9l6.5 -11.3h-13.0zM1231.3 998.8l6.5 -11.3h-13.0zM1232.7 1001.4l6.5 -11.3h-13.0zM1234.2 1004.3l6.5 -11.3h-13.0zM1235.6 996.1l6.5 -11.3h-13.0zM1237.0 996.1l6.5 -11.3h-13.0zM1238.4 998.8l6.5 -11.3h-13.0zM1239.8 998.1l6.5 -11.3h-13.0zM1241.2 993.8l6.5 -11.3h-13.0zM1242.7 985.5l6.5 -11.3h-13.0zM1244.1 984.3l6.5 -11.3h-13.0zM1245.5 982.5l6.5 -11.3h-13.0zM1246.9 978.0l6.5 -11.3h-13.0zM1248.3 973.9l6.5 -11.3h-13.0zM1249.8 979.4l6.5 -11.3h-13.0zM1251.2 969.9l6.5 -11.3h-13.0zM1252.6 967.8l6.5 -11.3h-13.0zM1254.0 965.1l6.5 -11.3h-13.0zM1255.4 958.8l6.5 -11.3h-13.0zM1256.8 953.3l6.5 -11.3h-13.0zM1258.3 949.3l6.5 -11.3h-13.0zM1259.7 948.3l6.5 -11.3h-13.0zM1261.1 939.8l6.5 -11.3h-13.0zM1262.5 925.3l6.5 -11.3h-13.0zM1263.9 928.1l6.5 -11.3h-13.0zM1265.4 922.6l6.5 -11.3h-13.0zM1266.8 908.7l6.5 -11.3h-13.0zM1268.2 900.7l6.5 -11.3h-13.0zM1269.6 894.3l6.5 -11.3h-13.0zM1271.0 891.5l6.5 -11.3h-13.0zM1272.4 872.0l6.5 -11.3h-13.0zM1273.9 861.6l6.5 -11.3h-13.0zM1275.3 848.8l6.5 -11.3h-13.0zM1276.7 841.2l6.5 -11.3h-13.0zM1278.1 847.1l6.5 -11.3h-13.0zM1279.5 862.0l6.5 -11.3h-13.0zM1281.0 881.9l6.5 -11.3h-13.0zM1282.4 898.1l6.5 -11.3h-13.0zM1283.8 903.1l6.5 -11.3h-13.0zM1285.2 913.2l6.5 -11.3h-13.0zM1286.6 917.0l6.5 -11.3h-13.0zM1288.0 930.2l6.5 -11.3h-13.0zM1289.5 935.7l6.5 -11.3h-13.0zM1290.9 932.3l6.5 -11.3h-13.0zM1292.3 943.0l6.5 -11.3h-13.0zM1293.7 942.4l6.5 -11.3h-13.0zM1295.1 944.2l6.5 -11.3h-13.0zM1296.6 947.6l6.5 -11.3h-13.0zM1298.0 949.5l6.5 -11.3h-13.0zM1299.4 945.7l6.5 -11.3h-13.0zM1300.8 960.8l6.5 -11.3h-13.0zM1302.2 952.2l6.5 -11.3h-13.0zM1303.6 950.2l6.5 -11.3h-13.0zM1305.1 960.2l6.5 -11.3h-13.0zM1306.5 962.9l6.5 -11.3h-13.0zM1307.9 963.2l6.5 -11.3h-13.0zM1309.3 962.2l6.5 -11.3h-13.0zM1310.7 974.7l6.5 -11.3h-13.0zM1312.2 973.2l6.5 -11.3h-13.0zM1313.6 976.8l6.5 -11.3h-13.0zM1315.0 976.9l6.5 -11.3h-13.0zM1316.4 980.8l6.5 -11.3h-13.0zM1317.8 981.7l6.5 -11.3h-13.0zM1319.2 987.7l6.5 -11.3h-13.0zM1320.7 988.7l6.5 -11.3h-13.0zM1322.1 993.7l6.5 -11.3h-13.0zM1323.5 996.5l6.5 -11.3h-13.0zM1324.9 997.7l6.5 -11.3h-13.0zM1326.3 1000.7l6.5 -11.3h-13.0zM1327.7 1007.1l6.5 -11.3h-13.0zM1329.2 1001.1l6.5 -11.3h-13.0zM1330.6 1009.5l6.5 -11.3h-13.0zM1332.0 1016.2l6.5 -11.3h-13.0zM1333.4 1010.4l6.5 -11.3h-13.0zM1334.8 1018.5l6.5 -11.3h-13.0zM1336.3 1016.0l6.5 -11.3h-13.0zM1337.7 1018.9l6.5 -11.3h-13.0zM1339.1 1018.7l6.5 -11.3h-13.0zM1340.5 1019.1l6.5 -11.3h-13.0zM1341.9 1021.5l6.5 -11.3h-13.0zM1343.3 1019.5l6.5 -11.3h-13.0zM1344.8 1012.9l6.5 -11.3h-13.0zM1346.2 1026.8l6.5 -11.3h-13.0zM1347.6 1019.3l6.5 -11.3h-13.0zM1349.0 1018.0l6.5 -11.3h-13.0zM1350.4 1022.8l6.5 -11.3h-13.0zM1351.9 1023.7l6.5 -11.3h-13.0zM1353.3 1012.2l6.5 -11.3h-13.0zM1354.7 1020.3l6.5 -11.3h-13.0zM1356.1 1012.2l6.5 -11.3h-13.0zM1357.5 1017.1l6.5 -11.3h-13.0zM1358.9 1018.5l6.5 -11.3h-13.0zM1360.4 1017.0l6.5 -11.3h-13.0zM1361.8 1016.0l6.5 -11.3h-13.0zM1363.2 1013.2l6.5 -11.3h-13.0zM1364.6 1014.2l6.5 -11.3h-13.0zM1366.0 1013.4l6.5 -11.3h-13.0zM1367.5 1011.3l6.5 -11.3h-13.0zM1368.9 1005.3l6.5 -11.3h-13.0zM1370.3 1004.7l6.5 -11.3h-13.0zM1371.7 1008.3l6.5 -11.3h-13.0zM1373.1 1004.8l6.5 -11.3h-13.0zM1374.5 999.4l6.5 -11.3h-13.0zM1376.0 1000.5l6.5 -11.3h-13.0zM1377.4 997.9l6.5 -11.3h-13.0zM1378.8 998.4l6.5 -11.3h-13.0zM1380.2 995.0l6.5 -11.3h-13.0zM1381.6 992.0l6.5 -11.3h-13.0zM1383.1 989.4l6.5 -11.3h-13.0zM1384.5 992.0l6.5 -11.3h-13.0zM1385.9 984.7l6.5 -11.3h-13.0zM1387.3 991.2l6.5 -11.3h-13.0zM1388.7 980.1l6.5 -11.3h-13.0zM1390.1 986.8l6.5 -11.3h-13.0zM1391.6 988.0l6.5 -11.3h-13.0zM1393.0 990.7l6.5 -11.3h-13.0zM1394.4 997.8l6.5 -11.3h-13.0zM1395.8 988.5l6.5 -11.3h-13.0zM1397.2 986.8l6.5 -11.3h-13.0zM1398.7 980.3l6.5 -11.3h-13.0zM1400.1 990.2l6.5 -11.3h-13.0zM1401.5 978.5l6.5 -11.3h-13.0zM1402.9 984.1l6.5 -11.3h-13.0zM1404.3 979.3l6.5 -11.3h-13.0zM1405.7 988.2l6.5 -11.3h-13.0zM1407.2 977.6l6.5 -11.3h-13.0zM1408.6 977.1l6.5 -11.3h-13.0zM1410.0 971.8l6.5 -11.3h-13.0zM1411.4 971.7l6.5 -11.3h-13.0zM1412.8 973.7l6.5 -11.3h-13.0zM1414.3 965.0l6.5 -11.3h-13.0zM1415.7 964.1l6.5 -11.3h-13.0zM1417.1 962.8l6.5 -11.3h-13.0zM1418.5 960.0l6.5 -11.3h-13.0zM1419.9 958.3l6.5 -11.3h-13.0zM1421.3 960.7l6.5 -11.3h-13.0zM1422.8 963.8l6.5 -11.3h-13.0zM1424.2 962.6l6.5 -11.3h-13.0zM1425.6 952.5l6.5 -11.3h-13.0zM1427.0 953.4l6.5 -11.3h-13.0zM1428.4 954.2l6.5 -11.3h-13.0zM1429.8 954.8l6.5 -11.3h-13.0zM1431.3 952.1l6.5 -11.3h-13.0zM1432.7 950.8l6.5 -11.3h-13.0zM1434.1 950.7l6.5 -11.3h-13.0zM1435.5 950.5l6.5 -11.3h-13.0zM1436.9 939.8l6.5 -11.3h-13.0zM1438.4 944.5l6.5 -11.3h-13.0zM1439.8 945.6l6.5 -11.3h-13.0zM1441.2 946.1l6.5 -11.3h-13.0zM1442.6 942.3l6.5 -11.3h-13.0zM1444.0 935.5l6.5 -11.3h-13.0zM1445.4 933.1l6.5 -11.3h-13.0zM1446.9 933.9l6.5 -11.3h-13.0zM1448.3 930.6l6.5 -11.3h-13.0zM1449.7 929.3l6.5 -11.3h-13.0zM1451.1 929.4l6.5 -11.3h-13.0zM1452.5 919.0l6.5 -11.3h-13.0zM1454.0 919.6l6.5 -11.3h-13.0zM1455.4 910.3l6.5 -11.3h-13.0zM1456.8 918.4l6.5 -11.3h-13.0zM1458.2 914.2l6.5 -11.3h-13.0zM1459.6 908.8l6.5 -11.3h-13.0zM1461.0 910.5l6.5 -11.3h-13.0zM1462.5 912.3l6.5 -11.3h-13.0zM1463.9 909.1l6.5 -11.3h-13.0zM1465.3 903.9l6.5 -11.3h-13.0zM1466.7 901.4l6.5 -11.3h-13.0zM1468.1 901.2l6.5 -11.3h-13.0zM1469.6 896.0l6.5 -11.3h-13.0zM1471.0 894.4l6.5 -11.3h-13.0zM1472.4 894.9l6.5 -11.3h-13.0zM1473.8 894.2l6.5 -11.3h-13.0zM1475.2 893.4l6.5 -11.3h-13.0zM1476.6 889.0l6.5 -11.3h-13.0zM1478.1 886.0l6.5 -11.3h-13.0zM1479.5 886.9l6.5 -11.3h-13.0zM1480.9 883.6l6.5 -11.3h-13.0zM1482.3 884.1l6.5 -11.3h-13.0zM1483.7 885.4l6.5 -11.3h-13.0zM1485.2 881.9l6.5 -11.3h-13.0zM1486.6 873.8l6.5 -11.3h-13.0zM1488.0 872.6l6.5 -11.3h-13.0zM1489.4 866.5l6.5 -11.3h-13.0zM1490.8 869.1l6.5 -11.3h-13.0zM1492.2 864.1l6.5 -11.3h-13.0zM1493.7 860.2l6.5 -11.3h-13.0zM1495.1 858.9l6.5 -11.3h-13.0zM1496.5 861.7l6.5 -11.3h-13.0zM1497.9 858.0l6.5 -11.3h-13.0zM1499.3 854.6l6.5 -11.3h-13.0zM1500.8 856.0l6.5 -11.3h-13.0zM1502.2 849.0l6.5 -11.3h-13.0zM1503.6 845.0l6.5 -11.3h-13.0zM1505.0 847.6l6.5 -11.3h-13.0zM1506.4 837.4l6.5 -11.3h-13.0zM1507.8 842.5l6.5 -11.3h-13.0zM1509.3 839.9l6.5 -11.3h-13.0zM1510.7 837.8l6.5 -11.3h-13.0zM1512.1 837.1l6.5 -11.3h-13.0zM1513.5 831.2l6.5 -11.3h-13.0zM1514.9 830.3l6.5 -11.3h-13.0zM1516.4 822.8l6.5 -11.3h-13.0zM1517.8 824.0l6.5 -11.3h-13.0zM1519.2 822.1l6.5 -11.3h-13.0zM1520.6 822.4l6.5 -11.3h-13.0zM1522.0 824.1l6.5 -11.3h-13.0zM1523.4 817.5l6.5 -11.3h-13.0zM1524.9 817.8l6.5 -11.3h-13.0zM1526.3 809.7l6.5 -11.3h-13.0zM1527.7 810.6l6.5 -11.3h-13.0zM1529.1 802.9l6.5 -11.3h-13.0zM1530.5 803.7l6.5 -11.3h-13.0zM1531.9 801.2l6.5 -11.3h-13.0zM1533.4 801.1l6.5 -11.3h-13.0zM1534.8 799.1l6.5 -11.3h-13.0zM1536.2 795.7l6.5 -11.3h-13.0zM1537.6 793.0l6.5 -11.3h-13.0zM1539.0 796.5l6.5 -11.3h-13.0zM1540.5 791.0l6.5 -11.3h-13.0zM1541.9 782.4l6.5 -11.3h-13.0zM1543.3 789.6l6.5 -11.3h-13.0zM1544.7 788.6l6.5 -11.3h-13.0zM1546.1 788.5l6.5 -11.3h-13.0zM1547.5 789.5l6.5 -11.3h-13.0zM1549.0 779.5l6.5 -11.3h-13.0zM1550.4 781.8l6.5 -11.3h-13.0zM1551.8 779.7l6.5 -11.3h-13.0zM1553.2 773.5l6.5 -11.3h-13.0zM1554.6 770.2l6.5 -11.3h-13.0zM1556.1 780.2l6.5 -11.3h-13.0zM1557.5 773.0l6.5 -11.3h-13.0zM1558.9 773.6l6.5 -11.3h-13.0zM1560.3 773.6l6.5 -11.3h-13.0z" fill="#33ff11"/>
<path d="M993.1 690.4L994.5 695.5L995.9 694.6L997.3 701.1L998.8 705.6L1000.2 706.4L1001.6 710.7L1003.0 715.1L1004.4 718.6L1005.9 717.6L1007.3 724.2L1008.7 728.8L1010.1 733.9L1011.5 735.3L1012.9 740.1L1014.4 739.7L1015.8 742.1L1017.2 751.5L1018.6 748.4L1020.0 749.5L1021.5 753.8L1022.9 759.9L1024.3 756.4L1025.7 764.9L1027.1 769.4L1028.5 771.8L1030.0 771.6L1031.4 771.6L1032.8 773.9L1034.2 779.4L1035.6 786.2L1037.0 787.4L1038.5 790.7L1039.9 791.3L1041.3 798.4L1042.7 795.5L1044.1 796.4L1045.6 801.1L1047.0 801.7L1048.4 808.0L1049.8 811.7L1051.2 811.7L1052.6 808.9L1054.1 811.6L1055.5 818.2L1056.9 815.8L1058.3 822.6L1059.7 819.8L1061.2 825.3L1062.6 830.5L1064.0 829.5L1065.4 836.6L1066.8 839.7L1068.2 843.8L1069.7 841.6L1071.1 845.1L1072.5 847.9L1073.9 851.6L1075.3 849.1L1076.8 857.1L1078.2 860.7L1079.6 857.9L1081.0 860.2L1082.4 866.1L1083.8 874.9L1085.3 874.6L1086.7 874.0L1088.1 878.6L1089.5 877.2L1090.9 888.5L1092.4 885.6L1093.8 892.3L1095.2 889.8L1096.6 896.7L1098.0 896.6L1099.4 904.4L1100.9 909.6L1102.3 911.9L1103.7 913.6L1105.1 918.1L1106.5 915.0L1108.0 917.9L1109.4 924.2L1110.8 931.2L1112.2 931.8L1113.6 936.6L1115.0 933.5L1116.5 939.8L1117.9 942.1L1119.3 947.4L1120.7 954.5L1122.1 953.4L1123.6 956.7L1125.0 954.7L1126.4 957.7L1127.8 962.4L1129.2 963.2L1130.6 959.7L1132.1 968.9L1133.5 970.9L1134.9 971.0L1136.3 974.4L1137.7 975.8L1139.1 975.3L1140.6 974.2L1142.0 986.6L1143.4 984.0L1144.8 986.3L1146.2 989.2L1147.7 992.0L1149.1 995.0L1150.5 993.8L1151.9 1000.5L1153.3 1002.1L1154.7 1004.3L1156.2 1006.6L1157.6 1009.9L1159.0 1009.0L1160.4 1014.3L1161.8 1016.2L1163.3 1019.3L1164.7 1024.4L1166.1 1026.4L1167.5 1029.4L1168.9 1028.3L1170.3 1033.3L1171.8 1036.7L1173.2 1035.3L1174.6 1036.8L1176.0 1045.5L1177.4 1037.9L1178.9 1044.8L1180.3 1047.3L1181.7 1046.0L1183.1 1050.9L1184.5 1054.8L1185.9 1048.7L1187.4 1060.0L1188.8 1059.0L1190.2 1058.2L1191.6 1065.5L1193.0 1064.5L1194.5 1064.9L1195.9 1060.9L1197.3 1072.1L1198.7 1071.5L1200.1 1071.4L1201.5 1075.0L1203.0 1080.5L1204.4 1077.6L1205.8 1080.1L1207.2 1080.6L1208.6 1079.8L1210.1 1081.1L1211.5 1083.7L1212.9 1084.7L1214.3 1089.5L1215.7 1087.5L1217.1 1087.1L1218.6 1089.5L1220.0 1088.6L1221.4 1091.7L1222.8 1085.4L1224.2 1083.9L1225.7 1091.2L1227.1 1088.9L1228.5 1090.4L1229.9 1085.4L1231.3 1086.8L1232.7 1086.6L1234.2 1086.0L1235.6 1083.5L1237.0 1085.0L1238.4 1078.6L1239.8 1080.8L1241.2 1075.6L1242.7 1075.1L1244.1 1070.6L1245.5 1071.5L1246.9 1065.8L1248.3 1067.6L1249.8 1055.3L1251.2 1047.8L1252.6 1040.4L1254.0 1035.5L1255.4 1027.9L1256.8 1031.5L1258.3 1020.0L1259.7 1020.0L1261.1 1006.9L1262.5 1009.9L1263.9 999.9L1265.4 993.2L1266.8 973.6L1268.2 968.8L1269.6 948.6L1271.0 932.8L1272.4 921.9L1273.9 901.2L1275.3 875.0L1276.7 832.2L1278.1 878.7L1279.5 921.1L1281.0 931.2L1282.4 939.0L1283.8 943.2L1285.2 947.6L1286.6 961.5L1288.0 972.9L1289.5 991.3L1290.9 1005.8L1292.3 1008.0L1293.7 1022.1L1295.1 1028.2L1296.6 1032.4L1298.0 1039.3L1299.4 1038.2L1300.8 1055.8L1302.2 1053.7L1303.6 1058.0L1305.1 1067.7L1306.5 1069.2L1307.9 1067.5L1309.3 1065.1L1310.7 1073.1L1312.2 1075.6L1313.6 1068.8L1315.0 1067.8L1316.4 1073.6L1317.8 1079.6L1319.2 1070.1L1320.7 1076.0L1322.1 1074.3L1323.5 1080.1L1324.9 1083.5L1326.3 1085.6L1327.7 1081.0L1329.2 1081.4L1330.6 1091.9L1332.0 1088.7L1333.4 1081.3L1334.8 1087.5L1336.3 1090.5L1337.7 1086.7L1339.1 1087.1L1340.5 1087.1L1341.9 1088.0L1343.3 1087.1L1344.8 1086.9L1346.2 1083.9L1347.6 1086.3L1349.0 1083.8L1350.4 1082.3L1351.9 1076.9L1353.3 1078.3L1354.7 1078.3L1356.1 1075.1L1357.5 1074.0L1358.9 1070.7L1360.4 1070.9L1361.8 1065.6L1363.2 1065.0L1364.6 1066.9L1366.0 1065.7L1367.5 1059.6L1368.9 1058.0L1370.3 1057.1L1371.7 1058.4L1373.1 1056.6L1374.5 1047.7L1376.0 1043.8L1377.4 1041.1L1378.8 1044.5L1380.2 1035.4L1381.6 1037.5L1383.1 1032.6L1384.5 1030.3L1385.9 1031.5L1387.3 1028.6L1388.7 1030.6L1390.1 1025.1L1391.6 1025.3L1393.0 1016.6L1394.4 1015.3L1395.8 1010.5L1397.2 1009.6L1398.7 1009.9L1400.1 1004.5L1401.5 1003.8L1402.9 998.1L1404.3 996.0L1405.7 996.7L1407.2 990.7L1408.6 987.4L1410.0 985.2L1411.4 978.5L1412.8 973.0L1414.3 975.7L1415.7 972.4L1417.1 974.7L1418.5 965.5L1419.9 963.4L1421.3 965.3L1422.8 955.3L1424.2 951.4L1425.6 952.1L1427.0 948.1L1428.4 946.7L1429.8 938.8L1431.3 942.3L1432.7 936.0L1434.1 926.8L1435.5 929.5L1436.9 925.7L1438.4 924.9L1439.8 925.5L1441.2 920.0L1442.6 916.6L1444.0 918.8L1445.4 913.0L1446.9 908.7L1448.3 907.4L1449.7 913.3L1451.1 909.8L1452.5 909.9L1454.0 900.5L1455.4 900.0L1456.8 897.8L1458.2 900.3L1459.6 898.9L1461.0 893.0L1462.5 890.4L1463.9 890.5L1465.3 884.8L1466.7 880.5L1468.1 878.7L1469.6 879.2L1471.0 879.2L1472.4 870.8L1473.8 866.4L1475.2 864.5L1476.6 862.0L1478.1 859.7L1479.5 852.8L1480.9 852.2L1482.3 848.9L1483.7 849.3L1485.2 845.6L1486.6 840.6L1488.0 841.3L1489.4 839.3L1490.8 834.0L1492.2 827.0L1493.7 827.2L1495.1 820.8L1496.5 822.6L1497.9 820.4L1499.3 820.6L1500.8 815.5L1502.2 806.8L1503.6 807.0L1505.0 802.9L1506.4 799.9L1507.8 798.9L1509.3 796.4L1510.7 792.4L1512.1 787.8L1513.5 785.3L1514.9 782.2L1516.4 780.2L1517.8 779.9L1519.2 775.6L1520.6 774.7L1522.0 766.4L1523.4 772.5L1524.9 764.5L1526.3 754.5L1527.7 759.7L1529.1 759.4L1530.5 753.7L1531.9 747.4L1533.4 748.9L1534.8 744.1L1536.2 742.8L1537.6 741.4L1539.0 728.6L1540.5 734.5L1541.9 733.1L1543.3 729.8L1544.7 724.0L1546.1 720.5L1547.5 716.0L1549.0 714.3L1550.4 715.3L1551.8 706.4L1553.2 705.6L1554.6 702.4L1556.1 703.0L1557.5 697.7L1558.9 695.9L1560.3 691.9" stroke="#ee0a0a" stroke-width="3.5" fill="none" stroke-linejoin="round"/>
<path d="M993.1 690.4h0M994.5 695.5h0M995.9 694.6h0M997.3 701.1h0M998.8 705.6h0M1000.2 706.4h0M1001.6 710.7h0M1003.0 715.1h0M1004.4 718.6h0M1005.9 717.6h0M1007.3 724.2h0M1008.7 728.8h0M1010.1 733.9h0M1011.5 735.3h0M1012.9 740.1h0M1014.4 739.7h0M1015.8 742.1h0M1017.2 751.5h0M1018.6 748.4h0M1020.0 749.5h0M1021.5 753.8h0M1022.9 759.9h0M1024.3 756.4h0M1025.7 764.9h0M1027.1 769.4h0M1028.5 771.8h0M1030.0 771.6h0M1031.4 771.6h0M1032.8 773.9h0M1034.2 779.4h0M1035.6 786.2h0M1037.0 787.4h0M1038.5 790.7h0M1039.9 791.3h0M1041.3 798.4h0M1042.7 795.5h0M1044.1 796.4h0M1045.6 801.1h0M1047.0 801.7h0M1048.4 808.0h0M1049.8 811.7h0M1051.2 811.7h0M1052.6 808.9h0M1054.1 811.6h0M1055.5 818.2h0M1056.9 815.8h0M1058.3 822.6h0M1059.7 819.8h0M1061.2 825.3h0M1062.6 830.5h0M1064.0 829.5h0M1065.4 836.6h0M1066.8 839.7h0M1068.2 843.8h0M1069.7 841.6h0M1071.1 845.1h0M1072.5 847.9h0M1073.9 851.6h0M1075.3 849.1h0M1076.8 857.1h0M1078.2 860.7h0M1079.6 857.9h0M1081.0 860.2h0M1082.4 866.1h0M1083.8 874.9h0M1085.3 874.6h0M1086.7 874.0h0M1088.1 878.6h0M1089.5 877.2h0M1090.9 888.5h0M1092.4 885.6h0M1093.8 892.3h0M1095.2 889.8h0M1096.6 896.7h0M1098.0 896.6h0M1099.4 904.4h0M1100.9 909.6h0M1102.3 911.9h0M1103.7 913.6h0M1105.1 918.1h0M1106.5 915.0h0M1108.0 917.9h0M1109.4 924.2h0M1110.8 931.2h0M1112.2 931.8h0M1113.6 936.6h0M1115.0 933.5h0M1116.5 939.8h0M1117.9 942.1h0M1119.3 947.4h0M1120.7 954.5h0M1122.1 953.4h0M1123.6 956.7h0M1125.0 954.7h0M1126.4 957.7h0M1127.8 962.4h0M1129.2 963.2h0M1130.6 959.7h0M1132.1 968.9h0M1133.5 970.9h0M1134.9 971.0h0M1136.3 974.4h0M1137.7 975.8h0M1139.1 975.3h0M1140.6 974.2h0M1142.0 986.6h0M1143.4 984.0h0M1144.8 986.3h0M1146.2 989.2h0M1147.7 992.0h0M1149.1 995.0h0M1150.5 993.8h0M1151.9 1000.5h0M1153.3 1002.1h0M1154.7 1004.3h0M1156.2 1006.6h0M1157.6 1009.9h0M1159.0 1009.0h0M1160.4 1014.3h0M1161.8 1016.2h0M1163.3 1019.3h0M1164.7 1024.4h0M1166.1 1026.4h0M1167.5 1029.4h0M1168.9 1028.3h0M1170.3 1033.3h0M1171.8 1036.7h0M1173.2 1035.3h0M1174.6 1036.8h0M1176.0 1045.5h0M1177.4 1037.9h0M1178.9 1044.8h0M1180.3 1047.3h0M1181.7 1046.0h0M1183.1 1050.9h0M1184.5 1054.8h0M1185.9 1048.7h0M1187.4 1060.0h0M1188.8 1059.0h0M1190.2 1058.2h0M1191.6 1065.5h0M1193.0 1064.5h0M1194.5 1064.9h0M1195.9 1060.9h0M1197.3 1072.1h0M1198.7 1071.5h0M1200.1 1071.4h0M1201.5 1075.0h0M1203.0 1080.5h0M1204.4 1077.6h0M1205.8 1080.1h0M1207.2 1080.6h0M1208.6 1079.8h0M1210.1 1081.1h0M1211.5 1083.7h0M1212.9 1084.7h0M1214.3 1089.5h0M1215.7 1087.5h0M1217.1 1087.1h0M1218.6 1089.5h0M1220.0 1088.6h0M1221.4 1091.7h0M1222.8 1085.4h0M1224.2 1083.9h0M1225.7 1091.2h0M1227.1 1088.9h0M1228.5 1090.4h0M1229.9 1085.4h0M1231.3 1086.8h0M1232.7 1086.6h0M1234.2 1086.0h0M1235.6 1083.5h0M1237.0 1085.0h0M1238.4 1078.6h0M1239.8 1080.8h0M1241.2 1075.6h0M1242.7 1075.1h0M1244.1 1070.6h0M1245.5 1071.5h0M1246.9 1065.8h0M1248.3 1067.6h0M1249.8 1055.3h0M1251.2 1047.8h0M1252.6 1040.4h0M1254.0 1035.5h0M1255.4 1027.9h0M1256.8 1031.5h0M1258.3 1020.0h0M1259.7 1020.0h0M1261.1 1006.9h0M1262.5 1009.9h0M1263.9 999.9h0M1265.4 993.2h0M1266.8 973.6h0M1268.2 968.8h0M1269.6 948.6h0M1271.0 932.8h0M1272.4 921.9h0M1273.9 901.2h0M1275.3 875.0h0M1276.7 832.2h0M1278.1 878.7h0M1279.5 921.1h0M1281.0 931.2h0M1282.4 939.0h0M1283.8 943.2h0M1285.2 947.6h0M1286.6 961.5h0M1288.0 972.9h0M1289.5 991.3h0M1290.9 1005.8h0M1292.3 1008.0h0M1293.7 1022.1h0M1295.1 1028.2h0M1296.6 1032.4h0M1298.0 1039.3h0M1299.4 1038.2h0M1300.8 1055.8h0M1302.2 1053.7h0M1303.6 1058.0h0M1305.1 1067.7h0M1306.5 1069.2h0M1307.9 1067.5h0M1309.3 1065.1h0M1310.7 1073.1h0M1312.2 1075.6h0M1313.6 1068.8h0M1315.0 1067.8h0M1316.4 1073.6h0M1317.8 1079.6h0M1319.2 1070.1h0M1320.7 1076.0h0M1322.1 1074.3h0M1323.5 1080.1h0M1324.9 1083.5h0M1326.3 1085.6h0M1327.7 1081.0h0M1329.2 1081.4h0M1330.6 1091.9h0M1332.0 1088.7h0M1333.4 1081.3h0M1334.8 1087.5h0M1336.3 1090.5h0M1337.7 1086.7h0M1339.1 1087.1h0M1340.5 1087.1h0M1341.9 1088.0h0M1343.3 1087.1h0M1344.8 1086.9h0M1346.2 1083.9h0M1347.6 1086.3h0M1349.0 1083.8h0M1350.4 1082.3h0M1351.9 1076.9h0M1353.3 1078.3h0M1354.7 1078.3h0M1356.1 1075.1h0M1357.5 1074.0h0M1358.9 1070.7h0M1360.4 1070.9h0M1361.8 1065.6h0M1363.2 1065.0h0M1364.6 1066.9h0M1366.0 1065.7h0M1367.5 1059.6h0M1368.9 1058.0h0M1370.3 1057.1h0M1371.7 1058.4h0M1373.1 1056.6h0M1374.5 1047.7h0M1376.0 1043.8h0M1377.4 1041.1h0M1378.8 1044.5h0M1380.2 1035.4h0M1381.6 1037.5h0M1383.1 1032.6h0M1384.5 1030.3h0M1385.9 1031.5h0M1387.3 1028.6h0M1388.7 1030.6h0M1390.1 1025.1h0M1391.6 1025.3h0M1393.0 1016.6h0M1394.4 1015.3h0M1395.8 1010.5h0M1397.2 1009.6h0M1398.7 1009.9h0M1400.1 1004.5h0M1401.5 1003.8h0M1402.9 998.1h0M1404.3 996.0h0M1405.7 996.7h0M1407.2 990.7h0M1408.6 987.4h0M1410.0 985.2h0M1411.4 978.5h0M1412.8 973.0h0M1414.3 975.7h0M1415.7 972.4h0M1417.1 974.7h0M1418.5 965.5h0M1419.9 963.4h0M1421.3 965.3h0M1422.8 955.3h0M1424.2 951.4h0M1425.6 952.1h0M1427.0 948.1h0M1428.4 946.7h0M1429.8 938.8h0M1431.3 942.3h0M1432.7 936.0h0M1434.1 926.8h0M1435.5 929.5h0M1436.9 925.7h0M1438.4 924.9h0M1439.8 925.5h0M1441.2 920.0h0M1442.6 916.6h0M1444.0 918.8h0M1445.4 913.0h0M1446.9 908.7h0M1448.3 907.4h0M1449.7 913.3h0M1451.1 909.8h0M1452.5 909.9h0M1454.0 900.5h0M1455.4 900.0h0M1456.8 897.8h0M1458.2 900.3h0M1459.6 898.9h0M1461.0 893.0h0M1462.5 890.4h0M1463.9 890.5h0M1465.3 884.8h0M1466.7 880.5h0M1468.1 878.7h0M1469.6 879.2h0M1471.0 879.2h0M1472.4 870.8h0M1473.8 866.4h0M1475.2 864.5h0M1476.6 862.0h0M1478.1 859.7h0M1479.5 852.8h0M1480.9 852.2h0M1482.3 848.9h0M1483.7 849.3h0M1485.2 845.6h0M1486.6 840.6h0M1488.0 841.3h0M1489.4 839.3h0M1490.8 834.0h0M1492.2 827.0h0M1493.7 827.2h0M1495.1 820.8h0M1496.5 822.6h0M1497.9 820.4h0M1499.3 820.6h0M1500.8 815.5h0M1502.2 806.8h0M1503.6 807.0h0M1505.0 802.9h0M1506.4 799.9h0M1507.8 798.9h0M1509.3 796.4h0M1510.7 792.4h0M1512.1 787.8h0M1513.5 785.3h0M1514.9 782.2h0M1516.4 780.2h0M1517.8 779.9h0M1519.2 775.6h0M1520.6 774.7h0M1522.0 766.4h0M1523.4 772.5h0M1524.9 764.5h0M1526.3 754.5h0M1527.7 759.7h0M1529.1 759.4h0M1530.5 753.7h0M1531.9 747.4h0M1533.4 748.9h0M1534.8 744.1h0M1536.2 742.8h0M1537.6 741.4h0M1539.0 728.6h0M1540.5 734.5h0M1541.9 733.1h0M1543.3 729.8h0M1544.7 724.0h0M1546.1 720.5h0M1547.5 716.0h0M1549.0 714.3h0M1550.4 715.3h0M1551.8 706.4h0M1553.2 705.6h0M1554.6 702.4h0M1556.1 703.0h0M1557.5 697.7h0M1558.9 695.9h0M1560.3 691.9h0" stroke="#b00000" stroke-width="12.5" stroke-linecap="round" fill="none"/>
<path d="M993.1 690.4h0M994.5 695.5h0M995.9 694.6h0M997.3 701.1h0M998.8 705.6h0M1000.2 706.4h0M1001.6 710.7h0M1003.0 715.1h0M1004.4 718.6h0M1005.9 717.6h0M1007.3 724.2h0M1008.7 728.8h0M1010.1 733.9h0M1011.5 735.3h0M1012.9 740.1h0M1014.4 739.7h0M1015.8 742.1h0M1017.2 751.5h0M1018.6 748.4h0M1020.0 749.5h0M1021.5 753.8h0M1022.9 759.9h0M1024.3 756.4h0M1025.7 764.9h0M1027.1 769.4h0M1028.5 771.8h0M1030.0 771.6h0M1031.4 771.6h0M1032.8 773.9h0M1034.2 779.4h0M1035.6 786.2h0M1037.0 787.4h0M1038.5 790.7h0M1039.9 791.3h0M1041.3 798.4h0M1042.7 795.5h0M1044.1 796.4h0M1045.6 801.1h0M1047.0 801.7h0M1048.4 808.0h0M1049.8 811.7h0M1051.2 811.7h0M1052.6 808.9h0M1054.1 811.6h0M1055.5 818.2h0M1056.9 815.8h0M1058.3 822.6h0M1059.7 819.8h0M1061.2 825.3h0M1062.6 830.5h0M1064.0 829.5h0M1065.4 836.6h0M1066.8 839.7h0M1068.2 843.8h0M1069.7 841.6h0M1071.1 845.1h0M1072.5 847.9h0M1073.9 851.6h0M1075.3 849.1h0M1076.8 857.1h0M1078.2 860.7h0M1079.6 857.9h0M1081.0 860.2h0M1082.4 866.1h0M1083.8 874.9h0M1085.3 874.6h0M1086.7 874.0h0M1088.1 878.6h0M1089.5 877.2h0M1090.9 888.5h0M1092.4 885.6h0M1093.8 892.3h0M1095.2 889.8h0M1096.6 896.7h0M1098.0 896.6h0M1099.4 904.4h0M1100.9 909.6h0M1102.3 911.9h0M1103.7 913.6h0M1105.1 918.1h0M1106.5 915.0h0M1108.0 917.9h0M1109.4 924.2h0M1110.8 931.2h0M1112.2 931.8h0M1113.6 936.6h0M1115.0 933.5h0M1116.5 939.8h0M1117.9 942.1h0M1119.3 947.4h0M1120.7 954.5h0M1122.1 953.4h0M1123.6 956.7h0M1125.0 954.7h0M1126.4 957.7h0M1127.8 962.4h0M1129.2 963.2h0M1130.6 959.7h0M1132.1 968.9h0M1133.5 970.9h0M1134.9 971.0h0M1136.3 974.4h0M1137.7 975.8h0M1139.1 975.3h0M1140.6 974.2h0M1142.0 986.6h0M1143.4 984.0h0M1144.8 986.3h0M1146.2 989.2h0M1147.7 992.0h0M1149.1 995.0h0M1150.5 993.8h0M1151.9 1000.5h0M1153.3 1002.1h0M1154.7 1004.3h0M1156.2 1006.6h0M1157.6 1009.9h0M1159.0 1009.0h0M1160.4 1014.3h0M1161.8 1016.2h0M1163.3 1019.3h0M1164.7 1024.4h0M1166.1 1026.4h0M1167.5 1029.4h0M1168.9 1028.3h0M1170.3 1033.3h0M1171.8 1036.7h0M1173.2 1035.3h0M1174.6 1036.8h0M1176.0 1045.5h0M1177.4 1037.9h0M1178.9 1044.8h0M1180.3 1047.3h0M1181.7 1046.0h0M1183.1 1050.9h0M1184.5 1054.8h0M1185.9 1048.7h0M1187.4 1060.0h0M1188.8 1059.0h0M1190.2 1058.2h0M1191.6 1065.5h0M1193.0 1064.5h0M1194.5 1064.9h0M1195.9 1060.9h0M1197.3 1072.1h0M1198.7 1071.5h0M1200.1 1071.4h0M1201.5 1075.0h0M1203.0 1080.5h0M1204.4 1077.6h0M1205.8 1080.1h0M1207.2 1080.6h0M1208.6 1079.8h0M1210.1 1081.1h0M1211.5 1083.7h0M1212.9 1084.7h0M1214.3 1089.5h0M1215.7 1087.5h0M1217.1 1087.1h0M1218.6 1089.5h0M1220.0 1088.6h0M1221.4 1091.7h0M1222.8 1085.4h0M1224.2 1083.9h0M1225.7 1091.2h0M1227.1 1088.9h0M1228.5 1090.4h0M1229.9 1085.4h0M1231.3 1086.8h0M1232.7 1086.6h0M1234.2 1086.0h0M1235.6 1083.5h0M1237.0 1085.0h0M1238.4 1078.6h0M1239.8 1080.8h0M1241.2 1075.6h0M1242.7 1075.1h0M1244.1 1070.6h0M1245.5 1071.5h0M1246.9 1065.8h0M1248.3 1067.6h0M1249.8 1055.3h0M1251.2 1047.8h0M1252.6 1040.4h0M1254.0 1035.5h0M1255.4 1027.9h0M1256.8 1031.5h0M1258.3 1020.0h0M1259.7 1020.0h0M1261.1 1006.9h0M1262.5 1009.9h0M1263.9 999.9h0M1265.4 993.2h0M1266.8 973.6h0M1268.2 968.8h0M1269.6 948.6h0M1271.0 932.8h0M1272.4 921.9h0M1273.9 901.2h0M1275.3 875.0h0M1276.7 832.2h0M1278.1 878.7h0M1279.5 921.1h0M1281.0 931.2h0M1282.4 939.0h0M1283.8 943.2h0M1285.2 947.6h0M1286.6 961.5h0M1288.0 972.9h0M1289.5 991.3h0M1290.9 1005.8h0M1292.3 1008.0h0M1293.7 1022.1h0M1295.1 1028.2h0M1296.6 1032.4h0M1298.0 1039.3h0M1299.4 1038.2h0M1300.8 1055.8h0M1302.2 1053.7h0M1303.6 1058.0h0M1305.1 1067.7h0M1306.5 1069.2h0M1307.9 1067.5h0M1309.3 1065.1h0M1310.7 1073.1h0M1312.2 1075.6h0M1313.6 1068.8h0M1315.0 1067.8h0M1316.4 1073.6h0M1317.8 1079.6h0M1319.2 1070.1h0M1320.7 1076.0h0M1322.1 1074.3h0M1323.5 1080.1h0M1324.9 1083.5h0M1326.3 1085.6h0M1327.7 1081.0h0M1329.2 1081.4h0M1330.6 1091.9h0M1332.0 1088.7h0M1333.4 1081.3h0M1334.8 1087.5h0M1336.3 1090.5h0M1337.7 1086.7h0M1339.1 1087.1h0M1340.5 1087.1h0M1341.9 1088.0h0M1343.3 1087.1h0M1344.8 1086.9h0M1346.2 1083.9h0M1347.6 1086.3h0M1349.0 1083.8h0M1350.4 1082.3h0M1351.9 1076.9h0M1353.3 1078.3h0M1354.7 1078.3h0M1356.1 1075.1h0M1357.5 1074.0h0M1358.9 1070.7h0M1360.4 1070.9h0M1361.8 1065.6h0M1363.2 1065.0h0M1364.6 1066.9h0M1366.0 1065.7h0M1367.5 1059.6h0M1368.9 1058.0h0M1370.3 1057.1h0M1371.7 1058.4h0M1373.1 1056.6h0M1374.5 1047.7h0M1376.0 1043.8h0M1377.4 1041.1h0M1378.8 1044.5h0M1380.2 1035.4h0M1381.6 1037.5h0M1383.1 1032.6h0M1384.5 1030.3h0M1385.9 1031.5h0M1387.3 1028.6h0M1388.7 1030.6h0M1390.1 1025.1h0M1391.6 1025.3h0M1393.0 1016.6h0M1394.4 1015.3h0M1395.8 1010.5h0M1397.2 1009.6h0M1398.7 1009.9h0M1400.1 1004.5h0M1401.5 1003.8h0M1402.9 998.1h0M1404.3 996.0h0M1405.7 996.7h0M1407.2 990.7h0M1408.6 987.4h0M1410.0 985.2h0M1411.4 978.5h0M1412.8 973.0h0M1414.3 975.7h0M1415.7 972.4h0M1417.1 974.7h0M1418.5 965.5h0M1419.9 963.4h0M1421.3 965.3h0M1422.8 955.3h0M1424.2 951.4h0M1425.6 952.1h0M1427.0 948.1h0M1428.4 946.7h0M1429.8 938.8h0M1431.3 942.3h0M1432.7 936.0h0M1434.1 926.8h0M1435.5 929.5h0M1436.9 925.7h0M1438.4 924.9h0M1439.8 925.5h0M1441.2 920.0h0M1442.6 916.6h0M1444.0 918.8h0M1445.4 913.0h0M1446.9 908.7h0M1448.3 907.4h0M1449.7 913.3h0M1451.1 909.8h0M1452.5 909.9h0M1454.0 900.5h0M1455.4 900.0h0M1456.8 897.8h0M1458.2 900.3h0M1459.6 898.9h0M1461.0 893.0h0M1462.5 890.4h0M1463.9 890.5h0M1465.3 884.8h0M1466.7 880.5h0M1468.1 878.7h0M1469.6 879.2h0M1471.0 879.2h0M1472.4 870.8h0M1473.8 866.4h0M1475.2 864.5h0M1476.6 862.0h0M1478.1 859.7h0M1479.5 852.8h0M1480.9 852.2h0M1482.3 848.9h0M1483.7 849.3h0M1485.2 845.6h0M1486.6 840.6h0M1488.0 841.3h0M1489.4 839.3h0M1490.8 834.0h0M1492.2 827.0h0M1493.7 827.2h0M1495.1 820.8h0M1496.5 822.6h0M1497.9 820.4h0M1499.3 820.6h0M1500.8 815.5h0M1502.2 806.8h0M1503.6 807.0h0M1505.0 802.9h0M1506.4 799.9h0M1507.8 798.9h0M1509.3 796.4h0M1510.7 792.4h0M1512.1 787.8h0M1513.5 785.3h0M1514.9 782.2h0M1516.4 780.2h0M1517.8 779.9h0M1519.2 775.6h0M1520.6 774.7h0M1522.0 766.4h0M1523.4 772.5h0M1524.9 764.5h0M1526.3 754.5h0M1527.7 759.7h0M1529.1 759.4h0M1530.5 753.7h0M1531.9 747.4h0M1533.4 748.9h0M1534.8 744.1h0M1536.2 742.8h0M1537.6 741.4h0M1539.0 728.6h0M1540.5 734.5h0M1541.9 733.1h0M1543.3 729.8h0M1544.7 724.0h0M1546.1 720.5h0M1547.5 716.0h0M1549.0 714.3h0M1550.4 715.3h0M1551.8 706.4h0M1553.2 705.6h0M1554.6 702.4h0M1556.1 703.0h0M1557.5 697.7h0M1558.9 695.9h0M1560.3 691.9h0" stroke="#ff0000" stroke-width="11.3" stroke-linecap="round" fill="none"/>
<rect x="986.0" y="669.0" width="581.4" height="447.4" fill="none" stroke="#000" stroke-width="3.7"/>
<path d="M993.1 1116.4v-19.0M993.1 669.0v19.0M1007.3 1116.4v-10.8M1007.3 669.0v10.8M1021.5 1116.4v-10.8M1021.5 669.0v10.8M1035.6 1116.4v-10.8M1035.6 669.0v10.8M1049.8 1116.4v-10.8M1049.8 669.0v10.8M1064.0 1116.4v-10.8M1064.0 669.0v10.8M1078.2 1116.4v-10.8M1078.2 669.0v10.8M1092.4 1116.4v-10.8M1092.4 669.0v10.8M1106.5 1116.4v-10.8M1106.5 669.0v10.8M1120.7 1116.4v-10.8M1120.7 669.0v10.8M1134.9 1116.4v-19.0M1134.9 669.0v19.0M1149.1 1116.4v-10.8M1149.1 669.0v10.8M1163.3 1116.4v-10.8M1163.3 669.0v10.8M1177.4 1116.4v-10.8M1177.4 669.0v10.8M1191.6 1116.4v-10.8M1191.6 669.0v10.8M1205.8 1116.4v-10.8M1205.8 669.0v10.8M1220.0 1116.4v-10.8M1220.0 669.0v10.8M1234.2 1116.4v-10.8M1234.2 669.0v10.8M1248.3 1116.4v-10.8M1248.3 669.0v10.8M1262.5 1116.4v-10.8M1262.5 669.0v10.8M1276.7 1116.4v-19.0M1276.7 669.0v19.0M1290.9 1116.4v-10.8M1290.9 669.0v10.8M1305.1 1116.4v-10.8M1305.1 669.0v10.8M1319.2 1116.4v-10.8M1319.2 669.0v10.8M1333.4 1116.4v-10.8M1333.4 669.0v10.8M1347.6 1116.4v-10.8M1347.6 669.0v10.8M1361.8 1116.4v-10.8M1361.8 669.0v10.8M1376.0 1116.4v-10.8M1376.0 669.0v10.8M1390.1 1116.4v-10.8M1390.1 669.0v10.8M1404.3 1116.4v-10.8M1404.3 669.0v10.8M1418.5 1116.4v-19.0M1418.5 669.0v19.0M1432.7 1116.4v-10.8M1432.7 669.0v10.8M1446.9 1116.4v-10.8M1446.9 669.0v10.8M1461.0 1116.4v-10.8M1461.0 669.0v10.8M1475.2 1116.4v-10.8M1475.2 669.0v10.8M1489.4 1116.4v-10.8M1489.4 669.0v10.8M1503.6 1116.4v-10.8M1503.6 669.0v10.8M1517.8 1116.4v-10.8M1517.8 669.0v10.8M1531.9 1116.4v-10.8M1531.9 669.0v10.8M1546.1 1116.4v-10.8M1546.1 669.0v10.8M1560.3 1116.4v-19.0M1560.3 669.0v19.0" stroke="#000" stroke-width="3.5" fill="none"/>
<path d="M986.0 1075.7h19.0M1567.4 1075.7h-19.0M986.0 1035.1h10.8M1567.4 1035.1h-10.8M986.0 994.4h19.0M1567.4 994.4h-19.0M986.0 953.7h10.8M1567.4 953.7h-10.8M986.0 913.0h19.0M1567.4 913.0h-19.0M986.0 872.4h10.8M1567.4 872.4h-10.8M986.0 831.7h19.0M1567.4 831.7h-19.0M986.0 791.0h10.8M1567.4 791.0h-10.8M986.0 750.3h19.0M1567.4 750.3h-19.0M986.0 709.7h10.8M1567.4 709.7h-10.8" stroke="#000" stroke-width="3.5" fill="none"/>
<path d="M190.6 949.2L213.8 933.4L260.3 938.0L353.2 905.8L399.6 903.7L446.1 934.5L492.5 937.6L539.0 924.9L585.4 905.8L631.9 904.8L678.3 962.0L724.8 929.2" stroke="#0610dc" stroke-width="4.2" fill="none" stroke-linejoin="round"/>
<path d="M190.6 937.1l10.5 18.2h-21.0zM213.8 921.3l10.5 18.2h-21.0zM260.3 925.9l10.5 18.2h-21.0zM353.2 893.7l10.5 18.2h-21.0zM399.6 891.6l10.5 18.2h-21.0zM446.1 922.4l10.5 18.2h-21.0zM492.5 925.5l10.5 18.2h-21.0zM539.0 912.7l10.5 18.2h-21.0zM585.4 893.7l10.5 18.2h-21.0zM631.9 892.7l10.5 18.2h-21.0zM678.3 949.9l10.5 18.2h-21.0zM724.8 917.1l10.5 18.2h-21.0z" fill="#000090" stroke="#000090" stroke-width="1.0" stroke-linejoin="miter"/>
<path d="M190.6 937.1l10.5 18.2h-21.0zM213.8 921.3l10.5 18.2h-21.0zM260.3 925.9l10.5 18.2h-21.0zM353.2 893.7l10.5 18.2h-21.0zM399.6 891.6l10.5 18.2h-21.0zM446.1 922.4l10.5 18.2h-21.0zM492.5 925.5l10.5 18.2h-21.0zM539.0 912.7l10.5 18.2h-21.0zM585.4 893.7l10.5 18.2h-21.0zM631.9 892.7l10.5 18.2h-21.0zM678.3 949.9l10.5 18.2h-21.0zM724.8 917.1l10.5 18.2h-21.0z" fill="#0a1af5"/>
<path d="M190.6 863.5L213.8 874.1L260.3 879.4L353.2 887.2L399.6 887.2L446.1 897.4L492.5 965.2L539.0 990.6L585.4 1008.7L631.9 1027.8L678.3 1082.8L724.8 1080.7" stroke="#ee0a0a" stroke-width="4.2" fill="none" stroke-linejoin="round"/>
<path d="M190.6 863.5h0M213.8 874.1h0M260.3 879.4h0M353.2 887.2h0M399.6 887.2h0M446.1 897.4h0M492.5 965.2h0M539.0 990.6h0M585.4 1008.7h0M631.9 1027.8h0M678.3 1082.8h0M724.8 1080.7h0" stroke="#b00000" stroke-width="19.0" stroke-linecap="round" fill="none"/>
<path d="M190.6 863.5h0M213.8 874.1h0M260.3 879.4h0M353.2 887.2h0M399.6 887.2h0M446.1 897.4h0M492.5 965.2h0M539.0 990.6h0M585.4 1008.7h0M631.9 1027.8h0M678.3 1082.8h0M724.8 1080.7h0" stroke="#ff0000" stroke-width="17.8" stroke-linecap="round" fill="none"/>
<path d="M190.6 927.0L213.8 903.7L260.3 903.7L353.2 912.3L399.6 912.3L446.1 939.8L492.5 961.0L539.0 971.6L585.4 999.1L631.9 1023.5L678.3 1044.7L724.8 1018.2" stroke="#30f012" stroke-width="4.2" fill="none" stroke-linejoin="round"/>
<path d="M190.6 939.2l10.5 -18.2h-21.0zM213.8 915.9l10.5 -18.2h-21.0zM260.3 915.9l10.5 -18.2h-21.0zM353.2 924.4l10.5 -18.2h-21.0zM399.6 924.4l10.5 -18.2h-21.0zM446.1 951.9l10.5 -18.2h-21.0zM492.5 973.2l10.5 -18.2h-21.0zM539.0 983.7l10.5 -18.2h-21.0zM585.4 1011.2l10.5 -18.2h-21.0zM631.9 1035.6l10.5 -18.2h-21.0zM678.3 1056.8l10.5 -18.2h-21.0zM724.8 1030.3l10.5 -18.2h-21.0z" fill="#22aa00" stroke="#22aa00" stroke-width="1.0" stroke-linejoin="miter"/>
<path d="M190.6 939.2l10.5 -18.2h-21.0zM213.8 915.9l10.5 -18.2h-21.0zM260.3 915.9l10.5 -18.2h-21.0zM353.2 924.4l10.5 -18.2h-21.0zM399.6 924.4l10.5 -18.2h-21.0zM446.1 951.9l10.5 -18.2h-21.0zM492.5 973.2l10.5 -18.2h-21.0zM539.0 983.7l10.5 -18.2h-21.0zM585.4 1011.2l10.5 -18.2h-21.0zM631.9 1035.6l10.5 -18.2h-21.0zM678.3 1056.8l10.5 -18.2h-21.0zM724.8 1030.3l10.5 -18.2h-21.0z" fill="#33ff11"/>
<rect x="167.4" y="658.9" width="580.6" height="446.9" fill="none" stroke="#000" stroke-width="3.5"/>
<path d="M213.8 1105.8v-10.0M213.8 658.9v10.0M260.3 1105.8v-19.0M260.3 658.9v19.0M306.7 1105.8v-10.0M306.7 658.9v10.0M353.2 1105.8v-19.0M353.2 658.9v19.0M399.6 1105.8v-10.0M399.6 658.9v10.0M446.1 1105.8v-19.0M446.1 658.9v19.0M492.5 1105.8v-10.0M492.5 658.9v10.0M539.0 1105.8v-19.0M539.0 658.9v19.0M585.4 1105.8v-10.0M585.4 658.9v10.0M631.9 1105.8v-19.0M631.9 658.9v19.0M678.3 1105.8v-10.0M678.3 658.9v10.0M724.8 1105.8v-19.0M724.8 658.9v19.0" stroke="#000" stroke-width="3.6" fill="none"/>
<path d="M167.4 794.3h19.0M748.0 794.3h-19.0M167.4 929.7h19.0M748.0 929.7h-19.0M167.4 1065.2h19.0M748.0 1065.2h-19.0" stroke="#000" stroke-width="3.5" fill="none"/>
<text x="2.0" y="55.6" font-size="54.5" text-anchor="start" >(a)</text>
<text x="802.6" y="46.2" font-size="54.5" text-anchor="start" >(b)</text>
<text x="39.5" y="671.0" font-size="54.5" text-anchor="start" >(d)</text>
<text x="824.5" y="680.5" font-size="54.5" text-anchor="start" >(c)</text>
<text x="163.8" y="35.2" font-size="35" text-anchor="end" >0.20</text>
<text x="163.8" y="116.6" font-size="35" text-anchor="end" >0.10</text>
<text x="163.8" y="198.1" font-size="35" text-anchor="end" >0.00</text>
<text x="163.8" y="279.5" font-size="35" text-anchor="end" >-0.10</text>
<text x="163.8" y="360.9" font-size="35" text-anchor="end" >-0.20</text>
<text x="163.8" y="442.4" font-size="35" text-anchor="end" >-0.30</text>
<text x="962.7" y="35.4" font-size="35" text-anchor="end" >0.20</text>
<text x="962.7" y="116.7" font-size="35" text-anchor="end" >0.10</text>
<text x="962.7" y="198.1" font-size="35" text-anchor="end" >0.00</text>
<text x="962.7" y="279.4" font-size="35" text-anchor="end" >-0.10</text>
<text x="962.7" y="360.7" font-size="35" text-anchor="end" >-0.20</text>
<text x="962.7" y="442.0" font-size="35" text-anchor="end" >-0.30</text>
<text x="975.6" y="681.4" font-size="35" text-anchor="end" >0.20</text>
<text x="975.6" y="762.7" font-size="35" text-anchor="end" >0.10</text>
<text x="975.6" y="844.1" font-size="35" text-anchor="end" >0.00</text>
<text x="975.6" y="925.4" font-size="35" text-anchor="end" >-0.10</text>
<text x="975.6" y="1006.8" font-size="35" text-anchor="end" >-0.20</text>
<text x="975.6" y="1088.1" font-size="35" text-anchor="end" >-0.30</text>
<text x="179.5" y="512.3" font-size="35" text-anchor="middle" >-2</text>
<text x="321.2" y="512.3" font-size="35" text-anchor="middle" >-1</text>
<text x="463.0" y="512.3" font-size="35" text-anchor="middle" >0</text>
<text x="604.7" y="512.3" font-size="35" text-anchor="middle" >1</text>
<text x="746.4" y="512.3" font-size="35" text-anchor="middle" >2</text>
<text x="979.9" y="513.5" font-size="35" text-anchor="middle" >-2</text>
<text x="1121.6" y="513.5" font-size="35" text-anchor="middle" >-1</text>
<text x="1263.4" y="513.5" font-size="35" text-anchor="middle" >0</text>
<text x="1405.2" y="513.5" font-size="35" text-anchor="middle" >1</text>
<text x="1546.9" y="513.5" font-size="35" text-anchor="middle" >2</text>
<text x="993.1" y="1159.5" font-size="35" text-anchor="middle" >-2</text>
<text x="1134.9" y="1159.5" font-size="35" text-anchor="middle" >-1</text>
<text x="1276.7" y="1159.5" font-size="35" text-anchor="middle" >0</text>
<text x="1418.5" y="1159.5" font-size="35" text-anchor="middle" >1</text>
<text x="1560.3" y="1159.5" font-size="35" text-anchor="middle" >2</text>
<text x="157.3" y="671.3" font-size="35" text-anchor="end" >0</text>
<text x="157.3" y="806.7" font-size="35" text-anchor="end" >-10</text>
<text x="157.3" y="942.1" font-size="35" text-anchor="end" >-20</text>
<text x="157.3" y="1077.6" font-size="35" text-anchor="end" >-30</text>
<text x="167.4" y="1149.3" font-size="35" text-anchor="middle" >0.0</text>
<text x="260.3" y="1149.3" font-size="35" text-anchor="middle" >0.2</text>
<text x="353.2" y="1149.3" font-size="35" text-anchor="middle" >0.4</text>
<text x="446.1" y="1149.3" font-size="35" text-anchor="middle" >0.6</text>
<text x="539.0" y="1149.3" font-size="35" text-anchor="middle" >0.8</text>
<text x="631.9" y="1149.3" font-size="35" text-anchor="middle" >1.0</text>
<text x="724.8" y="1149.3" font-size="35" text-anchor="middle" >1.2</text>
<text x="460.7" y="567.5" font-size="35" text-anchor="middle" >B (T)</text>
<text x="1263.5" y="569.9" font-size="35" text-anchor="middle" >B (T)</text>
<text x="1276.7" y="1216.0" font-size="35" text-anchor="middle" >B (T)</text>
<text x="464.5" y="1216.0" font-size="35" text-anchor="middle" >T (K)</text>
<text x="0" y="0" font-size="35" text-anchor="middle" transform="translate(58.7 222.7) rotate(-90)">ΔR/R(0)</text>
<text x="0" y="0" font-size="35" text-anchor="middle" transform="translate(866.2 219.9) rotate(-90)">ΔR/R(0)</text>
<text x="0" y="0" font-size="35" text-anchor="middle" transform="translate(879.3 870.5) rotate(-90)">ΔR/R(0)</text>
<text x="0" y="0" font-size="35" text-anchor="middle" transform="translate(83.2 877.4) rotate(-90)">MR(%)</text>
<text x="628.5" y="428.6" font-size="34.5" text-anchor="start" >24 nm</text>
<text x="1422.9" y="411.5" font-size="34.5" text-anchor="start" >48 nm</text>
<text x="1430.8" y="1062.0" font-size="34.5" text-anchor="start" >100 nm</text>
<path d="M536.5 78.7H591.2" stroke="#0610dc" stroke-width="4"/>
<path d="M563.9 65.7l11.2 19.5h-22.5z" fill="#0a1af5" stroke="#000090" stroke-width="0.8"/>
<path d="M536.5 111.7H591.2" stroke="#30f012" stroke-width="4"/>
<path d="M563.9 124.7l11.2 -19.5h-22.5z" fill="#33ff11" stroke="#22aa00" stroke-width="0.8"/>
<path d="M536.5 145.0H591.2" stroke="#ee0a0a" stroke-width="4"/>
<circle cx="563.9" cy="145.0" r="9.4" fill="#ff0000" stroke="#b00000" stroke-width="0.8"/>
<text x="595.6" y="88.0" font-size="30" text-anchor="start" >T=0.05 K</text>
<text x="595.6" y="120.9" font-size="30" text-anchor="start" >T=0.70 K</text>
<text x="595.6" y="153.8" font-size="30" text-anchor="start" >T=1.10 K</text>
<path d="M507.2 710.6H606.8" stroke="#0610dc" stroke-width="4"/>
<path d="M557.0 697.1l11.7 20.3h-23.4z" fill="#0a1af5" stroke="#000090" stroke-width="0.8"/>
<path d="M507.2 743.4H606.8" stroke="#30f012" stroke-width="4"/>
<path d="M557.0 756.9l11.7 -20.3h-23.4z" fill="#33ff11" stroke="#22aa00" stroke-width="0.8"/>
<path d="M507.2 776.7H606.8" stroke="#ee0a0a" stroke-width="4"/>
<circle cx="557.0" cy="776.7" r="9.5" fill="#ff0000" stroke="#b00000" stroke-width="0.8"/>
<text x="611.0" y="719.3" font-size="30" text-anchor="start" >24x1k</text>
<text x="611.0" y="752.6" font-size="30" text-anchor="start" >48x1k</text>
<text x="611.0" y="785.8" font-size="30" text-anchor="start" >100x1k</text>
</svg>
</body></html>
